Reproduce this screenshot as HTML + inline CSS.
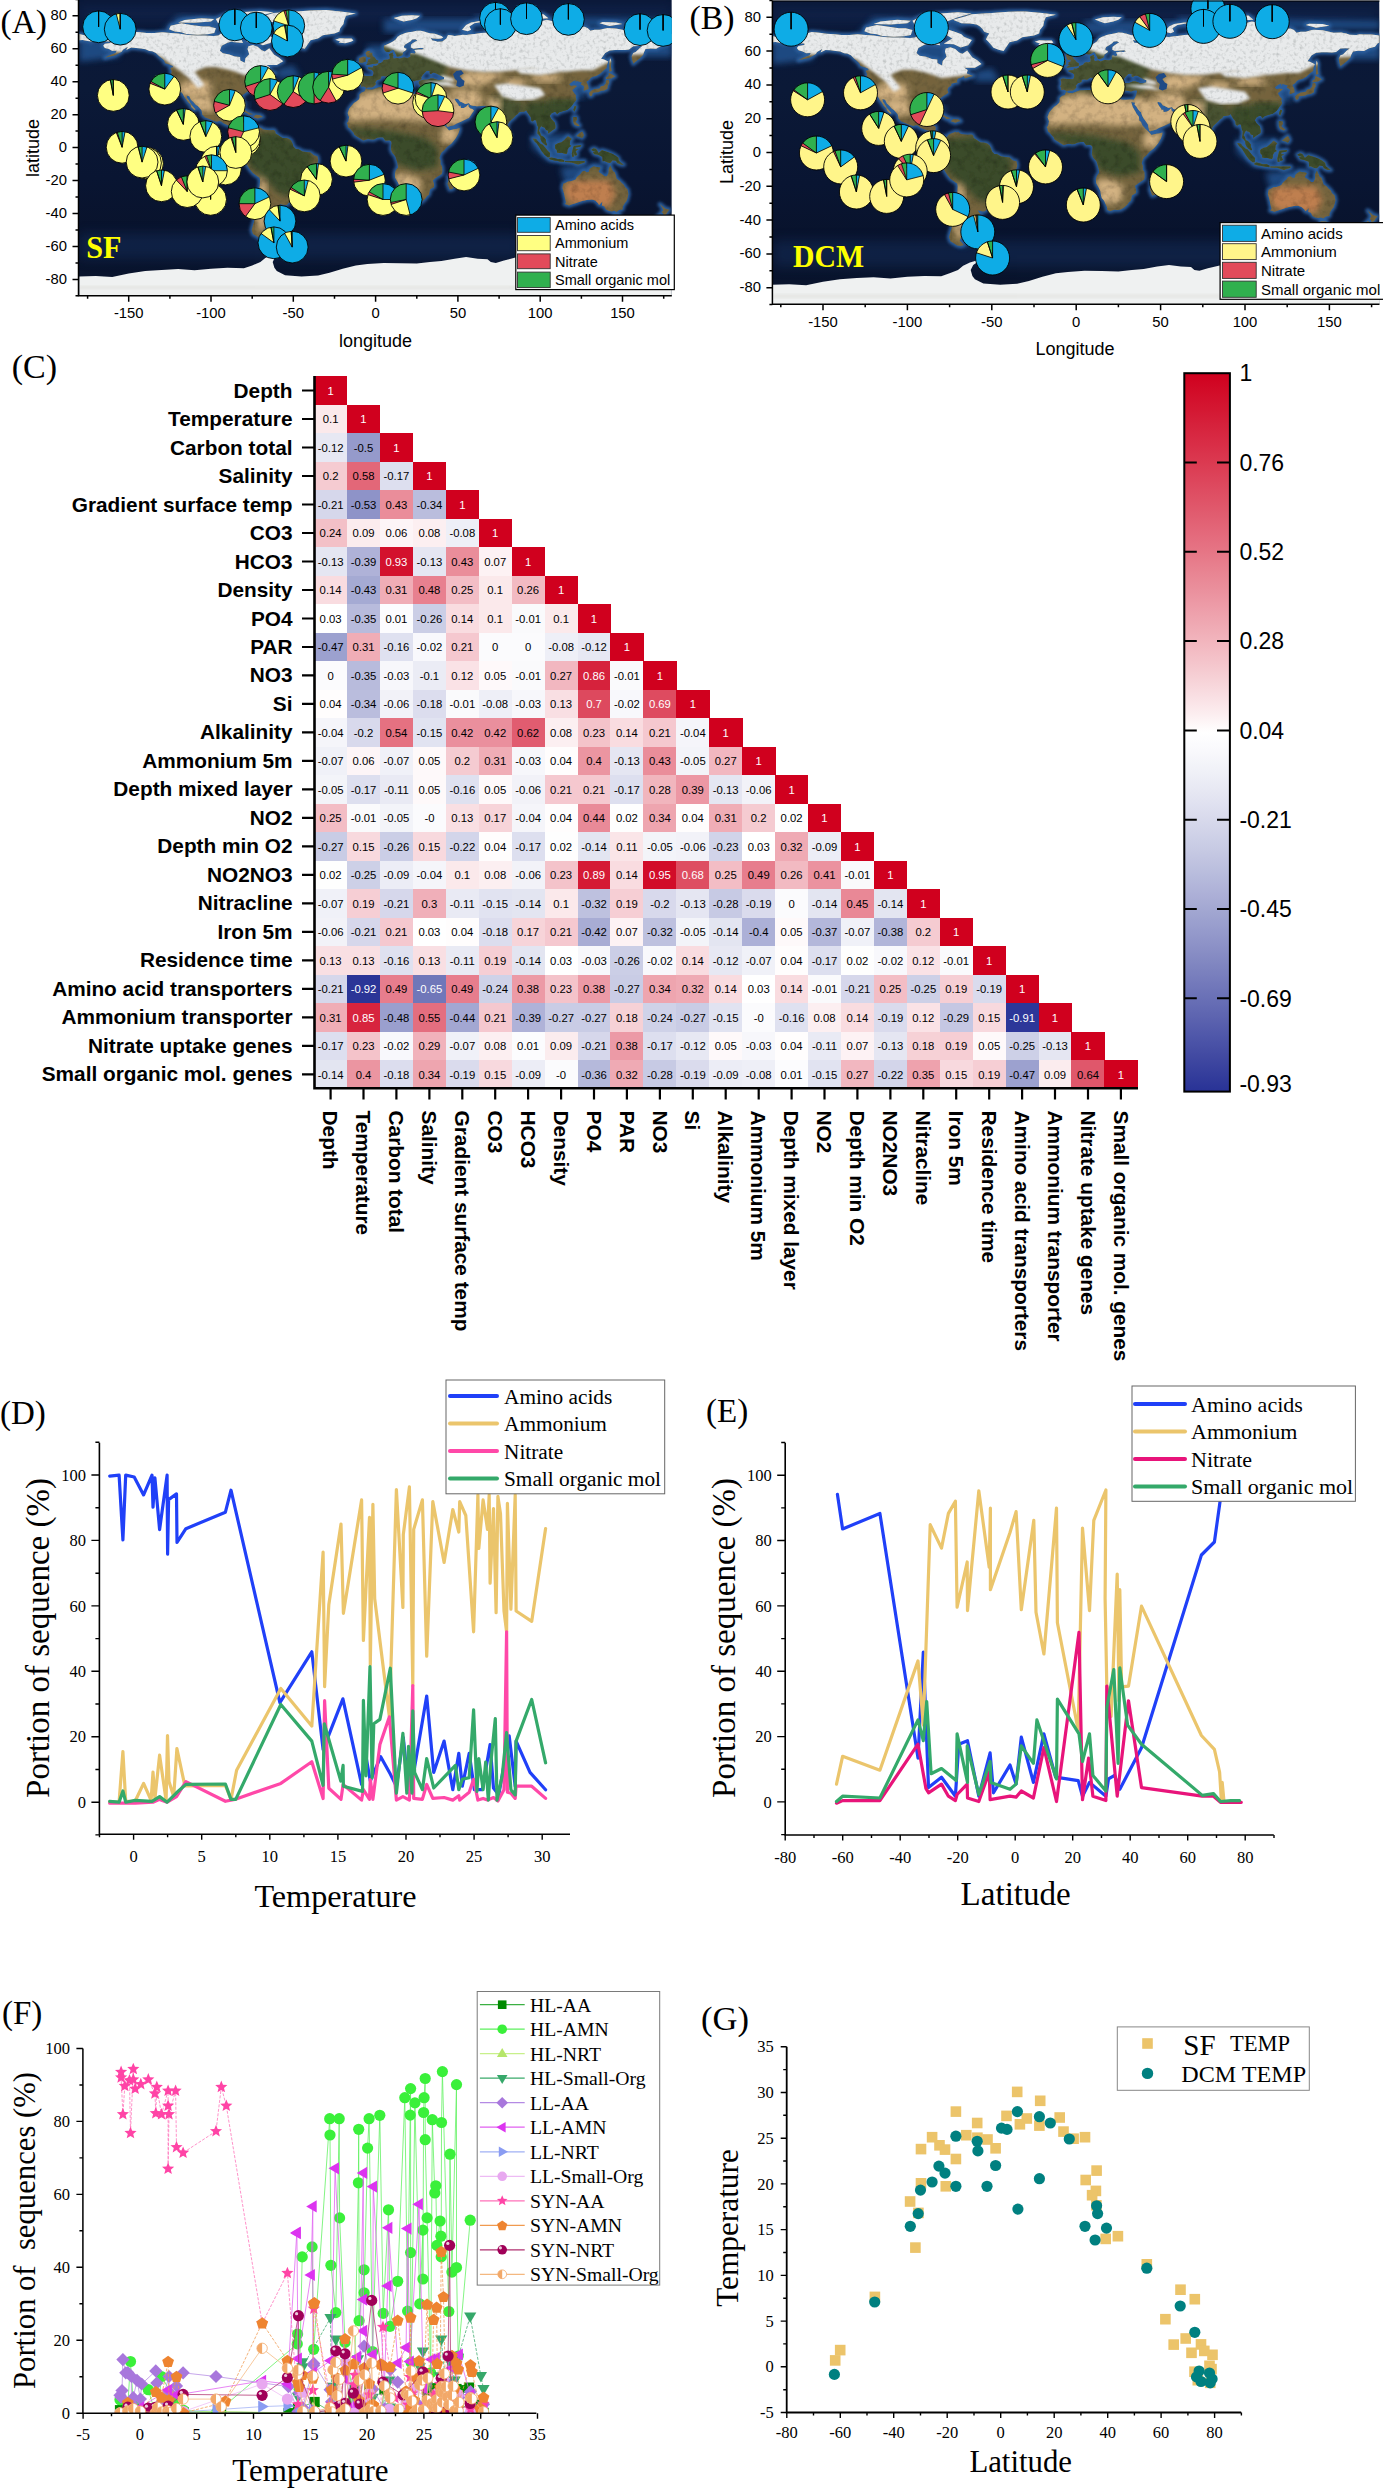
<!DOCTYPE html><html><head><meta charset="utf-8"><style>html,body{margin:0;padding:0;background:#fff;width:1383px;height:2488px;overflow:hidden}svg{display:block}</style></head><body><svg width="1383" height="2488" viewBox="0 0 1383 2488"><defs><filter id="blur2" x="-20%" y="-20%" width="140%" height="140%"><feGaussianBlur stdDeviation="1.5"/></filter><filter id="blur3" x="-20%" y="-20%" width="140%" height="140%"><feGaussianBlur stdDeviation="3"/></filter><filter id="blur6" x="-20%" y="-50%" width="140%" height="200%"><feGaussianBlur stdDeviation="6"/></filter><linearGradient id="oceanA" x1="0" y1="0" x2="0" y2="1"><stop offset="0" stop-color="#0a1838"/><stop offset="0.3" stop-color="#0b1937"/><stop offset="0.6" stop-color="#091532"/><stop offset="0.85" stop-color="#08122a"/><stop offset="1" stop-color="#0a1630"/></linearGradient><linearGradient id="oceanB" x1="0" y1="0" x2="0" y2="1"><stop offset="0" stop-color="#0a1838"/><stop offset="0.3" stop-color="#0b1937"/><stop offset="0.6" stop-color="#091532"/><stop offset="0.85" stop-color="#08122a"/><stop offset="1" stop-color="#0a1630"/></linearGradient><filter id="texA" x="0" y="0" width="100%" height="100%"><feTurbulence type="fractalNoise" baseFrequency="0.14" numOctaves="3" seed="3" result="n"/><feColorMatrix in="n" type="matrix" values="0 0 0 0 0  0 0 0 0 0  0 0 0 0 0  0 0 0 -0.8 0.46" result="na"/><feComposite in="na" in2="SourceGraphic" operator="in" result="nm"/><feBlend in="SourceGraphic" in2="nm" mode="multiply"/></filter><filter id="texB" x="0" y="0" width="100%" height="100%"><feTurbulence type="fractalNoise" baseFrequency="0.14" numOctaves="3" seed="5" result="n"/><feColorMatrix in="n" type="matrix" values="0 0 0 0 0  0 0 0 0 0  0 0 0 0 0  0 0 0 -0.8 0.46" result="na"/><feComposite in="na" in2="SourceGraphic" operator="in" result="nm"/><feBlend in="SourceGraphic" in2="nm" mode="multiply"/></filter><filter id="stexA" x="0" y="0" width="100%" height="100%"><feTurbulence type="fractalNoise" baseFrequency="0.3" numOctaves="2" seed="9" result="n"/><feColorMatrix in="n" type="matrix" values="0 0 0 0 0.25  0 0 0 0 0.28  0 0 0 0 0.28  0 0 0 -1.2 0.62" result="na"/><feComposite in="na" in2="SourceGraphic" operator="in" result="nm"/><feMerge><feMergeNode in="SourceGraphic"/><feMergeNode in="nm"/></feMerge></filter><filter id="stexB" x="0" y="0" width="100%" height="100%"><feTurbulence type="fractalNoise" baseFrequency="0.3" numOctaves="2" seed="9" result="n"/><feColorMatrix in="n" type="matrix" values="0 0 0 0 0.25  0 0 0 0 0.28  0 0 0 0 0.28  0 0 0 -1.2 0.62" result="na"/><feComposite in="na" in2="SourceGraphic" operator="in" result="nm"/><feMerge><feMergeNode in="SourceGraphic"/><feMergeNode in="nm"/></feMerge></filter></defs><clipPath id="mcA"><rect x="78.5" y="0" width="593.3" height="295.8"/></clipPath><clipPath id="lcA"><path d="M98.9,39.6L102.2,38.6L108.9,37.9L106.1,36.3L102.0,35.1L107.0,33.3L112.2,31.5L117.8,30.2L125.4,31.0L132.0,31.8L140.2,32.3L146.8,33.1L154.2,33.0L162.4,32.3L170.7,33.0L178.1,33.5L188.0,34.9L196.2,35.4L204.4,35.6L213.5,35.9L218.4,35.4L221.7,33.1L226.6,34.0L230.8,35.1L234.9,33.1L241.5,33.6L241.5,36.9L236.5,38.1L233.2,40.9L227.5,42.7L221.7,45.8L219.9,50.8L222.9,53.2L229.3,54.4L234.9,56.5L240.1,56.9L240.3,60.5L244.7,62.8L245.4,58.3L249.2,54.2L247.5,49.1L248.4,46.3L253.0,45.0L257.7,46.8L261.4,50.1L264.8,51.4L269.3,48.3L274.2,54.7L279.1,57.7L283.3,61.3L276.8,64.9L266.5,65.1L269.8,67.2L268.9,70.5L275.2,73.0L271.1,74.1L267.0,75.5L266.1,73.2L264.5,74.3L260.1,75.8L259.2,78.4L260.4,79.1L254.5,80.2L253.8,80.9L253.8,82.5L251.3,83.7L250.5,85.2L250.0,86.7L251.0,89.1L249.7,90.3L247.2,91.8L245.1,93.2L242.3,95.2L241.8,98.2L243.1,101.0L243.9,103.6L243.3,106.1L241.9,105.9L241.0,103.8L239.5,101.5L239.5,99.5L237.3,98.2L234.9,98.7L233.1,97.5L229.9,97.5L228.3,97.9L228.8,99.5L225.8,99.3L222.5,98.5L220.1,99.0L216.8,101.2L215.3,102.6L215.6,104.9L214.8,108.1L214.6,110.9L215.6,113.8L217.1,116.0L219.2,117.1L220.9,117.6L224.2,117.0L225.8,116.3L226.6,113.8L227.0,113.0L230.8,112.2L232.4,112.4L231.6,115.0L231.1,117.5L230.3,120.6L234.0,121.4L237.3,121.6L238.7,123.1L238.2,127.5L237.7,129.5L239.3,131.5L241.6,133.1L243.9,132.3L246.4,132.1L248.4,133.6L247.5,135.4L246.6,134.1L243.8,135.4L241.5,134.9L239.1,134.1L236.5,131.8L234.5,131.3L234.2,129.2L231.9,126.4L229.9,125.9L226.6,124.7L223.8,123.6L221.2,121.4L219.2,121.1L216.8,121.7L213.5,120.8L209.4,119.1L205.2,117.5L202.3,114.7L201.9,112.0L201.5,110.2L197.8,106.1L195.7,104.8L193.6,102.3L190.9,99.8L189.3,96.2L186.6,95.4L187.0,97.9L188.8,100.3L190.9,104.0L194.0,107.7L195.5,109.4L194.4,109.9L191.1,106.9L190.6,104.6L187.6,101.8L186.1,99.2L184.2,96.7L182.9,94.1L180.7,91.6L177.1,90.6L175.1,87.5L174.0,85.7L172.0,83.4L171.0,81.1L171.3,78.4L170.7,76.8L171.7,71.3L170.3,67.9L173.1,67.1L172.8,65.9L169.4,64.6L165.2,63.3L164.1,60.6L161.3,58.0L159.2,56.2L155.9,52.9L152.2,51.3L149.3,50.9L145.5,49.3L141.0,48.6L136.1,48.0L131.2,47.6L126.2,50.1L127.9,46.8L122.9,49.8L121.8,51.7L118.0,53.7L114.7,55.4L109.8,56.5L104.8,57.7L108.9,55.5L115.5,52.9L116.7,50.8L112.2,50.9L108.9,49.1L104.8,48.0L103.2,45.8L104.8,43.8L110.6,42.9L110.6,41.4L104.0,41.2L101.0,40.1ZM248.4,133.6L250.0,132.0L251.3,130.1L253.5,129.2L256.3,128.0L258.2,127.3L257.7,129.5L257.3,128.7L260.5,127.5L263.2,129.6L267.0,130.1L269.9,130.3L273.5,130.0L275.2,131.1L275.5,133.6L277.7,134.8L280.1,136.4L282.6,137.9L286.7,138.0L289.2,139.0L291.2,140.7L292.8,144.3L293.3,146.4L295.8,148.9L298.2,148.9L302.4,151.4L306.5,152.0L310.6,152.5L313.9,155.3L317.3,156.2L318.2,160.0L317.5,162.9L314.4,166.5L312.2,169.3L311.4,173.1L310.7,176.9L309.8,180.4L308.1,183.5L306.5,185.3L302.4,185.8L299.1,187.1L296.3,189.6L295.6,194.0L293.5,196.8L291.5,199.5L289.0,202.4L286.7,204.9L284.2,205.1L281.8,204.4L279.5,204.1L281.4,206.6L282.1,208.4L280.5,210.7L277.7,211.5L273.2,211.5L273.1,214.6L268.6,215.1L268.1,218.4L267.8,221.7L264.5,223.9L267.3,226.3L264.0,229.6L262.8,231.6L262.0,233.6L263.0,234.2L266.1,237.7L263.2,238.7L259.6,238.2L256.3,236.0L253.0,234.1L251.7,229.9L253.0,225.0L254.1,221.7L254.6,217.6L254.3,212.7L254.9,208.5L257.1,202.8L257.7,197.8L258.2,192.9L259.7,186.3L260.1,180.5L259.6,177.7L256.3,175.6L253.0,173.1L250.2,169.8L247.5,165.7L244.7,160.3L241.9,157.5L241.9,154.7L243.9,152.0L242.4,149.4L243.9,146.8L245.6,145.1L247.4,143.0L248.2,141.0L248.4,137.7L247.5,135.4ZM365.9,88.6L368.2,89.6L372.0,89.8L375.6,88.5L378.9,87.3L383.8,87.0L389.8,86.8L392.4,86.3L393.9,87.0L392.9,88.3L393.7,89.6L392.4,91.3L394.2,93.1L396.2,93.6L400.6,94.4L402.9,96.2L406.7,97.5L408.5,96.7L408.7,94.6L411.0,93.6L414.3,94.1L417.1,95.6L420.9,96.2L424.5,96.2L428.6,96.0L431.9,96.2L433.0,99.0L429.3,98.4L430.7,103.1L433.2,107.7L434.2,109.6L436.8,113.0L437.0,116.3L438.8,118.0L440.3,121.4L443.4,124.7L445.7,126.8L446.9,128.0L449.0,130.5L453.8,129.3L456.3,129.0L459.7,128.0L459.5,130.3L458.2,133.9L455.6,138.5L453.8,140.7L451.3,143.8L447.2,146.8L443.9,150.6L441.6,152.5L440.1,155.3L439.5,158.3L440.6,160.8L440.5,164.1L442.1,166.5L442.4,171.0L441.8,174.0L437.3,176.8L434.7,178.7L432.9,180.4L434.0,183.8L434.0,187.1L429.9,189.4L429.8,190.8L428.9,194.7L427.1,196.0L425.1,198.8L422.0,201.5L419.1,203.1L416.3,203.6L412.8,203.4L408.5,204.9L405.9,203.8L405.6,200.8L404.1,197.5L402.8,194.7L400.6,192.2L399.8,189.4L399.3,185.3L397.7,182.0L395.0,177.4L394.9,173.6L395.8,170.3L398.0,167.4L397.5,163.2L395.8,157.6L395.2,156.0L392.1,152.4L390.9,149.2L391.2,146.0L391.7,143.0L391.2,141.3L389.6,140.2L387.1,140.4L385.3,140.5L383.0,137.2L380.0,137.2L377.2,137.7L374.0,139.4L371.8,139.5L367.9,139.0L363.3,140.4L360.3,138.5L356.8,136.4L354.4,134.8L353.7,132.8L351.2,130.0L349.9,128.5L348.1,127.2L347.5,123.9L346.8,123.4L348.4,120.9L349.1,117.1L348.4,115.5L347.6,113.0L349.3,108.6L351.2,106.3L353.9,103.1L356.7,101.3L359.1,99.2L359.6,97.4L359.5,94.4L361.6,92.6L364.4,91.4ZM366.4,88.1L365.1,87.0L363.4,86.3L361.0,86.7L361.1,83.9L360.0,83.7L361.0,81.4L361.1,78.6L360.3,76.8L362.4,75.6L366.5,76.0L372.6,76.1L373.6,74.0L373.6,71.7L372.0,70.0L368.2,68.7L368.0,67.6L373.0,67.4L373.3,65.7L375.8,66.1L378.1,64.9L378.4,63.6L380.9,62.9L382.7,61.8L383.5,60.3L385.3,59.7L387.5,59.8L389.8,58.8L389.8,56.4L389.1,54.2L391.7,52.9L393.0,52.6L392.6,54.5L393.5,54.9L392.9,57.0L393.7,58.7L397.0,58.0L399.5,58.8L403.6,57.5L407.7,58.0L410.5,56.7L410.3,54.1L411.2,52.9L414.3,53.7L415.6,52.9L415.3,51.6L414.3,50.1L418.4,49.4L421.7,49.6L424.2,48.9L422.5,48.0L419.2,48.1L413.3,48.8L410.8,47.5L411.0,44.7L412.6,43.3L415.9,41.2L417.4,40.4L415.4,39.2L412.1,39.4L410.7,41.2L407.7,43.0L404.9,44.7L403.9,46.6L404.4,48.0L406.5,48.8L406.1,50.1L403.1,52.2L402.6,54.4L401.8,55.2L399.3,56.2L396.8,56.4L396.3,54.9L395.2,52.7L394.0,50.3L392.7,49.8L391.1,50.6L388.9,51.9L386.5,51.9L384.8,50.6L384.0,48.8L383.8,47.1L384.2,45.5L386.3,44.7L389.6,43.2L392.9,41.4L395.7,39.4L397.8,36.4L400.3,35.1L402.8,34.0L405.2,33.0L408.5,32.3L412.6,31.7L416.8,30.7L420.9,30.8L425.0,31.8L427.0,32.6L429.9,33.3L434.9,33.8L441.4,35.9L443.3,37.6L441.4,38.6L438.1,38.7L433.2,38.6L430.7,37.9L432.4,40.5L435.7,40.9L437.3,41.7L442.3,41.4L446.4,38.4L448.0,34.9L451.3,35.3L454.6,36.1L462.8,34.8L466.1,34.9L471.1,34.3L474.4,34.0L480.9,33.1L485.9,32.8L488.4,35.1L485.9,31.5L488.8,28.0L495.4,27.7L494.8,30.3L494.9,33.1L497.4,35.6L499.1,32.3L497.1,29.8L499.9,28.5L505.6,28.5L508.9,26.5L518.0,24.9L518.8,23.7L527.0,22.8L538.6,22.1L546.8,19.8L551.7,20.9L560.0,22.1L562.4,26.4L568.2,26.4L578.1,27.4L584.6,26.7L587.9,28.2L590.4,30.8L594.5,29.8L599.5,29.8L605.2,28.4L607.7,28.0L615.9,28.5L622.5,29.8L626.6,31.0L634.0,30.7L639.0,31.5L642.3,32.8L648.8,33.0L652.1,32.3L656.2,32.6L663.7,32.5L669.7,33.3L671.9,34.1L671.9,40.2L669.4,41.4L666.9,44.5L661.2,46.0L656.2,48.8L650.5,48.5L645.5,49.1L643.9,52.4L643.1,55.0L639.8,58.3L636.5,61.1L633.4,63.6L632.2,60.3L631.6,56.2L633.2,52.9L635.7,52.1L639.8,48.0L642.3,46.1L638.1,46.0L633.2,46.3L629.1,49.6L625.0,50.1L620.0,49.9L615.1,49.9L609.7,50.4L605.2,52.9L601.1,58.7L603.6,59.2L608.3,61.6L606.9,65.2L606.7,68.0L603.6,70.4L600.3,73.6L596.2,76.0L592.7,76.8L590.7,77.9L589.1,80.1L586.3,81.7L588.3,85.8L588.6,89.1L584.6,90.6L583.7,90.8L583.8,88.5L584.3,86.7L583.0,85.5L580.9,84.5L581.8,82.4L580.2,81.9L576.7,80.9L575.3,82.7L575.8,80.2L573.1,81.2L570.7,83.0L569.2,84.2L571.1,86.0L574.3,85.3L577.2,86.0L574.8,88.0L572.3,90.0L573.9,92.8L576.2,95.4L575.6,97.2L576.4,99.3L575.6,101.0L573.9,102.8L572.3,105.1L570.7,107.1L567.4,109.7L563.2,110.9L559.1,112.2L557.0,114.2L556.3,112.2L554.2,111.9L551.2,113.5L549.7,116.1L551.4,119.1L554.7,122.4L555.5,126.2L555.3,128.5L552.5,130.3L550.9,131.6L548.1,133.4L548.1,130.8L546.0,130.1L544.5,127.5L541.7,126.7L541.7,125.5L540.2,127.5L538.9,130.8L540.0,132.4L541.0,135.6L543.0,136.4L544.3,137.7L545.8,139.7L545.8,141.8L547.1,145.1L546.0,145.5L543.5,143.6L541.8,141.8L540.7,139.4L540.5,136.9L538.6,134.6L537.4,133.6L537.7,130.3L538.1,127.0L537.2,125.4L536.2,120.4L534.4,120.1L532.6,121.6L531.1,120.4L530.8,117.1L529.5,115.5L527.9,113.0L527.0,111.7L526.2,110.2L524.6,111.4L522.1,111.7L518.8,112.2L518.0,113.8L515.5,115.5L513.9,117.5L510.9,120.1L508.9,122.1L507.6,124.9L507.4,127.8L507.0,130.6L504.8,132.9L503.2,134.3L501.7,132.9L500.7,130.3L499.9,128.0L498.4,123.7L496.6,121.2L495.4,116.3L495.1,112.2L491.6,113.3L489.2,110.9L491.1,110.0L488.4,108.9L486.7,108.1L485.4,105.8L481.8,106.1L476.8,106.3L473.5,105.8L470.2,105.1L469.1,103.1L467.0,103.6L465.3,104.0L462.0,102.3L460.0,101.5L458.2,99.0L455.6,98.4L454.6,99.0L455.4,100.7L457.1,103.1L458.2,104.4L459.1,106.4L460.4,105.6L460.9,108.1L463.7,107.9L466.1,106.8L468.3,104.4L468.4,106.6L470.2,108.4L472.4,109.1L474.0,110.5L471.9,113.5L470.7,115.5L468.9,118.0L466.6,119.1L461.5,121.6L456.3,123.7L453.8,125.2L450.5,126.0L448.0,126.8L446.9,126.5L446.0,123.2L445.6,120.4L443.4,117.1L441.1,113.8L439.8,111.4L439.0,108.4L437.3,107.2L435.8,105.1L434.0,102.3L432.6,101.2L433.0,99.0L431.9,96.2L433.0,94.1L434.0,91.8L434.7,89.3L435.0,87.3L432.6,87.0L429.1,88.1L425.8,87.5L422.0,87.2L420.5,85.8L419.1,84.0L418.7,82.5L419.5,81.1L423.5,79.7L427.4,79.7L430.7,78.4L433.5,78.4L438.6,80.2L443.9,79.2L444.1,77.3L441.3,76.1L438.5,74.5L436.0,73.2L433.2,72.5L430.7,74.1L429.3,72.8L430.9,71.8L427.8,70.8L426.3,71.0L424.3,73.0L422.8,74.8L421.0,77.6L421.7,79.1L418.9,80.2L415.9,80.2L414.6,81.2L413.0,81.1L412.8,83.4L414.0,85.0L413.1,86.2L411.2,87.0L410.3,84.7L408.8,82.4L407.5,81.2L407.7,78.9L405.9,77.6L401.9,76.0L400.6,74.6L399.0,73.2L398.0,73.3L395.8,73.0L396.0,74.8L398.0,75.8L399.5,78.1L401.9,79.4L404.4,80.4L406.1,81.4L403.9,82.7L403.7,83.5L402.9,84.4L401.4,85.0L401.8,82.5L400.1,81.4L398.6,80.4L395.7,78.9L394.0,77.8L392.9,76.8L391.6,75.0L389.6,74.6L387.9,75.5L386.3,76.6L383.2,76.1L380.7,76.6L380.9,78.6L379.1,79.6L376.9,80.1L375.1,82.5L375.9,83.9L374.4,85.7L372.1,87.2L368.4,87.2ZM79.3,34.1L84.3,35.3L89.2,37.3L93.3,37.4L96.1,38.7L94.1,39.9L91.7,41.4L87.6,40.9L82.6,40.1L79.3,40.2ZM255.4,18.3L267.0,15.0L273.5,12.9L293.3,11.7L309.8,10.4L326.2,10.1L342.7,11.7L355.8,13.4L346.0,15.8L344.3,20.0L343.5,24.1L340.2,28.2L339.4,31.5L334.5,33.5L322.9,35.3L318.0,38.4L310.6,40.2L308.1,43.8L304.8,48.8L299.9,47.5L294.9,45.5L292.5,42.5L290.0,39.7L287.5,37.3L289.2,34.0L290.8,31.5L285.9,29.8L284.2,27.4L281.8,24.9L278.5,22.8L271.9,21.9L263.7,21.6L259.6,20.0ZM273.9,37.9L270.3,43.0L262.8,45.2L256.3,42.2L246.4,41.7L254.6,36.4L248.0,32.3L235.7,32.3L227.5,29.0L234.9,26.5L243.9,26.2L250.5,27.7L257.1,29.8L263.7,32.3L266.1,34.8ZM243.9,24.9L224.2,24.9L217.6,22.4L215.9,19.1L224.2,15.0L235.7,12.5L260.4,10.9L273.5,12.2L260.4,15.8L253.8,18.3L247.2,20.8L243.9,22.1ZM169.0,29.3L170.7,25.7L181.4,23.3L191.2,24.9L202.8,26.5L209.4,26.5L215.9,28.2L214.3,33.1L207.7,34.3L197.8,34.8L186.3,34.0L181.4,32.3L174.8,31.5ZM178.1,22.4L184.7,20.0L201.1,18.3L214.3,19.1L211.0,21.6L194.5,22.8ZM232.4,41.9L243.1,43.0L241.5,39.7L234.0,38.6ZM335.3,39.7L339.4,38.2L346.0,38.6L351.7,38.4L353.4,40.4L350.9,41.7L345.1,43.2L338.6,42.5L340.2,41.4ZM393.7,18.0L401.9,15.8L411.8,15.3L420.0,15.8L416.8,18.3L411.8,20.0L403.6,21.6L398.6,20.0ZM462.0,29.8L467.8,31.3L471.1,29.8L469.4,26.5L474.4,23.3L487.5,21.1L480.9,20.8L471.1,22.4L466.1,24.9ZM532.0,17.5L540.2,18.8L548.4,18.3L543.5,14.2L533.6,15.0ZM599.5,23.3L609.3,26.1L622.5,24.1L615.9,22.4L602.7,22.1ZM366.2,65.1L370.7,64.3L377.9,63.3L378.4,60.8L376.1,59.7L374.8,57.8L372.6,56.0L372.1,53.4L372.6,52.7L369.0,52.7L370.7,51.1L367.4,51.1L365.4,52.9L366.4,54.9L366.5,56.2L367.7,57.3L370.3,57.2L370.2,58.8L367.9,59.8L368.5,61.1L367.0,62.3L370.2,62.9L367.4,63.6ZM365.7,61.6L365.6,58.8L365.9,57.0L363.3,56.5L359.1,58.3L358.8,62.6L362.4,62.8ZM589.9,96.2L592.0,95.7L592.9,92.8L595.3,92.6L598.3,92.3L600.8,91.1L604.4,90.4L607.4,88.8L607.7,85.8L609.3,82.5L608.5,79.6L606.0,80.4L605.7,83.4L603.6,85.8L600.8,86.2L599.5,88.5L594.5,89.1L591.2,90.8L588.9,92.9ZM606.0,79.2L608.0,78.8L611.5,78.4L615.1,76.3L612.6,74.8L608.8,72.8L608.5,76.0L606.0,77.6ZM609.3,71.8L611.8,71.0L611.0,66.9L611.3,61.1L610.2,58.2L609.3,62.0L609.3,66.9ZM573.3,109.7L574.8,105.9L576.4,106.4L575.6,108.9L574.4,111.5ZM573.1,117.1L576.7,117.1L577.2,119.6L575.6,122.1L579.7,125.4L578.1,126.2L574.8,124.9L573.9,123.7L573.1,121.2ZM576.4,136.1L579.7,133.1L582.2,131.5L584.0,135.2L582.2,138.0L579.7,136.9ZM555.0,145.1L556.2,144.3L558.6,143.0L561.6,142.3L564.4,139.9L565.7,138.5L567.9,136.2L569.3,136.9L571.8,138.9L570.2,140.4L569.7,144.6L571.3,146.1L568.8,147.4L567.4,149.7L567.4,152.0L566.5,153.9L564.1,153.5L561.6,152.7L559.3,152.9L557.0,152.4L556.8,150.1L555.2,148.4ZM532.5,138.4L536.1,139.0L537.7,141.2L541.0,144.3L542.7,144.8L546.3,148.9L547.6,150.7L550.1,152.9L549.7,157.2L547.6,157.2L544.3,154.5L541.8,151.2L540.5,148.9L538.6,146.0L536.9,143.5L534.4,141.3ZM548.8,158.8L550.9,157.5L553.9,158.0L557.5,159.0L561.1,159.0L564.1,160.3L564.1,161.9L560.0,161.4L555.0,160.4L550.9,159.8ZM564.9,161.1L571.5,161.1L578.1,161.1L584.6,161.1L584.6,162.4L578.1,164.6L571.5,162.4L564.9,162.1ZM572.1,156.7L571.8,153.4L573.1,147.6L573.9,146.0L581.4,145.1L580.5,146.8L575.6,147.6L575.6,149.2L578.6,149.2L575.6,150.9L577.2,155.0L574.8,155.8L573.6,152.2L573.9,156.7ZM591.2,149.7L593.7,148.3L596.2,149.1L598.6,153.0L601.9,150.2L607.7,151.9L612.6,154.0L615.6,155.7L618.4,157.8L618.7,160.8L621.7,163.2L623.8,164.7L620.9,164.6L617.6,163.2L615.9,160.8L612.6,160.3L611.5,161.6L610.2,162.9L607.7,162.6L604.4,160.9L602.7,161.3L602.4,156.7L597.8,154.8L594.5,154.2L592.9,152.2L595.7,151.6L593.4,151.2ZM563.2,183.8L562.4,188.0L564.1,193.7L564.9,197.8L566.0,202.4L564.9,204.1L569.0,205.4L572.3,204.3L575.6,203.3L579.7,201.8L583.0,200.8L587.9,199.8L592.0,199.5L595.3,200.6L597.8,202.9L599.1,204.9L601.1,203.1L602.4,201.6L601.9,205.6L604.4,206.4L606.0,209.4L608.5,210.8L611.8,211.5L614.3,210.8L616.4,212.0L619.2,209.9L622.5,209.4L622.8,206.6L624.6,203.4L626.6,201.0L627.6,197.8L628.4,194.2L627.6,189.6L625.0,187.1L623.8,184.7L621.3,182.5L620.0,180.9L616.7,178.7L615.9,175.6L614.8,172.3L613.0,171.2L611.8,168.7L610.3,165.4L608.7,168.7L608.5,173.1L606.9,176.3L604.7,176.3L601.9,174.0L599.1,172.3L598.6,171.2L600.6,167.9L599.1,167.2L595.3,166.7L593.7,166.2L591.2,167.7L589.6,169.0L588.6,172.1L586.6,172.3L584.6,170.7L582.2,171.5L580.5,174.0L578.6,175.6L576.7,177.2L575.6,179.4L573.1,180.5L570.7,181.2L567.9,181.5L565.7,182.7ZM613.8,214.6L619.7,215.0L619.2,218.8L615.9,219.4L614.3,216.8ZM659.9,204.3L662.8,206.6L665.0,208.5L669.4,209.7L667.8,211.8L666.1,214.3L663.7,216.0L663.0,213.2L661.7,212.2L663.3,210.2L662.3,207.7ZM659.9,214.3L662.5,216.1L660.7,218.9L657.6,220.9L656.2,223.2L653.8,224.4L649.7,223.4L650.5,221.7L653.0,220.1L656.2,218.1L658.7,215.6ZM456.7,167.4L458.7,173.1L457.1,176.4L454.6,183.8L453.0,188.8L449.7,189.6L447.5,183.8L448.5,180.5L448.0,176.4L451.3,173.6L454.6,169.8ZM507.0,134.1L507.6,131.5L509.4,133.6L510.2,135.7L508.3,137.9L507.1,136.4ZM235.7,111.5L239.0,109.9L241.5,109.4L245.6,110.5L248.0,112.2L251.3,113.5L253.5,114.3L248.9,114.8L247.7,113.5L244.7,112.0L241.5,111.0L238.2,111.0ZM253.1,117.1L255.8,114.8L260.4,115.2L263.0,117.0L260.4,117.6L257.9,118.6Z"/></clipPath><g clip-path="url(#mcA)"><rect x="78.5" y="0" width="593.3" height="295.8" fill="url(#oceanA)"/><rect x="78.5" y="233.2" width="593.3" height="26.4" fill="#1d3d74" opacity="0.35" filter="url(#blur6)"/><rect x="78.5" y="5.4" width="593.3" height="16.5" fill="#1a3468" opacity="0.3" filter="url(#blur6)"/><path d="M219.2,38.9L252.2,38.9L250.5,62.0L219.2,62.0Z" fill="#24528f" opacity="0.85" filter="url(#blur3)"/><path d="M532.0,134.4L573.1,134.4L569.8,160.8L548.4,160.8L532.0,147.6Z" fill="#24528f" opacity="0.85" filter="url(#blur3)"/><path d="M260.4,208.5L285.1,208.5L280.1,233.2L263.7,239.8L260.4,229.9Z" fill="#24528f" opacity="0.85" filter="url(#blur3)"/><path d="M474.4,27.4L671.9,27.4L671.9,19.1L474.4,15.8Z" fill="#24528f" opacity="0.85" filter="url(#blur3)"/><path d="M367.4,65.2L392.1,65.2L392.1,45.5L367.4,45.5Z" fill="#24528f" opacity="0.85" filter="url(#blur3)"/><path d="M79.3,62.0L120.5,57.0L104.0,38.9L79.3,38.9Z" fill="#24528f" opacity="0.85" filter="url(#blur3)"/><path d="M630.7,57.0L671.9,57.0L671.9,38.9L647.2,38.9Z" fill="#24528f" opacity="0.85" filter="url(#blur3)"/><path d="M560.0,167.4L606.0,162.4L609.3,167.4L581.4,175.6L564.9,183.8Z" fill="#24528f" opacity="0.85" filter="url(#blur3)"/><path d="M569.8,98.2L584.6,98.2L584.6,80.1L569.8,80.1Z" fill="#24528f" opacity="0.85" filter="url(#blur3)"/><path d="M243.9,113.0L250.5,103.1L243.9,103.1Z" fill="#24528f" opacity="0.85" filter="url(#blur3)"/><path d="M276.8,78.4L301.5,78.4L293.3,65.2L276.8,68.5Z" fill="#24528f" opacity="0.85" filter="url(#blur3)"/><path d="M161.6,32.3L252.2,32.3L276.8,19.1L178.1,15.8Z" fill="#24528f" opacity="0.85" filter="url(#blur3)"/><path d="M383.8,32.3L474.4,32.3L474.4,19.1L383.8,19.1Z" fill="#24528f" opacity="0.85" filter="url(#blur3)"/><path d="M98.9,39.6L102.2,38.6L108.9,37.9L106.1,36.3L102.0,35.1L107.0,33.3L112.2,31.5L117.8,30.2L125.4,31.0L132.0,31.8L140.2,32.3L146.8,33.1L154.2,33.0L162.4,32.3L170.7,33.0L178.1,33.5L188.0,34.9L196.2,35.4L204.4,35.6L213.5,35.9L218.4,35.4L221.7,33.1L226.6,34.0L230.8,35.1L234.9,33.1L241.5,33.6L241.5,36.9L236.5,38.1L233.2,40.9L227.5,42.7L221.7,45.8L219.9,50.8L222.9,53.2L229.3,54.4L234.9,56.5L240.1,56.9L240.3,60.5L244.7,62.8L245.4,58.3L249.2,54.2L247.5,49.1L248.4,46.3L253.0,45.0L257.7,46.8L261.4,50.1L264.8,51.4L269.3,48.3L274.2,54.7L279.1,57.7L283.3,61.3L276.8,64.9L266.5,65.1L269.8,67.2L268.9,70.5L275.2,73.0L271.1,74.1L267.0,75.5L266.1,73.2L264.5,74.3L260.1,75.8L259.2,78.4L260.4,79.1L254.5,80.2L253.8,80.9L253.8,82.5L251.3,83.7L250.5,85.2L250.0,86.7L251.0,89.1L249.7,90.3L247.2,91.8L245.1,93.2L242.3,95.2L241.8,98.2L243.1,101.0L243.9,103.6L243.3,106.1L241.9,105.9L241.0,103.8L239.5,101.5L239.5,99.5L237.3,98.2L234.9,98.7L233.1,97.5L229.9,97.5L228.3,97.9L228.8,99.5L225.8,99.3L222.5,98.5L220.1,99.0L216.8,101.2L215.3,102.6L215.6,104.9L214.8,108.1L214.6,110.9L215.6,113.8L217.1,116.0L219.2,117.1L220.9,117.6L224.2,117.0L225.8,116.3L226.6,113.8L227.0,113.0L230.8,112.2L232.4,112.4L231.6,115.0L231.1,117.5L230.3,120.6L234.0,121.4L237.3,121.6L238.7,123.1L238.2,127.5L237.7,129.5L239.3,131.5L241.6,133.1L243.9,132.3L246.4,132.1L248.4,133.6L247.5,135.4L246.6,134.1L243.8,135.4L241.5,134.9L239.1,134.1L236.5,131.8L234.5,131.3L234.2,129.2L231.9,126.4L229.9,125.9L226.6,124.7L223.8,123.6L221.2,121.4L219.2,121.1L216.8,121.7L213.5,120.8L209.4,119.1L205.2,117.5L202.3,114.7L201.9,112.0L201.5,110.2L197.8,106.1L195.7,104.8L193.6,102.3L190.9,99.8L189.3,96.2L186.6,95.4L187.0,97.9L188.8,100.3L190.9,104.0L194.0,107.7L195.5,109.4L194.4,109.9L191.1,106.9L190.6,104.6L187.6,101.8L186.1,99.2L184.2,96.7L182.9,94.1L180.7,91.6L177.1,90.6L175.1,87.5L174.0,85.7L172.0,83.4L171.0,81.1L171.3,78.4L170.7,76.8L171.7,71.3L170.3,67.9L173.1,67.1L172.8,65.9L169.4,64.6L165.2,63.3L164.1,60.6L161.3,58.0L159.2,56.2L155.9,52.9L152.2,51.3L149.3,50.9L145.5,49.3L141.0,48.6L136.1,48.0L131.2,47.6L126.2,50.1L127.9,46.8L122.9,49.8L121.8,51.7L118.0,53.7L114.7,55.4L109.8,56.5L104.8,57.7L108.9,55.5L115.5,52.9L116.7,50.8L112.2,50.9L108.9,49.1L104.8,48.0L103.2,45.8L104.8,43.8L110.6,42.9L110.6,41.4L104.0,41.2L101.0,40.1ZM248.4,133.6L250.0,132.0L251.3,130.1L253.5,129.2L256.3,128.0L258.2,127.3L257.7,129.5L257.3,128.7L260.5,127.5L263.2,129.6L267.0,130.1L269.9,130.3L273.5,130.0L275.2,131.1L275.5,133.6L277.7,134.8L280.1,136.4L282.6,137.9L286.7,138.0L289.2,139.0L291.2,140.7L292.8,144.3L293.3,146.4L295.8,148.9L298.2,148.9L302.4,151.4L306.5,152.0L310.6,152.5L313.9,155.3L317.3,156.2L318.2,160.0L317.5,162.9L314.4,166.5L312.2,169.3L311.4,173.1L310.7,176.9L309.8,180.4L308.1,183.5L306.5,185.3L302.4,185.8L299.1,187.1L296.3,189.6L295.6,194.0L293.5,196.8L291.5,199.5L289.0,202.4L286.7,204.9L284.2,205.1L281.8,204.4L279.5,204.1L281.4,206.6L282.1,208.4L280.5,210.7L277.7,211.5L273.2,211.5L273.1,214.6L268.6,215.1L268.1,218.4L267.8,221.7L264.5,223.9L267.3,226.3L264.0,229.6L262.8,231.6L262.0,233.6L263.0,234.2L266.1,237.7L263.2,238.7L259.6,238.2L256.3,236.0L253.0,234.1L251.7,229.9L253.0,225.0L254.1,221.7L254.6,217.6L254.3,212.7L254.9,208.5L257.1,202.8L257.7,197.8L258.2,192.9L259.7,186.3L260.1,180.5L259.6,177.7L256.3,175.6L253.0,173.1L250.2,169.8L247.5,165.7L244.7,160.3L241.9,157.5L241.9,154.7L243.9,152.0L242.4,149.4L243.9,146.8L245.6,145.1L247.4,143.0L248.2,141.0L248.4,137.7L247.5,135.4ZM365.9,88.6L368.2,89.6L372.0,89.8L375.6,88.5L378.9,87.3L383.8,87.0L389.8,86.8L392.4,86.3L393.9,87.0L392.9,88.3L393.7,89.6L392.4,91.3L394.2,93.1L396.2,93.6L400.6,94.4L402.9,96.2L406.7,97.5L408.5,96.7L408.7,94.6L411.0,93.6L414.3,94.1L417.1,95.6L420.9,96.2L424.5,96.2L428.6,96.0L431.9,96.2L433.0,99.0L429.3,98.4L430.7,103.1L433.2,107.7L434.2,109.6L436.8,113.0L437.0,116.3L438.8,118.0L440.3,121.4L443.4,124.7L445.7,126.8L446.9,128.0L449.0,130.5L453.8,129.3L456.3,129.0L459.7,128.0L459.5,130.3L458.2,133.9L455.6,138.5L453.8,140.7L451.3,143.8L447.2,146.8L443.9,150.6L441.6,152.5L440.1,155.3L439.5,158.3L440.6,160.8L440.5,164.1L442.1,166.5L442.4,171.0L441.8,174.0L437.3,176.8L434.7,178.7L432.9,180.4L434.0,183.8L434.0,187.1L429.9,189.4L429.8,190.8L428.9,194.7L427.1,196.0L425.1,198.8L422.0,201.5L419.1,203.1L416.3,203.6L412.8,203.4L408.5,204.9L405.9,203.8L405.6,200.8L404.1,197.5L402.8,194.7L400.6,192.2L399.8,189.4L399.3,185.3L397.7,182.0L395.0,177.4L394.9,173.6L395.8,170.3L398.0,167.4L397.5,163.2L395.8,157.6L395.2,156.0L392.1,152.4L390.9,149.2L391.2,146.0L391.7,143.0L391.2,141.3L389.6,140.2L387.1,140.4L385.3,140.5L383.0,137.2L380.0,137.2L377.2,137.7L374.0,139.4L371.8,139.5L367.9,139.0L363.3,140.4L360.3,138.5L356.8,136.4L354.4,134.8L353.7,132.8L351.2,130.0L349.9,128.5L348.1,127.2L347.5,123.9L346.8,123.4L348.4,120.9L349.1,117.1L348.4,115.5L347.6,113.0L349.3,108.6L351.2,106.3L353.9,103.1L356.7,101.3L359.1,99.2L359.6,97.4L359.5,94.4L361.6,92.6L364.4,91.4ZM366.4,88.1L365.1,87.0L363.4,86.3L361.0,86.7L361.1,83.9L360.0,83.7L361.0,81.4L361.1,78.6L360.3,76.8L362.4,75.6L366.5,76.0L372.6,76.1L373.6,74.0L373.6,71.7L372.0,70.0L368.2,68.7L368.0,67.6L373.0,67.4L373.3,65.7L375.8,66.1L378.1,64.9L378.4,63.6L380.9,62.9L382.7,61.8L383.5,60.3L385.3,59.7L387.5,59.8L389.8,58.8L389.8,56.4L389.1,54.2L391.7,52.9L393.0,52.6L392.6,54.5L393.5,54.9L392.9,57.0L393.7,58.7L397.0,58.0L399.5,58.8L403.6,57.5L407.7,58.0L410.5,56.7L410.3,54.1L411.2,52.9L414.3,53.7L415.6,52.9L415.3,51.6L414.3,50.1L418.4,49.4L421.7,49.6L424.2,48.9L422.5,48.0L419.2,48.1L413.3,48.8L410.8,47.5L411.0,44.7L412.6,43.3L415.9,41.2L417.4,40.4L415.4,39.2L412.1,39.4L410.7,41.2L407.7,43.0L404.9,44.7L403.9,46.6L404.4,48.0L406.5,48.8L406.1,50.1L403.1,52.2L402.6,54.4L401.8,55.2L399.3,56.2L396.8,56.4L396.3,54.9L395.2,52.7L394.0,50.3L392.7,49.8L391.1,50.6L388.9,51.9L386.5,51.9L384.8,50.6L384.0,48.8L383.8,47.1L384.2,45.5L386.3,44.7L389.6,43.2L392.9,41.4L395.7,39.4L397.8,36.4L400.3,35.1L402.8,34.0L405.2,33.0L408.5,32.3L412.6,31.7L416.8,30.7L420.9,30.8L425.0,31.8L427.0,32.6L429.9,33.3L434.9,33.8L441.4,35.9L443.3,37.6L441.4,38.6L438.1,38.7L433.2,38.6L430.7,37.9L432.4,40.5L435.7,40.9L437.3,41.7L442.3,41.4L446.4,38.4L448.0,34.9L451.3,35.3L454.6,36.1L462.8,34.8L466.1,34.9L471.1,34.3L474.4,34.0L480.9,33.1L485.9,32.8L488.4,35.1L485.9,31.5L488.8,28.0L495.4,27.7L494.8,30.3L494.9,33.1L497.4,35.6L499.1,32.3L497.1,29.8L499.9,28.5L505.6,28.5L508.9,26.5L518.0,24.9L518.8,23.7L527.0,22.8L538.6,22.1L546.8,19.8L551.7,20.9L560.0,22.1L562.4,26.4L568.2,26.4L578.1,27.4L584.6,26.7L587.9,28.2L590.4,30.8L594.5,29.8L599.5,29.8L605.2,28.4L607.7,28.0L615.9,28.5L622.5,29.8L626.6,31.0L634.0,30.7L639.0,31.5L642.3,32.8L648.8,33.0L652.1,32.3L656.2,32.6L663.7,32.5L669.7,33.3L671.9,34.1L671.9,40.2L669.4,41.4L666.9,44.5L661.2,46.0L656.2,48.8L650.5,48.5L645.5,49.1L643.9,52.4L643.1,55.0L639.8,58.3L636.5,61.1L633.4,63.6L632.2,60.3L631.6,56.2L633.2,52.9L635.7,52.1L639.8,48.0L642.3,46.1L638.1,46.0L633.2,46.3L629.1,49.6L625.0,50.1L620.0,49.9L615.1,49.9L609.7,50.4L605.2,52.9L601.1,58.7L603.6,59.2L608.3,61.6L606.9,65.2L606.7,68.0L603.6,70.4L600.3,73.6L596.2,76.0L592.7,76.8L590.7,77.9L589.1,80.1L586.3,81.7L588.3,85.8L588.6,89.1L584.6,90.6L583.7,90.8L583.8,88.5L584.3,86.7L583.0,85.5L580.9,84.5L581.8,82.4L580.2,81.9L576.7,80.9L575.3,82.7L575.8,80.2L573.1,81.2L570.7,83.0L569.2,84.2L571.1,86.0L574.3,85.3L577.2,86.0L574.8,88.0L572.3,90.0L573.9,92.8L576.2,95.4L575.6,97.2L576.4,99.3L575.6,101.0L573.9,102.8L572.3,105.1L570.7,107.1L567.4,109.7L563.2,110.9L559.1,112.2L557.0,114.2L556.3,112.2L554.2,111.9L551.2,113.5L549.7,116.1L551.4,119.1L554.7,122.4L555.5,126.2L555.3,128.5L552.5,130.3L550.9,131.6L548.1,133.4L548.1,130.8L546.0,130.1L544.5,127.5L541.7,126.7L541.7,125.5L540.2,127.5L538.9,130.8L540.0,132.4L541.0,135.6L543.0,136.4L544.3,137.7L545.8,139.7L545.8,141.8L547.1,145.1L546.0,145.5L543.5,143.6L541.8,141.8L540.7,139.4L540.5,136.9L538.6,134.6L537.4,133.6L537.7,130.3L538.1,127.0L537.2,125.4L536.2,120.4L534.4,120.1L532.6,121.6L531.1,120.4L530.8,117.1L529.5,115.5L527.9,113.0L527.0,111.7L526.2,110.2L524.6,111.4L522.1,111.7L518.8,112.2L518.0,113.8L515.5,115.5L513.9,117.5L510.9,120.1L508.9,122.1L507.6,124.9L507.4,127.8L507.0,130.6L504.8,132.9L503.2,134.3L501.7,132.9L500.7,130.3L499.9,128.0L498.4,123.7L496.6,121.2L495.4,116.3L495.1,112.2L491.6,113.3L489.2,110.9L491.1,110.0L488.4,108.9L486.7,108.1L485.4,105.8L481.8,106.1L476.8,106.3L473.5,105.8L470.2,105.1L469.1,103.1L467.0,103.6L465.3,104.0L462.0,102.3L460.0,101.5L458.2,99.0L455.6,98.4L454.6,99.0L455.4,100.7L457.1,103.1L458.2,104.4L459.1,106.4L460.4,105.6L460.9,108.1L463.7,107.9L466.1,106.8L468.3,104.4L468.4,106.6L470.2,108.4L472.4,109.1L474.0,110.5L471.9,113.5L470.7,115.5L468.9,118.0L466.6,119.1L461.5,121.6L456.3,123.7L453.8,125.2L450.5,126.0L448.0,126.8L446.9,126.5L446.0,123.2L445.6,120.4L443.4,117.1L441.1,113.8L439.8,111.4L439.0,108.4L437.3,107.2L435.8,105.1L434.0,102.3L432.6,101.2L433.0,99.0L431.9,96.2L433.0,94.1L434.0,91.8L434.7,89.3L435.0,87.3L432.6,87.0L429.1,88.1L425.8,87.5L422.0,87.2L420.5,85.8L419.1,84.0L418.7,82.5L419.5,81.1L423.5,79.7L427.4,79.7L430.7,78.4L433.5,78.4L438.6,80.2L443.9,79.2L444.1,77.3L441.3,76.1L438.5,74.5L436.0,73.2L433.2,72.5L430.7,74.1L429.3,72.8L430.9,71.8L427.8,70.8L426.3,71.0L424.3,73.0L422.8,74.8L421.0,77.6L421.7,79.1L418.9,80.2L415.9,80.2L414.6,81.2L413.0,81.1L412.8,83.4L414.0,85.0L413.1,86.2L411.2,87.0L410.3,84.7L408.8,82.4L407.5,81.2L407.7,78.9L405.9,77.6L401.9,76.0L400.6,74.6L399.0,73.2L398.0,73.3L395.8,73.0L396.0,74.8L398.0,75.8L399.5,78.1L401.9,79.4L404.4,80.4L406.1,81.4L403.9,82.7L403.7,83.5L402.9,84.4L401.4,85.0L401.8,82.5L400.1,81.4L398.6,80.4L395.7,78.9L394.0,77.8L392.9,76.8L391.6,75.0L389.6,74.6L387.9,75.5L386.3,76.6L383.2,76.1L380.7,76.6L380.9,78.6L379.1,79.6L376.9,80.1L375.1,82.5L375.9,83.9L374.4,85.7L372.1,87.2L368.4,87.2ZM79.3,34.1L84.3,35.3L89.2,37.3L93.3,37.4L96.1,38.7L94.1,39.9L91.7,41.4L87.6,40.9L82.6,40.1L79.3,40.2ZM255.4,18.3L267.0,15.0L273.5,12.9L293.3,11.7L309.8,10.4L326.2,10.1L342.7,11.7L355.8,13.4L346.0,15.8L344.3,20.0L343.5,24.1L340.2,28.2L339.4,31.5L334.5,33.5L322.9,35.3L318.0,38.4L310.6,40.2L308.1,43.8L304.8,48.8L299.9,47.5L294.9,45.5L292.5,42.5L290.0,39.7L287.5,37.3L289.2,34.0L290.8,31.5L285.9,29.8L284.2,27.4L281.8,24.9L278.5,22.8L271.9,21.9L263.7,21.6L259.6,20.0ZM273.9,37.9L270.3,43.0L262.8,45.2L256.3,42.2L246.4,41.7L254.6,36.4L248.0,32.3L235.7,32.3L227.5,29.0L234.9,26.5L243.9,26.2L250.5,27.7L257.1,29.8L263.7,32.3L266.1,34.8ZM243.9,24.9L224.2,24.9L217.6,22.4L215.9,19.1L224.2,15.0L235.7,12.5L260.4,10.9L273.5,12.2L260.4,15.8L253.8,18.3L247.2,20.8L243.9,22.1ZM169.0,29.3L170.7,25.7L181.4,23.3L191.2,24.9L202.8,26.5L209.4,26.5L215.9,28.2L214.3,33.1L207.7,34.3L197.8,34.8L186.3,34.0L181.4,32.3L174.8,31.5ZM178.1,22.4L184.7,20.0L201.1,18.3L214.3,19.1L211.0,21.6L194.5,22.8ZM232.4,41.9L243.1,43.0L241.5,39.7L234.0,38.6ZM335.3,39.7L339.4,38.2L346.0,38.6L351.7,38.4L353.4,40.4L350.9,41.7L345.1,43.2L338.6,42.5L340.2,41.4ZM393.7,18.0L401.9,15.8L411.8,15.3L420.0,15.8L416.8,18.3L411.8,20.0L403.6,21.6L398.6,20.0ZM462.0,29.8L467.8,31.3L471.1,29.8L469.4,26.5L474.4,23.3L487.5,21.1L480.9,20.8L471.1,22.4L466.1,24.9ZM532.0,17.5L540.2,18.8L548.4,18.3L543.5,14.2L533.6,15.0ZM599.5,23.3L609.3,26.1L622.5,24.1L615.9,22.4L602.7,22.1ZM366.2,65.1L370.7,64.3L377.9,63.3L378.4,60.8L376.1,59.7L374.8,57.8L372.6,56.0L372.1,53.4L372.6,52.7L369.0,52.7L370.7,51.1L367.4,51.1L365.4,52.9L366.4,54.9L366.5,56.2L367.7,57.3L370.3,57.2L370.2,58.8L367.9,59.8L368.5,61.1L367.0,62.3L370.2,62.9L367.4,63.6ZM365.7,61.6L365.6,58.8L365.9,57.0L363.3,56.5L359.1,58.3L358.8,62.6L362.4,62.8ZM589.9,96.2L592.0,95.7L592.9,92.8L595.3,92.6L598.3,92.3L600.8,91.1L604.4,90.4L607.4,88.8L607.7,85.8L609.3,82.5L608.5,79.6L606.0,80.4L605.7,83.4L603.6,85.8L600.8,86.2L599.5,88.5L594.5,89.1L591.2,90.8L588.9,92.9ZM606.0,79.2L608.0,78.8L611.5,78.4L615.1,76.3L612.6,74.8L608.8,72.8L608.5,76.0L606.0,77.6ZM609.3,71.8L611.8,71.0L611.0,66.9L611.3,61.1L610.2,58.2L609.3,62.0L609.3,66.9ZM573.3,109.7L574.8,105.9L576.4,106.4L575.6,108.9L574.4,111.5ZM573.1,117.1L576.7,117.1L577.2,119.6L575.6,122.1L579.7,125.4L578.1,126.2L574.8,124.9L573.9,123.7L573.1,121.2ZM576.4,136.1L579.7,133.1L582.2,131.5L584.0,135.2L582.2,138.0L579.7,136.9ZM555.0,145.1L556.2,144.3L558.6,143.0L561.6,142.3L564.4,139.9L565.7,138.5L567.9,136.2L569.3,136.9L571.8,138.9L570.2,140.4L569.7,144.6L571.3,146.1L568.8,147.4L567.4,149.7L567.4,152.0L566.5,153.9L564.1,153.5L561.6,152.7L559.3,152.9L557.0,152.4L556.8,150.1L555.2,148.4ZM532.5,138.4L536.1,139.0L537.7,141.2L541.0,144.3L542.7,144.8L546.3,148.9L547.6,150.7L550.1,152.9L549.7,157.2L547.6,157.2L544.3,154.5L541.8,151.2L540.5,148.9L538.6,146.0L536.9,143.5L534.4,141.3ZM548.8,158.8L550.9,157.5L553.9,158.0L557.5,159.0L561.1,159.0L564.1,160.3L564.1,161.9L560.0,161.4L555.0,160.4L550.9,159.8ZM564.9,161.1L571.5,161.1L578.1,161.1L584.6,161.1L584.6,162.4L578.1,164.6L571.5,162.4L564.9,162.1ZM572.1,156.7L571.8,153.4L573.1,147.6L573.9,146.0L581.4,145.1L580.5,146.8L575.6,147.6L575.6,149.2L578.6,149.2L575.6,150.9L577.2,155.0L574.8,155.8L573.6,152.2L573.9,156.7ZM591.2,149.7L593.7,148.3L596.2,149.1L598.6,153.0L601.9,150.2L607.7,151.9L612.6,154.0L615.6,155.7L618.4,157.8L618.7,160.8L621.7,163.2L623.8,164.7L620.9,164.6L617.6,163.2L615.9,160.8L612.6,160.3L611.5,161.6L610.2,162.9L607.7,162.6L604.4,160.9L602.7,161.3L602.4,156.7L597.8,154.8L594.5,154.2L592.9,152.2L595.7,151.6L593.4,151.2ZM563.2,183.8L562.4,188.0L564.1,193.7L564.9,197.8L566.0,202.4L564.9,204.1L569.0,205.4L572.3,204.3L575.6,203.3L579.7,201.8L583.0,200.8L587.9,199.8L592.0,199.5L595.3,200.6L597.8,202.9L599.1,204.9L601.1,203.1L602.4,201.6L601.9,205.6L604.4,206.4L606.0,209.4L608.5,210.8L611.8,211.5L614.3,210.8L616.4,212.0L619.2,209.9L622.5,209.4L622.8,206.6L624.6,203.4L626.6,201.0L627.6,197.8L628.4,194.2L627.6,189.6L625.0,187.1L623.8,184.7L621.3,182.5L620.0,180.9L616.7,178.7L615.9,175.6L614.8,172.3L613.0,171.2L611.8,168.7L610.3,165.4L608.7,168.7L608.5,173.1L606.9,176.3L604.7,176.3L601.9,174.0L599.1,172.3L598.6,171.2L600.6,167.9L599.1,167.2L595.3,166.7L593.7,166.2L591.2,167.7L589.6,169.0L588.6,172.1L586.6,172.3L584.6,170.7L582.2,171.5L580.5,174.0L578.6,175.6L576.7,177.2L575.6,179.4L573.1,180.5L570.7,181.2L567.9,181.5L565.7,182.7ZM613.8,214.6L619.7,215.0L619.2,218.8L615.9,219.4L614.3,216.8ZM659.9,204.3L662.8,206.6L665.0,208.5L669.4,209.7L667.8,211.8L666.1,214.3L663.7,216.0L663.0,213.2L661.7,212.2L663.3,210.2L662.3,207.7ZM659.9,214.3L662.5,216.1L660.7,218.9L657.6,220.9L656.2,223.2L653.8,224.4L649.7,223.4L650.5,221.7L653.0,220.1L656.2,218.1L658.7,215.6ZM456.7,167.4L458.7,173.1L457.1,176.4L454.6,183.8L453.0,188.8L449.7,189.6L447.5,183.8L448.5,180.5L448.0,176.4L451.3,173.6L454.6,169.8ZM507.0,134.1L507.6,131.5L509.4,133.6L510.2,135.7L508.3,137.9L507.1,136.4ZM235.7,111.5L239.0,109.9L241.5,109.4L245.6,110.5L248.0,112.2L251.3,113.5L253.5,114.3L248.9,114.8L247.7,113.5L244.7,112.0L241.5,111.0L238.2,111.0ZM253.1,117.1L255.8,114.8L260.4,115.2L263.0,117.0L260.4,117.6L257.9,118.6Z" fill="#2a5a9c" stroke="#2c5e9e" stroke-width="4.5" stroke-linejoin="round" filter="url(#blur2)"/><g filter="url(#texA)"><path d="M98.9,39.6L102.2,38.6L108.9,37.9L106.1,36.3L102.0,35.1L107.0,33.3L112.2,31.5L117.8,30.2L125.4,31.0L132.0,31.8L140.2,32.3L146.8,33.1L154.2,33.0L162.4,32.3L170.7,33.0L178.1,33.5L188.0,34.9L196.2,35.4L204.4,35.6L213.5,35.9L218.4,35.4L221.7,33.1L226.6,34.0L230.8,35.1L234.9,33.1L241.5,33.6L241.5,36.9L236.5,38.1L233.2,40.9L227.5,42.7L221.7,45.8L219.9,50.8L222.9,53.2L229.3,54.4L234.9,56.5L240.1,56.9L240.3,60.5L244.7,62.8L245.4,58.3L249.2,54.2L247.5,49.1L248.4,46.3L253.0,45.0L257.7,46.8L261.4,50.1L264.8,51.4L269.3,48.3L274.2,54.7L279.1,57.7L283.3,61.3L276.8,64.9L266.5,65.1L269.8,67.2L268.9,70.5L275.2,73.0L271.1,74.1L267.0,75.5L266.1,73.2L264.5,74.3L260.1,75.8L259.2,78.4L260.4,79.1L254.5,80.2L253.8,80.9L253.8,82.5L251.3,83.7L250.5,85.2L250.0,86.7L251.0,89.1L249.7,90.3L247.2,91.8L245.1,93.2L242.3,95.2L241.8,98.2L243.1,101.0L243.9,103.6L243.3,106.1L241.9,105.9L241.0,103.8L239.5,101.5L239.5,99.5L237.3,98.2L234.9,98.7L233.1,97.5L229.9,97.5L228.3,97.9L228.8,99.5L225.8,99.3L222.5,98.5L220.1,99.0L216.8,101.2L215.3,102.6L215.6,104.9L214.8,108.1L214.6,110.9L215.6,113.8L217.1,116.0L219.2,117.1L220.9,117.6L224.2,117.0L225.8,116.3L226.6,113.8L227.0,113.0L230.8,112.2L232.4,112.4L231.6,115.0L231.1,117.5L230.3,120.6L234.0,121.4L237.3,121.6L238.7,123.1L238.2,127.5L237.7,129.5L239.3,131.5L241.6,133.1L243.9,132.3L246.4,132.1L248.4,133.6L247.5,135.4L246.6,134.1L243.8,135.4L241.5,134.9L239.1,134.1L236.5,131.8L234.5,131.3L234.2,129.2L231.9,126.4L229.9,125.9L226.6,124.7L223.8,123.6L221.2,121.4L219.2,121.1L216.8,121.7L213.5,120.8L209.4,119.1L205.2,117.5L202.3,114.7L201.9,112.0L201.5,110.2L197.8,106.1L195.7,104.8L193.6,102.3L190.9,99.8L189.3,96.2L186.6,95.4L187.0,97.9L188.8,100.3L190.9,104.0L194.0,107.7L195.5,109.4L194.4,109.9L191.1,106.9L190.6,104.6L187.6,101.8L186.1,99.2L184.2,96.7L182.9,94.1L180.7,91.6L177.1,90.6L175.1,87.5L174.0,85.7L172.0,83.4L171.0,81.1L171.3,78.4L170.7,76.8L171.7,71.3L170.3,67.9L173.1,67.1L172.8,65.9L169.4,64.6L165.2,63.3L164.1,60.6L161.3,58.0L159.2,56.2L155.9,52.9L152.2,51.3L149.3,50.9L145.5,49.3L141.0,48.6L136.1,48.0L131.2,47.6L126.2,50.1L127.9,46.8L122.9,49.8L121.8,51.7L118.0,53.7L114.7,55.4L109.8,56.5L104.8,57.7L108.9,55.5L115.5,52.9L116.7,50.8L112.2,50.9L108.9,49.1L104.8,48.0L103.2,45.8L104.8,43.8L110.6,42.9L110.6,41.4L104.0,41.2L101.0,40.1ZM248.4,133.6L250.0,132.0L251.3,130.1L253.5,129.2L256.3,128.0L258.2,127.3L257.7,129.5L257.3,128.7L260.5,127.5L263.2,129.6L267.0,130.1L269.9,130.3L273.5,130.0L275.2,131.1L275.5,133.6L277.7,134.8L280.1,136.4L282.6,137.9L286.7,138.0L289.2,139.0L291.2,140.7L292.8,144.3L293.3,146.4L295.8,148.9L298.2,148.9L302.4,151.4L306.5,152.0L310.6,152.5L313.9,155.3L317.3,156.2L318.2,160.0L317.5,162.9L314.4,166.5L312.2,169.3L311.4,173.1L310.7,176.9L309.8,180.4L308.1,183.5L306.5,185.3L302.4,185.8L299.1,187.1L296.3,189.6L295.6,194.0L293.5,196.8L291.5,199.5L289.0,202.4L286.7,204.9L284.2,205.1L281.8,204.4L279.5,204.1L281.4,206.6L282.1,208.4L280.5,210.7L277.7,211.5L273.2,211.5L273.1,214.6L268.6,215.1L268.1,218.4L267.8,221.7L264.5,223.9L267.3,226.3L264.0,229.6L262.8,231.6L262.0,233.6L263.0,234.2L266.1,237.7L263.2,238.7L259.6,238.2L256.3,236.0L253.0,234.1L251.7,229.9L253.0,225.0L254.1,221.7L254.6,217.6L254.3,212.7L254.9,208.5L257.1,202.8L257.7,197.8L258.2,192.9L259.7,186.3L260.1,180.5L259.6,177.7L256.3,175.6L253.0,173.1L250.2,169.8L247.5,165.7L244.7,160.3L241.9,157.5L241.9,154.7L243.9,152.0L242.4,149.4L243.9,146.8L245.6,145.1L247.4,143.0L248.2,141.0L248.4,137.7L247.5,135.4ZM365.9,88.6L368.2,89.6L372.0,89.8L375.6,88.5L378.9,87.3L383.8,87.0L389.8,86.8L392.4,86.3L393.9,87.0L392.9,88.3L393.7,89.6L392.4,91.3L394.2,93.1L396.2,93.6L400.6,94.4L402.9,96.2L406.7,97.5L408.5,96.7L408.7,94.6L411.0,93.6L414.3,94.1L417.1,95.6L420.9,96.2L424.5,96.2L428.6,96.0L431.9,96.2L433.0,99.0L429.3,98.4L430.7,103.1L433.2,107.7L434.2,109.6L436.8,113.0L437.0,116.3L438.8,118.0L440.3,121.4L443.4,124.7L445.7,126.8L446.9,128.0L449.0,130.5L453.8,129.3L456.3,129.0L459.7,128.0L459.5,130.3L458.2,133.9L455.6,138.5L453.8,140.7L451.3,143.8L447.2,146.8L443.9,150.6L441.6,152.5L440.1,155.3L439.5,158.3L440.6,160.8L440.5,164.1L442.1,166.5L442.4,171.0L441.8,174.0L437.3,176.8L434.7,178.7L432.9,180.4L434.0,183.8L434.0,187.1L429.9,189.4L429.8,190.8L428.9,194.7L427.1,196.0L425.1,198.8L422.0,201.5L419.1,203.1L416.3,203.6L412.8,203.4L408.5,204.9L405.9,203.8L405.6,200.8L404.1,197.5L402.8,194.7L400.6,192.2L399.8,189.4L399.3,185.3L397.7,182.0L395.0,177.4L394.9,173.6L395.8,170.3L398.0,167.4L397.5,163.2L395.8,157.6L395.2,156.0L392.1,152.4L390.9,149.2L391.2,146.0L391.7,143.0L391.2,141.3L389.6,140.2L387.1,140.4L385.3,140.5L383.0,137.2L380.0,137.2L377.2,137.7L374.0,139.4L371.8,139.5L367.9,139.0L363.3,140.4L360.3,138.5L356.8,136.4L354.4,134.8L353.7,132.8L351.2,130.0L349.9,128.5L348.1,127.2L347.5,123.9L346.8,123.4L348.4,120.9L349.1,117.1L348.4,115.5L347.6,113.0L349.3,108.6L351.2,106.3L353.9,103.1L356.7,101.3L359.1,99.2L359.6,97.4L359.5,94.4L361.6,92.6L364.4,91.4ZM366.4,88.1L365.1,87.0L363.4,86.3L361.0,86.7L361.1,83.9L360.0,83.7L361.0,81.4L361.1,78.6L360.3,76.8L362.4,75.6L366.5,76.0L372.6,76.1L373.6,74.0L373.6,71.7L372.0,70.0L368.2,68.7L368.0,67.6L373.0,67.4L373.3,65.7L375.8,66.1L378.1,64.9L378.4,63.6L380.9,62.9L382.7,61.8L383.5,60.3L385.3,59.7L387.5,59.8L389.8,58.8L389.8,56.4L389.1,54.2L391.7,52.9L393.0,52.6L392.6,54.5L393.5,54.9L392.9,57.0L393.7,58.7L397.0,58.0L399.5,58.8L403.6,57.5L407.7,58.0L410.5,56.7L410.3,54.1L411.2,52.9L414.3,53.7L415.6,52.9L415.3,51.6L414.3,50.1L418.4,49.4L421.7,49.6L424.2,48.9L422.5,48.0L419.2,48.1L413.3,48.8L410.8,47.5L411.0,44.7L412.6,43.3L415.9,41.2L417.4,40.4L415.4,39.2L412.1,39.4L410.7,41.2L407.7,43.0L404.9,44.7L403.9,46.6L404.4,48.0L406.5,48.8L406.1,50.1L403.1,52.2L402.6,54.4L401.8,55.2L399.3,56.2L396.8,56.4L396.3,54.9L395.2,52.7L394.0,50.3L392.7,49.8L391.1,50.6L388.9,51.9L386.5,51.9L384.8,50.6L384.0,48.8L383.8,47.1L384.2,45.5L386.3,44.7L389.6,43.2L392.9,41.4L395.7,39.4L397.8,36.4L400.3,35.1L402.8,34.0L405.2,33.0L408.5,32.3L412.6,31.7L416.8,30.7L420.9,30.8L425.0,31.8L427.0,32.6L429.9,33.3L434.9,33.8L441.4,35.9L443.3,37.6L441.4,38.6L438.1,38.7L433.2,38.6L430.7,37.9L432.4,40.5L435.7,40.9L437.3,41.7L442.3,41.4L446.4,38.4L448.0,34.9L451.3,35.3L454.6,36.1L462.8,34.8L466.1,34.9L471.1,34.3L474.4,34.0L480.9,33.1L485.9,32.8L488.4,35.1L485.9,31.5L488.8,28.0L495.4,27.7L494.8,30.3L494.9,33.1L497.4,35.6L499.1,32.3L497.1,29.8L499.9,28.5L505.6,28.5L508.9,26.5L518.0,24.9L518.8,23.7L527.0,22.8L538.6,22.1L546.8,19.8L551.7,20.9L560.0,22.1L562.4,26.4L568.2,26.4L578.1,27.4L584.6,26.7L587.9,28.2L590.4,30.8L594.5,29.8L599.5,29.8L605.2,28.4L607.7,28.0L615.9,28.5L622.5,29.8L626.6,31.0L634.0,30.7L639.0,31.5L642.3,32.8L648.8,33.0L652.1,32.3L656.2,32.6L663.7,32.5L669.7,33.3L671.9,34.1L671.9,40.2L669.4,41.4L666.9,44.5L661.2,46.0L656.2,48.8L650.5,48.5L645.5,49.1L643.9,52.4L643.1,55.0L639.8,58.3L636.5,61.1L633.4,63.6L632.2,60.3L631.6,56.2L633.2,52.9L635.7,52.1L639.8,48.0L642.3,46.1L638.1,46.0L633.2,46.3L629.1,49.6L625.0,50.1L620.0,49.9L615.1,49.9L609.7,50.4L605.2,52.9L601.1,58.7L603.6,59.2L608.3,61.6L606.9,65.2L606.7,68.0L603.6,70.4L600.3,73.6L596.2,76.0L592.7,76.8L590.7,77.9L589.1,80.1L586.3,81.7L588.3,85.8L588.6,89.1L584.6,90.6L583.7,90.8L583.8,88.5L584.3,86.7L583.0,85.5L580.9,84.5L581.8,82.4L580.2,81.9L576.7,80.9L575.3,82.7L575.8,80.2L573.1,81.2L570.7,83.0L569.2,84.2L571.1,86.0L574.3,85.3L577.2,86.0L574.8,88.0L572.3,90.0L573.9,92.8L576.2,95.4L575.6,97.2L576.4,99.3L575.6,101.0L573.9,102.8L572.3,105.1L570.7,107.1L567.4,109.7L563.2,110.9L559.1,112.2L557.0,114.2L556.3,112.2L554.2,111.9L551.2,113.5L549.7,116.1L551.4,119.1L554.7,122.4L555.5,126.2L555.3,128.5L552.5,130.3L550.9,131.6L548.1,133.4L548.1,130.8L546.0,130.1L544.5,127.5L541.7,126.7L541.7,125.5L540.2,127.5L538.9,130.8L540.0,132.4L541.0,135.6L543.0,136.4L544.3,137.7L545.8,139.7L545.8,141.8L547.1,145.1L546.0,145.5L543.5,143.6L541.8,141.8L540.7,139.4L540.5,136.9L538.6,134.6L537.4,133.6L537.7,130.3L538.1,127.0L537.2,125.4L536.2,120.4L534.4,120.1L532.6,121.6L531.1,120.4L530.8,117.1L529.5,115.5L527.9,113.0L527.0,111.7L526.2,110.2L524.6,111.4L522.1,111.7L518.8,112.2L518.0,113.8L515.5,115.5L513.9,117.5L510.9,120.1L508.9,122.1L507.6,124.9L507.4,127.8L507.0,130.6L504.8,132.9L503.2,134.3L501.7,132.9L500.7,130.3L499.9,128.0L498.4,123.7L496.6,121.2L495.4,116.3L495.1,112.2L491.6,113.3L489.2,110.9L491.1,110.0L488.4,108.9L486.7,108.1L485.4,105.8L481.8,106.1L476.8,106.3L473.5,105.8L470.2,105.1L469.1,103.1L467.0,103.6L465.3,104.0L462.0,102.3L460.0,101.5L458.2,99.0L455.6,98.4L454.6,99.0L455.4,100.7L457.1,103.1L458.2,104.4L459.1,106.4L460.4,105.6L460.9,108.1L463.7,107.9L466.1,106.8L468.3,104.4L468.4,106.6L470.2,108.4L472.4,109.1L474.0,110.5L471.9,113.5L470.7,115.5L468.9,118.0L466.6,119.1L461.5,121.6L456.3,123.7L453.8,125.2L450.5,126.0L448.0,126.8L446.9,126.5L446.0,123.2L445.6,120.4L443.4,117.1L441.1,113.8L439.8,111.4L439.0,108.4L437.3,107.2L435.8,105.1L434.0,102.3L432.6,101.2L433.0,99.0L431.9,96.2L433.0,94.1L434.0,91.8L434.7,89.3L435.0,87.3L432.6,87.0L429.1,88.1L425.8,87.5L422.0,87.2L420.5,85.8L419.1,84.0L418.7,82.5L419.5,81.1L423.5,79.7L427.4,79.7L430.7,78.4L433.5,78.4L438.6,80.2L443.9,79.2L444.1,77.3L441.3,76.1L438.5,74.5L436.0,73.2L433.2,72.5L430.7,74.1L429.3,72.8L430.9,71.8L427.8,70.8L426.3,71.0L424.3,73.0L422.8,74.8L421.0,77.6L421.7,79.1L418.9,80.2L415.9,80.2L414.6,81.2L413.0,81.1L412.8,83.4L414.0,85.0L413.1,86.2L411.2,87.0L410.3,84.7L408.8,82.4L407.5,81.2L407.7,78.9L405.9,77.6L401.9,76.0L400.6,74.6L399.0,73.2L398.0,73.3L395.8,73.0L396.0,74.8L398.0,75.8L399.5,78.1L401.9,79.4L404.4,80.4L406.1,81.4L403.9,82.7L403.7,83.5L402.9,84.4L401.4,85.0L401.8,82.5L400.1,81.4L398.6,80.4L395.7,78.9L394.0,77.8L392.9,76.8L391.6,75.0L389.6,74.6L387.9,75.5L386.3,76.6L383.2,76.1L380.7,76.6L380.9,78.6L379.1,79.6L376.9,80.1L375.1,82.5L375.9,83.9L374.4,85.7L372.1,87.2L368.4,87.2ZM79.3,34.1L84.3,35.3L89.2,37.3L93.3,37.4L96.1,38.7L94.1,39.9L91.7,41.4L87.6,40.9L82.6,40.1L79.3,40.2ZM255.4,18.3L267.0,15.0L273.5,12.9L293.3,11.7L309.8,10.4L326.2,10.1L342.7,11.7L355.8,13.4L346.0,15.8L344.3,20.0L343.5,24.1L340.2,28.2L339.4,31.5L334.5,33.5L322.9,35.3L318.0,38.4L310.6,40.2L308.1,43.8L304.8,48.8L299.9,47.5L294.9,45.5L292.5,42.5L290.0,39.7L287.5,37.3L289.2,34.0L290.8,31.5L285.9,29.8L284.2,27.4L281.8,24.9L278.5,22.8L271.9,21.9L263.7,21.6L259.6,20.0ZM273.9,37.9L270.3,43.0L262.8,45.2L256.3,42.2L246.4,41.7L254.6,36.4L248.0,32.3L235.7,32.3L227.5,29.0L234.9,26.5L243.9,26.2L250.5,27.7L257.1,29.8L263.7,32.3L266.1,34.8ZM243.9,24.9L224.2,24.9L217.6,22.4L215.9,19.1L224.2,15.0L235.7,12.5L260.4,10.9L273.5,12.2L260.4,15.8L253.8,18.3L247.2,20.8L243.9,22.1ZM169.0,29.3L170.7,25.7L181.4,23.3L191.2,24.9L202.8,26.5L209.4,26.5L215.9,28.2L214.3,33.1L207.7,34.3L197.8,34.8L186.3,34.0L181.4,32.3L174.8,31.5ZM178.1,22.4L184.7,20.0L201.1,18.3L214.3,19.1L211.0,21.6L194.5,22.8ZM232.4,41.9L243.1,43.0L241.5,39.7L234.0,38.6ZM335.3,39.7L339.4,38.2L346.0,38.6L351.7,38.4L353.4,40.4L350.9,41.7L345.1,43.2L338.6,42.5L340.2,41.4ZM393.7,18.0L401.9,15.8L411.8,15.3L420.0,15.8L416.8,18.3L411.8,20.0L403.6,21.6L398.6,20.0ZM462.0,29.8L467.8,31.3L471.1,29.8L469.4,26.5L474.4,23.3L487.5,21.1L480.9,20.8L471.1,22.4L466.1,24.9ZM532.0,17.5L540.2,18.8L548.4,18.3L543.5,14.2L533.6,15.0ZM599.5,23.3L609.3,26.1L622.5,24.1L615.9,22.4L602.7,22.1ZM366.2,65.1L370.7,64.3L377.9,63.3L378.4,60.8L376.1,59.7L374.8,57.8L372.6,56.0L372.1,53.4L372.6,52.7L369.0,52.7L370.7,51.1L367.4,51.1L365.4,52.9L366.4,54.9L366.5,56.2L367.7,57.3L370.3,57.2L370.2,58.8L367.9,59.8L368.5,61.1L367.0,62.3L370.2,62.9L367.4,63.6ZM365.7,61.6L365.6,58.8L365.9,57.0L363.3,56.5L359.1,58.3L358.8,62.6L362.4,62.8ZM589.9,96.2L592.0,95.7L592.9,92.8L595.3,92.6L598.3,92.3L600.8,91.1L604.4,90.4L607.4,88.8L607.7,85.8L609.3,82.5L608.5,79.6L606.0,80.4L605.7,83.4L603.6,85.8L600.8,86.2L599.5,88.5L594.5,89.1L591.2,90.8L588.9,92.9ZM606.0,79.2L608.0,78.8L611.5,78.4L615.1,76.3L612.6,74.8L608.8,72.8L608.5,76.0L606.0,77.6ZM609.3,71.8L611.8,71.0L611.0,66.9L611.3,61.1L610.2,58.2L609.3,62.0L609.3,66.9ZM573.3,109.7L574.8,105.9L576.4,106.4L575.6,108.9L574.4,111.5ZM573.1,117.1L576.7,117.1L577.2,119.6L575.6,122.1L579.7,125.4L578.1,126.2L574.8,124.9L573.9,123.7L573.1,121.2ZM576.4,136.1L579.7,133.1L582.2,131.5L584.0,135.2L582.2,138.0L579.7,136.9ZM555.0,145.1L556.2,144.3L558.6,143.0L561.6,142.3L564.4,139.9L565.7,138.5L567.9,136.2L569.3,136.9L571.8,138.9L570.2,140.4L569.7,144.6L571.3,146.1L568.8,147.4L567.4,149.7L567.4,152.0L566.5,153.9L564.1,153.5L561.6,152.7L559.3,152.9L557.0,152.4L556.8,150.1L555.2,148.4ZM532.5,138.4L536.1,139.0L537.7,141.2L541.0,144.3L542.7,144.8L546.3,148.9L547.6,150.7L550.1,152.9L549.7,157.2L547.6,157.2L544.3,154.5L541.8,151.2L540.5,148.9L538.6,146.0L536.9,143.5L534.4,141.3ZM548.8,158.8L550.9,157.5L553.9,158.0L557.5,159.0L561.1,159.0L564.1,160.3L564.1,161.9L560.0,161.4L555.0,160.4L550.9,159.8ZM564.9,161.1L571.5,161.1L578.1,161.1L584.6,161.1L584.6,162.4L578.1,164.6L571.5,162.4L564.9,162.1ZM572.1,156.7L571.8,153.4L573.1,147.6L573.9,146.0L581.4,145.1L580.5,146.8L575.6,147.6L575.6,149.2L578.6,149.2L575.6,150.9L577.2,155.0L574.8,155.8L573.6,152.2L573.9,156.7ZM591.2,149.7L593.7,148.3L596.2,149.1L598.6,153.0L601.9,150.2L607.7,151.9L612.6,154.0L615.6,155.7L618.4,157.8L618.7,160.8L621.7,163.2L623.8,164.7L620.9,164.6L617.6,163.2L615.9,160.8L612.6,160.3L611.5,161.6L610.2,162.9L607.7,162.6L604.4,160.9L602.7,161.3L602.4,156.7L597.8,154.8L594.5,154.2L592.9,152.2L595.7,151.6L593.4,151.2ZM563.2,183.8L562.4,188.0L564.1,193.7L564.9,197.8L566.0,202.4L564.9,204.1L569.0,205.4L572.3,204.3L575.6,203.3L579.7,201.8L583.0,200.8L587.9,199.8L592.0,199.5L595.3,200.6L597.8,202.9L599.1,204.9L601.1,203.1L602.4,201.6L601.9,205.6L604.4,206.4L606.0,209.4L608.5,210.8L611.8,211.5L614.3,210.8L616.4,212.0L619.2,209.9L622.5,209.4L622.8,206.6L624.6,203.4L626.6,201.0L627.6,197.8L628.4,194.2L627.6,189.6L625.0,187.1L623.8,184.7L621.3,182.5L620.0,180.9L616.7,178.7L615.9,175.6L614.8,172.3L613.0,171.2L611.8,168.7L610.3,165.4L608.7,168.7L608.5,173.1L606.9,176.3L604.7,176.3L601.9,174.0L599.1,172.3L598.6,171.2L600.6,167.9L599.1,167.2L595.3,166.7L593.7,166.2L591.2,167.7L589.6,169.0L588.6,172.1L586.6,172.3L584.6,170.7L582.2,171.5L580.5,174.0L578.6,175.6L576.7,177.2L575.6,179.4L573.1,180.5L570.7,181.2L567.9,181.5L565.7,182.7ZM613.8,214.6L619.7,215.0L619.2,218.8L615.9,219.4L614.3,216.8ZM659.9,204.3L662.8,206.6L665.0,208.5L669.4,209.7L667.8,211.8L666.1,214.3L663.7,216.0L663.0,213.2L661.7,212.2L663.3,210.2L662.3,207.7ZM659.9,214.3L662.5,216.1L660.7,218.9L657.6,220.9L656.2,223.2L653.8,224.4L649.7,223.4L650.5,221.7L653.0,220.1L656.2,218.1L658.7,215.6ZM456.7,167.4L458.7,173.1L457.1,176.4L454.6,183.8L453.0,188.8L449.7,189.6L447.5,183.8L448.5,180.5L448.0,176.4L451.3,173.6L454.6,169.8ZM507.0,134.1L507.6,131.5L509.4,133.6L510.2,135.7L508.3,137.9L507.1,136.4ZM235.7,111.5L239.0,109.9L241.5,109.4L245.6,110.5L248.0,112.2L251.3,113.5L253.5,114.3L248.9,114.8L247.7,113.5L244.7,112.0L241.5,111.0L238.2,111.0ZM253.1,117.1L255.8,114.8L260.4,115.2L263.0,117.0L260.4,117.6L257.9,118.6Z" fill="#74643e"/><g clip-path="url(#lcA)"><path d="M359.1,88.3L441.4,88.3L449.7,57.0L416.8,48.8L383.8,45.5L359.1,65.2Z" fill="#4a5232" filter="url(#blur3)"/><path d="M490.8,134.4L523.7,134.4L523.7,101.5L494.1,94.9L487.5,108.1Z" fill="#4a5232" filter="url(#blur3)"/><path d="M243.9,134.4L276.8,131.1L293.3,141.0L313.1,154.2L311.4,172.3L301.5,187.1L286.7,197.0L276.8,192.1L267.0,180.5L250.5,167.4L243.9,150.9Z" fill="#3a4c2c" filter="url(#blur3)"/><path d="M350.9,127.8L392.1,131.1L425.0,137.7L438.1,147.6L438.1,167.4L416.8,170.7L397.0,164.1L390.4,147.6L367.4,139.4L350.9,134.4Z" fill="#3a4c2c" filter="url(#blur3)"/><path d="M527.0,101.5L576.4,101.5L576.4,114.7L556.7,134.4L540.2,147.6L532.0,131.1L523.7,111.4Z" fill="#3a4c2c" filter="url(#blur3)"/><path d="M532.0,137.7L630.7,137.7L630.7,165.7L532.0,165.7Z" fill="#3a4c2c" filter="url(#blur3)"/><path d="M548.4,114.7L576.4,114.7L576.4,99.8L548.4,99.8Z" fill="#3a4c2c" filter="url(#blur3)"/><path d="M347.6,121.2L367.4,119.6L392.1,119.6L416.8,121.2L433.2,121.2L441.4,118.0L441.4,96.5L425.0,95.7L392.1,91.6L375.6,90.0L359.1,94.9L347.6,111.4Z" fill="#d3b282" filter="url(#blur3)"/><path d="M431.6,96.5L474.4,96.5L477.7,108.1L472.7,118.0L457.9,124.5L444.7,124.5L434.9,108.1Z" fill="#d3b282" filter="url(#blur3)"/><path d="M457.9,85.0L477.7,86.7L490.8,81.7L499.1,78.4L504.0,73.5L482.6,71.8L466.1,71.8L457.9,78.4Z" fill="#d3b282" filter="url(#blur3)"/><path d="M448.0,90.0L477.7,90.0L484.2,104.8L467.8,106.4L457.9,98.2Z" fill="#d3b282" filter="url(#blur3)"/><path d="M504.0,86.7L523.7,86.7L527.0,80.1L507.3,78.4Z" fill="#d3b282" filter="url(#blur3)"/><path d="M532.0,81.7L556.7,81.7L563.2,76.8L546.8,73.5L532.0,75.1Z" fill="#d3b282" filter="url(#blur3)"/><path d="M181.4,96.5L211.0,96.5L211.0,81.7L191.2,78.4L178.1,86.7Z" fill="#d3b282" filter="url(#blur3)"/><path d="M194.5,111.4L214.3,111.4L211.0,96.5L188.0,94.9Z" fill="#d3b282" filter="url(#blur3)"/><path d="M569.8,180.5L609.3,180.5L615.9,193.7L609.3,206.9L569.8,203.6L563.2,190.4Z" fill="#bf7f50" filter="url(#blur3)"/><path d="M395.4,197.0L418.4,197.0L421.7,180.5L408.5,174.0L395.4,174.0Z" fill="#d3b282" filter="url(#blur3)"/><path d="M441.4,127.8L459.5,127.8L454.6,142.7L441.4,142.7Z" fill="#d3b282" filter="url(#blur3)"/><path d="M258.7,177.2L265.3,180.5L267.0,197.0L265.3,226.7L260.4,233.2L257.1,221.7L258.7,197.0Z" fill="#d3b282" filter="url(#blur3)"/><path d="M487.5,111.4L500.7,111.4L500.7,98.2L487.5,98.2Z" fill="#d3b282" filter="url(#blur3)"/></g></g><g clip-path="url(#lcA)"><g filter="url(#stexA)"><path d="M79.3,-0.6L293.3,-0.6L285.1,62.0L276.8,70.2L263.7,72.7L252.2,74.3L243.9,75.1L235.7,71.8L227.5,69.4L215.9,66.9L206.1,66.9L197.8,70.2L191.2,75.1L181.4,71.8L174.8,66.9L161.6,57.0L145.2,52.1L79.3,52.1Z" fill="#e8eaeb" filter="url(#blur2)"/><path d="M252.2,24.1L359.1,24.1L359.1,-0.6L252.2,-0.6Z" fill="#e8eaeb" filter="url(#blur2)"/><path d="M276.8,52.1L359.1,52.1L359.1,9.3L276.8,9.3Z" fill="#e8eaeb" filter="url(#blur2)"/><path d="M332.8,45.5L355.8,45.5L355.8,35.6L332.8,35.6Z" fill="#e8eaeb" filter="url(#blur2)"/><path d="M181.4,71.8L194.5,71.8L204.4,85.0L197.8,88.3L189.6,78.4Z" fill="#e8eaeb" filter="url(#blur2)"/><path d="M383.8,45.5L400.3,52.1L416.8,53.7L433.2,60.3L449.7,66.9L466.1,70.2L482.6,71.8L499.1,71.8L515.5,70.2L532.0,68.5L548.4,71.8L564.9,71.8L581.4,70.2L592.9,70.2L606.0,63.6L622.5,55.4L671.9,52.1L671.9,-0.6L383.8,-0.6Z" fill="#e8eaeb" filter="url(#blur2)"/><path d="M494.1,85.0L507.3,83.4L523.7,85.8L540.2,88.3L545.1,94.9L533.6,99.8L517.2,100.7L502.3,96.5Z" fill="#e8eaeb" filter="url(#blur2)"/><path d="M515.5,68.5L540.2,66.9L560.0,71.8L540.2,75.1L520.4,73.5Z" fill="#e8eaeb" filter="url(#blur2)"/><path d="M441.4,75.1L453.0,78.4L454.6,81.7L441.4,80.1Z" fill="#e8eaeb" filter="url(#blur2)"/><path d="M421.7,81.7L448.0,81.7L457.9,86.7L438.1,85.0Z" fill="#e8eaeb" filter="url(#blur2)"/></g></g><path d="M453.0,74.3L456.3,71.0L461.2,70.2L463.7,73.5L459.5,76.0L462.0,79.2L464.5,80.9L463.7,85.8L459.5,87.2L456.3,85.8L457.1,80.9L454.6,78.4L453.8,76.0Z" fill="#1e4a86"/><path d="M79.3,295.8L79.3,276.6L95.8,276.1L112.2,276.9L128.7,273.6L145.2,271.1L161.6,270.0L178.1,269.1L194.5,270.3L211.0,268.7L227.5,267.8L243.9,268.2L252.2,265.4L260.4,262.1L265.3,257.9L271.9,254.7L281.8,251.9L280.1,253.8L275.2,257.1L272.7,262.1L274.4,267.8L276.8,271.1L285.1,275.2L301.5,276.6L318.0,275.6L329.5,272.8L342.7,268.7L355.8,265.4L367.4,264.0L383.8,262.9L400.3,263.2L416.8,263.5L429.9,262.1L441.4,261.1L454.6,258.8L466.1,257.1L477.7,258.8L487.5,259.3L490.8,262.1L495.8,262.9L504.0,260.4L515.5,257.6L532.0,256.8L548.4,256.3L556.7,257.1L568.2,257.9L581.4,256.8L597.8,256.6L609.3,257.9L622.5,260.4L635.7,262.1L643.9,264.0L650.5,265.9L655.4,268.7L648.8,274.4L655.4,276.4L671.9,276.6L671.9,295.8Z" fill="#eff1f1"/><rect x="78.5" y="285.9" width="593.3" height="3.3" fill="#b8b2a4" opacity="0.18" filter="url(#blur2)"/></g><g clip-path="url(#mcA)"><circle cx="98.6" cy="26.8" r="15.9" fill="#0eace6"/><path d="M98.6,26.8L98.60,10.90M98.6,26.8L98.60,10.90M98.6,26.8L98.60,10.90M98.6,26.8L98.60,10.90" stroke="#000" stroke-width="0.8" fill="none"/><circle cx="98.6" cy="26.8" r="15.9" fill="none" stroke="#000" stroke-width="0.9"/><path d="M120.2,29.2L120.20,13.30A15.9,15.9 0 1 1 116.25,13.80Z" fill="#0eace6"/><path d="M120.2,29.2L116.25,13.80A15.9,15.9 0 0 1 120.20,13.30Z" fill="#ffff82"/><path d="M120.2,29.2L120.20,13.30M120.2,29.2L116.25,13.80M120.2,29.2L120.20,13.30M120.2,29.2L120.20,13.30" stroke="#000" stroke-width="0.8" fill="none"/><circle cx="120.2" cy="29.2" r="15.9" fill="none" stroke="#000" stroke-width="0.9"/><circle cx="234.8" cy="24.9" r="15.9" fill="#0eace6"/><path d="M234.8,24.9L234.80,9.00M234.8,24.9L234.80,9.00M234.8,24.9L234.80,9.00M234.8,24.9L234.80,9.00" stroke="#000" stroke-width="0.8" fill="none"/><circle cx="234.8" cy="24.9" r="15.9" fill="none" stroke="#000" stroke-width="0.9"/><circle cx="256.3" cy="28.0" r="15.9" fill="#0eace6"/><path d="M256.3,28.0L256.30,12.10M256.3,28.0L256.30,12.10M256.3,28.0L256.30,12.10M256.3,28.0L256.30,12.10" stroke="#000" stroke-width="0.8" fill="none"/><circle cx="256.3" cy="28.0" r="15.9" fill="none" stroke="#000" stroke-width="0.9"/><path d="M288.8,25.8L288.80,9.90A15.9,15.9 0 1 1 273.68,20.89Z" fill="#0eace6"/><path d="M288.8,25.8L273.68,20.89A15.9,15.9 0 0 1 283.89,10.68Z" fill="#ffff82"/><path d="M288.8,25.8L283.89,10.68A15.9,15.9 0 0 1 285.82,10.18Z" fill="#e24a5a"/><path d="M288.8,25.8L285.82,10.18A15.9,15.9 0 0 1 288.80,9.90Z" fill="#30b04e"/><path d="M288.8,25.8L288.80,9.90M288.8,25.8L273.68,20.89M288.8,25.8L283.89,10.68M288.8,25.8L285.82,10.18" stroke="#000" stroke-width="0.8" fill="none"/><circle cx="288.8" cy="25.8" r="15.9" fill="none" stroke="#000" stroke-width="0.9"/><path d="M287.4,41.0L287.40,25.10A15.9,15.9 0 1 1 273.47,33.34Z" fill="#0eace6"/><path d="M287.4,41.0L273.47,33.34A15.9,15.9 0 0 1 284.42,25.38Z" fill="#ffff82"/><path d="M287.4,41.0L284.42,25.38A15.9,15.9 0 0 1 285.41,25.23Z" fill="#e24a5a"/><path d="M287.4,41.0L285.41,25.23A15.9,15.9 0 0 1 287.40,25.10Z" fill="#30b04e"/><path d="M287.4,41.0L287.40,25.10M287.4,41.0L273.47,33.34M287.4,41.0L284.42,25.38M287.4,41.0L285.41,25.23" stroke="#000" stroke-width="0.8" fill="none"/><circle cx="287.4" cy="41.0" r="15.9" fill="none" stroke="#000" stroke-width="0.9"/><path d="M113.3,95.4L113.30,79.50A15.9,15.9 0 1 1 110.32,79.78Z" fill="#ffff82"/><path d="M113.3,95.4L110.32,79.78A15.9,15.9 0 0 1 113.30,79.50Z" fill="#30b04e"/><path d="M113.3,95.4L113.30,79.50M113.3,95.4L113.30,79.50M113.3,95.4L110.32,79.78M113.3,95.4L110.32,79.78" stroke="#000" stroke-width="0.8" fill="none"/><circle cx="113.3" cy="95.4" r="15.9" fill="none" stroke="#000" stroke-width="0.9"/><path d="M164.8,89.1L164.80,73.20A15.9,15.9 0 0 1 174.15,76.24Z" fill="#0eace6"/><path d="M164.8,89.1L174.15,76.24A15.9,15.9 0 1 1 150.02,83.25Z" fill="#ffff82"/><path d="M164.8,89.1L150.02,83.25A15.9,15.9 0 0 1 150.87,81.44Z" fill="#e24a5a"/><path d="M164.8,89.1L150.87,81.44A15.9,15.9 0 0 1 164.80,73.20Z" fill="#30b04e"/><path d="M164.8,89.1L164.80,73.20M164.8,89.1L174.15,76.24M164.8,89.1L150.02,83.25M164.8,89.1L150.87,81.44" stroke="#000" stroke-width="0.8" fill="none"/><circle cx="164.8" cy="89.1" r="15.9" fill="none" stroke="#000" stroke-width="0.9"/><path d="M183.3,124.4L183.30,108.50A15.9,15.9 0 0 1 185.29,108.63Z" fill="#0eace6"/><path d="M183.3,124.4L185.29,108.63A15.9,15.9 0 1 1 176.53,110.01Z" fill="#ffff82"/><path d="M183.3,124.4L176.53,110.01A15.9,15.9 0 0 1 183.30,108.50Z" fill="#30b04e"/><path d="M183.3,124.4L183.30,108.50M183.3,124.4L185.29,108.63M183.3,124.4L176.53,110.01M183.3,124.4L176.53,110.01" stroke="#000" stroke-width="0.8" fill="none"/><circle cx="183.3" cy="124.4" r="15.9" fill="none" stroke="#000" stroke-width="0.9"/><path d="M205.8,136.5L205.80,120.60A15.9,15.9 0 0 1 212.57,122.11Z" fill="#0eace6"/><path d="M205.8,136.5L212.57,122.11A15.9,15.9 0 1 1 199.95,121.72Z" fill="#ffff82"/><path d="M205.8,136.5L199.95,121.72A15.9,15.9 0 0 1 205.80,120.60Z" fill="#30b04e"/><path d="M205.8,136.5L205.80,120.60M205.8,136.5L212.57,122.11M205.8,136.5L199.95,121.72M205.8,136.5L199.95,121.72" stroke="#000" stroke-width="0.8" fill="none"/><circle cx="205.8" cy="136.5" r="15.9" fill="none" stroke="#000" stroke-width="0.9"/><path d="M122.1,147.3L122.10,131.40A15.9,15.9 0 0 1 125.08,131.68Z" fill="#0eace6"/><path d="M122.1,147.3L125.08,131.68A15.9,15.9 0 1 1 116.25,132.52Z" fill="#ffff82"/><path d="M122.1,147.3L116.25,132.52A15.9,15.9 0 0 1 117.19,132.18Z" fill="#e24a5a"/><path d="M122.1,147.3L117.19,132.18A15.9,15.9 0 0 1 122.10,131.40Z" fill="#30b04e"/><path d="M122.1,147.3L122.10,131.40M122.1,147.3L125.08,131.68M122.1,147.3L116.25,132.52M122.1,147.3L117.19,132.18" stroke="#000" stroke-width="0.8" fill="none"/><circle cx="122.1" cy="147.3" r="15.9" fill="none" stroke="#000" stroke-width="0.9"/><circle cx="147.5" cy="163.5" r="15.9" fill="#ffff82"/><path d="M147.5,163.5L147.50,147.60M147.5,163.5L147.50,147.60M147.5,163.5L147.50,147.60M147.5,163.5L147.50,147.60" stroke="#000" stroke-width="0.8" fill="none"/><circle cx="147.5" cy="163.5" r="15.9" fill="none" stroke="#000" stroke-width="0.9"/><circle cx="145.5" cy="162.9" r="15.9" fill="#ffff82"/><path d="M145.5,162.9L145.50,147.00M145.5,162.9L145.50,147.00M145.5,162.9L145.50,147.00M145.5,162.9L145.50,147.00" stroke="#000" stroke-width="0.8" fill="none"/><circle cx="145.5" cy="162.9" r="15.9" fill="none" stroke="#000" stroke-width="0.9"/><path d="M142.1,162.1L142.10,146.20A15.9,15.9 0 0 1 147.01,146.98Z" fill="#0eace6"/><path d="M142.1,162.1L147.01,146.98A15.9,15.9 0 1 1 138.15,146.70Z" fill="#ffff82"/><path d="M142.1,162.1L138.15,146.70A15.9,15.9 0 0 1 142.10,146.20Z" fill="#30b04e"/><path d="M142.1,162.1L142.10,146.20M142.1,162.1L147.01,146.98M142.1,162.1L138.15,146.70M142.1,162.1L138.15,146.70" stroke="#000" stroke-width="0.8" fill="none"/><circle cx="142.1" cy="162.1" r="15.9" fill="none" stroke="#000" stroke-width="0.9"/><path d="M161.5,185.8L161.50,169.90A15.9,15.9 0 0 1 164.48,170.18Z" fill="#0eace6"/><path d="M161.5,185.8L164.48,170.18A15.9,15.9 0 1 1 156.59,170.68Z" fill="#ffff82"/><path d="M161.5,185.8L156.59,170.68A15.9,15.9 0 0 1 161.50,169.90Z" fill="#30b04e"/><path d="M161.5,185.8L161.50,169.90M161.5,185.8L164.48,170.18M161.5,185.8L156.59,170.68M161.5,185.8L156.59,170.68" stroke="#000" stroke-width="0.8" fill="none"/><circle cx="161.5" cy="185.8" r="15.9" fill="none" stroke="#000" stroke-width="0.9"/><path d="M229.5,105.3L229.50,89.40A15.9,15.9 0 0 1 235.35,90.52Z" fill="#0eace6"/><path d="M229.5,105.3L235.35,90.52A15.9,15.9 0 1 1 215.57,112.96Z" fill="#ffff82"/><path d="M229.5,105.3L215.57,112.96A15.9,15.9 0 0 1 214.10,101.35Z" fill="#e24a5a"/><path d="M229.5,105.3L214.10,101.35A15.9,15.9 0 0 1 229.50,89.40Z" fill="#30b04e"/><path d="M229.5,105.3L229.50,89.40M229.5,105.3L235.35,90.52M229.5,105.3L215.57,112.96M229.5,105.3L214.10,101.35" stroke="#000" stroke-width="0.8" fill="none"/><circle cx="229.5" cy="105.3" r="15.9" fill="none" stroke="#000" stroke-width="0.9"/><circle cx="244.5" cy="140.5" r="15.9" fill="#ffff82"/><path d="M244.5,140.5L244.50,124.60M244.5,140.5L244.50,124.60M244.5,140.5L244.50,124.60M244.5,140.5L244.50,124.60" stroke="#000" stroke-width="0.8" fill="none"/><circle cx="244.5" cy="140.5" r="15.9" fill="none" stroke="#000" stroke-width="0.9"/><circle cx="244.4" cy="137.8" r="15.9" fill="#ffff82"/><path d="M244.4,137.8L244.40,121.90M244.4,137.8L244.40,121.90M244.4,137.8L244.40,121.90M244.4,137.8L244.40,121.90" stroke="#000" stroke-width="0.8" fill="none"/><circle cx="244.4" cy="137.8" r="15.9" fill="none" stroke="#000" stroke-width="0.9"/><path d="M243.6,131.7L243.60,115.80A15.9,15.9 0 0 1 259.00,127.75Z" fill="#0eace6"/><path d="M243.6,131.7L259.00,127.75A15.9,15.9 0 0 1 236.83,146.09Z" fill="#ffff82"/><path d="M243.6,131.7L236.83,146.09A15.9,15.9 0 0 1 228.20,127.75Z" fill="#e24a5a"/><path d="M243.6,131.7L228.20,127.75A15.9,15.9 0 0 1 243.60,115.80Z" fill="#30b04e"/><path d="M243.6,131.7L243.60,115.80M243.6,131.7L259.00,127.75M243.6,131.7L236.83,146.09M243.6,131.7L228.20,127.75" stroke="#000" stroke-width="0.8" fill="none"/><circle cx="243.6" cy="131.7" r="15.9" fill="none" stroke="#000" stroke-width="0.9"/><path d="M216.7,162.1L216.70,146.20A15.9,15.9 0 0 1 219.68,146.48Z" fill="#0eace6"/><path d="M216.7,162.1L219.68,146.48A15.9,15.9 0 1 1 216.70,146.20Z" fill="#ffff82"/><path d="M216.7,162.1L216.70,146.20M216.7,162.1L219.68,146.48M216.7,162.1L216.70,146.20M216.7,162.1L216.70,146.20" stroke="#000" stroke-width="0.8" fill="none"/><circle cx="216.7" cy="162.1" r="15.9" fill="none" stroke="#000" stroke-width="0.9"/><path d="M225.4,169.0L225.40,153.10A15.9,15.9 0 1 1 220.49,153.88Z" fill="#ffff82"/><path d="M225.4,169.0L220.49,153.88A15.9,15.9 0 0 1 221.45,153.60Z" fill="#e24a5a"/><path d="M225.4,169.0L221.45,153.60A15.9,15.9 0 0 1 225.40,153.10Z" fill="#30b04e"/><path d="M225.4,169.0L225.40,153.10M225.4,169.0L225.40,153.10M225.4,169.0L220.49,153.88M225.4,169.0L221.45,153.60" stroke="#000" stroke-width="0.8" fill="none"/><circle cx="225.4" cy="169.0" r="15.9" fill="none" stroke="#000" stroke-width="0.9"/><path d="M235.8,152.5L235.80,136.60A15.9,15.9 0 1 1 230.89,137.38Z" fill="#ffff82"/><path d="M235.8,152.5L230.89,137.38A15.9,15.9 0 0 1 231.85,137.10Z" fill="#e24a5a"/><path d="M235.8,152.5L231.85,137.10A15.9,15.9 0 0 1 235.80,136.60Z" fill="#30b04e"/><path d="M235.8,152.5L235.80,136.60M235.8,152.5L235.80,136.60M235.8,152.5L230.89,137.38M235.8,152.5L231.85,137.10" stroke="#000" stroke-width="0.8" fill="none"/><circle cx="235.8" cy="152.5" r="15.9" fill="none" stroke="#000" stroke-width="0.9"/><path d="M211.5,170.7L211.50,154.80A15.9,15.9 0 0 1 227.40,170.70Z" fill="#0eace6"/><path d="M211.5,170.7L227.40,170.70A15.9,15.9 0 1 1 204.73,156.31Z" fill="#ffff82"/><path d="M211.5,170.7L204.73,156.31A15.9,15.9 0 0 1 206.59,155.58Z" fill="#e24a5a"/><path d="M211.5,170.7L206.59,155.58A15.9,15.9 0 0 1 211.50,154.80Z" fill="#30b04e"/><path d="M211.5,170.7L211.50,154.80M211.5,170.7L227.40,170.70M211.5,170.7L204.73,156.31M211.5,170.7L206.59,155.58" stroke="#000" stroke-width="0.8" fill="none"/><circle cx="211.5" cy="170.7" r="15.9" fill="none" stroke="#000" stroke-width="0.9"/><circle cx="210.6" cy="199.4" r="15.9" fill="#ffff82"/><path d="M210.6,199.4L210.60,183.50M210.6,199.4L210.60,183.50M210.6,199.4L210.60,183.50M210.6,199.4L210.60,183.50" stroke="#000" stroke-width="0.8" fill="none"/><circle cx="210.6" cy="199.4" r="15.9" fill="none" stroke="#000" stroke-width="0.9"/><path d="M187.2,191.6L187.20,175.70A15.9,15.9 0 1 1 176.32,180.01Z" fill="#ffff82"/><path d="M187.2,191.6L176.32,180.01A15.9,15.9 0 0 1 181.35,176.82Z" fill="#e24a5a"/><path d="M187.2,191.6L181.35,176.82A15.9,15.9 0 0 1 187.20,175.70Z" fill="#30b04e"/><path d="M187.2,191.6L187.20,175.70M187.2,191.6L187.20,175.70M187.2,191.6L176.32,180.01M187.2,191.6L181.35,176.82" stroke="#000" stroke-width="0.8" fill="none"/><circle cx="187.2" cy="191.6" r="15.9" fill="none" stroke="#000" stroke-width="0.9"/><path d="M202.8,182.0L202.80,166.10A15.9,15.9 0 0 1 205.78,166.38Z" fill="#0eace6"/><path d="M202.8,182.0L205.78,166.38A15.9,15.9 0 1 1 197.89,166.88Z" fill="#ffff82"/><path d="M202.8,182.0L197.89,166.88A15.9,15.9 0 0 1 202.80,166.10Z" fill="#30b04e"/><path d="M202.8,182.0L202.80,166.10M202.8,182.0L205.78,166.38M202.8,182.0L197.89,166.88M202.8,182.0L197.89,166.88" stroke="#000" stroke-width="0.8" fill="none"/><circle cx="202.8" cy="182.0" r="15.9" fill="none" stroke="#000" stroke-width="0.9"/><path d="M254.9,203.7L254.90,187.80A15.9,15.9 0 0 1 269.29,196.93Z" fill="#0eace6"/><path d="M254.9,203.7L269.29,196.93A15.9,15.9 0 0 1 245.55,216.56Z" fill="#ffff82"/><path d="M254.9,203.7L245.55,216.56A15.9,15.9 0 0 1 239.00,203.70Z" fill="#e24a5a"/><path d="M254.9,203.7L239.00,203.70A15.9,15.9 0 0 1 254.90,187.80Z" fill="#30b04e"/><path d="M254.9,203.7L254.90,187.80M254.9,203.7L269.29,196.93M254.9,203.7L245.55,216.56M254.9,203.7L239.00,203.70" stroke="#000" stroke-width="0.8" fill="none"/><circle cx="254.9" cy="203.7" r="15.9" fill="none" stroke="#000" stroke-width="0.9"/><path d="M280.0,221.1L280.00,205.20A15.9,15.9 0 1 1 269.12,209.51Z" fill="#0eace6"/><path d="M280.0,221.1L269.12,209.51A15.9,15.9 0 0 1 278.01,205.33Z" fill="#ffff82"/><path d="M280.0,221.1L278.01,205.33A15.9,15.9 0 0 1 280.00,205.20Z" fill="#30b04e"/><path d="M280.0,221.1L280.00,205.20M280.0,221.1L269.12,209.51M280.0,221.1L278.01,205.33M280.0,221.1L278.01,205.33" stroke="#000" stroke-width="0.8" fill="none"/><circle cx="280.0" cy="221.1" r="15.9" fill="none" stroke="#000" stroke-width="0.9"/><path d="M273.9,242.8L273.90,226.90A15.9,15.9 0 1 1 261.04,233.45Z" fill="#0eace6"/><path d="M273.9,242.8L261.04,233.45A15.9,15.9 0 0 1 270.92,227.18Z" fill="#ffff82"/><path d="M273.9,242.8L270.92,227.18A15.9,15.9 0 0 1 273.90,226.90Z" fill="#30b04e"/><path d="M273.9,242.8L273.90,226.90M273.9,242.8L261.04,233.45M273.9,242.8L270.92,227.18M273.9,242.8L270.92,227.18" stroke="#000" stroke-width="0.8" fill="none"/><circle cx="273.9" cy="242.8" r="15.9" fill="none" stroke="#000" stroke-width="0.9"/><path d="M292.2,247.1L292.20,231.20A15.9,15.9 0 1 1 284.54,233.17Z" fill="#0eace6"/><path d="M292.2,247.1L284.54,233.17A15.9,15.9 0 0 1 291.20,231.23Z" fill="#ffff82"/><path d="M292.2,247.1L291.20,231.23A15.9,15.9 0 0 1 292.20,231.20Z" fill="#30b04e"/><path d="M292.2,247.1L292.20,231.20M292.2,247.1L284.54,233.17M292.2,247.1L291.20,231.23M292.2,247.1L291.20,231.23" stroke="#000" stroke-width="0.8" fill="none"/><circle cx="292.2" cy="247.1" r="15.9" fill="none" stroke="#000" stroke-width="0.9"/><path d="M316.5,179.4L316.50,163.50A15.9,15.9 0 0 1 318.49,163.63Z" fill="#0eace6"/><path d="M316.5,179.4L318.49,163.63A15.9,15.9 0 1 1 307.15,166.54Z" fill="#ffff82"/><path d="M316.5,179.4L307.15,166.54A15.9,15.9 0 0 1 316.50,163.50Z" fill="#30b04e"/><path d="M316.5,179.4L316.50,163.50M316.5,179.4L318.49,163.63M316.5,179.4L307.15,166.54M316.5,179.4L307.15,166.54" stroke="#000" stroke-width="0.8" fill="none"/><circle cx="316.5" cy="179.4" r="15.9" fill="none" stroke="#000" stroke-width="0.9"/><path d="M304.3,195.9L304.30,180.00A15.9,15.9 0 0 1 308.25,180.50Z" fill="#0eace6"/><path d="M304.3,195.9L308.25,180.50A15.9,15.9 0 1 1 289.91,189.13Z" fill="#ffff82"/><path d="M304.3,195.9L289.91,189.13A15.9,15.9 0 0 1 290.88,187.38Z" fill="#e24a5a"/><path d="M304.3,195.9L290.88,187.38A15.9,15.9 0 0 1 304.30,180.00Z" fill="#30b04e"/><path d="M304.3,195.9L304.30,180.00M304.3,195.9L308.25,180.50M304.3,195.9L289.91,189.13M304.3,195.9L290.88,187.38" stroke="#000" stroke-width="0.8" fill="none"/><circle cx="304.3" cy="195.9" r="15.9" fill="none" stroke="#000" stroke-width="0.9"/><path d="M260.6,81.5L260.60,65.60A15.9,15.9 0 0 1 268.26,67.57Z" fill="#0eace6"/><path d="M260.6,81.5L268.26,67.57A15.9,15.9 0 0 1 273.46,90.85Z" fill="#ffff82"/><path d="M260.6,81.5L273.46,90.85A15.9,15.9 0 0 1 245.48,86.41Z" fill="#e24a5a"/><path d="M260.6,81.5L245.48,86.41A15.9,15.9 0 0 1 260.60,65.60Z" fill="#30b04e"/><path d="M260.6,81.5L260.60,65.60M260.6,81.5L268.26,67.57M260.6,81.5L273.46,90.85M260.6,81.5L245.48,86.41" stroke="#000" stroke-width="0.8" fill="none"/><circle cx="260.6" cy="81.5" r="15.9" fill="none" stroke="#000" stroke-width="0.9"/><path d="M270.0,94.5L270.00,78.60A15.9,15.9 0 0 1 277.66,80.57Z" fill="#0eace6"/><path d="M270.0,94.5L277.66,80.57A15.9,15.9 0 0 1 282.86,103.85Z" fill="#ffff82"/><path d="M270.0,94.5L282.86,103.85A15.9,15.9 0 0 1 254.88,99.41Z" fill="#e24a5a"/><path d="M270.0,94.5L254.88,99.41A15.9,15.9 0 0 1 270.00,78.60Z" fill="#30b04e"/><path d="M270.0,94.5L270.00,78.60M270.0,94.5L277.66,80.57M270.0,94.5L282.86,103.85M270.0,94.5L254.88,99.41" stroke="#000" stroke-width="0.8" fill="none"/><circle cx="270.0" cy="94.5" r="15.9" fill="none" stroke="#000" stroke-width="0.9"/><path d="M293.2,91.6L293.20,75.70A15.9,15.9 0 0 1 299.05,76.82Z" fill="#0eace6"/><path d="M293.2,91.6L299.05,76.82A15.9,15.9 0 0 1 306.62,100.12Z" fill="#ffff82"/><path d="M293.2,91.6L306.62,100.12A15.9,15.9 0 0 1 283.85,104.46Z" fill="#e24a5a"/><path d="M293.2,91.6L283.85,104.46A15.9,15.9 0 0 1 293.20,75.70Z" fill="#30b04e"/><path d="M293.2,91.6L293.20,75.70M293.2,91.6L299.05,76.82M293.2,91.6L306.62,100.12M293.2,91.6L283.85,104.46" stroke="#000" stroke-width="0.8" fill="none"/><circle cx="293.2" cy="91.6" r="15.9" fill="none" stroke="#000" stroke-width="0.9"/><path d="M314.1,88.0L314.10,72.10A15.9,15.9 0 0 1 319.01,72.88Z" fill="#0eace6"/><path d="M314.1,88.0L319.01,72.88A15.9,15.9 0 0 1 329.22,92.91Z" fill="#ffff82"/><path d="M314.1,88.0L329.22,92.91A15.9,15.9 0 0 1 314.10,103.90Z" fill="#e24a5a"/><path d="M314.1,88.0L314.10,103.90A15.9,15.9 0 0 1 314.10,72.10Z" fill="#30b04e"/><path d="M314.1,88.0L314.10,72.10M314.1,88.0L319.01,72.88M314.1,88.0L329.22,92.91M314.1,88.0L314.10,103.90" stroke="#000" stroke-width="0.8" fill="none"/><circle cx="314.1" cy="88.0" r="15.9" fill="none" stroke="#000" stroke-width="0.9"/><path d="M328.6,87.2L328.60,71.30A15.9,15.9 0 0 1 332.55,71.80Z" fill="#0eace6"/><path d="M328.6,87.2L332.55,71.80A15.9,15.9 0 0 1 336.26,101.13Z" fill="#ffff82"/><path d="M328.6,87.2L336.26,101.13A15.9,15.9 0 0 1 320.08,100.62Z" fill="#e24a5a"/><path d="M328.6,87.2L320.08,100.62A15.9,15.9 0 0 1 328.60,71.30Z" fill="#30b04e"/><path d="M328.6,87.2L328.60,71.30M328.6,87.2L332.55,71.80M328.6,87.2L336.26,101.13M328.6,87.2L320.08,100.62" stroke="#000" stroke-width="0.8" fill="none"/><circle cx="328.6" cy="87.2" r="15.9" fill="none" stroke="#000" stroke-width="0.9"/><path d="M347.7,75.2L347.70,59.30A15.9,15.9 0 0 1 361.63,67.54Z" fill="#0eace6"/><path d="M347.7,75.2L361.63,67.54A15.9,15.9 0 1 1 332.30,79.15Z" fill="#ffff82"/><path d="M347.7,75.2L332.30,79.15A15.9,15.9 0 0 1 331.83,74.20Z" fill="#e24a5a"/><path d="M347.7,75.2L331.83,74.20A15.9,15.9 0 0 1 347.70,59.30Z" fill="#30b04e"/><path d="M347.7,75.2L347.70,59.30M347.7,75.2L361.63,67.54M347.7,75.2L332.30,79.15M347.7,75.2L331.83,74.20" stroke="#000" stroke-width="0.8" fill="none"/><circle cx="347.7" cy="75.2" r="15.9" fill="none" stroke="#000" stroke-width="0.9"/><path d="M398.0,88.2L398.00,72.30A15.9,15.9 0 0 1 413.12,93.11Z" fill="#0eace6"/><path d="M398.0,88.2L413.12,93.11A15.9,15.9 0 0 1 382.88,93.11Z" fill="#ffff82"/><path d="M398.0,88.2L382.88,93.11A15.9,15.9 0 0 1 382.88,83.29Z" fill="#e24a5a"/><path d="M398.0,88.2L382.88,83.29A15.9,15.9 0 0 1 398.00,72.30Z" fill="#30b04e"/><path d="M398.0,88.2L398.00,72.30M398.0,88.2L413.12,93.11M398.0,88.2L382.88,93.11M398.0,88.2L382.88,83.29" stroke="#000" stroke-width="0.8" fill="none"/><circle cx="398.0" cy="88.2" r="15.9" fill="none" stroke="#000" stroke-width="0.9"/><path d="M428.5,102.5L428.50,86.60A15.9,15.9 0 0 1 431.48,86.88Z" fill="#0eace6"/><path d="M428.5,102.5L431.48,86.88A15.9,15.9 0 1 1 417.62,90.91Z" fill="#ffff82"/><path d="M428.5,102.5L417.62,90.91A15.9,15.9 0 0 1 419.15,89.64Z" fill="#e24a5a"/><path d="M428.5,102.5L419.15,89.64A15.9,15.9 0 0 1 428.50,86.60Z" fill="#30b04e"/><path d="M428.5,102.5L428.50,86.60M428.5,102.5L431.48,86.88M428.5,102.5L417.62,90.91M428.5,102.5L419.15,89.64" stroke="#000" stroke-width="0.8" fill="none"/><circle cx="428.5" cy="102.5" r="15.9" fill="none" stroke="#000" stroke-width="0.9"/><path d="M431.0,98.5L431.00,82.60A15.9,15.9 0 0 1 435.91,83.38Z" fill="#0eace6"/><path d="M431.0,98.5L435.91,83.38A15.9,15.9 0 1 1 415.88,93.59Z" fill="#ffff82"/><path d="M431.0,98.5L415.88,93.59A15.9,15.9 0 0 1 416.61,91.73Z" fill="#e24a5a"/><path d="M431.0,98.5L416.61,91.73A15.9,15.9 0 0 1 431.00,82.60Z" fill="#30b04e"/><path d="M431.0,98.5L431.00,82.60M431.0,98.5L435.91,83.38M431.0,98.5L415.88,93.59M431.0,98.5L416.61,91.73" stroke="#000" stroke-width="0.8" fill="none"/><circle cx="431.0" cy="98.5" r="15.9" fill="none" stroke="#000" stroke-width="0.9"/><path d="M438.0,110.7L438.00,94.80A15.9,15.9 0 0 1 444.77,96.31Z" fill="#0eace6"/><path d="M438.0,110.7L444.77,96.31A15.9,15.9 0 0 1 453.77,112.69Z" fill="#ffff82"/><path d="M438.0,110.7L453.77,112.69A15.9,15.9 0 0 1 422.13,111.70Z" fill="#e24a5a"/><path d="M438.0,110.7L422.13,111.70A15.9,15.9 0 0 1 438.00,94.80Z" fill="#30b04e"/><path d="M438.0,110.7L438.00,94.80M438.0,110.7L444.77,96.31M438.0,110.7L453.77,112.69M438.0,110.7L422.13,111.70" stroke="#000" stroke-width="0.8" fill="none"/><circle cx="438.0" cy="110.7" r="15.9" fill="none" stroke="#000" stroke-width="0.9"/><path d="M490.9,122.0L490.90,106.10A15.9,15.9 0 0 1 498.56,108.07Z" fill="#0eace6"/><path d="M490.9,122.0L498.56,108.07A15.9,15.9 0 0 1 506.02,126.91Z" fill="#ffff82"/><path d="M490.9,122.0L506.02,126.91A15.9,15.9 0 0 1 503.76,131.35Z" fill="#e24a5a"/><path d="M490.9,122.0L503.76,131.35A15.9,15.9 0 1 1 490.90,106.10Z" fill="#30b04e"/><path d="M490.9,122.0L490.90,106.10M490.9,122.0L498.56,108.07M490.9,122.0L506.02,126.91M490.9,122.0L503.76,131.35" stroke="#000" stroke-width="0.8" fill="none"/><circle cx="490.9" cy="122.0" r="15.9" fill="none" stroke="#000" stroke-width="0.9"/><path d="M497.0,137.6L497.00,121.70A15.9,15.9 0 0 1 498.99,121.83Z" fill="#0eace6"/><path d="M497.0,137.6L498.99,121.83A15.9,15.9 0 1 1 489.34,123.67Z" fill="#ffff82"/><path d="M497.0,137.6L489.34,123.67A15.9,15.9 0 0 1 497.00,121.70Z" fill="#30b04e"/><path d="M497.0,137.6L497.00,121.70M497.0,137.6L498.99,121.83M497.0,137.6L489.34,123.67M497.0,137.6L489.34,123.67" stroke="#000" stroke-width="0.8" fill="none"/><circle cx="497.0" cy="137.6" r="15.9" fill="none" stroke="#000" stroke-width="0.9"/><path d="M464.0,175.0L464.00,159.10A15.9,15.9 0 0 1 478.39,168.23Z" fill="#0eace6"/><path d="M464.0,175.0L478.39,168.23A15.9,15.9 0 1 1 448.60,178.95Z" fill="#ffff82"/><path d="M464.0,175.0L448.60,178.95A15.9,15.9 0 0 1 448.38,172.02Z" fill="#e24a5a"/><path d="M464.0,175.0L448.38,172.02A15.9,15.9 0 0 1 464.00,159.10Z" fill="#30b04e"/><path d="M464.0,175.0L464.00,159.10M464.0,175.0L478.39,168.23M464.0,175.0L448.60,178.95M464.0,175.0L448.38,172.02" stroke="#000" stroke-width="0.8" fill="none"/><circle cx="464.0" cy="175.0" r="15.9" fill="none" stroke="#000" stroke-width="0.9"/><path d="M346.0,161.1L346.00,145.20A15.9,15.9 0 0 1 347.99,145.33Z" fill="#0eace6"/><path d="M346.0,161.1L347.99,145.33A15.9,15.9 0 1 1 339.23,146.71Z" fill="#ffff82"/><path d="M346.0,161.1L339.23,146.71A15.9,15.9 0 0 1 346.00,145.20Z" fill="#30b04e"/><path d="M346.0,161.1L346.00,145.20M346.0,161.1L347.99,145.33M346.0,161.1L339.23,146.71M346.0,161.1L339.23,146.71" stroke="#000" stroke-width="0.8" fill="none"/><circle cx="346.0" cy="161.1" r="15.9" fill="none" stroke="#000" stroke-width="0.9"/><path d="M369.4,180.2L369.40,164.30A15.9,15.9 0 0 1 384.18,174.35Z" fill="#0eace6"/><path d="M369.4,180.2L384.18,174.35A15.9,15.9 0 1 1 353.63,182.19Z" fill="#ffff82"/><path d="M369.4,180.2L353.63,182.19A15.9,15.9 0 0 1 353.53,179.20Z" fill="#e24a5a"/><path d="M369.4,180.2L353.53,179.20A15.9,15.9 0 0 1 369.40,164.30Z" fill="#30b04e"/><path d="M369.4,180.2L369.40,164.30M369.4,180.2L384.18,174.35M369.4,180.2L353.63,182.19M369.4,180.2L353.53,179.20" stroke="#000" stroke-width="0.8" fill="none"/><circle cx="369.4" cy="180.2" r="15.9" fill="none" stroke="#000" stroke-width="0.9"/><path d="M383.0,199.5L383.00,183.60A15.9,15.9 0 0 1 398.90,199.50Z" fill="#0eace6"/><path d="M383.0,199.5L398.90,199.50A15.9,15.9 0 1 1 367.88,194.59Z" fill="#ffff82"/><path d="M383.0,199.5L367.88,194.59A15.9,15.9 0 0 1 369.07,191.84Z" fill="#e24a5a"/><path d="M383.0,199.5L369.07,191.84A15.9,15.9 0 0 1 383.00,183.60Z" fill="#30b04e"/><path d="M383.0,199.5L383.00,183.60M383.0,199.5L398.90,199.50M383.0,199.5L367.88,194.59M383.0,199.5L369.07,191.84" stroke="#000" stroke-width="0.8" fill="none"/><circle cx="383.0" cy="199.5" r="15.9" fill="none" stroke="#000" stroke-width="0.9"/><path d="M406.2,199.5L406.20,183.60A15.9,15.9 0 0 1 410.15,214.90Z" fill="#0eace6"/><path d="M406.2,199.5L410.15,214.90A15.9,15.9 0 0 1 391.08,204.41Z" fill="#ffff82"/><path d="M406.2,199.5L391.08,204.41A15.9,15.9 0 0 1 390.58,202.48Z" fill="#e24a5a"/><path d="M406.2,199.5L390.58,202.48A15.9,15.9 0 0 1 406.20,183.60Z" fill="#30b04e"/><path d="M406.2,199.5L406.20,183.60M406.2,199.5L410.15,214.90M406.2,199.5L391.08,204.41M406.2,199.5L390.58,202.48" stroke="#000" stroke-width="0.8" fill="none"/><circle cx="406.2" cy="199.5" r="15.9" fill="none" stroke="#000" stroke-width="0.9"/><circle cx="495.5" cy="18.2" r="15.9" fill="#0eace6"/><path d="M495.5,18.2L495.50,2.30M495.5,18.2L495.50,2.30M495.5,18.2L495.50,2.30M495.5,18.2L495.50,2.30" stroke="#000" stroke-width="0.8" fill="none"/><circle cx="495.5" cy="18.2" r="15.9" fill="none" stroke="#000" stroke-width="0.9"/><circle cx="500.4" cy="24.6" r="15.9" fill="#0eace6"/><path d="M500.4,24.6L500.40,8.70M500.4,24.6L500.40,8.70M500.4,24.6L500.40,8.70M500.4,24.6L500.40,8.70" stroke="#000" stroke-width="0.8" fill="none"/><circle cx="500.4" cy="24.6" r="15.9" fill="none" stroke="#000" stroke-width="0.9"/><circle cx="526.5" cy="18.7" r="15.9" fill="#0eace6"/><path d="M526.5,18.7L526.50,2.80M526.5,18.7L526.50,2.80M526.5,18.7L526.50,2.80M526.5,18.7L526.50,2.80" stroke="#000" stroke-width="0.8" fill="none"/><circle cx="526.5" cy="18.7" r="15.9" fill="none" stroke="#000" stroke-width="0.9"/><circle cx="568.4" cy="19.4" r="15.9" fill="#0eace6"/><path d="M568.4,19.4L568.40,3.50M568.4,19.4L568.40,3.50M568.4,19.4L568.40,3.50M568.4,19.4L568.40,3.50" stroke="#000" stroke-width="0.8" fill="none"/><circle cx="568.4" cy="19.4" r="15.9" fill="none" stroke="#000" stroke-width="0.9"/><circle cx="640.0" cy="29.6" r="15.9" fill="#0eace6"/><path d="M640.0,29.6L640.00,13.70M640.0,29.6L640.00,13.70M640.0,29.6L640.00,13.70M640.0,29.6L640.00,13.70" stroke="#000" stroke-width="0.8" fill="none"/><circle cx="640.0" cy="29.6" r="15.9" fill="none" stroke="#000" stroke-width="0.9"/><circle cx="663.1" cy="30.4" r="15.9" fill="#0eace6"/><path d="M663.1,30.4L663.10,14.50M663.1,30.4L663.10,14.50M663.1,30.4L663.10,14.50M663.1,30.4L663.10,14.50" stroke="#000" stroke-width="0.8" fill="none"/><circle cx="663.1" cy="30.4" r="15.9" fill="none" stroke="#000" stroke-width="0.9"/></g><text transform="translate(86.3,257.7) scale(0.93,1)" font-family="Liberation Serif" font-weight="bold" font-size="32.5" fill="#ffff00">SF</text><rect x="515.8" y="215.1" width="158.5" height="74.5" fill="#fff" stroke="#000" stroke-width="1.2"/><rect x="517.5" y="217.6" width="32.7" height="14.700000000000017" fill="#0eace6" stroke="#333" stroke-width="0.9"/><text x="555" y="230.2" font-family="Liberation Sans" font-size="14.5">Amino acids</text><rect x="517.5" y="235.5" width="32.7" height="15.199999999999989" fill="#ffff82" stroke="#333" stroke-width="0.9"/><text x="555" y="248.3" font-family="Liberation Sans" font-size="14.5">Ammonium</text><rect x="517.5" y="253.9" width="32.7" height="14.799999999999983" fill="#e24a5a" stroke="#333" stroke-width="0.9"/><text x="555" y="266.5" font-family="Liberation Sans" font-size="14.5">Nitrate</text><rect x="517.5" y="272.1" width="32.7" height="15.5" fill="#30b04e" stroke="#333" stroke-width="0.9"/><text x="555" y="285.1" font-family="Liberation Sans" font-size="14.5">Small organic mol</text><g stroke="#000" stroke-width="1.5" fill="none"><path d="M78.5,0V295.8H671.8"/><path d="M78.5,295.8h-3M78.5,279.4h-6M78.5,262.9h-3M78.5,246.4h-6M78.5,229.9h-3M78.5,213.5h-6M78.5,197.0h-3M78.5,180.5h-6M78.5,164.1h-3M78.5,147.6h-6M78.5,131.1h-3M78.5,114.7h-6M78.5,98.2h-3M78.5,81.7h-6M78.5,65.2h-3M78.5,48.8h-6M78.5,32.3h-3M78.5,15.8h-6M78.5,-0.6h-3M87.6,295.8v3M128.7,295.8v6M169.9,295.8v3M211.0,295.8v6M252.2,295.8v3M293.3,295.8v6M334.5,295.8v3M375.6,295.8v6M416.8,295.8v3M457.9,295.8v6M499.1,295.8v3M540.2,295.8v6M581.4,295.8v3M622.5,295.8v6M663.7,295.8v3"/></g><g font-family="Liberation Sans" font-size="14.8" fill="#000"><text x="67.0" y="283.8" text-anchor="end">-80</text><text x="67.0" y="250.9" text-anchor="end">-60</text><text x="67.0" y="217.9" text-anchor="end">-40</text><text x="67.0" y="185.0" text-anchor="end">-20</text><text x="67.0" y="152.0" text-anchor="end">0</text><text x="67.0" y="119.1" text-anchor="end">20</text><text x="67.0" y="86.2" text-anchor="end">40</text><text x="67.0" y="53.2" text-anchor="end">60</text><text x="67.0" y="20.3" text-anchor="end">80</text><text x="128.7" y="318.4" text-anchor="middle">-150</text><text x="211.0" y="318.4" text-anchor="middle">-100</text><text x="293.3" y="318.4" text-anchor="middle">-50</text><text x="375.6" y="318.4" text-anchor="middle">0</text><text x="457.9" y="318.4" text-anchor="middle">50</text><text x="540.2" y="318.4" text-anchor="middle">100</text><text x="622.5" y="318.4" text-anchor="middle">150</text><text x="375.5" y="347" text-anchor="middle" font-size="18">longitude</text><text transform="translate(39,148) rotate(-90)" text-anchor="middle" font-size="18">latitude</text></g><clipPath id="mcB"><rect x="772.4" y="0.5" width="607.1" height="303.8"/></clipPath><clipPath id="lcB"><path d="M792.4,41.6L795.8,40.6L802.7,39.9L799.9,38.3L795.7,37.1L800.7,35.2L806.1,33.4L811.9,32.0L819.6,32.8L826.4,33.7L834.8,34.2L841.6,35.0L849.2,34.9L857.6,34.2L866.0,34.9L873.6,35.4L883.8,36.9L892.2,37.4L900.6,37.6L909.9,37.9L915.0,37.4L918.4,35.0L923.4,35.9L927.7,37.1L931.9,35.0L938.6,35.6L938.6,38.9L933.6,40.1L930.2,43.0L924.3,44.8L918.4,48.1L916.5,53.1L919.6,55.7L926.1,56.8L931.9,59.0L937.3,59.4L937.4,63.1L942.0,65.5L942.7,60.9L946.6,56.7L944.9,51.4L945.7,48.6L950.4,47.2L955.3,49.1L959.1,52.5L962.6,53.8L967.2,50.6L972.2,57.2L977.3,60.2L981.5,63.9L974.9,67.7L964.3,67.8L967.7,70.0L966.8,73.4L973.2,75.9L969.0,77.1L964.8,78.5L963.9,76.1L962.3,77.3L957.7,78.8L956.9,81.5L958.0,82.2L952.0,83.4L951.3,84.1L951.3,85.7L948.8,86.9L947.9,88.4L947.4,90.0L948.4,92.5L947.1,93.7L944.5,95.2L942.3,96.7L939.5,98.8L939.0,101.8L940.3,104.7L941.2,107.4L940.5,109.9L939.1,109.7L938.1,107.5L936.6,105.2L936.6,103.2L934.4,101.8L931.9,102.3L930.0,101.1L926.8,101.1L925.1,101.5L925.6,103.2L922.6,103.0L919.2,102.1L916.7,102.6L913.3,104.8L911.8,106.4L912.1,108.7L911.3,111.9L911.1,114.8L912.1,117.9L913.6,120.1L915.8,121.2L917.5,121.7L920.9,121.1L922.6,120.4L923.4,117.9L923.8,117.0L927.7,116.2L929.3,116.3L928.5,119.0L928.0,121.6L927.1,124.8L931.0,125.6L934.4,125.8L935.8,127.3L935.3,131.9L934.7,133.9L936.4,135.9L938.8,137.6L941.2,136.8L943.7,136.6L945.7,138.1L944.9,140.0L943.9,138.6L941.0,140.0L938.6,139.5L936.3,138.6L933.6,136.3L931.5,135.8L931.2,133.6L928.8,130.7L926.8,130.2L923.4,129.0L920.6,127.8L917.9,125.6L915.8,125.3L913.3,126.0L909.9,125.0L905.7,123.3L901.5,121.6L898.5,118.7L898.1,116.0L897.6,114.1L893.9,109.9L891.7,108.6L889.5,106.0L886.8,103.5L885.1,99.8L882.4,98.9L882.8,101.5L884.6,104.0L886.8,107.7L890.0,111.6L891.5,113.3L890.4,113.8L887.0,110.8L886.5,108.4L883.4,105.5L881.9,102.8L879.9,100.3L878.5,97.6L876.3,95.0L872.6,94.0L870.6,90.8L869.4,89.0L867.4,86.6L866.4,84.2L866.7,81.5L866.0,79.8L867.1,74.3L865.7,70.7L868.6,69.9L868.2,68.7L864.7,67.3L860.5,66.0L859.3,63.3L856.4,60.6L854.2,58.7L850.9,55.3L847.1,53.6L844.1,53.3L840.2,51.6L835.7,50.9L830.6,50.3L825.5,49.9L820.5,52.5L822.2,49.1L817.1,52.1L815.9,54.1L812.0,56.2L808.7,57.9L803.6,59.0L798.5,60.2L802.7,58.0L809.5,55.3L810.7,53.1L806.1,53.3L802.7,51.4L798.5,50.3L796.8,48.1L798.5,46.0L804.4,45.0L804.4,43.5L797.7,43.3L794.6,42.1ZM945.7,138.1L947.4,136.4L948.8,134.6L951.0,133.6L953.8,132.4L955.8,131.7L955.3,133.9L954.8,133.1L958.2,131.9L960.9,134.1L964.8,134.6L967.8,134.8L971.5,134.4L973.2,135.6L973.6,138.1L975.8,139.3L978.3,141.0L980.8,142.5L985.0,142.7L987.6,143.7L989.6,145.4L991.3,149.1L991.8,151.3L994.3,153.9L996.9,153.9L1001.1,156.4L1005.3,157.1L1009.5,157.6L1012.9,160.4L1016.4,161.3L1017.3,165.2L1016.6,168.2L1013.4,171.9L1011.2,174.8L1010.4,178.7L1009.7,182.6L1008.7,186.1L1007.0,189.3L1005.3,191.2L1001.1,191.7L997.7,193.1L994.8,195.6L994.2,200.2L992.0,203.0L989.9,205.7L987.4,208.8L985.0,211.3L982.5,211.5L980.0,210.8L977.6,210.5L979.6,213.0L980.3,214.9L978.6,217.2L975.8,218.1L971.2,218.1L971.0,221.3L966.5,221.8L966.0,225.2L965.6,228.6L962.3,230.7L965.1,233.3L961.8,236.7L960.6,238.7L959.7,240.7L960.7,241.4L963.9,244.9L960.9,246.0L957.2,245.4L953.8,243.3L950.4,241.2L949.1,237.0L950.4,231.9L951.6,228.6L952.1,224.3L951.8,219.3L952.5,215.0L954.7,209.1L955.3,204.0L955.8,199.0L957.4,192.2L957.7,186.3L957.2,183.4L953.8,181.2L950.4,178.7L947.6,175.3L944.9,171.1L942.0,165.5L939.1,162.6L939.1,159.8L941.2,157.1L939.6,154.4L941.2,151.7L942.8,150.0L944.7,147.8L945.5,145.7L945.7,142.4L944.9,140.0ZM1066.2,92.0L1068.6,93.0L1072.5,93.2L1076.2,91.8L1079.6,90.6L1084.6,90.3L1090.7,90.1L1093.4,89.6L1094.9,90.3L1093.9,91.7L1094.8,93.0L1093.4,94.7L1095.3,96.6L1097.3,97.1L1101.9,97.9L1104.2,99.8L1108.1,101.1L1110.0,100.3L1110.1,98.1L1112.5,97.1L1115.9,97.6L1118.7,99.1L1122.6,99.8L1126.3,99.8L1130.6,99.6L1133.9,99.8L1135.1,102.6L1131.2,102.0L1132.7,106.9L1135.3,111.6L1136.3,113.5L1139.0,117.0L1139.2,120.4L1141.0,122.1L1142.5,125.6L1145.7,129.0L1148.1,131.2L1149.3,132.4L1151.5,134.9L1156.4,133.7L1158.9,133.4L1162.5,132.4L1162.3,134.8L1160.9,138.5L1158.2,143.2L1156.4,145.4L1153.8,148.6L1149.6,151.7L1146.3,155.5L1143.9,157.6L1142.4,160.4L1141.7,163.5L1142.9,166.0L1142.7,169.4L1144.4,171.9L1144.7,176.5L1144.1,179.5L1139.5,182.4L1136.8,184.4L1134.9,186.1L1136.1,189.7L1136.1,193.1L1131.9,195.4L1131.7,196.8L1130.9,200.8L1129.0,202.2L1127.0,205.1L1123.8,207.8L1120.8,209.5L1117.9,210.0L1114.3,209.8L1110.0,211.3L1107.3,210.1L1106.9,207.1L1105.4,203.7L1104.1,200.8L1101.9,198.3L1101.0,195.4L1100.5,191.2L1098.8,187.8L1096.1,183.1L1095.9,179.2L1097.0,175.8L1099.2,172.8L1098.7,168.6L1097.0,162.8L1096.3,161.1L1093.1,157.4L1091.9,154.2L1092.2,150.8L1092.7,147.8L1092.2,146.1L1090.5,144.9L1088.0,145.1L1086.2,145.2L1083.8,141.9L1080.8,141.9L1077.9,142.4L1074.5,144.1L1072.3,144.2L1068.3,143.7L1063.5,145.1L1060.5,143.2L1057.0,141.0L1054.4,139.3L1053.7,137.3L1051.2,134.4L1049.9,132.9L1048.0,131.5L1047.3,128.2L1046.7,127.7L1048.3,125.1L1049.0,121.2L1048.3,119.5L1047.5,117.0L1049.2,112.4L1051.2,110.1L1053.9,106.9L1056.8,105.0L1059.3,102.8L1059.8,101.0L1059.7,97.9L1061.9,96.1L1064.7,94.9ZM1066.7,91.5L1065.4,90.3L1063.7,89.6L1061.2,90.0L1061.3,87.1L1060.2,86.9L1061.2,84.6L1061.3,81.7L1060.5,79.8L1062.7,78.6L1066.9,79.0L1073.2,79.2L1074.2,77.0L1074.2,74.6L1072.5,72.9L1068.6,71.5L1068.4,70.4L1073.5,70.2L1073.8,68.5L1076.4,68.8L1078.7,67.7L1079.1,66.3L1081.6,65.6L1083.5,64.5L1084.3,62.9L1086.2,62.3L1088.4,62.4L1090.7,61.4L1090.7,58.9L1090.0,56.7L1092.7,55.3L1094.1,55.0L1093.6,57.0L1094.6,57.4L1093.9,59.5L1094.8,61.2L1098.1,60.6L1100.7,61.4L1104.9,60.1L1109.1,60.6L1112.0,59.2L1111.8,56.5L1112.7,55.3L1115.9,56.2L1117.2,55.3L1116.9,54.0L1115.9,52.5L1120.1,51.8L1123.5,51.9L1126.0,51.3L1124.3,50.3L1120.9,50.4L1114.9,51.1L1112.3,49.7L1112.5,46.9L1114.2,45.5L1117.6,43.3L1119.1,42.5L1117.0,41.3L1113.7,41.5L1112.2,43.3L1109.1,45.2L1106.2,46.9L1105.2,48.9L1105.7,50.3L1107.9,51.1L1107.4,52.5L1104.4,54.6L1103.9,56.8L1103.0,57.7L1100.5,58.7L1098.0,58.9L1097.5,57.4L1096.3,55.2L1095.1,52.6L1093.8,52.1L1092.1,53.0L1089.9,54.3L1087.3,54.3L1085.7,53.0L1084.8,51.1L1084.6,49.4L1085.0,47.7L1087.2,46.9L1090.5,45.4L1093.9,43.5L1096.8,41.5L1099.0,38.4L1101.5,37.1L1104.1,35.9L1106.6,34.9L1110.0,34.2L1114.2,33.5L1118.4,32.5L1122.6,32.7L1126.8,33.7L1128.9,34.5L1131.9,35.2L1137.0,35.7L1143.7,37.9L1145.6,39.6L1143.7,40.6L1140.3,40.8L1135.3,40.6L1132.7,39.9L1134.4,42.7L1137.8,43.0L1139.5,43.8L1144.6,43.5L1148.8,40.5L1150.5,36.9L1153.8,37.2L1157.2,38.1L1165.7,36.7L1169.0,36.9L1174.1,36.2L1177.5,35.9L1184.2,35.0L1189.3,34.7L1191.8,37.1L1189.3,33.4L1192.3,29.8L1199.1,29.5L1198.4,32.2L1198.6,35.0L1201.1,37.6L1202.8,34.2L1200.8,31.7L1203.6,30.3L1209.6,30.3L1212.9,28.3L1222.2,26.6L1223.1,25.4L1231.5,24.4L1243.3,23.7L1251.8,21.4L1256.8,22.5L1265.3,23.7L1267.8,28.1L1273.7,28.1L1283.8,29.1L1290.6,28.5L1294.0,30.0L1296.5,32.7L1300.7,31.7L1305.8,31.7L1311.7,30.1L1314.2,29.8L1322.6,30.3L1329.4,31.7L1333.6,32.8L1341.2,32.5L1346.3,33.4L1349.7,34.7L1356.4,34.9L1359.8,34.2L1364.0,34.5L1371.6,34.4L1377.8,35.2L1380.0,36.1L1380.0,42.3L1377.5,43.5L1375.0,46.7L1369.1,48.2L1364.0,51.1L1358.1,50.8L1353.0,51.4L1351.3,54.8L1350.5,57.5L1347.1,60.9L1343.7,63.8L1340.5,66.3L1339.4,62.9L1338.7,58.7L1340.4,55.3L1342.9,54.5L1347.1,50.3L1349.7,48.4L1345.4,48.2L1340.4,48.6L1336.2,51.9L1331.9,52.5L1326.9,52.3L1321.8,52.3L1316.2,52.8L1311.7,55.3L1307.5,61.2L1310.0,61.7L1314.9,64.3L1313.4,68.0L1313.2,70.9L1310.0,73.2L1306.6,76.6L1302.4,79.0L1298.8,79.8L1296.8,81.0L1295.1,83.2L1292.3,84.9L1294.3,89.1L1294.6,92.5L1290.6,94.0L1289.6,94.2L1289.7,91.8L1290.2,90.0L1288.9,88.8L1286.7,87.8L1287.7,85.6L1286.0,85.1L1282.5,84.1L1281.0,85.9L1281.5,83.4L1278.8,84.4L1276.2,86.3L1274.7,87.4L1276.7,89.3L1279.9,88.6L1283.0,89.3L1280.4,91.3L1277.9,93.3L1279.6,96.2L1282.0,98.9L1281.3,100.8L1282.1,103.0L1281.3,104.7L1279.6,106.5L1277.9,108.9L1276.2,110.9L1272.9,113.6L1268.6,114.8L1264.4,116.2L1262.2,118.2L1261.5,116.2L1259.3,115.8L1256.3,117.5L1254.8,120.2L1256.5,123.3L1259.9,126.6L1260.7,130.5L1260.5,132.9L1257.7,134.8L1256.0,136.1L1253.1,138.0L1253.1,135.3L1250.9,134.6L1249.4,131.9L1246.5,131.0L1246.5,129.9L1245.0,131.9L1243.6,135.3L1244.8,137.0L1245.8,140.2L1247.9,141.0L1249.2,142.4L1250.7,144.4L1250.7,146.6L1252.1,150.0L1250.9,150.3L1248.4,148.4L1246.7,146.6L1245.5,144.1L1245.3,141.5L1243.3,139.1L1242.1,138.1L1242.5,134.8L1242.8,131.4L1242.0,129.7L1240.9,124.6L1239.1,124.3L1237.2,125.8L1235.7,124.6L1235.4,121.2L1234.0,119.5L1232.3,117.0L1231.5,115.7L1230.7,114.1L1229.0,115.3L1226.4,115.7L1223.1,116.2L1222.2,117.9L1219.7,119.5L1218.0,121.6L1215.0,124.3L1212.9,126.3L1211.6,129.2L1211.4,132.2L1210.9,135.1L1208.7,137.5L1207.0,138.8L1205.5,137.5L1204.5,134.8L1203.6,132.4L1202.1,128.0L1200.3,125.5L1199.1,120.4L1198.7,116.2L1195.2,117.3L1192.7,114.8L1194.7,114.0L1191.8,112.8L1190.1,111.9L1188.8,109.6L1185.1,109.9L1180.0,110.1L1176.6,109.6L1173.3,108.9L1172.1,106.9L1169.9,107.4L1168.2,107.7L1164.8,106.0L1162.8,105.2L1160.9,102.6L1158.2,102.0L1157.2,102.6L1158.1,104.3L1159.8,106.9L1160.9,108.2L1161.8,110.2L1163.1,109.4L1163.6,111.9L1166.5,111.8L1169.0,110.6L1171.2,108.2L1171.4,110.4L1173.3,112.3L1175.5,113.0L1177.1,114.5L1174.9,117.5L1173.8,119.5L1171.9,122.1L1169.5,123.3L1164.3,125.8L1158.9,128.0L1156.4,129.5L1153.0,130.4L1150.5,131.2L1149.3,130.9L1148.4,127.5L1147.9,124.6L1145.7,121.2L1143.4,117.9L1142.0,115.3L1141.2,112.3L1139.5,111.1L1138.0,108.9L1136.1,106.0L1134.6,104.8L1135.1,102.6L1133.9,99.8L1135.1,97.6L1136.1,95.2L1136.8,92.7L1137.1,90.6L1134.6,90.3L1131.1,91.5L1127.7,90.8L1123.8,90.5L1122.3,89.1L1120.8,87.3L1120.4,85.7L1121.3,84.2L1125.3,82.9L1129.4,82.9L1132.7,81.5L1135.6,81.5L1140.9,83.4L1146.3,82.4L1146.4,80.3L1143.6,79.2L1140.7,77.5L1138.1,76.1L1135.3,75.4L1132.7,77.1L1131.2,75.8L1132.9,74.8L1129.7,73.7L1128.2,73.9L1126.2,75.9L1124.6,77.8L1122.8,80.7L1123.5,82.2L1120.6,83.4L1117.6,83.4L1116.2,84.4L1114.5,84.2L1114.3,86.6L1115.5,88.3L1114.7,89.5L1112.7,90.3L1111.8,87.9L1110.3,85.6L1108.9,84.4L1109.1,82.0L1107.3,80.7L1103.2,79.0L1101.9,77.6L1100.2,76.1L1099.2,76.3L1097.0,75.9L1097.1,77.8L1099.2,78.8L1100.7,81.2L1103.2,82.5L1105.7,83.5L1107.4,84.6L1105.2,85.9L1105.1,86.8L1104.2,87.6L1102.7,88.3L1103.0,85.7L1101.4,84.6L1099.8,83.5L1096.8,82.0L1095.1,80.8L1093.9,79.8L1092.6,78.0L1090.5,77.6L1088.9,78.5L1087.2,79.7L1084.0,79.2L1081.4,79.7L1081.6,81.7L1079.7,82.7L1077.6,83.2L1075.7,85.7L1076.5,87.1L1075.0,89.0L1072.7,90.5L1068.8,90.5ZM772.4,36.1L777.4,37.2L782.5,39.3L786.7,39.4L789.6,40.8L787.6,42.0L785.0,43.5L780.8,43.0L775.7,42.1L772.4,42.3ZM953.0,19.8L964.8,16.5L971.5,14.3L991.8,13.1L1008.7,11.7L1025.6,11.4L1042.4,13.1L1055.9,14.8L1045.8,17.3L1044.1,21.5L1043.3,25.8L1039.9,30.0L1039.1,33.4L1034.0,35.4L1022.2,37.2L1017.1,40.5L1009.5,42.3L1007.0,46.0L1003.6,51.1L998.6,49.7L993.5,47.7L991.0,44.7L988.4,41.8L985.9,39.3L987.6,35.9L989.3,33.4L984.2,31.7L982.5,29.1L980.0,26.6L976.6,24.4L969.9,23.6L961.4,23.2L957.2,21.5ZM971.9,39.9L968.2,45.2L960.6,47.4L953.8,44.3L943.7,43.8L952.1,38.4L945.4,34.2L932.7,34.2L924.3,30.8L931.9,28.3L941.2,27.9L947.9,29.5L954.7,31.7L961.4,34.2L963.9,36.7ZM941.2,26.6L920.9,26.6L914.2,24.1L912.5,20.7L920.9,16.5L932.7,13.9L958.0,12.2L971.5,13.6L958.0,17.3L951.3,19.8L944.5,22.4L941.2,23.7ZM864.4,31.2L866.0,27.4L877.0,24.9L887.1,26.6L899.0,28.3L905.7,28.3L912.5,30.0L910.8,35.0L904.0,36.2L893.9,36.7L882.1,35.9L877.0,34.2L870.3,33.4ZM873.6,24.1L880.4,21.5L897.3,19.8L910.8,20.7L907.4,23.2L890.5,24.4ZM929.3,44.0L940.3,45.2L938.6,41.8L931.0,40.6ZM1034.8,41.8L1039.1,40.3L1045.8,40.6L1051.7,40.5L1053.4,42.5L1050.9,43.8L1045.0,45.4L1038.2,44.7L1039.9,43.5ZM1094.8,19.5L1103.2,17.3L1113.3,16.8L1121.8,17.3L1118.4,19.8L1113.3,21.5L1104.9,23.2L1099.8,21.5ZM1164.8,31.7L1170.7,33.2L1174.1,31.7L1172.4,28.3L1177.5,24.9L1191.0,22.7L1184.2,22.4L1174.1,24.1L1169.0,26.6ZM1236.6,19.0L1245.0,20.3L1253.4,19.8L1248.4,15.6L1238.2,16.5ZM1305.8,24.9L1315.9,27.8L1329.4,25.8L1322.6,24.1L1309.1,23.7ZM1066.6,67.8L1071.1,67.0L1078.6,66.0L1079.1,63.4L1076.7,62.3L1075.4,60.4L1073.2,58.5L1072.7,55.8L1073.2,55.2L1069.4,55.2L1071.1,53.5L1067.8,53.5L1065.7,55.3L1066.7,57.4L1066.9,58.7L1068.1,59.9L1070.8,59.7L1070.6,61.4L1068.3,62.4L1068.9,63.8L1067.4,65.0L1070.6,65.6L1067.8,66.3ZM1066.1,64.3L1065.9,61.4L1066.2,59.5L1063.5,59.0L1059.3,60.9L1059.0,65.3L1062.7,65.5ZM1296.0,99.8L1298.2,99.3L1299.0,96.2L1301.5,96.1L1304.6,95.7L1307.1,94.5L1310.8,93.9L1313.9,92.2L1314.2,89.1L1315.9,85.7L1315.1,82.7L1312.5,83.5L1312.2,86.6L1310.0,89.1L1307.1,89.5L1305.8,91.8L1300.7,92.5L1297.3,94.2L1295.0,96.4ZM1312.5,82.4L1314.5,81.9L1318.1,81.5L1321.8,79.3L1319.3,77.8L1315.4,75.8L1315.1,79.0L1312.5,80.7ZM1315.9,74.8L1318.4,73.9L1317.6,69.7L1317.9,63.8L1316.7,60.7L1315.9,64.6L1315.9,69.7ZM1278.9,113.6L1280.4,109.7L1282.1,110.2L1281.3,112.8L1280.1,115.5ZM1278.8,121.2L1282.5,121.2L1283.0,123.8L1281.3,126.3L1285.5,129.7L1283.8,130.5L1280.4,129.2L1279.6,128.0L1278.8,125.5ZM1282.1,140.7L1285.5,137.6L1288.0,135.9L1289.9,139.8L1288.0,142.7L1285.5,141.5ZM1260.2,150.0L1261.4,149.1L1263.9,147.8L1266.9,147.1L1269.8,144.6L1271.2,143.2L1273.4,140.8L1274.9,141.5L1277.4,143.5L1275.7,145.1L1275.2,149.5L1276.9,151.0L1274.4,152.3L1272.9,154.7L1272.9,157.1L1272.0,158.9L1269.5,158.6L1266.9,157.7L1264.6,157.9L1262.2,157.4L1262.0,155.0L1260.4,153.3ZM1237.1,143.0L1240.8,143.7L1242.5,145.9L1245.8,149.1L1247.5,149.6L1251.2,153.9L1252.6,155.7L1255.1,157.9L1254.8,162.3L1252.6,162.3L1249.2,159.6L1246.7,156.2L1245.3,153.9L1243.3,150.8L1241.6,148.3L1239.1,146.1ZM1253.8,164.0L1256.0,162.6L1259.0,163.1L1262.7,164.2L1266.4,164.2L1269.5,165.5L1269.5,167.2L1265.3,166.7L1260.2,165.7L1256.0,165.0ZM1270.3,166.4L1277.1,166.4L1283.8,166.4L1290.6,166.4L1290.6,167.7L1283.8,169.9L1277.1,167.7L1270.3,167.4ZM1277.7,161.8L1277.4,158.4L1278.8,152.5L1279.6,150.8L1287.2,150.0L1286.4,151.7L1281.3,152.5L1281.3,154.2L1284.3,154.2L1281.3,155.9L1283.0,160.1L1280.4,160.9L1279.3,157.2L1279.6,161.8ZM1297.3,154.7L1299.9,153.2L1302.4,154.0L1304.9,158.1L1308.3,155.2L1314.2,156.9L1319.3,159.1L1322.3,160.8L1325.2,163.0L1325.5,166.0L1328.6,168.6L1330.8,170.1L1327.7,169.9L1324.3,168.6L1322.6,166.0L1319.3,165.5L1318.1,166.9L1316.7,168.2L1314.2,167.9L1310.8,166.2L1309.1,166.5L1308.8,161.8L1304.1,159.9L1300.7,159.3L1299.0,157.2L1301.9,156.6L1299.5,156.2ZM1268.6,189.7L1267.8,193.9L1269.5,199.8L1270.3,204.0L1271.5,208.8L1270.3,210.5L1274.5,211.8L1277.9,210.6L1281.3,209.6L1285.5,208.1L1288.9,207.1L1294.0,206.1L1298.2,205.7L1301.5,206.9L1304.1,209.3L1305.4,211.3L1307.5,209.5L1308.8,207.9L1308.3,212.0L1310.8,212.8L1312.5,215.9L1315.1,217.4L1318.4,218.1L1321.0,217.4L1323.2,218.6L1326.0,216.4L1329.4,215.9L1329.7,213.0L1331.6,209.8L1333.6,207.3L1334.6,204.0L1335.5,200.3L1334.6,195.6L1331.9,193.1L1330.8,190.5L1328.2,188.3L1326.9,186.6L1323.5,184.4L1322.6,181.2L1321.5,177.8L1319.6,176.7L1318.4,174.1L1316.9,170.8L1315.2,174.1L1315.1,178.7L1313.4,181.9L1311.2,181.9L1308.3,179.5L1305.4,177.8L1304.9,176.7L1306.9,173.3L1305.4,172.6L1301.5,172.1L1299.9,171.6L1297.3,173.1L1295.6,174.5L1294.6,177.7L1292.6,177.8L1290.6,176.2L1288.0,177.0L1286.4,179.5L1284.3,181.2L1282.5,182.9L1281.3,185.1L1278.8,186.3L1276.2,187.0L1273.4,187.3L1271.2,188.5ZM1320.5,221.3L1326.5,221.6L1326.0,225.5L1322.6,226.2L1321.0,223.5ZM1367.7,210.6L1370.8,213.0L1373.0,215.0L1377.5,216.2L1375.8,218.4L1374.1,220.9L1371.6,222.6L1370.9,219.8L1369.6,218.7L1371.3,216.7L1370.2,214.2ZM1367.7,220.9L1370.4,222.8L1368.6,225.7L1365.4,227.7L1364.0,230.1L1361.5,231.3L1357.3,230.2L1358.1,228.6L1360.6,226.9L1364.0,224.8L1366.5,222.3ZM1159.4,172.8L1161.4,178.7L1159.8,182.1L1157.2,189.7L1155.5,194.8L1152.2,195.6L1150.0,189.7L1151.0,186.3L1150.5,182.1L1153.8,179.2L1157.2,175.3ZM1210.9,138.6L1211.6,135.9L1213.4,138.1L1214.3,140.3L1212.3,142.5L1211.1,141.0ZM932.7,115.5L936.1,113.8L938.6,113.3L942.8,114.5L945.4,116.2L948.8,117.5L951.0,118.4L946.2,118.9L945.0,117.5L942.0,116.0L938.6,115.0L935.3,115.0ZM950.6,121.2L953.3,118.9L958.0,119.2L960.7,121.1L958.0,121.7L955.5,122.8Z"/></clipPath><g clip-path="url(#mcB)"><rect x="772.4" y="0.5" width="607.1" height="303.8" fill="url(#oceanB)"/><rect x="772.4" y="240.4" width="607.1" height="27.0" fill="#1d3d74" opacity="0.35" filter="url(#blur6)"/><rect x="772.4" y="6.4" width="607.1" height="16.9" fill="#1a3468" opacity="0.3" filter="url(#blur6)"/><path d="M915.8,41.0L949.6,41.0L947.9,64.6L915.8,64.6Z" fill="#24528f" opacity="0.85" filter="url(#blur3)"/><path d="M1236.6,139.0L1278.8,139.0L1275.4,166.0L1253.4,166.0L1236.6,152.5Z" fill="#24528f" opacity="0.85" filter="url(#blur3)"/><path d="M958.0,215.0L983.4,215.0L978.3,240.4L961.4,247.1L958.0,237.0Z" fill="#24528f" opacity="0.85" filter="url(#blur3)"/><path d="M1177.5,29.1L1380.0,29.1L1380.0,20.7L1177.5,17.3Z" fill="#24528f" opacity="0.85" filter="url(#blur3)"/><path d="M1067.8,68.0L1093.1,68.0L1093.1,47.7L1067.8,47.7Z" fill="#24528f" opacity="0.85" filter="url(#blur3)"/><path d="M772.4,64.6L814.6,59.5L797.7,41.0L772.4,41.0Z" fill="#24528f" opacity="0.85" filter="url(#blur3)"/><path d="M1337.8,59.5L1380.0,59.5L1380.0,41.0L1354.7,41.0Z" fill="#24528f" opacity="0.85" filter="url(#blur3)"/><path d="M1265.3,172.8L1312.5,167.7L1315.9,172.8L1287.2,181.2L1270.3,189.7Z" fill="#24528f" opacity="0.85" filter="url(#blur3)"/><path d="M1275.4,101.8L1290.6,101.8L1290.6,83.2L1275.4,83.2Z" fill="#24528f" opacity="0.85" filter="url(#blur3)"/><path d="M941.2,117.0L947.9,106.9L941.2,106.9Z" fill="#24528f" opacity="0.85" filter="url(#blur3)"/><path d="M974.9,81.5L1000.2,81.5L991.8,68.0L974.9,71.4Z" fill="#24528f" opacity="0.85" filter="url(#blur3)"/><path d="M856.8,34.2L949.6,34.2L974.9,20.7L873.6,17.3Z" fill="#24528f" opacity="0.85" filter="url(#blur3)"/><path d="M1084.6,34.2L1177.5,34.2L1177.5,20.7L1084.6,20.7Z" fill="#24528f" opacity="0.85" filter="url(#blur3)"/><path d="M792.4,41.6L795.8,40.6L802.7,39.9L799.9,38.3L795.7,37.1L800.7,35.2L806.1,33.4L811.9,32.0L819.6,32.8L826.4,33.7L834.8,34.2L841.6,35.0L849.2,34.9L857.6,34.2L866.0,34.9L873.6,35.4L883.8,36.9L892.2,37.4L900.6,37.6L909.9,37.9L915.0,37.4L918.4,35.0L923.4,35.9L927.7,37.1L931.9,35.0L938.6,35.6L938.6,38.9L933.6,40.1L930.2,43.0L924.3,44.8L918.4,48.1L916.5,53.1L919.6,55.7L926.1,56.8L931.9,59.0L937.3,59.4L937.4,63.1L942.0,65.5L942.7,60.9L946.6,56.7L944.9,51.4L945.7,48.6L950.4,47.2L955.3,49.1L959.1,52.5L962.6,53.8L967.2,50.6L972.2,57.2L977.3,60.2L981.5,63.9L974.9,67.7L964.3,67.8L967.7,70.0L966.8,73.4L973.2,75.9L969.0,77.1L964.8,78.5L963.9,76.1L962.3,77.3L957.7,78.8L956.9,81.5L958.0,82.2L952.0,83.4L951.3,84.1L951.3,85.7L948.8,86.9L947.9,88.4L947.4,90.0L948.4,92.5L947.1,93.7L944.5,95.2L942.3,96.7L939.5,98.8L939.0,101.8L940.3,104.7L941.2,107.4L940.5,109.9L939.1,109.7L938.1,107.5L936.6,105.2L936.6,103.2L934.4,101.8L931.9,102.3L930.0,101.1L926.8,101.1L925.1,101.5L925.6,103.2L922.6,103.0L919.2,102.1L916.7,102.6L913.3,104.8L911.8,106.4L912.1,108.7L911.3,111.9L911.1,114.8L912.1,117.9L913.6,120.1L915.8,121.2L917.5,121.7L920.9,121.1L922.6,120.4L923.4,117.9L923.8,117.0L927.7,116.2L929.3,116.3L928.5,119.0L928.0,121.6L927.1,124.8L931.0,125.6L934.4,125.8L935.8,127.3L935.3,131.9L934.7,133.9L936.4,135.9L938.8,137.6L941.2,136.8L943.7,136.6L945.7,138.1L944.9,140.0L943.9,138.6L941.0,140.0L938.6,139.5L936.3,138.6L933.6,136.3L931.5,135.8L931.2,133.6L928.8,130.7L926.8,130.2L923.4,129.0L920.6,127.8L917.9,125.6L915.8,125.3L913.3,126.0L909.9,125.0L905.7,123.3L901.5,121.6L898.5,118.7L898.1,116.0L897.6,114.1L893.9,109.9L891.7,108.6L889.5,106.0L886.8,103.5L885.1,99.8L882.4,98.9L882.8,101.5L884.6,104.0L886.8,107.7L890.0,111.6L891.5,113.3L890.4,113.8L887.0,110.8L886.5,108.4L883.4,105.5L881.9,102.8L879.9,100.3L878.5,97.6L876.3,95.0L872.6,94.0L870.6,90.8L869.4,89.0L867.4,86.6L866.4,84.2L866.7,81.5L866.0,79.8L867.1,74.3L865.7,70.7L868.6,69.9L868.2,68.7L864.7,67.3L860.5,66.0L859.3,63.3L856.4,60.6L854.2,58.7L850.9,55.3L847.1,53.6L844.1,53.3L840.2,51.6L835.7,50.9L830.6,50.3L825.5,49.9L820.5,52.5L822.2,49.1L817.1,52.1L815.9,54.1L812.0,56.2L808.7,57.9L803.6,59.0L798.5,60.2L802.7,58.0L809.5,55.3L810.7,53.1L806.1,53.3L802.7,51.4L798.5,50.3L796.8,48.1L798.5,46.0L804.4,45.0L804.4,43.5L797.7,43.3L794.6,42.1ZM945.7,138.1L947.4,136.4L948.8,134.6L951.0,133.6L953.8,132.4L955.8,131.7L955.3,133.9L954.8,133.1L958.2,131.9L960.9,134.1L964.8,134.6L967.8,134.8L971.5,134.4L973.2,135.6L973.6,138.1L975.8,139.3L978.3,141.0L980.8,142.5L985.0,142.7L987.6,143.7L989.6,145.4L991.3,149.1L991.8,151.3L994.3,153.9L996.9,153.9L1001.1,156.4L1005.3,157.1L1009.5,157.6L1012.9,160.4L1016.4,161.3L1017.3,165.2L1016.6,168.2L1013.4,171.9L1011.2,174.8L1010.4,178.7L1009.7,182.6L1008.7,186.1L1007.0,189.3L1005.3,191.2L1001.1,191.7L997.7,193.1L994.8,195.6L994.2,200.2L992.0,203.0L989.9,205.7L987.4,208.8L985.0,211.3L982.5,211.5L980.0,210.8L977.6,210.5L979.6,213.0L980.3,214.9L978.6,217.2L975.8,218.1L971.2,218.1L971.0,221.3L966.5,221.8L966.0,225.2L965.6,228.6L962.3,230.7L965.1,233.3L961.8,236.7L960.6,238.7L959.7,240.7L960.7,241.4L963.9,244.9L960.9,246.0L957.2,245.4L953.8,243.3L950.4,241.2L949.1,237.0L950.4,231.9L951.6,228.6L952.1,224.3L951.8,219.3L952.5,215.0L954.7,209.1L955.3,204.0L955.8,199.0L957.4,192.2L957.7,186.3L957.2,183.4L953.8,181.2L950.4,178.7L947.6,175.3L944.9,171.1L942.0,165.5L939.1,162.6L939.1,159.8L941.2,157.1L939.6,154.4L941.2,151.7L942.8,150.0L944.7,147.8L945.5,145.7L945.7,142.4L944.9,140.0ZM1066.2,92.0L1068.6,93.0L1072.5,93.2L1076.2,91.8L1079.6,90.6L1084.6,90.3L1090.7,90.1L1093.4,89.6L1094.9,90.3L1093.9,91.7L1094.8,93.0L1093.4,94.7L1095.3,96.6L1097.3,97.1L1101.9,97.9L1104.2,99.8L1108.1,101.1L1110.0,100.3L1110.1,98.1L1112.5,97.1L1115.9,97.6L1118.7,99.1L1122.6,99.8L1126.3,99.8L1130.6,99.6L1133.9,99.8L1135.1,102.6L1131.2,102.0L1132.7,106.9L1135.3,111.6L1136.3,113.5L1139.0,117.0L1139.2,120.4L1141.0,122.1L1142.5,125.6L1145.7,129.0L1148.1,131.2L1149.3,132.4L1151.5,134.9L1156.4,133.7L1158.9,133.4L1162.5,132.4L1162.3,134.8L1160.9,138.5L1158.2,143.2L1156.4,145.4L1153.8,148.6L1149.6,151.7L1146.3,155.5L1143.9,157.6L1142.4,160.4L1141.7,163.5L1142.9,166.0L1142.7,169.4L1144.4,171.9L1144.7,176.5L1144.1,179.5L1139.5,182.4L1136.8,184.4L1134.9,186.1L1136.1,189.7L1136.1,193.1L1131.9,195.4L1131.7,196.8L1130.9,200.8L1129.0,202.2L1127.0,205.1L1123.8,207.8L1120.8,209.5L1117.9,210.0L1114.3,209.8L1110.0,211.3L1107.3,210.1L1106.9,207.1L1105.4,203.7L1104.1,200.8L1101.9,198.3L1101.0,195.4L1100.5,191.2L1098.8,187.8L1096.1,183.1L1095.9,179.2L1097.0,175.8L1099.2,172.8L1098.7,168.6L1097.0,162.8L1096.3,161.1L1093.1,157.4L1091.9,154.2L1092.2,150.8L1092.7,147.8L1092.2,146.1L1090.5,144.9L1088.0,145.1L1086.2,145.2L1083.8,141.9L1080.8,141.9L1077.9,142.4L1074.5,144.1L1072.3,144.2L1068.3,143.7L1063.5,145.1L1060.5,143.2L1057.0,141.0L1054.4,139.3L1053.7,137.3L1051.2,134.4L1049.9,132.9L1048.0,131.5L1047.3,128.2L1046.7,127.7L1048.3,125.1L1049.0,121.2L1048.3,119.5L1047.5,117.0L1049.2,112.4L1051.2,110.1L1053.9,106.9L1056.8,105.0L1059.3,102.8L1059.8,101.0L1059.7,97.9L1061.9,96.1L1064.7,94.9ZM1066.7,91.5L1065.4,90.3L1063.7,89.6L1061.2,90.0L1061.3,87.1L1060.2,86.9L1061.2,84.6L1061.3,81.7L1060.5,79.8L1062.7,78.6L1066.9,79.0L1073.2,79.2L1074.2,77.0L1074.2,74.6L1072.5,72.9L1068.6,71.5L1068.4,70.4L1073.5,70.2L1073.8,68.5L1076.4,68.8L1078.7,67.7L1079.1,66.3L1081.6,65.6L1083.5,64.5L1084.3,62.9L1086.2,62.3L1088.4,62.4L1090.7,61.4L1090.7,58.9L1090.0,56.7L1092.7,55.3L1094.1,55.0L1093.6,57.0L1094.6,57.4L1093.9,59.5L1094.8,61.2L1098.1,60.6L1100.7,61.4L1104.9,60.1L1109.1,60.6L1112.0,59.2L1111.8,56.5L1112.7,55.3L1115.9,56.2L1117.2,55.3L1116.9,54.0L1115.9,52.5L1120.1,51.8L1123.5,51.9L1126.0,51.3L1124.3,50.3L1120.9,50.4L1114.9,51.1L1112.3,49.7L1112.5,46.9L1114.2,45.5L1117.6,43.3L1119.1,42.5L1117.0,41.3L1113.7,41.5L1112.2,43.3L1109.1,45.2L1106.2,46.9L1105.2,48.9L1105.7,50.3L1107.9,51.1L1107.4,52.5L1104.4,54.6L1103.9,56.8L1103.0,57.7L1100.5,58.7L1098.0,58.9L1097.5,57.4L1096.3,55.2L1095.1,52.6L1093.8,52.1L1092.1,53.0L1089.9,54.3L1087.3,54.3L1085.7,53.0L1084.8,51.1L1084.6,49.4L1085.0,47.7L1087.2,46.9L1090.5,45.4L1093.9,43.5L1096.8,41.5L1099.0,38.4L1101.5,37.1L1104.1,35.9L1106.6,34.9L1110.0,34.2L1114.2,33.5L1118.4,32.5L1122.6,32.7L1126.8,33.7L1128.9,34.5L1131.9,35.2L1137.0,35.7L1143.7,37.9L1145.6,39.6L1143.7,40.6L1140.3,40.8L1135.3,40.6L1132.7,39.9L1134.4,42.7L1137.8,43.0L1139.5,43.8L1144.6,43.5L1148.8,40.5L1150.5,36.9L1153.8,37.2L1157.2,38.1L1165.7,36.7L1169.0,36.9L1174.1,36.2L1177.5,35.9L1184.2,35.0L1189.3,34.7L1191.8,37.1L1189.3,33.4L1192.3,29.8L1199.1,29.5L1198.4,32.2L1198.6,35.0L1201.1,37.6L1202.8,34.2L1200.8,31.7L1203.6,30.3L1209.6,30.3L1212.9,28.3L1222.2,26.6L1223.1,25.4L1231.5,24.4L1243.3,23.7L1251.8,21.4L1256.8,22.5L1265.3,23.7L1267.8,28.1L1273.7,28.1L1283.8,29.1L1290.6,28.5L1294.0,30.0L1296.5,32.7L1300.7,31.7L1305.8,31.7L1311.7,30.1L1314.2,29.8L1322.6,30.3L1329.4,31.7L1333.6,32.8L1341.2,32.5L1346.3,33.4L1349.7,34.7L1356.4,34.9L1359.8,34.2L1364.0,34.5L1371.6,34.4L1377.8,35.2L1380.0,36.1L1380.0,42.3L1377.5,43.5L1375.0,46.7L1369.1,48.2L1364.0,51.1L1358.1,50.8L1353.0,51.4L1351.3,54.8L1350.5,57.5L1347.1,60.9L1343.7,63.8L1340.5,66.3L1339.4,62.9L1338.7,58.7L1340.4,55.3L1342.9,54.5L1347.1,50.3L1349.7,48.4L1345.4,48.2L1340.4,48.6L1336.2,51.9L1331.9,52.5L1326.9,52.3L1321.8,52.3L1316.2,52.8L1311.7,55.3L1307.5,61.2L1310.0,61.7L1314.9,64.3L1313.4,68.0L1313.2,70.9L1310.0,73.2L1306.6,76.6L1302.4,79.0L1298.8,79.8L1296.8,81.0L1295.1,83.2L1292.3,84.9L1294.3,89.1L1294.6,92.5L1290.6,94.0L1289.6,94.2L1289.7,91.8L1290.2,90.0L1288.9,88.8L1286.7,87.8L1287.7,85.6L1286.0,85.1L1282.5,84.1L1281.0,85.9L1281.5,83.4L1278.8,84.4L1276.2,86.3L1274.7,87.4L1276.7,89.3L1279.9,88.6L1283.0,89.3L1280.4,91.3L1277.9,93.3L1279.6,96.2L1282.0,98.9L1281.3,100.8L1282.1,103.0L1281.3,104.7L1279.6,106.5L1277.9,108.9L1276.2,110.9L1272.9,113.6L1268.6,114.8L1264.4,116.2L1262.2,118.2L1261.5,116.2L1259.3,115.8L1256.3,117.5L1254.8,120.2L1256.5,123.3L1259.9,126.6L1260.7,130.5L1260.5,132.9L1257.7,134.8L1256.0,136.1L1253.1,138.0L1253.1,135.3L1250.9,134.6L1249.4,131.9L1246.5,131.0L1246.5,129.9L1245.0,131.9L1243.6,135.3L1244.8,137.0L1245.8,140.2L1247.9,141.0L1249.2,142.4L1250.7,144.4L1250.7,146.6L1252.1,150.0L1250.9,150.3L1248.4,148.4L1246.7,146.6L1245.5,144.1L1245.3,141.5L1243.3,139.1L1242.1,138.1L1242.5,134.8L1242.8,131.4L1242.0,129.7L1240.9,124.6L1239.1,124.3L1237.2,125.8L1235.7,124.6L1235.4,121.2L1234.0,119.5L1232.3,117.0L1231.5,115.7L1230.7,114.1L1229.0,115.3L1226.4,115.7L1223.1,116.2L1222.2,117.9L1219.7,119.5L1218.0,121.6L1215.0,124.3L1212.9,126.3L1211.6,129.2L1211.4,132.2L1210.9,135.1L1208.7,137.5L1207.0,138.8L1205.5,137.5L1204.5,134.8L1203.6,132.4L1202.1,128.0L1200.3,125.5L1199.1,120.4L1198.7,116.2L1195.2,117.3L1192.7,114.8L1194.7,114.0L1191.8,112.8L1190.1,111.9L1188.8,109.6L1185.1,109.9L1180.0,110.1L1176.6,109.6L1173.3,108.9L1172.1,106.9L1169.9,107.4L1168.2,107.7L1164.8,106.0L1162.8,105.2L1160.9,102.6L1158.2,102.0L1157.2,102.6L1158.1,104.3L1159.8,106.9L1160.9,108.2L1161.8,110.2L1163.1,109.4L1163.6,111.9L1166.5,111.8L1169.0,110.6L1171.2,108.2L1171.4,110.4L1173.3,112.3L1175.5,113.0L1177.1,114.5L1174.9,117.5L1173.8,119.5L1171.9,122.1L1169.5,123.3L1164.3,125.8L1158.9,128.0L1156.4,129.5L1153.0,130.4L1150.5,131.2L1149.3,130.9L1148.4,127.5L1147.9,124.6L1145.7,121.2L1143.4,117.9L1142.0,115.3L1141.2,112.3L1139.5,111.1L1138.0,108.9L1136.1,106.0L1134.6,104.8L1135.1,102.6L1133.9,99.8L1135.1,97.6L1136.1,95.2L1136.8,92.7L1137.1,90.6L1134.6,90.3L1131.1,91.5L1127.7,90.8L1123.8,90.5L1122.3,89.1L1120.8,87.3L1120.4,85.7L1121.3,84.2L1125.3,82.9L1129.4,82.9L1132.7,81.5L1135.6,81.5L1140.9,83.4L1146.3,82.4L1146.4,80.3L1143.6,79.2L1140.7,77.5L1138.1,76.1L1135.3,75.4L1132.7,77.1L1131.2,75.8L1132.9,74.8L1129.7,73.7L1128.2,73.9L1126.2,75.9L1124.6,77.8L1122.8,80.7L1123.5,82.2L1120.6,83.4L1117.6,83.4L1116.2,84.4L1114.5,84.2L1114.3,86.6L1115.5,88.3L1114.7,89.5L1112.7,90.3L1111.8,87.9L1110.3,85.6L1108.9,84.4L1109.1,82.0L1107.3,80.7L1103.2,79.0L1101.9,77.6L1100.2,76.1L1099.2,76.3L1097.0,75.9L1097.1,77.8L1099.2,78.8L1100.7,81.2L1103.2,82.5L1105.7,83.5L1107.4,84.6L1105.2,85.9L1105.1,86.8L1104.2,87.6L1102.7,88.3L1103.0,85.7L1101.4,84.6L1099.8,83.5L1096.8,82.0L1095.1,80.8L1093.9,79.8L1092.6,78.0L1090.5,77.6L1088.9,78.5L1087.2,79.7L1084.0,79.2L1081.4,79.7L1081.6,81.7L1079.7,82.7L1077.6,83.2L1075.7,85.7L1076.5,87.1L1075.0,89.0L1072.7,90.5L1068.8,90.5ZM772.4,36.1L777.4,37.2L782.5,39.3L786.7,39.4L789.6,40.8L787.6,42.0L785.0,43.5L780.8,43.0L775.7,42.1L772.4,42.3ZM953.0,19.8L964.8,16.5L971.5,14.3L991.8,13.1L1008.7,11.7L1025.6,11.4L1042.4,13.1L1055.9,14.8L1045.8,17.3L1044.1,21.5L1043.3,25.8L1039.9,30.0L1039.1,33.4L1034.0,35.4L1022.2,37.2L1017.1,40.5L1009.5,42.3L1007.0,46.0L1003.6,51.1L998.6,49.7L993.5,47.7L991.0,44.7L988.4,41.8L985.9,39.3L987.6,35.9L989.3,33.4L984.2,31.7L982.5,29.1L980.0,26.6L976.6,24.4L969.9,23.6L961.4,23.2L957.2,21.5ZM971.9,39.9L968.2,45.2L960.6,47.4L953.8,44.3L943.7,43.8L952.1,38.4L945.4,34.2L932.7,34.2L924.3,30.8L931.9,28.3L941.2,27.9L947.9,29.5L954.7,31.7L961.4,34.2L963.9,36.7ZM941.2,26.6L920.9,26.6L914.2,24.1L912.5,20.7L920.9,16.5L932.7,13.9L958.0,12.2L971.5,13.6L958.0,17.3L951.3,19.8L944.5,22.4L941.2,23.7ZM864.4,31.2L866.0,27.4L877.0,24.9L887.1,26.6L899.0,28.3L905.7,28.3L912.5,30.0L910.8,35.0L904.0,36.2L893.9,36.7L882.1,35.9L877.0,34.2L870.3,33.4ZM873.6,24.1L880.4,21.5L897.3,19.8L910.8,20.7L907.4,23.2L890.5,24.4ZM929.3,44.0L940.3,45.2L938.6,41.8L931.0,40.6ZM1034.8,41.8L1039.1,40.3L1045.8,40.6L1051.7,40.5L1053.4,42.5L1050.9,43.8L1045.0,45.4L1038.2,44.7L1039.9,43.5ZM1094.8,19.5L1103.2,17.3L1113.3,16.8L1121.8,17.3L1118.4,19.8L1113.3,21.5L1104.9,23.2L1099.8,21.5ZM1164.8,31.7L1170.7,33.2L1174.1,31.7L1172.4,28.3L1177.5,24.9L1191.0,22.7L1184.2,22.4L1174.1,24.1L1169.0,26.6ZM1236.6,19.0L1245.0,20.3L1253.4,19.8L1248.4,15.6L1238.2,16.5ZM1305.8,24.9L1315.9,27.8L1329.4,25.8L1322.6,24.1L1309.1,23.7ZM1066.6,67.8L1071.1,67.0L1078.6,66.0L1079.1,63.4L1076.7,62.3L1075.4,60.4L1073.2,58.5L1072.7,55.8L1073.2,55.2L1069.4,55.2L1071.1,53.5L1067.8,53.5L1065.7,55.3L1066.7,57.4L1066.9,58.7L1068.1,59.9L1070.8,59.7L1070.6,61.4L1068.3,62.4L1068.9,63.8L1067.4,65.0L1070.6,65.6L1067.8,66.3ZM1066.1,64.3L1065.9,61.4L1066.2,59.5L1063.5,59.0L1059.3,60.9L1059.0,65.3L1062.7,65.5ZM1296.0,99.8L1298.2,99.3L1299.0,96.2L1301.5,96.1L1304.6,95.7L1307.1,94.5L1310.8,93.9L1313.9,92.2L1314.2,89.1L1315.9,85.7L1315.1,82.7L1312.5,83.5L1312.2,86.6L1310.0,89.1L1307.1,89.5L1305.8,91.8L1300.7,92.5L1297.3,94.2L1295.0,96.4ZM1312.5,82.4L1314.5,81.9L1318.1,81.5L1321.8,79.3L1319.3,77.8L1315.4,75.8L1315.1,79.0L1312.5,80.7ZM1315.9,74.8L1318.4,73.9L1317.6,69.7L1317.9,63.8L1316.7,60.7L1315.9,64.6L1315.9,69.7ZM1278.9,113.6L1280.4,109.7L1282.1,110.2L1281.3,112.8L1280.1,115.5ZM1278.8,121.2L1282.5,121.2L1283.0,123.8L1281.3,126.3L1285.5,129.7L1283.8,130.5L1280.4,129.2L1279.6,128.0L1278.8,125.5ZM1282.1,140.7L1285.5,137.6L1288.0,135.9L1289.9,139.8L1288.0,142.7L1285.5,141.5ZM1260.2,150.0L1261.4,149.1L1263.9,147.8L1266.9,147.1L1269.8,144.6L1271.2,143.2L1273.4,140.8L1274.9,141.5L1277.4,143.5L1275.7,145.1L1275.2,149.5L1276.9,151.0L1274.4,152.3L1272.9,154.7L1272.9,157.1L1272.0,158.9L1269.5,158.6L1266.9,157.7L1264.6,157.9L1262.2,157.4L1262.0,155.0L1260.4,153.3ZM1237.1,143.0L1240.8,143.7L1242.5,145.9L1245.8,149.1L1247.5,149.6L1251.2,153.9L1252.6,155.7L1255.1,157.9L1254.8,162.3L1252.6,162.3L1249.2,159.6L1246.7,156.2L1245.3,153.9L1243.3,150.8L1241.6,148.3L1239.1,146.1ZM1253.8,164.0L1256.0,162.6L1259.0,163.1L1262.7,164.2L1266.4,164.2L1269.5,165.5L1269.5,167.2L1265.3,166.7L1260.2,165.7L1256.0,165.0ZM1270.3,166.4L1277.1,166.4L1283.8,166.4L1290.6,166.4L1290.6,167.7L1283.8,169.9L1277.1,167.7L1270.3,167.4ZM1277.7,161.8L1277.4,158.4L1278.8,152.5L1279.6,150.8L1287.2,150.0L1286.4,151.7L1281.3,152.5L1281.3,154.2L1284.3,154.2L1281.3,155.9L1283.0,160.1L1280.4,160.9L1279.3,157.2L1279.6,161.8ZM1297.3,154.7L1299.9,153.2L1302.4,154.0L1304.9,158.1L1308.3,155.2L1314.2,156.9L1319.3,159.1L1322.3,160.8L1325.2,163.0L1325.5,166.0L1328.6,168.6L1330.8,170.1L1327.7,169.9L1324.3,168.6L1322.6,166.0L1319.3,165.5L1318.1,166.9L1316.7,168.2L1314.2,167.9L1310.8,166.2L1309.1,166.5L1308.8,161.8L1304.1,159.9L1300.7,159.3L1299.0,157.2L1301.9,156.6L1299.5,156.2ZM1268.6,189.7L1267.8,193.9L1269.5,199.8L1270.3,204.0L1271.5,208.8L1270.3,210.5L1274.5,211.8L1277.9,210.6L1281.3,209.6L1285.5,208.1L1288.9,207.1L1294.0,206.1L1298.2,205.7L1301.5,206.9L1304.1,209.3L1305.4,211.3L1307.5,209.5L1308.8,207.9L1308.3,212.0L1310.8,212.8L1312.5,215.9L1315.1,217.4L1318.4,218.1L1321.0,217.4L1323.2,218.6L1326.0,216.4L1329.4,215.9L1329.7,213.0L1331.6,209.8L1333.6,207.3L1334.6,204.0L1335.5,200.3L1334.6,195.6L1331.9,193.1L1330.8,190.5L1328.2,188.3L1326.9,186.6L1323.5,184.4L1322.6,181.2L1321.5,177.8L1319.6,176.7L1318.4,174.1L1316.9,170.8L1315.2,174.1L1315.1,178.7L1313.4,181.9L1311.2,181.9L1308.3,179.5L1305.4,177.8L1304.9,176.7L1306.9,173.3L1305.4,172.6L1301.5,172.1L1299.9,171.6L1297.3,173.1L1295.6,174.5L1294.6,177.7L1292.6,177.8L1290.6,176.2L1288.0,177.0L1286.4,179.5L1284.3,181.2L1282.5,182.9L1281.3,185.1L1278.8,186.3L1276.2,187.0L1273.4,187.3L1271.2,188.5ZM1320.5,221.3L1326.5,221.6L1326.0,225.5L1322.6,226.2L1321.0,223.5ZM1367.7,210.6L1370.8,213.0L1373.0,215.0L1377.5,216.2L1375.8,218.4L1374.1,220.9L1371.6,222.6L1370.9,219.8L1369.6,218.7L1371.3,216.7L1370.2,214.2ZM1367.7,220.9L1370.4,222.8L1368.6,225.7L1365.4,227.7L1364.0,230.1L1361.5,231.3L1357.3,230.2L1358.1,228.6L1360.6,226.9L1364.0,224.8L1366.5,222.3ZM1159.4,172.8L1161.4,178.7L1159.8,182.1L1157.2,189.7L1155.5,194.8L1152.2,195.6L1150.0,189.7L1151.0,186.3L1150.5,182.1L1153.8,179.2L1157.2,175.3ZM1210.9,138.6L1211.6,135.9L1213.4,138.1L1214.3,140.3L1212.3,142.5L1211.1,141.0ZM932.7,115.5L936.1,113.8L938.6,113.3L942.8,114.5L945.4,116.2L948.8,117.5L951.0,118.4L946.2,118.9L945.0,117.5L942.0,116.0L938.6,115.0L935.3,115.0ZM950.6,121.2L953.3,118.9L958.0,119.2L960.7,121.1L958.0,121.7L955.5,122.8Z" fill="#2a5a9c" stroke="#2c5e9e" stroke-width="4.5" stroke-linejoin="round" filter="url(#blur2)"/><g filter="url(#texB)"><path d="M792.4,41.6L795.8,40.6L802.7,39.9L799.9,38.3L795.7,37.1L800.7,35.2L806.1,33.4L811.9,32.0L819.6,32.8L826.4,33.7L834.8,34.2L841.6,35.0L849.2,34.9L857.6,34.2L866.0,34.9L873.6,35.4L883.8,36.9L892.2,37.4L900.6,37.6L909.9,37.9L915.0,37.4L918.4,35.0L923.4,35.9L927.7,37.1L931.9,35.0L938.6,35.6L938.6,38.9L933.6,40.1L930.2,43.0L924.3,44.8L918.4,48.1L916.5,53.1L919.6,55.7L926.1,56.8L931.9,59.0L937.3,59.4L937.4,63.1L942.0,65.5L942.7,60.9L946.6,56.7L944.9,51.4L945.7,48.6L950.4,47.2L955.3,49.1L959.1,52.5L962.6,53.8L967.2,50.6L972.2,57.2L977.3,60.2L981.5,63.9L974.9,67.7L964.3,67.8L967.7,70.0L966.8,73.4L973.2,75.9L969.0,77.1L964.8,78.5L963.9,76.1L962.3,77.3L957.7,78.8L956.9,81.5L958.0,82.2L952.0,83.4L951.3,84.1L951.3,85.7L948.8,86.9L947.9,88.4L947.4,90.0L948.4,92.5L947.1,93.7L944.5,95.2L942.3,96.7L939.5,98.8L939.0,101.8L940.3,104.7L941.2,107.4L940.5,109.9L939.1,109.7L938.1,107.5L936.6,105.2L936.6,103.2L934.4,101.8L931.9,102.3L930.0,101.1L926.8,101.1L925.1,101.5L925.6,103.2L922.6,103.0L919.2,102.1L916.7,102.6L913.3,104.8L911.8,106.4L912.1,108.7L911.3,111.9L911.1,114.8L912.1,117.9L913.6,120.1L915.8,121.2L917.5,121.7L920.9,121.1L922.6,120.4L923.4,117.9L923.8,117.0L927.7,116.2L929.3,116.3L928.5,119.0L928.0,121.6L927.1,124.8L931.0,125.6L934.4,125.8L935.8,127.3L935.3,131.9L934.7,133.9L936.4,135.9L938.8,137.6L941.2,136.8L943.7,136.6L945.7,138.1L944.9,140.0L943.9,138.6L941.0,140.0L938.6,139.5L936.3,138.6L933.6,136.3L931.5,135.8L931.2,133.6L928.8,130.7L926.8,130.2L923.4,129.0L920.6,127.8L917.9,125.6L915.8,125.3L913.3,126.0L909.9,125.0L905.7,123.3L901.5,121.6L898.5,118.7L898.1,116.0L897.6,114.1L893.9,109.9L891.7,108.6L889.5,106.0L886.8,103.5L885.1,99.8L882.4,98.9L882.8,101.5L884.6,104.0L886.8,107.7L890.0,111.6L891.5,113.3L890.4,113.8L887.0,110.8L886.5,108.4L883.4,105.5L881.9,102.8L879.9,100.3L878.5,97.6L876.3,95.0L872.6,94.0L870.6,90.8L869.4,89.0L867.4,86.6L866.4,84.2L866.7,81.5L866.0,79.8L867.1,74.3L865.7,70.7L868.6,69.9L868.2,68.7L864.7,67.3L860.5,66.0L859.3,63.3L856.4,60.6L854.2,58.7L850.9,55.3L847.1,53.6L844.1,53.3L840.2,51.6L835.7,50.9L830.6,50.3L825.5,49.9L820.5,52.5L822.2,49.1L817.1,52.1L815.9,54.1L812.0,56.2L808.7,57.9L803.6,59.0L798.5,60.2L802.7,58.0L809.5,55.3L810.7,53.1L806.1,53.3L802.7,51.4L798.5,50.3L796.8,48.1L798.5,46.0L804.4,45.0L804.4,43.5L797.7,43.3L794.6,42.1ZM945.7,138.1L947.4,136.4L948.8,134.6L951.0,133.6L953.8,132.4L955.8,131.7L955.3,133.9L954.8,133.1L958.2,131.9L960.9,134.1L964.8,134.6L967.8,134.8L971.5,134.4L973.2,135.6L973.6,138.1L975.8,139.3L978.3,141.0L980.8,142.5L985.0,142.7L987.6,143.7L989.6,145.4L991.3,149.1L991.8,151.3L994.3,153.9L996.9,153.9L1001.1,156.4L1005.3,157.1L1009.5,157.6L1012.9,160.4L1016.4,161.3L1017.3,165.2L1016.6,168.2L1013.4,171.9L1011.2,174.8L1010.4,178.7L1009.7,182.6L1008.7,186.1L1007.0,189.3L1005.3,191.2L1001.1,191.7L997.7,193.1L994.8,195.6L994.2,200.2L992.0,203.0L989.9,205.7L987.4,208.8L985.0,211.3L982.5,211.5L980.0,210.8L977.6,210.5L979.6,213.0L980.3,214.9L978.6,217.2L975.8,218.1L971.2,218.1L971.0,221.3L966.5,221.8L966.0,225.2L965.6,228.6L962.3,230.7L965.1,233.3L961.8,236.7L960.6,238.7L959.7,240.7L960.7,241.4L963.9,244.9L960.9,246.0L957.2,245.4L953.8,243.3L950.4,241.2L949.1,237.0L950.4,231.9L951.6,228.6L952.1,224.3L951.8,219.3L952.5,215.0L954.7,209.1L955.3,204.0L955.8,199.0L957.4,192.2L957.7,186.3L957.2,183.4L953.8,181.2L950.4,178.7L947.6,175.3L944.9,171.1L942.0,165.5L939.1,162.6L939.1,159.8L941.2,157.1L939.6,154.4L941.2,151.7L942.8,150.0L944.7,147.8L945.5,145.7L945.7,142.4L944.9,140.0ZM1066.2,92.0L1068.6,93.0L1072.5,93.2L1076.2,91.8L1079.6,90.6L1084.6,90.3L1090.7,90.1L1093.4,89.6L1094.9,90.3L1093.9,91.7L1094.8,93.0L1093.4,94.7L1095.3,96.6L1097.3,97.1L1101.9,97.9L1104.2,99.8L1108.1,101.1L1110.0,100.3L1110.1,98.1L1112.5,97.1L1115.9,97.6L1118.7,99.1L1122.6,99.8L1126.3,99.8L1130.6,99.6L1133.9,99.8L1135.1,102.6L1131.2,102.0L1132.7,106.9L1135.3,111.6L1136.3,113.5L1139.0,117.0L1139.2,120.4L1141.0,122.1L1142.5,125.6L1145.7,129.0L1148.1,131.2L1149.3,132.4L1151.5,134.9L1156.4,133.7L1158.9,133.4L1162.5,132.4L1162.3,134.8L1160.9,138.5L1158.2,143.2L1156.4,145.4L1153.8,148.6L1149.6,151.7L1146.3,155.5L1143.9,157.6L1142.4,160.4L1141.7,163.5L1142.9,166.0L1142.7,169.4L1144.4,171.9L1144.7,176.5L1144.1,179.5L1139.5,182.4L1136.8,184.4L1134.9,186.1L1136.1,189.7L1136.1,193.1L1131.9,195.4L1131.7,196.8L1130.9,200.8L1129.0,202.2L1127.0,205.1L1123.8,207.8L1120.8,209.5L1117.9,210.0L1114.3,209.8L1110.0,211.3L1107.3,210.1L1106.9,207.1L1105.4,203.7L1104.1,200.8L1101.9,198.3L1101.0,195.4L1100.5,191.2L1098.8,187.8L1096.1,183.1L1095.9,179.2L1097.0,175.8L1099.2,172.8L1098.7,168.6L1097.0,162.8L1096.3,161.1L1093.1,157.4L1091.9,154.2L1092.2,150.8L1092.7,147.8L1092.2,146.1L1090.5,144.9L1088.0,145.1L1086.2,145.2L1083.8,141.9L1080.8,141.9L1077.9,142.4L1074.5,144.1L1072.3,144.2L1068.3,143.7L1063.5,145.1L1060.5,143.2L1057.0,141.0L1054.4,139.3L1053.7,137.3L1051.2,134.4L1049.9,132.9L1048.0,131.5L1047.3,128.2L1046.7,127.7L1048.3,125.1L1049.0,121.2L1048.3,119.5L1047.5,117.0L1049.2,112.4L1051.2,110.1L1053.9,106.9L1056.8,105.0L1059.3,102.8L1059.8,101.0L1059.7,97.9L1061.9,96.1L1064.7,94.9ZM1066.7,91.5L1065.4,90.3L1063.7,89.6L1061.2,90.0L1061.3,87.1L1060.2,86.9L1061.2,84.6L1061.3,81.7L1060.5,79.8L1062.7,78.6L1066.9,79.0L1073.2,79.2L1074.2,77.0L1074.2,74.6L1072.5,72.9L1068.6,71.5L1068.4,70.4L1073.5,70.2L1073.8,68.5L1076.4,68.8L1078.7,67.7L1079.1,66.3L1081.6,65.6L1083.5,64.5L1084.3,62.9L1086.2,62.3L1088.4,62.4L1090.7,61.4L1090.7,58.9L1090.0,56.7L1092.7,55.3L1094.1,55.0L1093.6,57.0L1094.6,57.4L1093.9,59.5L1094.8,61.2L1098.1,60.6L1100.7,61.4L1104.9,60.1L1109.1,60.6L1112.0,59.2L1111.8,56.5L1112.7,55.3L1115.9,56.2L1117.2,55.3L1116.9,54.0L1115.9,52.5L1120.1,51.8L1123.5,51.9L1126.0,51.3L1124.3,50.3L1120.9,50.4L1114.9,51.1L1112.3,49.7L1112.5,46.9L1114.2,45.5L1117.6,43.3L1119.1,42.5L1117.0,41.3L1113.7,41.5L1112.2,43.3L1109.1,45.2L1106.2,46.9L1105.2,48.9L1105.7,50.3L1107.9,51.1L1107.4,52.5L1104.4,54.6L1103.9,56.8L1103.0,57.7L1100.5,58.7L1098.0,58.9L1097.5,57.4L1096.3,55.2L1095.1,52.6L1093.8,52.1L1092.1,53.0L1089.9,54.3L1087.3,54.3L1085.7,53.0L1084.8,51.1L1084.6,49.4L1085.0,47.7L1087.2,46.9L1090.5,45.4L1093.9,43.5L1096.8,41.5L1099.0,38.4L1101.5,37.1L1104.1,35.9L1106.6,34.9L1110.0,34.2L1114.2,33.5L1118.4,32.5L1122.6,32.7L1126.8,33.7L1128.9,34.5L1131.9,35.2L1137.0,35.7L1143.7,37.9L1145.6,39.6L1143.7,40.6L1140.3,40.8L1135.3,40.6L1132.7,39.9L1134.4,42.7L1137.8,43.0L1139.5,43.8L1144.6,43.5L1148.8,40.5L1150.5,36.9L1153.8,37.2L1157.2,38.1L1165.7,36.7L1169.0,36.9L1174.1,36.2L1177.5,35.9L1184.2,35.0L1189.3,34.7L1191.8,37.1L1189.3,33.4L1192.3,29.8L1199.1,29.5L1198.4,32.2L1198.6,35.0L1201.1,37.6L1202.8,34.2L1200.8,31.7L1203.6,30.3L1209.6,30.3L1212.9,28.3L1222.2,26.6L1223.1,25.4L1231.5,24.4L1243.3,23.7L1251.8,21.4L1256.8,22.5L1265.3,23.7L1267.8,28.1L1273.7,28.1L1283.8,29.1L1290.6,28.5L1294.0,30.0L1296.5,32.7L1300.7,31.7L1305.8,31.7L1311.7,30.1L1314.2,29.8L1322.6,30.3L1329.4,31.7L1333.6,32.8L1341.2,32.5L1346.3,33.4L1349.7,34.7L1356.4,34.9L1359.8,34.2L1364.0,34.5L1371.6,34.4L1377.8,35.2L1380.0,36.1L1380.0,42.3L1377.5,43.5L1375.0,46.7L1369.1,48.2L1364.0,51.1L1358.1,50.8L1353.0,51.4L1351.3,54.8L1350.5,57.5L1347.1,60.9L1343.7,63.8L1340.5,66.3L1339.4,62.9L1338.7,58.7L1340.4,55.3L1342.9,54.5L1347.1,50.3L1349.7,48.4L1345.4,48.2L1340.4,48.6L1336.2,51.9L1331.9,52.5L1326.9,52.3L1321.8,52.3L1316.2,52.8L1311.7,55.3L1307.5,61.2L1310.0,61.7L1314.9,64.3L1313.4,68.0L1313.2,70.9L1310.0,73.2L1306.6,76.6L1302.4,79.0L1298.8,79.8L1296.8,81.0L1295.1,83.2L1292.3,84.9L1294.3,89.1L1294.6,92.5L1290.6,94.0L1289.6,94.2L1289.7,91.8L1290.2,90.0L1288.9,88.8L1286.7,87.8L1287.7,85.6L1286.0,85.1L1282.5,84.1L1281.0,85.9L1281.5,83.4L1278.8,84.4L1276.2,86.3L1274.7,87.4L1276.7,89.3L1279.9,88.6L1283.0,89.3L1280.4,91.3L1277.9,93.3L1279.6,96.2L1282.0,98.9L1281.3,100.8L1282.1,103.0L1281.3,104.7L1279.6,106.5L1277.9,108.9L1276.2,110.9L1272.9,113.6L1268.6,114.8L1264.4,116.2L1262.2,118.2L1261.5,116.2L1259.3,115.8L1256.3,117.5L1254.8,120.2L1256.5,123.3L1259.9,126.6L1260.7,130.5L1260.5,132.9L1257.7,134.8L1256.0,136.1L1253.1,138.0L1253.1,135.3L1250.9,134.6L1249.4,131.9L1246.5,131.0L1246.5,129.9L1245.0,131.9L1243.6,135.3L1244.8,137.0L1245.8,140.2L1247.9,141.0L1249.2,142.4L1250.7,144.4L1250.7,146.6L1252.1,150.0L1250.9,150.3L1248.4,148.4L1246.7,146.6L1245.5,144.1L1245.3,141.5L1243.3,139.1L1242.1,138.1L1242.5,134.8L1242.8,131.4L1242.0,129.7L1240.9,124.6L1239.1,124.3L1237.2,125.8L1235.7,124.6L1235.4,121.2L1234.0,119.5L1232.3,117.0L1231.5,115.7L1230.7,114.1L1229.0,115.3L1226.4,115.7L1223.1,116.2L1222.2,117.9L1219.7,119.5L1218.0,121.6L1215.0,124.3L1212.9,126.3L1211.6,129.2L1211.4,132.2L1210.9,135.1L1208.7,137.5L1207.0,138.8L1205.5,137.5L1204.5,134.8L1203.6,132.4L1202.1,128.0L1200.3,125.5L1199.1,120.4L1198.7,116.2L1195.2,117.3L1192.7,114.8L1194.7,114.0L1191.8,112.8L1190.1,111.9L1188.8,109.6L1185.1,109.9L1180.0,110.1L1176.6,109.6L1173.3,108.9L1172.1,106.9L1169.9,107.4L1168.2,107.7L1164.8,106.0L1162.8,105.2L1160.9,102.6L1158.2,102.0L1157.2,102.6L1158.1,104.3L1159.8,106.9L1160.9,108.2L1161.8,110.2L1163.1,109.4L1163.6,111.9L1166.5,111.8L1169.0,110.6L1171.2,108.2L1171.4,110.4L1173.3,112.3L1175.5,113.0L1177.1,114.5L1174.9,117.5L1173.8,119.5L1171.9,122.1L1169.5,123.3L1164.3,125.8L1158.9,128.0L1156.4,129.5L1153.0,130.4L1150.5,131.2L1149.3,130.9L1148.4,127.5L1147.9,124.6L1145.7,121.2L1143.4,117.9L1142.0,115.3L1141.2,112.3L1139.5,111.1L1138.0,108.9L1136.1,106.0L1134.6,104.8L1135.1,102.6L1133.9,99.8L1135.1,97.6L1136.1,95.2L1136.8,92.7L1137.1,90.6L1134.6,90.3L1131.1,91.5L1127.7,90.8L1123.8,90.5L1122.3,89.1L1120.8,87.3L1120.4,85.7L1121.3,84.2L1125.3,82.9L1129.4,82.9L1132.7,81.5L1135.6,81.5L1140.9,83.4L1146.3,82.4L1146.4,80.3L1143.6,79.2L1140.7,77.5L1138.1,76.1L1135.3,75.4L1132.7,77.1L1131.2,75.8L1132.9,74.8L1129.7,73.7L1128.2,73.9L1126.2,75.9L1124.6,77.8L1122.8,80.7L1123.5,82.2L1120.6,83.4L1117.6,83.4L1116.2,84.4L1114.5,84.2L1114.3,86.6L1115.5,88.3L1114.7,89.5L1112.7,90.3L1111.8,87.9L1110.3,85.6L1108.9,84.4L1109.1,82.0L1107.3,80.7L1103.2,79.0L1101.9,77.6L1100.2,76.1L1099.2,76.3L1097.0,75.9L1097.1,77.8L1099.2,78.8L1100.7,81.2L1103.2,82.5L1105.7,83.5L1107.4,84.6L1105.2,85.9L1105.1,86.8L1104.2,87.6L1102.7,88.3L1103.0,85.7L1101.4,84.6L1099.8,83.5L1096.8,82.0L1095.1,80.8L1093.9,79.8L1092.6,78.0L1090.5,77.6L1088.9,78.5L1087.2,79.7L1084.0,79.2L1081.4,79.7L1081.6,81.7L1079.7,82.7L1077.6,83.2L1075.7,85.7L1076.5,87.1L1075.0,89.0L1072.7,90.5L1068.8,90.5ZM772.4,36.1L777.4,37.2L782.5,39.3L786.7,39.4L789.6,40.8L787.6,42.0L785.0,43.5L780.8,43.0L775.7,42.1L772.4,42.3ZM953.0,19.8L964.8,16.5L971.5,14.3L991.8,13.1L1008.7,11.7L1025.6,11.4L1042.4,13.1L1055.9,14.8L1045.8,17.3L1044.1,21.5L1043.3,25.8L1039.9,30.0L1039.1,33.4L1034.0,35.4L1022.2,37.2L1017.1,40.5L1009.5,42.3L1007.0,46.0L1003.6,51.1L998.6,49.7L993.5,47.7L991.0,44.7L988.4,41.8L985.9,39.3L987.6,35.9L989.3,33.4L984.2,31.7L982.5,29.1L980.0,26.6L976.6,24.4L969.9,23.6L961.4,23.2L957.2,21.5ZM971.9,39.9L968.2,45.2L960.6,47.4L953.8,44.3L943.7,43.8L952.1,38.4L945.4,34.2L932.7,34.2L924.3,30.8L931.9,28.3L941.2,27.9L947.9,29.5L954.7,31.7L961.4,34.2L963.9,36.7ZM941.2,26.6L920.9,26.6L914.2,24.1L912.5,20.7L920.9,16.5L932.7,13.9L958.0,12.2L971.5,13.6L958.0,17.3L951.3,19.8L944.5,22.4L941.2,23.7ZM864.4,31.2L866.0,27.4L877.0,24.9L887.1,26.6L899.0,28.3L905.7,28.3L912.5,30.0L910.8,35.0L904.0,36.2L893.9,36.7L882.1,35.9L877.0,34.2L870.3,33.4ZM873.6,24.1L880.4,21.5L897.3,19.8L910.8,20.7L907.4,23.2L890.5,24.4ZM929.3,44.0L940.3,45.2L938.6,41.8L931.0,40.6ZM1034.8,41.8L1039.1,40.3L1045.8,40.6L1051.7,40.5L1053.4,42.5L1050.9,43.8L1045.0,45.4L1038.2,44.7L1039.9,43.5ZM1094.8,19.5L1103.2,17.3L1113.3,16.8L1121.8,17.3L1118.4,19.8L1113.3,21.5L1104.9,23.2L1099.8,21.5ZM1164.8,31.7L1170.7,33.2L1174.1,31.7L1172.4,28.3L1177.5,24.9L1191.0,22.7L1184.2,22.4L1174.1,24.1L1169.0,26.6ZM1236.6,19.0L1245.0,20.3L1253.4,19.8L1248.4,15.6L1238.2,16.5ZM1305.8,24.9L1315.9,27.8L1329.4,25.8L1322.6,24.1L1309.1,23.7ZM1066.6,67.8L1071.1,67.0L1078.6,66.0L1079.1,63.4L1076.7,62.3L1075.4,60.4L1073.2,58.5L1072.7,55.8L1073.2,55.2L1069.4,55.2L1071.1,53.5L1067.8,53.5L1065.7,55.3L1066.7,57.4L1066.9,58.7L1068.1,59.9L1070.8,59.7L1070.6,61.4L1068.3,62.4L1068.9,63.8L1067.4,65.0L1070.6,65.6L1067.8,66.3ZM1066.1,64.3L1065.9,61.4L1066.2,59.5L1063.5,59.0L1059.3,60.9L1059.0,65.3L1062.7,65.5ZM1296.0,99.8L1298.2,99.3L1299.0,96.2L1301.5,96.1L1304.6,95.7L1307.1,94.5L1310.8,93.9L1313.9,92.2L1314.2,89.1L1315.9,85.7L1315.1,82.7L1312.5,83.5L1312.2,86.6L1310.0,89.1L1307.1,89.5L1305.8,91.8L1300.7,92.5L1297.3,94.2L1295.0,96.4ZM1312.5,82.4L1314.5,81.9L1318.1,81.5L1321.8,79.3L1319.3,77.8L1315.4,75.8L1315.1,79.0L1312.5,80.7ZM1315.9,74.8L1318.4,73.9L1317.6,69.7L1317.9,63.8L1316.7,60.7L1315.9,64.6L1315.9,69.7ZM1278.9,113.6L1280.4,109.7L1282.1,110.2L1281.3,112.8L1280.1,115.5ZM1278.8,121.2L1282.5,121.2L1283.0,123.8L1281.3,126.3L1285.5,129.7L1283.8,130.5L1280.4,129.2L1279.6,128.0L1278.8,125.5ZM1282.1,140.7L1285.5,137.6L1288.0,135.9L1289.9,139.8L1288.0,142.7L1285.5,141.5ZM1260.2,150.0L1261.4,149.1L1263.9,147.8L1266.9,147.1L1269.8,144.6L1271.2,143.2L1273.4,140.8L1274.9,141.5L1277.4,143.5L1275.7,145.1L1275.2,149.5L1276.9,151.0L1274.4,152.3L1272.9,154.7L1272.9,157.1L1272.0,158.9L1269.5,158.6L1266.9,157.7L1264.6,157.9L1262.2,157.4L1262.0,155.0L1260.4,153.3ZM1237.1,143.0L1240.8,143.7L1242.5,145.9L1245.8,149.1L1247.5,149.6L1251.2,153.9L1252.6,155.7L1255.1,157.9L1254.8,162.3L1252.6,162.3L1249.2,159.6L1246.7,156.2L1245.3,153.9L1243.3,150.8L1241.6,148.3L1239.1,146.1ZM1253.8,164.0L1256.0,162.6L1259.0,163.1L1262.7,164.2L1266.4,164.2L1269.5,165.5L1269.5,167.2L1265.3,166.7L1260.2,165.7L1256.0,165.0ZM1270.3,166.4L1277.1,166.4L1283.8,166.4L1290.6,166.4L1290.6,167.7L1283.8,169.9L1277.1,167.7L1270.3,167.4ZM1277.7,161.8L1277.4,158.4L1278.8,152.5L1279.6,150.8L1287.2,150.0L1286.4,151.7L1281.3,152.5L1281.3,154.2L1284.3,154.2L1281.3,155.9L1283.0,160.1L1280.4,160.9L1279.3,157.2L1279.6,161.8ZM1297.3,154.7L1299.9,153.2L1302.4,154.0L1304.9,158.1L1308.3,155.2L1314.2,156.9L1319.3,159.1L1322.3,160.8L1325.2,163.0L1325.5,166.0L1328.6,168.6L1330.8,170.1L1327.7,169.9L1324.3,168.6L1322.6,166.0L1319.3,165.5L1318.1,166.9L1316.7,168.2L1314.2,167.9L1310.8,166.2L1309.1,166.5L1308.8,161.8L1304.1,159.9L1300.7,159.3L1299.0,157.2L1301.9,156.6L1299.5,156.2ZM1268.6,189.7L1267.8,193.9L1269.5,199.8L1270.3,204.0L1271.5,208.8L1270.3,210.5L1274.5,211.8L1277.9,210.6L1281.3,209.6L1285.5,208.1L1288.9,207.1L1294.0,206.1L1298.2,205.7L1301.5,206.9L1304.1,209.3L1305.4,211.3L1307.5,209.5L1308.8,207.9L1308.3,212.0L1310.8,212.8L1312.5,215.9L1315.1,217.4L1318.4,218.1L1321.0,217.4L1323.2,218.6L1326.0,216.4L1329.4,215.9L1329.7,213.0L1331.6,209.8L1333.6,207.3L1334.6,204.0L1335.5,200.3L1334.6,195.6L1331.9,193.1L1330.8,190.5L1328.2,188.3L1326.9,186.6L1323.5,184.4L1322.6,181.2L1321.5,177.8L1319.6,176.7L1318.4,174.1L1316.9,170.8L1315.2,174.1L1315.1,178.7L1313.4,181.9L1311.2,181.9L1308.3,179.5L1305.4,177.8L1304.9,176.7L1306.9,173.3L1305.4,172.6L1301.5,172.1L1299.9,171.6L1297.3,173.1L1295.6,174.5L1294.6,177.7L1292.6,177.8L1290.6,176.2L1288.0,177.0L1286.4,179.5L1284.3,181.2L1282.5,182.9L1281.3,185.1L1278.8,186.3L1276.2,187.0L1273.4,187.3L1271.2,188.5ZM1320.5,221.3L1326.5,221.6L1326.0,225.5L1322.6,226.2L1321.0,223.5ZM1367.7,210.6L1370.8,213.0L1373.0,215.0L1377.5,216.2L1375.8,218.4L1374.1,220.9L1371.6,222.6L1370.9,219.8L1369.6,218.7L1371.3,216.7L1370.2,214.2ZM1367.7,220.9L1370.4,222.8L1368.6,225.7L1365.4,227.7L1364.0,230.1L1361.5,231.3L1357.3,230.2L1358.1,228.6L1360.6,226.9L1364.0,224.8L1366.5,222.3ZM1159.4,172.8L1161.4,178.7L1159.8,182.1L1157.2,189.7L1155.5,194.8L1152.2,195.6L1150.0,189.7L1151.0,186.3L1150.5,182.1L1153.8,179.2L1157.2,175.3ZM1210.9,138.6L1211.6,135.9L1213.4,138.1L1214.3,140.3L1212.3,142.5L1211.1,141.0ZM932.7,115.5L936.1,113.8L938.6,113.3L942.8,114.5L945.4,116.2L948.8,117.5L951.0,118.4L946.2,118.9L945.0,117.5L942.0,116.0L938.6,115.0L935.3,115.0ZM950.6,121.2L953.3,118.9L958.0,119.2L960.7,121.1L958.0,121.7L955.5,122.8Z" fill="#74643e"/><g clip-path="url(#lcB)"><path d="M1059.3,91.7L1143.7,91.7L1152.2,59.5L1118.4,51.1L1084.6,47.7L1059.3,68.0Z" fill="#4a5232" filter="url(#blur3)"/><path d="M1194.4,139.0L1228.1,139.0L1228.1,105.2L1197.7,98.4L1191.0,111.9Z" fill="#4a5232" filter="url(#blur3)"/><path d="M941.2,139.0L974.9,135.6L991.8,145.7L1012.1,159.3L1010.4,177.8L1000.2,193.1L985.0,203.2L974.9,198.1L964.8,186.3L947.9,172.8L941.2,155.9Z" fill="#3a4c2c" filter="url(#blur3)"/><path d="M1050.9,132.2L1093.1,135.6L1126.8,142.4L1140.3,152.5L1140.3,172.8L1118.4,176.2L1098.1,169.4L1091.4,152.5L1067.8,144.1L1050.9,139.0Z" fill="#3a4c2c" filter="url(#blur3)"/><path d="M1231.5,105.2L1282.1,105.2L1282.1,118.7L1261.9,139.0L1245.0,152.5L1236.6,135.6L1228.1,115.3Z" fill="#3a4c2c" filter="url(#blur3)"/><path d="M1236.6,142.4L1337.8,142.4L1337.8,171.1L1236.6,171.1Z" fill="#3a4c2c" filter="url(#blur3)"/><path d="M1253.4,118.7L1282.1,118.7L1282.1,103.5L1253.4,103.5Z" fill="#3a4c2c" filter="url(#blur3)"/><path d="M1047.5,125.5L1067.8,123.8L1093.1,123.8L1118.4,125.5L1135.3,125.5L1143.7,122.1L1143.7,100.1L1126.8,99.3L1093.1,95.0L1076.2,93.3L1059.3,98.4L1047.5,115.3Z" fill="#d3b282" filter="url(#blur3)"/><path d="M1133.6,100.1L1177.5,100.1L1180.9,111.9L1175.8,122.1L1160.6,128.8L1147.1,128.8L1137.0,111.9Z" fill="#d3b282" filter="url(#blur3)"/><path d="M1160.6,88.3L1180.9,90.0L1194.4,84.9L1202.8,81.5L1207.9,76.5L1185.9,74.8L1169.0,74.8L1160.6,81.5Z" fill="#d3b282" filter="url(#blur3)"/><path d="M1150.5,93.3L1180.9,93.3L1187.6,108.6L1170.7,110.2L1160.6,101.8Z" fill="#d3b282" filter="url(#blur3)"/><path d="M1207.9,90.0L1228.1,90.0L1231.5,83.2L1211.2,81.5Z" fill="#d3b282" filter="url(#blur3)"/><path d="M1236.6,84.9L1261.9,84.9L1268.6,79.8L1251.8,76.5L1236.6,78.1Z" fill="#d3b282" filter="url(#blur3)"/><path d="M877.0,100.1L907.4,100.1L907.4,84.9L887.1,81.5L873.6,90.0Z" fill="#d3b282" filter="url(#blur3)"/><path d="M890.5,115.3L910.8,115.3L907.4,100.1L883.8,98.4Z" fill="#d3b282" filter="url(#blur3)"/><path d="M1275.4,186.3L1315.9,186.3L1322.6,199.8L1315.9,213.3L1275.4,210.0L1268.6,196.4Z" fill="#bf7f50" filter="url(#blur3)"/><path d="M1096.5,203.2L1120.1,203.2L1123.5,186.3L1110.0,179.5L1096.5,179.5Z" fill="#d3b282" filter="url(#blur3)"/><path d="M1143.7,132.2L1162.3,132.2L1157.2,147.4L1143.7,147.4Z" fill="#d3b282" filter="url(#blur3)"/><path d="M956.4,182.9L963.1,186.3L964.8,203.2L963.1,233.6L958.0,240.4L954.7,228.6L956.4,203.2Z" fill="#d3b282" filter="url(#blur3)"/><path d="M1191.0,115.3L1204.5,115.3L1204.5,101.8L1191.0,101.8Z" fill="#d3b282" filter="url(#blur3)"/></g></g><g clip-path="url(#lcB)"><g filter="url(#stexB)"><path d="M772.4,0.4L991.8,0.4L983.4,64.6L974.9,73.1L961.4,75.6L949.6,77.3L941.2,78.1L932.7,74.8L924.3,72.2L912.5,69.7L902.3,69.7L893.9,73.1L887.1,78.1L877.0,74.8L870.3,69.7L856.8,59.5L839.9,54.5L772.4,54.5Z" fill="#e8eaeb" filter="url(#blur2)"/><path d="M949.6,25.8L1059.3,25.8L1059.3,0.4L949.6,0.4Z" fill="#e8eaeb" filter="url(#blur2)"/><path d="M974.9,54.5L1059.3,54.5L1059.3,10.5L974.9,10.5Z" fill="#e8eaeb" filter="url(#blur2)"/><path d="M1032.3,47.7L1055.9,47.7L1055.9,37.6L1032.3,37.6Z" fill="#e8eaeb" filter="url(#blur2)"/><path d="M877.0,74.8L890.5,74.8L900.6,88.3L893.9,91.7L885.5,81.5Z" fill="#e8eaeb" filter="url(#blur2)"/><path d="M1084.6,47.7L1101.5,54.5L1118.4,56.2L1135.3,62.9L1152.2,69.7L1169.0,73.1L1185.9,74.8L1202.8,74.8L1219.7,73.1L1236.6,71.4L1253.4,74.8L1270.3,74.8L1287.2,73.1L1299.0,73.1L1312.5,66.3L1329.4,57.9L1380.0,54.5L1380.0,0.4L1084.6,0.4Z" fill="#e8eaeb" filter="url(#blur2)"/><path d="M1197.7,88.3L1211.2,86.6L1228.1,89.1L1245.0,91.7L1250.1,98.4L1238.2,103.5L1221.4,104.3L1206.2,100.1Z" fill="#e8eaeb" filter="url(#blur2)"/><path d="M1219.7,71.4L1245.0,69.7L1265.3,74.8L1245.0,78.1L1224.7,76.5Z" fill="#e8eaeb" filter="url(#blur2)"/><path d="M1143.7,78.1L1155.5,81.5L1157.2,84.9L1143.7,83.2Z" fill="#e8eaeb" filter="url(#blur2)"/><path d="M1123.5,84.9L1150.5,84.9L1160.6,90.0L1140.3,88.3Z" fill="#e8eaeb" filter="url(#blur2)"/></g></g><path d="M1155.5,77.3L1158.9,73.9L1164.0,73.1L1166.5,76.5L1162.3,79.0L1164.8,82.4L1167.4,84.1L1166.5,89.1L1162.3,90.5L1158.9,89.1L1159.8,84.1L1157.2,81.5L1156.4,79.0Z" fill="#1e4a86"/><path d="M772.4,304.6L772.4,284.8L789.2,284.3L806.1,285.2L823.0,281.8L839.9,279.2L856.8,278.1L873.6,277.2L890.5,278.4L907.4,276.7L924.3,275.9L941.2,276.2L949.6,273.3L958.0,270.0L963.1,265.7L969.9,262.4L980.0,259.5L978.3,261.5L973.2,264.9L970.7,270.0L972.4,275.9L974.9,279.2L983.4,283.5L1000.2,284.8L1017.1,283.8L1028.9,280.9L1042.4,276.7L1055.9,273.3L1067.8,272.0L1084.6,270.8L1101.5,271.1L1118.4,271.5L1131.9,270.0L1143.7,268.9L1157.2,266.6L1169.0,264.9L1180.9,266.6L1191.0,267.1L1194.4,270.0L1199.4,270.8L1207.9,268.3L1219.7,265.4L1236.6,264.5L1253.4,264.0L1261.9,264.9L1273.7,265.7L1287.2,264.5L1304.1,264.4L1315.9,265.7L1329.4,268.3L1342.9,270.0L1351.3,272.0L1358.1,273.8L1363.2,276.7L1356.4,282.6L1363.2,284.7L1380.0,284.8L1380.0,304.6Z" fill="#eff1f1"/><rect x="772.4" y="294.5" width="607.1" height="3.4" fill="#b8b2a4" opacity="0.18" filter="url(#blur2)"/></g><g clip-path="url(#mcB)"><circle cx="791.1" cy="29.2" r="17" fill="#0eace6"/><path d="M791.1,29.2L791.10,12.20M791.1,29.2L791.10,12.20M791.1,29.2L791.10,12.20M791.1,29.2L791.10,12.20" stroke="#000" stroke-width="0.8" fill="none"/><circle cx="791.1" cy="29.2" r="17" fill="none" stroke="#000" stroke-width="0.9"/><circle cx="931.3" cy="27.8" r="17" fill="#0eace6"/><path d="M931.3,27.8L931.30,10.80M931.3,27.8L931.30,10.80M931.3,27.8L931.30,10.80M931.3,27.8L931.30,10.80" stroke="#000" stroke-width="0.8" fill="none"/><circle cx="931.3" cy="27.8" r="17" fill="none" stroke="#000" stroke-width="0.9"/><path d="M807.6,99.8L807.60,82.80A17,17 0 0 1 822.50,91.61Z" fill="#0eace6"/><path d="M807.6,99.8L822.50,91.61A17,17 0 1 1 793.25,90.69Z" fill="#fff58a"/><path d="M807.6,99.8L793.25,90.69A17,17 0 0 1 793.85,89.81Z" fill="#e24a5a"/><path d="M807.6,99.8L793.85,89.81A17,17 0 0 1 807.60,82.80Z" fill="#30b04e"/><path d="M807.6,99.8L807.60,82.80M807.6,99.8L822.50,91.61M807.6,99.8L793.25,90.69M807.6,99.8L793.85,89.81" stroke="#000" stroke-width="0.8" fill="none"/><circle cx="807.6" cy="99.8" r="17" fill="none" stroke="#000" stroke-width="0.9"/><path d="M860.5,92.8L860.50,75.80A17,17 0 0 1 875.40,84.61Z" fill="#0eace6"/><path d="M860.5,92.8L875.40,84.61A17,17 0 1 1 853.26,77.42Z" fill="#fff58a"/><path d="M860.5,92.8L853.26,77.42A17,17 0 0 1 855.25,76.63Z" fill="#e24a5a"/><path d="M860.5,92.8L855.25,76.63A17,17 0 0 1 860.50,75.80Z" fill="#30b04e"/><path d="M860.5,92.8L860.50,75.80M860.5,92.8L875.40,84.61M860.5,92.8L853.26,77.42M860.5,92.8L855.25,76.63" stroke="#000" stroke-width="0.8" fill="none"/><circle cx="860.5" cy="92.8" r="17" fill="none" stroke="#000" stroke-width="0.9"/><path d="M926.9,109.5L926.90,92.50A17,17 0 0 1 934.14,94.12Z" fill="#0eace6"/><path d="M926.9,109.5L934.14,94.12A17,17 0 0 1 919.66,124.88Z" fill="#fff58a"/><path d="M926.9,109.5L919.66,124.88A17,17 0 0 1 910.73,114.75Z" fill="#e24a5a"/><path d="M926.9,109.5L910.73,114.75A17,17 0 0 1 926.90,92.50Z" fill="#30b04e"/><path d="M926.9,109.5L926.90,92.50M926.9,109.5L934.14,94.12M926.9,109.5L919.66,124.88M926.9,109.5L910.73,114.75" stroke="#000" stroke-width="0.8" fill="none"/><circle cx="926.9" cy="109.5" r="17" fill="none" stroke="#000" stroke-width="0.9"/><path d="M878.7,128.4L878.70,111.40A17,17 0 0 1 883.95,112.23Z" fill="#0eace6"/><path d="M878.7,128.4L883.95,112.23A17,17 0 1 1 869.59,114.05Z" fill="#fff58a"/><path d="M878.7,128.4L869.59,114.05A17,17 0 0 1 878.70,111.40Z" fill="#30b04e"/><path d="M878.7,128.4L878.70,111.40M878.7,128.4L883.95,112.23M878.7,128.4L869.59,114.05M878.7,128.4L869.59,114.05" stroke="#000" stroke-width="0.8" fill="none"/><circle cx="878.7" cy="128.4" r="17" fill="none" stroke="#000" stroke-width="0.9"/><path d="M901.3,141.4L901.30,124.40A17,17 0 0 1 908.54,126.02Z" fill="#0eace6"/><path d="M901.3,141.4L908.54,126.02A17,17 0 1 1 894.06,126.02Z" fill="#fff58a"/><path d="M901.3,141.4L894.06,126.02A17,17 0 0 1 901.30,124.40Z" fill="#30b04e"/><path d="M901.3,141.4L901.30,124.40M901.3,141.4L908.54,126.02M901.3,141.4L894.06,126.02M901.3,141.4L894.06,126.02" stroke="#000" stroke-width="0.8" fill="none"/><circle cx="901.3" cy="141.4" r="17" fill="none" stroke="#000" stroke-width="0.9"/><path d="M932.7,147.8L932.70,130.80A17,17 0 0 1 935.89,131.10Z" fill="#0eace6"/><path d="M932.7,147.8L935.89,131.10A17,17 0 1 1 930.57,130.93Z" fill="#fff58a"/><path d="M932.7,147.8L930.57,130.93A17,17 0 0 1 932.70,130.80Z" fill="#30b04e"/><path d="M932.7,147.8L932.70,130.80M932.7,147.8L935.89,131.10M932.7,147.8L930.57,130.93M932.7,147.8L930.57,130.93" stroke="#000" stroke-width="0.8" fill="none"/><circle cx="932.7" cy="147.8" r="17" fill="none" stroke="#000" stroke-width="0.9"/><path d="M933.6,155.6L933.60,138.60A17,17 0 0 1 940.84,140.22Z" fill="#0eace6"/><path d="M933.6,155.6L940.84,140.22A17,17 0 1 1 927.34,139.79Z" fill="#fff58a"/><path d="M933.6,155.6L927.34,139.79A17,17 0 0 1 933.60,138.60Z" fill="#30b04e"/><path d="M933.6,155.6L933.60,138.60M933.6,155.6L940.84,140.22M933.6,155.6L927.34,139.79M933.6,155.6L927.34,139.79" stroke="#000" stroke-width="0.8" fill="none"/><circle cx="933.6" cy="155.6" r="17" fill="none" stroke="#000" stroke-width="0.9"/><path d="M816.4,153.0L816.40,136.00A17,17 0 0 1 831.78,145.76Z" fill="#0eace6"/><path d="M816.4,153.0L831.78,145.76A17,17 0 1 1 801.02,145.76Z" fill="#fff58a"/><path d="M816.4,153.0L801.02,145.76A17,17 0 0 1 802.65,143.01Z" fill="#e24a5a"/><path d="M816.4,153.0L802.65,143.01A17,17 0 0 1 816.40,136.00Z" fill="#30b04e"/><path d="M816.4,153.0L816.40,136.00M816.4,153.0L831.78,145.76M816.4,153.0L801.02,145.76M816.4,153.0L802.65,143.01" stroke="#000" stroke-width="0.8" fill="none"/><circle cx="816.4" cy="153.0" r="17" fill="none" stroke="#000" stroke-width="0.9"/><path d="M840.7,166.9L840.70,149.90A17,17 0 0 1 854.45,156.91Z" fill="#0eace6"/><path d="M840.7,166.9L854.45,156.91A17,17 0 1 1 833.46,151.52Z" fill="#fff58a"/><path d="M840.7,166.9L833.46,151.52A17,17 0 0 1 834.94,150.91Z" fill="#e24a5a"/><path d="M840.7,166.9L834.94,150.91A17,17 0 0 1 840.70,149.90Z" fill="#30b04e"/><path d="M840.7,166.9L840.70,149.90M840.7,166.9L854.45,156.91M840.7,166.9L833.46,151.52M840.7,166.9L834.94,150.91" stroke="#000" stroke-width="0.8" fill="none"/><circle cx="840.7" cy="166.9" r="17" fill="none" stroke="#000" stroke-width="0.9"/><path d="M856.4,192.0L856.40,175.00A17,17 0 0 1 859.59,175.30Z" fill="#0eace6"/><path d="M856.4,192.0L859.59,175.30A17,17 0 1 1 851.15,175.83Z" fill="#fff58a"/><path d="M856.4,192.0L851.15,175.83A17,17 0 0 1 856.40,175.00Z" fill="#30b04e"/><path d="M856.4,192.0L856.40,175.00M856.4,192.0L859.59,175.30M856.4,192.0L851.15,175.83M856.4,192.0L851.15,175.83" stroke="#000" stroke-width="0.8" fill="none"/><circle cx="856.4" cy="192.0" r="17" fill="none" stroke="#000" stroke-width="0.9"/><path d="M886.7,196.4L886.70,179.40A17,17 0 1 1 883.51,179.70Z" fill="#fff58a"/><path d="M886.7,196.4L883.51,179.70A17,17 0 0 1 886.70,179.40Z" fill="#30b04e"/><path d="M886.7,196.4L886.70,179.40M886.7,196.4L886.70,179.40M886.7,196.4L883.51,179.70M886.7,196.4L883.51,179.70" stroke="#000" stroke-width="0.8" fill="none"/><circle cx="886.7" cy="196.4" r="17" fill="none" stroke="#000" stroke-width="0.9"/><path d="M910.2,171.2L910.20,154.20A17,17 0 0 1 913.39,154.50Z" fill="#0eace6"/><path d="M910.2,171.2L913.39,154.50A17,17 0 1 1 898.56,158.81Z" fill="#fff58a"/><path d="M910.2,171.2L898.56,158.81A17,17 0 0 1 902.96,155.82Z" fill="#e24a5a"/><path d="M910.2,171.2L902.96,155.82A17,17 0 0 1 910.20,154.20Z" fill="#30b04e"/><path d="M910.2,171.2L910.20,154.20M910.2,171.2L913.39,154.50M910.2,171.2L898.56,158.81M910.2,171.2L902.96,155.82" stroke="#000" stroke-width="0.8" fill="none"/><circle cx="910.2" cy="171.2" r="17" fill="none" stroke="#000" stroke-width="0.9"/><path d="M906.7,179.9L906.70,162.90A17,17 0 0 1 923.17,175.67Z" fill="#0eace6"/><path d="M906.7,179.9L923.17,175.67A17,17 0 1 1 897.59,165.55Z" fill="#fff58a"/><path d="M906.7,179.9L897.59,165.55A17,17 0 0 1 901.45,163.73Z" fill="#e24a5a"/><path d="M906.7,179.9L901.45,163.73A17,17 0 0 1 906.70,162.90Z" fill="#30b04e"/><path d="M906.7,179.9L906.70,162.90M906.7,179.9L923.17,175.67M906.7,179.9L897.59,165.55M906.7,179.9L901.45,163.73" stroke="#000" stroke-width="0.8" fill="none"/><circle cx="906.7" cy="179.9" r="17" fill="none" stroke="#000" stroke-width="0.9"/><path d="M952.7,209.4L952.70,192.40A17,17 0 0 1 968.08,216.64Z" fill="#0eace6"/><path d="M952.7,209.4L968.08,216.64A17,17 0 1 1 944.51,194.50Z" fill="#fff58a"/><path d="M952.7,209.4L944.51,194.50A17,17 0 0 1 948.47,192.93Z" fill="#e24a5a"/><path d="M952.7,209.4L948.47,192.93A17,17 0 0 1 952.70,192.40Z" fill="#30b04e"/><path d="M952.7,209.4L952.70,192.40M952.7,209.4L968.08,216.64M952.7,209.4L944.51,194.50M952.7,209.4L948.47,192.93" stroke="#000" stroke-width="0.8" fill="none"/><circle cx="952.7" cy="209.4" r="17" fill="none" stroke="#000" stroke-width="0.9"/><path d="M977.8,231.9L977.80,214.90A17,17 0 1 1 973.57,215.43Z" fill="#0eace6"/><path d="M977.8,231.9L973.57,215.43A17,17 0 0 1 975.67,215.03Z" fill="#fff58a"/><path d="M977.8,231.9L975.67,215.03A17,17 0 0 1 976.73,214.93Z" fill="#e24a5a"/><path d="M977.8,231.9L976.73,214.93A17,17 0 0 1 977.80,214.90Z" fill="#30b04e"/><path d="M977.8,231.9L977.80,214.90M977.8,231.9L973.57,215.43M977.8,231.9L975.67,215.03M977.8,231.9L976.73,214.93" stroke="#000" stroke-width="0.8" fill="none"/><circle cx="977.8" cy="231.9" r="17" fill="none" stroke="#000" stroke-width="0.9"/><path d="M992.6,258.0L992.60,241.00A17,17 0 1 1 976.43,252.75Z" fill="#0eace6"/><path d="M992.6,258.0L976.43,252.75A17,17 0 0 1 987.35,241.83Z" fill="#fff58a"/><path d="M992.6,258.0L987.35,241.83A17,17 0 0 1 992.60,241.00Z" fill="#30b04e"/><path d="M992.6,258.0L992.60,241.00M992.6,258.0L976.43,252.75M992.6,258.0L987.35,241.83M992.6,258.0L987.35,241.83" stroke="#000" stroke-width="0.8" fill="none"/><circle cx="992.6" cy="258.0" r="17" fill="none" stroke="#000" stroke-width="0.9"/><path d="M1016.5,186.8L1016.50,169.80A17,17 0 0 1 1019.69,170.10Z" fill="#0eace6"/><path d="M1016.5,186.8L1019.69,170.10A17,17 0 1 1 1011.25,170.63Z" fill="#fff58a"/><path d="M1016.5,186.8L1011.25,170.63A17,17 0 0 1 1016.50,169.80Z" fill="#30b04e"/><path d="M1016.5,186.8L1016.50,169.80M1016.5,186.8L1019.69,170.10M1016.5,186.8L1011.25,170.63M1016.5,186.8L1011.25,170.63" stroke="#000" stroke-width="0.8" fill="none"/><circle cx="1016.5" cy="186.8" r="17" fill="none" stroke="#000" stroke-width="0.9"/><path d="M1002.6,202.4L1002.60,185.40A17,17 0 0 1 1003.67,185.43Z" fill="#0eace6"/><path d="M1002.6,202.4L1003.67,185.43A17,17 0 1 1 999.41,185.70Z" fill="#fff58a"/><path d="M1002.6,202.4L999.41,185.70A17,17 0 0 1 1002.60,185.40Z" fill="#30b04e"/><path d="M1002.6,202.4L1002.60,185.40M1002.6,202.4L1003.67,185.43M1002.6,202.4L999.41,185.70M1002.6,202.4L999.41,185.70" stroke="#000" stroke-width="0.8" fill="none"/><circle cx="1002.6" cy="202.4" r="17" fill="none" stroke="#000" stroke-width="0.9"/><path d="M1045.5,166.9L1045.50,149.90A17,17 0 0 1 1049.73,150.43Z" fill="#0eace6"/><path d="M1045.5,166.9L1049.73,150.43A17,17 0 1 1 1034.66,153.80Z" fill="#fff58a"/><path d="M1045.5,166.9L1034.66,153.80A17,17 0 0 1 1035.51,153.15Z" fill="#e24a5a"/><path d="M1045.5,166.9L1035.51,153.15A17,17 0 0 1 1045.50,149.90Z" fill="#30b04e"/><path d="M1045.5,166.9L1045.50,149.90M1045.5,166.9L1049.73,150.43M1045.5,166.9L1034.66,153.80M1045.5,166.9L1035.51,153.15" stroke="#000" stroke-width="0.8" fill="none"/><circle cx="1045.5" cy="166.9" r="17" fill="none" stroke="#000" stroke-width="0.9"/><path d="M1083.3,205.0L1083.30,188.00A17,17 0 0 1 1086.49,188.30Z" fill="#0eace6"/><path d="M1083.3,205.0L1086.49,188.30A17,17 0 1 1 1077.04,189.19Z" fill="#fff58a"/><path d="M1083.3,205.0L1077.04,189.19A17,17 0 0 1 1083.30,188.00Z" fill="#30b04e"/><path d="M1083.3,205.0L1083.30,188.00M1083.3,205.0L1086.49,188.30M1083.3,205.0L1077.04,189.19M1083.3,205.0L1077.04,189.19" stroke="#000" stroke-width="0.8" fill="none"/><circle cx="1083.3" cy="205.0" r="17" fill="none" stroke="#000" stroke-width="0.9"/><path d="M1166.6,181.6L1166.60,164.60A17,17 0 1 1 1152.85,171.61Z" fill="#fff58a"/><path d="M1166.6,181.6L1152.85,171.61A17,17 0 0 1 1166.60,164.60Z" fill="#30b04e"/><path d="M1166.6,181.6L1166.60,164.60M1166.6,181.6L1166.60,164.60M1166.6,181.6L1152.85,171.61M1166.6,181.6L1152.85,171.61" stroke="#000" stroke-width="0.8" fill="none"/><circle cx="1166.6" cy="181.6" r="17" fill="none" stroke="#000" stroke-width="0.9"/><path d="M1047.6,60.4L1047.60,43.40A17,17 0 0 1 1063.41,66.66Z" fill="#0eace6"/><path d="M1047.6,60.4L1063.41,66.66A17,17 0 0 1 1032.70,68.59Z" fill="#fff58a"/><path d="M1047.6,60.4L1032.70,68.59A17,17 0 0 1 1031.13,64.63Z" fill="#e24a5a"/><path d="M1047.6,60.4L1031.13,64.63A17,17 0 0 1 1047.60,43.40Z" fill="#30b04e"/><path d="M1047.6,60.4L1047.60,43.40M1047.6,60.4L1063.41,66.66M1047.6,60.4L1032.70,68.59M1047.6,60.4L1031.13,64.63" stroke="#000" stroke-width="0.8" fill="none"/><circle cx="1047.6" cy="60.4" r="17" fill="none" stroke="#000" stroke-width="0.9"/><path d="M1075.9,39.6L1075.90,22.60A17,17 0 1 1 1066.79,25.25Z" fill="#0eace6"/><path d="M1075.9,39.6L1066.79,25.25A17,17 0 0 1 1071.67,23.13Z" fill="#fff58a"/><path d="M1075.9,39.6L1071.67,23.13A17,17 0 0 1 1075.90,22.60Z" fill="#30b04e"/><path d="M1075.9,39.6L1075.90,22.60M1075.9,39.6L1066.79,25.25M1075.9,39.6L1071.67,23.13M1075.9,39.6L1071.67,23.13" stroke="#000" stroke-width="0.8" fill="none"/><circle cx="1075.9" cy="39.6" r="17" fill="none" stroke="#000" stroke-width="0.9"/><path d="M1149.7,30.4L1149.70,13.40A17,17 0 1 1 1134.80,22.21Z" fill="#0eace6"/><path d="M1149.7,30.4L1134.80,22.21A17,17 0 0 1 1139.71,16.65Z" fill="#fff58a"/><path d="M1149.7,30.4L1139.71,16.65A17,17 0 0 1 1145.47,13.93Z" fill="#e24a5a"/><path d="M1149.7,30.4L1145.47,13.93A17,17 0 0 1 1149.70,13.40Z" fill="#30b04e"/><path d="M1149.7,30.4L1149.70,13.40M1149.7,30.4L1134.80,22.21M1149.7,30.4L1139.71,16.65M1149.7,30.4L1145.47,13.93" stroke="#000" stroke-width="0.8" fill="none"/><circle cx="1149.7" cy="30.4" r="17" fill="none" stroke="#000" stroke-width="0.9"/><circle cx="1207.9" cy="8.8" r="17" fill="#0eace6"/><path d="M1207.9,8.8L1207.90,-8.20M1207.9,8.8L1207.90,-8.20M1207.9,8.8L1207.90,-8.20M1207.9,8.8L1207.90,-8.20" stroke="#000" stroke-width="0.8" fill="none"/><circle cx="1207.9" cy="8.8" r="17" fill="none" stroke="#000" stroke-width="0.9"/><circle cx="1203.5" cy="26.4" r="17" fill="#0eace6"/><path d="M1203.5,26.4L1203.50,9.40M1203.5,26.4L1203.50,9.40M1203.5,26.4L1203.50,9.40M1203.5,26.4L1203.50,9.40" stroke="#000" stroke-width="0.8" fill="none"/><circle cx="1203.5" cy="26.4" r="17" fill="none" stroke="#000" stroke-width="0.9"/><circle cx="1229.9" cy="21.3" r="17" fill="#0eace6"/><path d="M1229.9,21.3L1229.90,4.30M1229.9,21.3L1229.90,4.30M1229.9,21.3L1229.90,4.30M1229.9,21.3L1229.90,4.30" stroke="#000" stroke-width="0.8" fill="none"/><circle cx="1229.9" cy="21.3" r="17" fill="none" stroke="#000" stroke-width="0.9"/><circle cx="1272.2" cy="21.7" r="17" fill="#0eace6"/><path d="M1272.2,21.7L1272.20,4.70M1272.2,21.7L1272.20,4.70M1272.2,21.7L1272.20,4.70M1272.2,21.7L1272.20,4.70" stroke="#000" stroke-width="0.8" fill="none"/><circle cx="1272.2" cy="21.7" r="17" fill="none" stroke="#000" stroke-width="0.9"/><path d="M1008.0,92.0L1008.00,75.00A17,17 0 1 1 1002.75,75.83Z" fill="#fff58a"/><path d="M1008.0,92.0L1002.75,75.83A17,17 0 0 1 1008.00,75.00Z" fill="#30b04e"/><path d="M1008.0,92.0L1008.00,75.00M1008.0,92.0L1008.00,75.00M1008.0,92.0L1002.75,75.83M1008.0,92.0L1002.75,75.83" stroke="#000" stroke-width="0.8" fill="none"/><circle cx="1008.0" cy="92.0" r="17" fill="none" stroke="#000" stroke-width="0.9"/><path d="M1027.3,92.0L1027.30,75.00A17,17 0 0 1 1030.49,75.30Z" fill="#0eace6"/><path d="M1027.3,92.0L1030.49,75.30A17,17 0 1 1 1022.05,75.83Z" fill="#fff58a"/><path d="M1027.3,92.0L1022.05,75.83A17,17 0 0 1 1027.30,75.00Z" fill="#30b04e"/><path d="M1027.3,92.0L1027.30,75.00M1027.3,92.0L1030.49,75.30M1027.3,92.0L1022.05,75.83M1027.3,92.0L1022.05,75.83" stroke="#000" stroke-width="0.8" fill="none"/><circle cx="1027.3" cy="92.0" r="17" fill="none" stroke="#000" stroke-width="0.9"/><path d="M1108.0,86.8L1108.00,69.80A17,17 0 0 1 1116.19,71.90Z" fill="#0eace6"/><path d="M1108.0,86.8L1116.19,71.90A17,17 0 1 1 1098.01,73.05Z" fill="#fff58a"/><path d="M1108.0,86.8L1098.01,73.05A17,17 0 0 1 1108.00,69.80Z" fill="#30b04e"/><path d="M1108.0,86.8L1108.00,69.80M1108.0,86.8L1116.19,71.90M1108.0,86.8L1098.01,73.05M1108.0,86.8L1098.01,73.05" stroke="#000" stroke-width="0.8" fill="none"/><circle cx="1108.0" cy="86.8" r="17" fill="none" stroke="#000" stroke-width="0.9"/><path d="M1187.8,121.5L1187.80,104.50A17,17 0 1 1 1184.61,104.80Z" fill="#fff58a"/><path d="M1187.8,121.5L1184.61,104.80A17,17 0 0 1 1187.80,104.50Z" fill="#30b04e"/><path d="M1187.8,121.5L1187.80,104.50M1187.8,121.5L1187.80,104.50M1187.8,121.5L1184.61,104.80M1187.8,121.5L1184.61,104.80" stroke="#000" stroke-width="0.8" fill="none"/><circle cx="1187.8" cy="121.5" r="17" fill="none" stroke="#000" stroke-width="0.9"/><path d="M1193.0,127.5L1193.00,110.50A17,17 0 0 1 1198.25,111.33Z" fill="#0eace6"/><path d="M1193.0,127.5L1198.25,111.33A17,17 0 1 1 1183.01,113.75Z" fill="#fff58a"/><path d="M1193.0,127.5L1183.01,113.75A17,17 0 0 1 1184.81,112.60Z" fill="#e24a5a"/><path d="M1193.0,127.5L1184.81,112.60A17,17 0 0 1 1193.00,110.50Z" fill="#30b04e"/><path d="M1193.0,127.5L1193.00,110.50M1193.0,127.5L1198.25,111.33M1193.0,127.5L1183.01,113.75M1193.0,127.5L1184.81,112.60" stroke="#000" stroke-width="0.8" fill="none"/><circle cx="1193.0" cy="127.5" r="17" fill="none" stroke="#000" stroke-width="0.9"/><path d="M1200.0,141.4L1200.00,124.40A17,17 0 1 1 1196.81,124.70Z" fill="#fff58a"/><path d="M1200.0,141.4L1196.81,124.70A17,17 0 0 1 1200.00,124.40Z" fill="#30b04e"/><path d="M1200.0,141.4L1200.00,124.40M1200.0,141.4L1200.00,124.40M1200.0,141.4L1196.81,124.70M1200.0,141.4L1196.81,124.70" stroke="#000" stroke-width="0.8" fill="none"/><circle cx="1200.0" cy="141.4" r="17" fill="none" stroke="#000" stroke-width="0.9"/></g><text transform="translate(793,266.8) scale(0.93,1)" font-family="Liberation Serif" font-weight="bold" font-size="32" fill="#ffff00">DCM</text><rect x="1220.1" y="222.6" width="170" height="76.7" fill="#fff" stroke="#000" stroke-width="1.2"/><rect x="1222.5" y="225.2" width="33.7" height="16.200000000000017" fill="#0eace6" stroke="#333" stroke-width="0.9"/><text x="1261" y="238.7" font-family="Liberation Sans" font-size="15">Amino acids</text><rect x="1222.5" y="243.7" width="33.7" height="15.900000000000034" fill="#fff58a" stroke="#333" stroke-width="0.9"/><text x="1261" y="257.1" font-family="Liberation Sans" font-size="15">Ammonium</text><rect x="1222.5" y="262.3" width="33.7" height="16.099999999999966" fill="#e24a5a" stroke="#333" stroke-width="0.9"/><text x="1261" y="275.8" font-family="Liberation Sans" font-size="15">Nitrate</text><rect x="1222.5" y="281.1" width="33.7" height="16.19999999999999" fill="#30b04e" stroke="#333" stroke-width="0.9"/><text x="1261" y="294.6" font-family="Liberation Sans" font-size="15">Small organic mol</text><g stroke="#000" stroke-width="1.5" fill="none"><path d="M772.4,0.5V304.3H1379.5"/><path d="M772.4,1.0H1379.5" stroke-width="1"/><path d="M772.4,304.6h-3M772.4,287.7h-6M772.4,270.8h-3M772.4,253.9h-6M772.4,237.0h-3M772.4,220.1h-6M772.4,203.2h-3M772.4,186.3h-6M772.4,169.4h-3M772.4,152.5h-6M772.4,135.6h-3M772.4,118.7h-6M772.4,101.8h-3M772.4,84.9h-6M772.4,68.0h-3M772.4,51.1h-6M772.4,34.2h-3M772.4,17.3h-6M772.4,0.4h-3M780.8,304.3v3M823.0,304.3v6M865.2,304.3v3M907.4,304.3v6M949.6,304.3v3M991.8,304.3v6M1034.0,304.3v3M1076.2,304.3v6M1118.4,304.3v3M1160.6,304.3v6M1202.8,304.3v3M1245.0,304.3v6M1287.2,304.3v3M1329.4,304.3v6M1371.6,304.3v3"/></g><g font-family="Liberation Sans" font-size="14.8" fill="#000"><text x="760.9" y="292.1" text-anchor="end">-80</text><text x="760.9" y="258.3" text-anchor="end">-60</text><text x="760.9" y="224.5" text-anchor="end">-40</text><text x="760.9" y="190.7" text-anchor="end">-20</text><text x="760.9" y="156.9" text-anchor="end">0</text><text x="760.9" y="123.1" text-anchor="end">20</text><text x="760.9" y="89.3" text-anchor="end">40</text><text x="760.9" y="55.5" text-anchor="end">60</text><text x="760.9" y="21.7" text-anchor="end">80</text><text x="823.0" y="326.9" text-anchor="middle">-150</text><text x="907.4" y="326.9" text-anchor="middle">-100</text><text x="991.8" y="326.9" text-anchor="middle">-50</text><text x="1076.2" y="326.9" text-anchor="middle">0</text><text x="1160.6" y="326.9" text-anchor="middle">50</text><text x="1245.0" y="326.9" text-anchor="middle">100</text><text x="1329.4" y="326.9" text-anchor="middle">150</text><text x="1075" y="355" text-anchor="middle" font-size="18">Longitude</text><text transform="translate(732.5,152) rotate(-90)" text-anchor="middle" font-size="18">Latitude</text></g><g shape-rendering="crispEdges"><rect x="314.10" y="376.30" width="33.33" height="28.89" fill="#d0001e"/><rect x="314.10" y="404.79" width="33.33" height="28.89" fill="#fbe9eb"/><rect x="347.03" y="404.79" width="33.33" height="28.89" fill="#d0001e"/><rect x="314.10" y="433.28" width="33.33" height="28.89" fill="#e7e8f3"/><rect x="347.03" y="433.28" width="33.33" height="28.89" fill="#959acb"/><rect x="379.96" y="433.28" width="33.33" height="28.89" fill="#d0001e"/><rect x="314.10" y="461.77" width="33.33" height="28.89" fill="#f5cbd1"/><rect x="347.03" y="461.77" width="33.33" height="28.89" fill="#e36778"/><rect x="379.96" y="461.77" width="33.33" height="28.89" fill="#dddfef"/><rect x="412.89" y="461.77" width="33.33" height="28.89" fill="#d0001e"/><rect x="314.10" y="490.26" width="33.33" height="28.89" fill="#d6d7eb"/><rect x="347.03" y="490.26" width="33.33" height="28.89" fill="#8e93c8"/><rect x="379.96" y="490.26" width="33.33" height="28.89" fill="#ea8d9a"/><rect x="412.89" y="490.26" width="33.33" height="28.89" fill="#babddd"/><rect x="445.82" y="490.26" width="33.33" height="28.89" fill="#d0001e"/><rect x="314.10" y="518.75" width="33.33" height="28.89" fill="#f3c0c7"/><rect x="347.03" y="518.75" width="33.33" height="28.89" fill="#fbecee"/><rect x="379.96" y="518.75" width="33.33" height="28.89" fill="#fdf5f7"/><rect x="412.89" y="518.75" width="33.33" height="28.89" fill="#fceff1"/><rect x="445.82" y="518.75" width="33.33" height="28.89" fill="#eeeff7"/><rect x="478.75" y="518.75" width="33.33" height="28.89" fill="#d0001e"/><rect x="314.10" y="547.24" width="33.33" height="28.89" fill="#e5e6f2"/><rect x="347.03" y="547.24" width="33.33" height="28.89" fill="#afb2d8"/><rect x="379.96" y="547.24" width="33.33" height="28.89" fill="#d3112d"/><rect x="412.89" y="547.24" width="33.33" height="28.89" fill="#e5e6f2"/><rect x="445.82" y="547.24" width="33.33" height="28.89" fill="#ea8d9a"/><rect x="478.75" y="547.24" width="33.33" height="28.89" fill="#fdf2f4"/><rect x="511.68" y="547.24" width="33.33" height="28.89" fill="#d0001e"/><rect x="314.10" y="575.73" width="33.33" height="28.89" fill="#f9dce0"/><rect x="347.03" y="575.73" width="33.33" height="28.89" fill="#a5aad3"/><rect x="379.96" y="575.73" width="33.33" height="28.89" fill="#f0adb6"/><rect x="412.89" y="575.73" width="33.33" height="28.89" fill="#e8808f"/><rect x="445.82" y="575.73" width="33.33" height="28.89" fill="#f3bdc5"/><rect x="478.75" y="575.73" width="33.33" height="28.89" fill="#fbe9eb"/><rect x="511.68" y="575.73" width="33.33" height="28.89" fill="#f2bac2"/><rect x="544.61" y="575.73" width="33.33" height="28.89" fill="#d0001e"/><rect x="314.10" y="604.22" width="33.33" height="28.89" fill="#ffffff"/><rect x="347.03" y="604.22" width="33.33" height="28.89" fill="#b8bbdc"/><rect x="379.96" y="604.22" width="33.33" height="28.89" fill="#fcfcfe"/><rect x="412.89" y="604.22" width="33.33" height="28.89" fill="#cbcee6"/><rect x="445.82" y="604.22" width="33.33" height="28.89" fill="#f9dce0"/><rect x="478.75" y="604.22" width="33.33" height="28.89" fill="#fbe9eb"/><rect x="511.68" y="604.22" width="33.33" height="28.89" fill="#fafafc"/><rect x="544.61" y="604.22" width="33.33" height="28.89" fill="#fbe9eb"/><rect x="577.54" y="604.22" width="33.33" height="28.89" fill="#d0001e"/><rect x="314.10" y="632.71" width="33.33" height="28.89" fill="#9ca1cf"/><rect x="347.03" y="632.71" width="33.33" height="28.89" fill="#f0adb6"/><rect x="379.96" y="632.71" width="33.33" height="28.89" fill="#dfe1f0"/><rect x="412.89" y="632.71" width="33.33" height="28.89" fill="#f8f8fc"/><rect x="445.82" y="632.71" width="33.33" height="28.89" fill="#f5c8cf"/><rect x="478.75" y="632.71" width="33.33" height="28.89" fill="#fbfbfd"/><rect x="511.68" y="632.71" width="33.33" height="28.89" fill="#fbfbfd"/><rect x="544.61" y="632.71" width="33.33" height="28.89" fill="#eeeff7"/><rect x="577.54" y="632.71" width="33.33" height="28.89" fill="#e7e8f3"/><rect x="610.47" y="632.71" width="33.33" height="28.89" fill="#d0001e"/><rect x="314.10" y="661.20" width="33.33" height="28.89" fill="#fbfbfd"/><rect x="347.03" y="661.20" width="33.33" height="28.89" fill="#b8bbdc"/><rect x="379.96" y="661.20" width="33.33" height="28.89" fill="#f7f7fb"/><rect x="412.89" y="661.20" width="33.33" height="28.89" fill="#ebecf5"/><rect x="445.82" y="661.20" width="33.33" height="28.89" fill="#fae2e6"/><rect x="478.75" y="661.20" width="33.33" height="28.89" fill="#fef9fa"/><rect x="511.68" y="661.20" width="33.33" height="28.89" fill="#fafafc"/><rect x="544.61" y="661.20" width="33.33" height="28.89" fill="#f2b7c0"/><rect x="577.54" y="661.20" width="33.33" height="28.89" fill="#d6223c"/><rect x="610.47" y="661.20" width="33.33" height="28.89" fill="#fafafc"/><rect x="643.40" y="661.20" width="33.33" height="28.89" fill="#d0001e"/><rect x="314.10" y="689.69" width="33.33" height="28.89" fill="#fffdfd"/><rect x="347.03" y="689.69" width="33.33" height="28.89" fill="#babddd"/><rect x="379.96" y="689.69" width="33.33" height="28.89" fill="#f2f2f8"/><rect x="412.89" y="689.69" width="33.33" height="28.89" fill="#dcddee"/><rect x="445.82" y="689.69" width="33.33" height="28.89" fill="#fafafc"/><rect x="478.75" y="689.69" width="33.33" height="28.89" fill="#eeeff7"/><rect x="511.68" y="689.69" width="33.33" height="28.89" fill="#f7f7fb"/><rect x="544.61" y="689.69" width="33.33" height="28.89" fill="#f9dfe3"/><rect x="577.54" y="689.69" width="33.33" height="28.89" fill="#dd495e"/><rect x="610.47" y="689.69" width="33.33" height="28.89" fill="#f8f8fc"/><rect x="643.40" y="689.69" width="33.33" height="28.89" fill="#de4b60"/><rect x="676.33" y="689.69" width="33.33" height="28.89" fill="#d0001e"/><rect x="314.10" y="718.18" width="33.33" height="28.89" fill="#f5f5fa"/><rect x="347.03" y="718.18" width="33.33" height="28.89" fill="#d8d9ec"/><rect x="379.96" y="718.18" width="33.33" height="28.89" fill="#e57181"/><rect x="412.89" y="718.18" width="33.33" height="28.89" fill="#e1e3f1"/><rect x="445.82" y="718.18" width="33.33" height="28.89" fill="#ea8f9d"/><rect x="478.75" y="718.18" width="33.33" height="28.89" fill="#ea8f9d"/><rect x="511.68" y="718.18" width="33.33" height="28.89" fill="#e15c70"/><rect x="544.61" y="718.18" width="33.33" height="28.89" fill="#fceff1"/><rect x="577.54" y="718.18" width="33.33" height="28.89" fill="#f4c3ca"/><rect x="610.47" y="718.18" width="33.33" height="28.89" fill="#f9dce0"/><rect x="643.40" y="718.18" width="33.33" height="28.89" fill="#f5c8cf"/><rect x="676.33" y="718.18" width="33.33" height="28.89" fill="#f5f5fa"/><rect x="709.26" y="718.18" width="33.33" height="28.89" fill="#d0001e"/><rect x="314.10" y="746.67" width="33.33" height="28.89" fill="#f0f1f8"/><rect x="347.03" y="746.67" width="33.33" height="28.89" fill="#fdf5f7"/><rect x="379.96" y="746.67" width="33.33" height="28.89" fill="#f0f1f8"/><rect x="412.89" y="746.67" width="33.33" height="28.89" fill="#fef9fa"/><rect x="445.82" y="746.67" width="33.33" height="28.89" fill="#f5cbd1"/><rect x="478.75" y="746.67" width="33.33" height="28.89" fill="#f0adb6"/><rect x="511.68" y="746.67" width="33.33" height="28.89" fill="#f7f7fb"/><rect x="544.61" y="746.67" width="33.33" height="28.89" fill="#fffdfd"/><rect x="577.54" y="746.67" width="33.33" height="28.89" fill="#eb95a1"/><rect x="610.47" y="746.67" width="33.33" height="28.89" fill="#e5e6f2"/><rect x="643.40" y="746.67" width="33.33" height="28.89" fill="#ea8d9a"/><rect x="676.33" y="746.67" width="33.33" height="28.89" fill="#f3f4f9"/><rect x="709.26" y="746.67" width="33.33" height="28.89" fill="#f2b7c0"/><rect x="742.19" y="746.67" width="33.33" height="28.89" fill="#d0001e"/><rect x="314.10" y="775.16" width="33.33" height="28.89" fill="#f3f4f9"/><rect x="347.03" y="775.16" width="33.33" height="28.89" fill="#dddfef"/><rect x="379.96" y="775.16" width="33.33" height="28.89" fill="#e9eaf4"/><rect x="412.89" y="775.16" width="33.33" height="28.89" fill="#fef9fa"/><rect x="445.82" y="775.16" width="33.33" height="28.89" fill="#dfe1f0"/><rect x="478.75" y="775.16" width="33.33" height="28.89" fill="#fef9fa"/><rect x="511.68" y="775.16" width="33.33" height="28.89" fill="#f2f2f8"/><rect x="544.61" y="775.16" width="33.33" height="28.89" fill="#f5c8cf"/><rect x="577.54" y="775.16" width="33.33" height="28.89" fill="#f5c8cf"/><rect x="610.47" y="775.16" width="33.33" height="28.89" fill="#dddfef"/><rect x="643.40" y="775.16" width="33.33" height="28.89" fill="#f1b5bd"/><rect x="676.33" y="775.16" width="33.33" height="28.89" fill="#ec97a4"/><rect x="709.26" y="775.16" width="33.33" height="28.89" fill="#e5e6f2"/><rect x="742.19" y="775.16" width="33.33" height="28.89" fill="#f2f2f8"/><rect x="775.12" y="775.16" width="33.33" height="28.89" fill="#d0001e"/><rect x="314.10" y="803.65" width="33.33" height="28.89" fill="#f3bdc5"/><rect x="347.03" y="803.65" width="33.33" height="28.89" fill="#fafafc"/><rect x="379.96" y="803.65" width="33.33" height="28.89" fill="#f3f4f9"/><rect x="412.89" y="803.65" width="33.33" height="28.89" fill="#fbfbfd"/><rect x="445.82" y="803.65" width="33.33" height="28.89" fill="#f9dfe3"/><rect x="478.75" y="803.65" width="33.33" height="28.89" fill="#f7d4d9"/><rect x="511.68" y="803.65" width="33.33" height="28.89" fill="#f5f5fa"/><rect x="544.61" y="803.65" width="33.33" height="28.89" fill="#fffdfd"/><rect x="577.54" y="803.65" width="33.33" height="28.89" fill="#e98a98"/><rect x="610.47" y="803.65" width="33.33" height="28.89" fill="#fefefe"/><rect x="643.40" y="803.65" width="33.33" height="28.89" fill="#eea5af"/><rect x="676.33" y="803.65" width="33.33" height="28.89" fill="#fffdfd"/><rect x="709.26" y="803.65" width="33.33" height="28.89" fill="#f0adb6"/><rect x="742.19" y="803.65" width="33.33" height="28.89" fill="#f5cbd1"/><rect x="775.12" y="803.65" width="33.33" height="28.89" fill="#fefefe"/><rect x="808.05" y="803.65" width="33.33" height="28.89" fill="#d0001e"/><rect x="314.10" y="832.14" width="33.33" height="28.89" fill="#c9cce5"/><rect x="347.03" y="832.14" width="33.33" height="28.89" fill="#f8d9de"/><rect x="379.96" y="832.14" width="33.33" height="28.89" fill="#cbcee6"/><rect x="412.89" y="832.14" width="33.33" height="28.89" fill="#f8d9de"/><rect x="445.82" y="832.14" width="33.33" height="28.89" fill="#d3d5ea"/><rect x="478.75" y="832.14" width="33.33" height="28.89" fill="#fffdfd"/><rect x="511.68" y="832.14" width="33.33" height="28.89" fill="#dddfef"/><rect x="544.61" y="832.14" width="33.33" height="28.89" fill="#fefefe"/><rect x="577.54" y="832.14" width="33.33" height="28.89" fill="#e3e5f1"/><rect x="610.47" y="832.14" width="33.33" height="28.89" fill="#fae5e8"/><rect x="643.40" y="832.14" width="33.33" height="28.89" fill="#f3f4f9"/><rect x="676.33" y="832.14" width="33.33" height="28.89" fill="#f2f2f8"/><rect x="709.26" y="832.14" width="33.33" height="28.89" fill="#d1d4e9"/><rect x="742.19" y="832.14" width="33.33" height="28.89" fill="#ffffff"/><rect x="775.12" y="832.14" width="33.33" height="28.89" fill="#efaab4"/><rect x="808.05" y="832.14" width="33.33" height="28.89" fill="#ecedf6"/><rect x="840.98" y="832.14" width="33.33" height="28.89" fill="#d0001e"/><rect x="314.10" y="860.63" width="33.33" height="28.89" fill="#fefefe"/><rect x="347.03" y="860.63" width="33.33" height="28.89" fill="#cdd0e7"/><rect x="379.96" y="860.63" width="33.33" height="28.89" fill="#ecedf6"/><rect x="412.89" y="860.63" width="33.33" height="28.89" fill="#f5f5fa"/><rect x="445.82" y="860.63" width="33.33" height="28.89" fill="#fbe9eb"/><rect x="478.75" y="860.63" width="33.33" height="28.89" fill="#fceff1"/><rect x="511.68" y="860.63" width="33.33" height="28.89" fill="#f2f2f8"/><rect x="544.61" y="860.63" width="33.33" height="28.89" fill="#f4c3ca"/><rect x="577.54" y="860.63" width="33.33" height="28.89" fill="#d51a35"/><rect x="610.47" y="860.63" width="33.33" height="28.89" fill="#f9dce0"/><rect x="643.40" y="860.63" width="33.33" height="28.89" fill="#d20c29"/><rect x="676.33" y="860.63" width="33.33" height="28.89" fill="#de4e62"/><rect x="709.26" y="860.63" width="33.33" height="28.89" fill="#f3bdc5"/><rect x="742.19" y="860.63" width="33.33" height="28.89" fill="#e77d8d"/><rect x="775.12" y="860.63" width="33.33" height="28.89" fill="#f2bac2"/><rect x="808.05" y="860.63" width="33.33" height="28.89" fill="#eb929f"/><rect x="840.98" y="860.63" width="33.33" height="28.89" fill="#fafafc"/><rect x="873.91" y="860.63" width="33.33" height="28.89" fill="#d0001e"/><rect x="314.10" y="889.12" width="33.33" height="28.89" fill="#f0f1f8"/><rect x="347.03" y="889.12" width="33.33" height="28.89" fill="#f6ced4"/><rect x="379.96" y="889.12" width="33.33" height="28.89" fill="#d6d7eb"/><rect x="412.89" y="889.12" width="33.33" height="28.89" fill="#f0afb9"/><rect x="445.82" y="889.12" width="33.33" height="28.89" fill="#e9eaf4"/><rect x="478.75" y="889.12" width="33.33" height="28.89" fill="#e1e3f1"/><rect x="511.68" y="889.12" width="33.33" height="28.89" fill="#e3e5f1"/><rect x="544.61" y="889.12" width="33.33" height="28.89" fill="#fbe9eb"/><rect x="577.54" y="889.12" width="33.33" height="28.89" fill="#bec1df"/><rect x="610.47" y="889.12" width="33.33" height="28.89" fill="#f6ced4"/><rect x="643.40" y="889.12" width="33.33" height="28.89" fill="#d8d9ec"/><rect x="676.33" y="889.12" width="33.33" height="28.89" fill="#e5e6f2"/><rect x="709.26" y="889.12" width="33.33" height="28.89" fill="#c7cae4"/><rect x="742.19" y="889.12" width="33.33" height="28.89" fill="#dadbed"/><rect x="775.12" y="889.12" width="33.33" height="28.89" fill="#fbfbfd"/><rect x="808.05" y="889.12" width="33.33" height="28.89" fill="#e3e5f1"/><rect x="840.98" y="889.12" width="33.33" height="28.89" fill="#e98896"/><rect x="873.91" y="889.12" width="33.33" height="28.89" fill="#e3e5f1"/><rect x="906.84" y="889.12" width="33.33" height="28.89" fill="#d0001e"/><rect x="314.10" y="917.61" width="33.33" height="28.89" fill="#f2f2f8"/><rect x="347.03" y="917.61" width="33.33" height="28.89" fill="#d6d7eb"/><rect x="379.96" y="917.61" width="33.33" height="28.89" fill="#f5c8cf"/><rect x="412.89" y="917.61" width="33.33" height="28.89" fill="#ffffff"/><rect x="445.82" y="917.61" width="33.33" height="28.89" fill="#fffdfd"/><rect x="478.75" y="917.61" width="33.33" height="28.89" fill="#dcddee"/><rect x="511.68" y="917.61" width="33.33" height="28.89" fill="#f7d4d9"/><rect x="544.61" y="917.61" width="33.33" height="28.89" fill="#f5c8cf"/><rect x="577.54" y="917.61" width="33.33" height="28.89" fill="#a8acd4"/><rect x="610.47" y="917.61" width="33.33" height="28.89" fill="#fdf2f4"/><rect x="643.40" y="917.61" width="33.33" height="28.89" fill="#bec1df"/><rect x="676.33" y="917.61" width="33.33" height="28.89" fill="#f3f4f9"/><rect x="709.26" y="917.61" width="33.33" height="28.89" fill="#e3e5f1"/><rect x="742.19" y="917.61" width="33.33" height="28.89" fill="#acb0d7"/><rect x="775.12" y="917.61" width="33.33" height="28.89" fill="#fef9fa"/><rect x="808.05" y="917.61" width="33.33" height="28.89" fill="#b3b7da"/><rect x="840.98" y="917.61" width="33.33" height="28.89" fill="#f0f1f8"/><rect x="873.91" y="917.61" width="33.33" height="28.89" fill="#b1b5d9"/><rect x="906.84" y="917.61" width="33.33" height="28.89" fill="#f5cbd1"/><rect x="939.77" y="917.61" width="33.33" height="28.89" fill="#d0001e"/><rect x="314.10" y="946.10" width="33.33" height="28.89" fill="#f9dfe3"/><rect x="347.03" y="946.10" width="33.33" height="28.89" fill="#f9dfe3"/><rect x="379.96" y="946.10" width="33.33" height="28.89" fill="#dfe1f0"/><rect x="412.89" y="946.10" width="33.33" height="28.89" fill="#f9dfe3"/><rect x="445.82" y="946.10" width="33.33" height="28.89" fill="#e9eaf4"/><rect x="478.75" y="946.10" width="33.33" height="28.89" fill="#f6ced4"/><rect x="511.68" y="946.10" width="33.33" height="28.89" fill="#e3e5f1"/><rect x="544.61" y="946.10" width="33.33" height="28.89" fill="#ffffff"/><rect x="577.54" y="946.10" width="33.33" height="28.89" fill="#f7f7fb"/><rect x="610.47" y="946.10" width="33.33" height="28.89" fill="#cbcee6"/><rect x="643.40" y="946.10" width="33.33" height="28.89" fill="#f8f8fc"/><rect x="676.33" y="946.10" width="33.33" height="28.89" fill="#f9dce0"/><rect x="709.26" y="946.10" width="33.33" height="28.89" fill="#e7e8f3"/><rect x="742.19" y="946.10" width="33.33" height="28.89" fill="#f0f1f8"/><rect x="775.12" y="946.10" width="33.33" height="28.89" fill="#fffdfd"/><rect x="808.05" y="946.10" width="33.33" height="28.89" fill="#dddfef"/><rect x="840.98" y="946.10" width="33.33" height="28.89" fill="#fefefe"/><rect x="873.91" y="946.10" width="33.33" height="28.89" fill="#f8f8fc"/><rect x="906.84" y="946.10" width="33.33" height="28.89" fill="#fae2e6"/><rect x="939.77" y="946.10" width="33.33" height="28.89" fill="#fafafc"/><rect x="972.70" y="946.10" width="33.33" height="28.89" fill="#d0001e"/><rect x="314.10" y="974.59" width="33.33" height="28.89" fill="#d6d7eb"/><rect x="347.03" y="974.59" width="33.33" height="28.89" fill="#2b3597"/><rect x="379.96" y="974.59" width="33.33" height="28.89" fill="#e77d8d"/><rect x="412.89" y="974.59" width="33.33" height="28.89" fill="#7077b9"/><rect x="445.82" y="974.59" width="33.33" height="28.89" fill="#e77d8d"/><rect x="478.75" y="974.59" width="33.33" height="28.89" fill="#cfd2e8"/><rect x="511.68" y="974.59" width="33.33" height="28.89" fill="#ec9aa6"/><rect x="544.61" y="974.59" width="33.33" height="28.89" fill="#f4c3ca"/><rect x="577.54" y="974.59" width="33.33" height="28.89" fill="#ec9aa6"/><rect x="610.47" y="974.59" width="33.33" height="28.89" fill="#c9cce5"/><rect x="643.40" y="974.59" width="33.33" height="28.89" fill="#eea5af"/><rect x="676.33" y="974.59" width="33.33" height="28.89" fill="#efaab4"/><rect x="709.26" y="974.59" width="33.33" height="28.89" fill="#f9dce0"/><rect x="742.19" y="974.59" width="33.33" height="28.89" fill="#ffffff"/><rect x="775.12" y="974.59" width="33.33" height="28.89" fill="#f9dce0"/><rect x="808.05" y="974.59" width="33.33" height="28.89" fill="#fafafc"/><rect x="840.98" y="974.59" width="33.33" height="28.89" fill="#d6d7eb"/><rect x="873.91" y="974.59" width="33.33" height="28.89" fill="#f3bdc5"/><rect x="906.84" y="974.59" width="33.33" height="28.89" fill="#cdd0e7"/><rect x="939.77" y="974.59" width="33.33" height="28.89" fill="#f6ced4"/><rect x="972.70" y="974.59" width="33.33" height="28.89" fill="#dadbed"/><rect x="1005.63" y="974.59" width="33.33" height="28.89" fill="#d0001e"/><rect x="314.10" y="1003.08" width="33.33" height="28.89" fill="#f0adb6"/><rect x="347.03" y="1003.08" width="33.33" height="28.89" fill="#d7243e"/><rect x="379.96" y="1003.08" width="33.33" height="28.89" fill="#9a9fce"/><rect x="412.89" y="1003.08" width="33.33" height="28.89" fill="#e46e7f"/><rect x="445.82" y="1003.08" width="33.33" height="28.89" fill="#a3a7d2"/><rect x="478.75" y="1003.08" width="33.33" height="28.89" fill="#f5c8cf"/><rect x="511.68" y="1003.08" width="33.33" height="28.89" fill="#afb2d8"/><rect x="544.61" y="1003.08" width="33.33" height="28.89" fill="#c9cce5"/><rect x="577.54" y="1003.08" width="33.33" height="28.89" fill="#c9cce5"/><rect x="610.47" y="1003.08" width="33.33" height="28.89" fill="#f6d1d6"/><rect x="643.40" y="1003.08" width="33.33" height="28.89" fill="#cfd2e8"/><rect x="676.33" y="1003.08" width="33.33" height="28.89" fill="#c9cce5"/><rect x="709.26" y="1003.08" width="33.33" height="28.89" fill="#e1e3f1"/><rect x="742.19" y="1003.08" width="33.33" height="28.89" fill="#fbfbfd"/><rect x="775.12" y="1003.08" width="33.33" height="28.89" fill="#dfe1f0"/><rect x="808.05" y="1003.08" width="33.33" height="28.89" fill="#fceff1"/><rect x="840.98" y="1003.08" width="33.33" height="28.89" fill="#f9dce0"/><rect x="873.91" y="1003.08" width="33.33" height="28.89" fill="#dadbed"/><rect x="906.84" y="1003.08" width="33.33" height="28.89" fill="#fae2e6"/><rect x="939.77" y="1003.08" width="33.33" height="28.89" fill="#c5c7e3"/><rect x="972.70" y="1003.08" width="33.33" height="28.89" fill="#f8d9de"/><rect x="1005.63" y="1003.08" width="33.33" height="28.89" fill="#2d3799"/><rect x="1038.56" y="1003.08" width="33.33" height="28.89" fill="#d0001e"/><rect x="314.10" y="1031.57" width="33.33" height="28.89" fill="#dddfef"/><rect x="347.03" y="1031.57" width="33.33" height="28.89" fill="#f4c3ca"/><rect x="379.96" y="1031.57" width="33.33" height="28.89" fill="#f8f8fc"/><rect x="412.89" y="1031.57" width="33.33" height="28.89" fill="#f1b2bb"/><rect x="445.82" y="1031.57" width="33.33" height="28.89" fill="#f0f1f8"/><rect x="478.75" y="1031.57" width="33.33" height="28.89" fill="#fceff1"/><rect x="511.68" y="1031.57" width="33.33" height="28.89" fill="#fcfcfe"/><rect x="544.61" y="1031.57" width="33.33" height="28.89" fill="#fbecee"/><rect x="577.54" y="1031.57" width="33.33" height="28.89" fill="#d6d7eb"/><rect x="610.47" y="1031.57" width="33.33" height="28.89" fill="#ec9aa6"/><rect x="643.40" y="1031.57" width="33.33" height="28.89" fill="#dddfef"/><rect x="676.33" y="1031.57" width="33.33" height="28.89" fill="#e7e8f3"/><rect x="709.26" y="1031.57" width="33.33" height="28.89" fill="#fef9fa"/><rect x="742.19" y="1031.57" width="33.33" height="28.89" fill="#f7f7fb"/><rect x="775.12" y="1031.57" width="33.33" height="28.89" fill="#fffdfd"/><rect x="808.05" y="1031.57" width="33.33" height="28.89" fill="#e9eaf4"/><rect x="840.98" y="1031.57" width="33.33" height="28.89" fill="#fdf2f4"/><rect x="873.91" y="1031.57" width="33.33" height="28.89" fill="#e5e6f2"/><rect x="906.84" y="1031.57" width="33.33" height="28.89" fill="#f6d1d6"/><rect x="939.77" y="1031.57" width="33.33" height="28.89" fill="#f6ced4"/><rect x="972.70" y="1031.57" width="33.33" height="28.89" fill="#fef9fa"/><rect x="1005.63" y="1031.57" width="33.33" height="28.89" fill="#cdd0e7"/><rect x="1038.56" y="1031.57" width="33.33" height="28.89" fill="#e5e6f2"/><rect x="1071.49" y="1031.57" width="33.33" height="28.89" fill="#d0001e"/><rect x="314.10" y="1060.06" width="33.33" height="28.89" fill="#e3e5f1"/><rect x="347.03" y="1060.06" width="33.33" height="28.89" fill="#eb95a1"/><rect x="379.96" y="1060.06" width="33.33" height="28.89" fill="#dcddee"/><rect x="412.89" y="1060.06" width="33.33" height="28.89" fill="#eea5af"/><rect x="445.82" y="1060.06" width="33.33" height="28.89" fill="#dadbed"/><rect x="478.75" y="1060.06" width="33.33" height="28.89" fill="#f8d9de"/><rect x="511.68" y="1060.06" width="33.33" height="28.89" fill="#ecedf6"/><rect x="544.61" y="1060.06" width="33.33" height="28.89" fill="#fbfbfd"/><rect x="577.54" y="1060.06" width="33.33" height="28.89" fill="#b5b9db"/><rect x="610.47" y="1060.06" width="33.33" height="28.89" fill="#efaab4"/><rect x="643.40" y="1060.06" width="33.33" height="28.89" fill="#c7cae4"/><rect x="676.33" y="1060.06" width="33.33" height="28.89" fill="#dadbed"/><rect x="709.26" y="1060.06" width="33.33" height="28.89" fill="#ecedf6"/><rect x="742.19" y="1060.06" width="33.33" height="28.89" fill="#eeeff7"/><rect x="775.12" y="1060.06" width="33.33" height="28.89" fill="#fcfcfe"/><rect x="808.05" y="1060.06" width="33.33" height="28.89" fill="#e1e3f1"/><rect x="840.98" y="1060.06" width="33.33" height="28.89" fill="#f2b7c0"/><rect x="873.91" y="1060.06" width="33.33" height="28.89" fill="#d3d5ea"/><rect x="906.84" y="1060.06" width="33.33" height="28.89" fill="#eea2ad"/><rect x="939.77" y="1060.06" width="33.33" height="28.89" fill="#f8d9de"/><rect x="972.70" y="1060.06" width="33.33" height="28.89" fill="#f6ced4"/><rect x="1005.63" y="1060.06" width="33.33" height="28.89" fill="#9ca1cf"/><rect x="1038.56" y="1060.06" width="33.33" height="28.89" fill="#fbecee"/><rect x="1071.49" y="1060.06" width="33.33" height="28.89" fill="#e0576b"/><rect x="1104.42" y="1060.06" width="33.33" height="28.89" fill="#d0001e"/></g><g font-family="Liberation Sans" font-size="11.3" text-anchor="middle"><text x="330.6" y="394.8" fill="#fff">1</text><text x="330.6" y="423.3" fill="#000">0.1</text><text x="363.5" y="423.3" fill="#fff">1</text><text x="330.6" y="451.8" fill="#000">-0.12</text><text x="363.5" y="451.8" fill="#000">-0.5</text><text x="396.4" y="451.8" fill="#fff">1</text><text x="330.6" y="480.3" fill="#000">0.2</text><text x="363.5" y="480.3" fill="#000">0.58</text><text x="396.4" y="480.3" fill="#000">-0.17</text><text x="429.4" y="480.3" fill="#fff">1</text><text x="330.6" y="508.8" fill="#000">-0.21</text><text x="363.5" y="508.8" fill="#000">-0.53</text><text x="396.4" y="508.8" fill="#000">0.43</text><text x="429.4" y="508.8" fill="#000">-0.34</text><text x="462.3" y="508.8" fill="#fff">1</text><text x="330.6" y="537.3" fill="#000">0.24</text><text x="363.5" y="537.3" fill="#000">0.09</text><text x="396.4" y="537.3" fill="#000">0.06</text><text x="429.4" y="537.3" fill="#000">0.08</text><text x="462.3" y="537.3" fill="#000">-0.08</text><text x="495.2" y="537.3" fill="#fff">1</text><text x="330.6" y="565.8" fill="#000">-0.13</text><text x="363.5" y="565.8" fill="#000">-0.39</text><text x="396.4" y="565.8" fill="#fff">0.93</text><text x="429.4" y="565.8" fill="#000">-0.13</text><text x="462.3" y="565.8" fill="#000">0.43</text><text x="495.2" y="565.8" fill="#000">0.07</text><text x="528.1" y="565.8" fill="#fff">1</text><text x="330.6" y="594.3" fill="#000">0.14</text><text x="363.5" y="594.3" fill="#000">-0.43</text><text x="396.4" y="594.3" fill="#000">0.31</text><text x="429.4" y="594.3" fill="#000">0.48</text><text x="462.3" y="594.3" fill="#000">0.25</text><text x="495.2" y="594.3" fill="#000">0.1</text><text x="528.1" y="594.3" fill="#000">0.26</text><text x="561.1" y="594.3" fill="#fff">1</text><text x="330.6" y="622.8" fill="#000">0.03</text><text x="363.5" y="622.8" fill="#000">-0.35</text><text x="396.4" y="622.8" fill="#000">0.01</text><text x="429.4" y="622.8" fill="#000">-0.26</text><text x="462.3" y="622.8" fill="#000">0.14</text><text x="495.2" y="622.8" fill="#000">0.1</text><text x="528.1" y="622.8" fill="#000">-0.01</text><text x="561.1" y="622.8" fill="#000">0.1</text><text x="594.0" y="622.8" fill="#fff">1</text><text x="330.6" y="651.3" fill="#000">-0.47</text><text x="363.5" y="651.3" fill="#000">0.31</text><text x="396.4" y="651.3" fill="#000">-0.16</text><text x="429.4" y="651.3" fill="#000">-0.02</text><text x="462.3" y="651.3" fill="#000">0.21</text><text x="495.2" y="651.3" fill="#000">0</text><text x="528.1" y="651.3" fill="#000">0</text><text x="561.1" y="651.3" fill="#000">-0.08</text><text x="594.0" y="651.3" fill="#000">-0.12</text><text x="626.9" y="651.3" fill="#fff">1</text><text x="330.6" y="679.7" fill="#000">0</text><text x="363.5" y="679.7" fill="#000">-0.35</text><text x="396.4" y="679.7" fill="#000">-0.03</text><text x="429.4" y="679.7" fill="#000">-0.1</text><text x="462.3" y="679.7" fill="#000">0.12</text><text x="495.2" y="679.7" fill="#000">0.05</text><text x="528.1" y="679.7" fill="#000">-0.01</text><text x="561.1" y="679.7" fill="#000">0.27</text><text x="594.0" y="679.7" fill="#fff">0.86</text><text x="626.9" y="679.7" fill="#000">-0.01</text><text x="659.9" y="679.7" fill="#fff">1</text><text x="330.6" y="708.2" fill="#000">0.04</text><text x="363.5" y="708.2" fill="#000">-0.34</text><text x="396.4" y="708.2" fill="#000">-0.06</text><text x="429.4" y="708.2" fill="#000">-0.18</text><text x="462.3" y="708.2" fill="#000">-0.01</text><text x="495.2" y="708.2" fill="#000">-0.08</text><text x="528.1" y="708.2" fill="#000">-0.03</text><text x="561.1" y="708.2" fill="#000">0.13</text><text x="594.0" y="708.2" fill="#fff">0.7</text><text x="626.9" y="708.2" fill="#000">-0.02</text><text x="659.9" y="708.2" fill="#fff">0.69</text><text x="692.8" y="708.2" fill="#fff">1</text><text x="330.6" y="736.7" fill="#000">-0.04</text><text x="363.5" y="736.7" fill="#000">-0.2</text><text x="396.4" y="736.7" fill="#000">0.54</text><text x="429.4" y="736.7" fill="#000">-0.15</text><text x="462.3" y="736.7" fill="#000">0.42</text><text x="495.2" y="736.7" fill="#000">0.42</text><text x="528.1" y="736.7" fill="#000">0.62</text><text x="561.1" y="736.7" fill="#000">0.08</text><text x="594.0" y="736.7" fill="#000">0.23</text><text x="626.9" y="736.7" fill="#000">0.14</text><text x="659.9" y="736.7" fill="#000">0.21</text><text x="692.8" y="736.7" fill="#000">-0.04</text><text x="725.7" y="736.7" fill="#fff">1</text><text x="330.6" y="765.2" fill="#000">-0.07</text><text x="363.5" y="765.2" fill="#000">0.06</text><text x="396.4" y="765.2" fill="#000">-0.07</text><text x="429.4" y="765.2" fill="#000">0.05</text><text x="462.3" y="765.2" fill="#000">0.2</text><text x="495.2" y="765.2" fill="#000">0.31</text><text x="528.1" y="765.2" fill="#000">-0.03</text><text x="561.1" y="765.2" fill="#000">0.04</text><text x="594.0" y="765.2" fill="#000">0.4</text><text x="626.9" y="765.2" fill="#000">-0.13</text><text x="659.9" y="765.2" fill="#000">0.43</text><text x="692.8" y="765.2" fill="#000">-0.05</text><text x="725.7" y="765.2" fill="#000">0.27</text><text x="758.7" y="765.2" fill="#fff">1</text><text x="330.6" y="793.7" fill="#000">-0.05</text><text x="363.5" y="793.7" fill="#000">-0.17</text><text x="396.4" y="793.7" fill="#000">-0.11</text><text x="429.4" y="793.7" fill="#000">0.05</text><text x="462.3" y="793.7" fill="#000">-0.16</text><text x="495.2" y="793.7" fill="#000">0.05</text><text x="528.1" y="793.7" fill="#000">-0.06</text><text x="561.1" y="793.7" fill="#000">0.21</text><text x="594.0" y="793.7" fill="#000">0.21</text><text x="626.9" y="793.7" fill="#000">-0.17</text><text x="659.9" y="793.7" fill="#000">0.28</text><text x="692.8" y="793.7" fill="#000">0.39</text><text x="725.7" y="793.7" fill="#000">-0.13</text><text x="758.7" y="793.7" fill="#000">-0.06</text><text x="791.6" y="793.7" fill="#fff">1</text><text x="330.6" y="822.2" fill="#000">0.25</text><text x="363.5" y="822.2" fill="#000">-0.01</text><text x="396.4" y="822.2" fill="#000">-0.05</text><text x="429.4" y="822.2" fill="#000">-0</text><text x="462.3" y="822.2" fill="#000">0.13</text><text x="495.2" y="822.2" fill="#000">0.17</text><text x="528.1" y="822.2" fill="#000">-0.04</text><text x="561.1" y="822.2" fill="#000">0.04</text><text x="594.0" y="822.2" fill="#000">0.44</text><text x="626.9" y="822.2" fill="#000">0.02</text><text x="659.9" y="822.2" fill="#000">0.34</text><text x="692.8" y="822.2" fill="#000">0.04</text><text x="725.7" y="822.2" fill="#000">0.31</text><text x="758.7" y="822.2" fill="#000">0.2</text><text x="791.6" y="822.2" fill="#000">0.02</text><text x="824.5" y="822.2" fill="#fff">1</text><text x="330.6" y="850.7" fill="#000">-0.27</text><text x="363.5" y="850.7" fill="#000">0.15</text><text x="396.4" y="850.7" fill="#000">-0.26</text><text x="429.4" y="850.7" fill="#000">0.15</text><text x="462.3" y="850.7" fill="#000">-0.22</text><text x="495.2" y="850.7" fill="#000">0.04</text><text x="528.1" y="850.7" fill="#000">-0.17</text><text x="561.1" y="850.7" fill="#000">0.02</text><text x="594.0" y="850.7" fill="#000">-0.14</text><text x="626.9" y="850.7" fill="#000">0.11</text><text x="659.9" y="850.7" fill="#000">-0.05</text><text x="692.8" y="850.7" fill="#000">-0.06</text><text x="725.7" y="850.7" fill="#000">-0.23</text><text x="758.7" y="850.7" fill="#000">0.03</text><text x="791.6" y="850.7" fill="#000">0.32</text><text x="824.5" y="850.7" fill="#000">-0.09</text><text x="857.4" y="850.7" fill="#fff">1</text><text x="330.6" y="879.2" fill="#000">0.02</text><text x="363.5" y="879.2" fill="#000">-0.25</text><text x="396.4" y="879.2" fill="#000">-0.09</text><text x="429.4" y="879.2" fill="#000">-0.04</text><text x="462.3" y="879.2" fill="#000">0.1</text><text x="495.2" y="879.2" fill="#000">0.08</text><text x="528.1" y="879.2" fill="#000">-0.06</text><text x="561.1" y="879.2" fill="#000">0.23</text><text x="594.0" y="879.2" fill="#fff">0.89</text><text x="626.9" y="879.2" fill="#000">0.14</text><text x="659.9" y="879.2" fill="#fff">0.95</text><text x="692.8" y="879.2" fill="#fff">0.68</text><text x="725.7" y="879.2" fill="#000">0.25</text><text x="758.7" y="879.2" fill="#000">0.49</text><text x="791.6" y="879.2" fill="#000">0.26</text><text x="824.5" y="879.2" fill="#000">0.41</text><text x="857.4" y="879.2" fill="#000">-0.01</text><text x="890.4" y="879.2" fill="#fff">1</text><text x="330.6" y="907.7" fill="#000">-0.07</text><text x="363.5" y="907.7" fill="#000">0.19</text><text x="396.4" y="907.7" fill="#000">-0.21</text><text x="429.4" y="907.7" fill="#000">0.3</text><text x="462.3" y="907.7" fill="#000">-0.11</text><text x="495.2" y="907.7" fill="#000">-0.15</text><text x="528.1" y="907.7" fill="#000">-0.14</text><text x="561.1" y="907.7" fill="#000">0.1</text><text x="594.0" y="907.7" fill="#000">-0.32</text><text x="626.9" y="907.7" fill="#000">0.19</text><text x="659.9" y="907.7" fill="#000">-0.2</text><text x="692.8" y="907.7" fill="#000">-0.13</text><text x="725.7" y="907.7" fill="#000">-0.28</text><text x="758.7" y="907.7" fill="#000">-0.19</text><text x="791.6" y="907.7" fill="#000">0</text><text x="824.5" y="907.7" fill="#000">-0.14</text><text x="857.4" y="907.7" fill="#000">0.45</text><text x="890.4" y="907.7" fill="#000">-0.14</text><text x="923.3" y="907.7" fill="#fff">1</text><text x="330.6" y="936.2" fill="#000">-0.06</text><text x="363.5" y="936.2" fill="#000">-0.21</text><text x="396.4" y="936.2" fill="#000">0.21</text><text x="429.4" y="936.2" fill="#000">0.03</text><text x="462.3" y="936.2" fill="#000">0.04</text><text x="495.2" y="936.2" fill="#000">-0.18</text><text x="528.1" y="936.2" fill="#000">0.17</text><text x="561.1" y="936.2" fill="#000">0.21</text><text x="594.0" y="936.2" fill="#000">-0.42</text><text x="626.9" y="936.2" fill="#000">0.07</text><text x="659.9" y="936.2" fill="#000">-0.32</text><text x="692.8" y="936.2" fill="#000">-0.05</text><text x="725.7" y="936.2" fill="#000">-0.14</text><text x="758.7" y="936.2" fill="#000">-0.4</text><text x="791.6" y="936.2" fill="#000">0.05</text><text x="824.5" y="936.2" fill="#000">-0.37</text><text x="857.4" y="936.2" fill="#000">-0.07</text><text x="890.4" y="936.2" fill="#000">-0.38</text><text x="923.3" y="936.2" fill="#000">0.2</text><text x="956.2" y="936.2" fill="#fff">1</text><text x="330.6" y="964.6" fill="#000">0.13</text><text x="363.5" y="964.6" fill="#000">0.13</text><text x="396.4" y="964.6" fill="#000">-0.16</text><text x="429.4" y="964.6" fill="#000">0.13</text><text x="462.3" y="964.6" fill="#000">-0.11</text><text x="495.2" y="964.6" fill="#000">0.19</text><text x="528.1" y="964.6" fill="#000">-0.14</text><text x="561.1" y="964.6" fill="#000">0.03</text><text x="594.0" y="964.6" fill="#000">-0.03</text><text x="626.9" y="964.6" fill="#000">-0.26</text><text x="659.9" y="964.6" fill="#000">-0.02</text><text x="692.8" y="964.6" fill="#000">0.14</text><text x="725.7" y="964.6" fill="#000">-0.12</text><text x="758.7" y="964.6" fill="#000">-0.07</text><text x="791.6" y="964.6" fill="#000">0.04</text><text x="824.5" y="964.6" fill="#000">-0.17</text><text x="857.4" y="964.6" fill="#000">0.02</text><text x="890.4" y="964.6" fill="#000">-0.02</text><text x="923.3" y="964.6" fill="#000">0.12</text><text x="956.2" y="964.6" fill="#000">-0.01</text><text x="989.2" y="964.6" fill="#fff">1</text><text x="330.6" y="993.1" fill="#000">-0.21</text><text x="363.5" y="993.1" fill="#fff">-0.92</text><text x="396.4" y="993.1" fill="#000">0.49</text><text x="429.4" y="993.1" fill="#fff">-0.65</text><text x="462.3" y="993.1" fill="#000">0.49</text><text x="495.2" y="993.1" fill="#000">-0.24</text><text x="528.1" y="993.1" fill="#000">0.38</text><text x="561.1" y="993.1" fill="#000">0.23</text><text x="594.0" y="993.1" fill="#000">0.38</text><text x="626.9" y="993.1" fill="#000">-0.27</text><text x="659.9" y="993.1" fill="#000">0.34</text><text x="692.8" y="993.1" fill="#000">0.32</text><text x="725.7" y="993.1" fill="#000">0.14</text><text x="758.7" y="993.1" fill="#000">0.03</text><text x="791.6" y="993.1" fill="#000">0.14</text><text x="824.5" y="993.1" fill="#000">-0.01</text><text x="857.4" y="993.1" fill="#000">-0.21</text><text x="890.4" y="993.1" fill="#000">0.25</text><text x="923.3" y="993.1" fill="#000">-0.25</text><text x="956.2" y="993.1" fill="#000">0.19</text><text x="989.2" y="993.1" fill="#000">-0.19</text><text x="1022.1" y="993.1" fill="#fff">1</text><text x="330.6" y="1021.6" fill="#000">0.31</text><text x="363.5" y="1021.6" fill="#fff">0.85</text><text x="396.4" y="1021.6" fill="#000">-0.48</text><text x="429.4" y="1021.6" fill="#000">0.55</text><text x="462.3" y="1021.6" fill="#000">-0.44</text><text x="495.2" y="1021.6" fill="#000">0.21</text><text x="528.1" y="1021.6" fill="#000">-0.39</text><text x="561.1" y="1021.6" fill="#000">-0.27</text><text x="594.0" y="1021.6" fill="#000">-0.27</text><text x="626.9" y="1021.6" fill="#000">0.18</text><text x="659.9" y="1021.6" fill="#000">-0.24</text><text x="692.8" y="1021.6" fill="#000">-0.27</text><text x="725.7" y="1021.6" fill="#000">-0.15</text><text x="758.7" y="1021.6" fill="#000">-0</text><text x="791.6" y="1021.6" fill="#000">-0.16</text><text x="824.5" y="1021.6" fill="#000">0.08</text><text x="857.4" y="1021.6" fill="#000">0.14</text><text x="890.4" y="1021.6" fill="#000">-0.19</text><text x="923.3" y="1021.6" fill="#000">0.12</text><text x="956.2" y="1021.6" fill="#000">-0.29</text><text x="989.2" y="1021.6" fill="#000">0.15</text><text x="1022.1" y="1021.6" fill="#fff">-0.91</text><text x="1055.0" y="1021.6" fill="#fff">1</text><text x="330.6" y="1050.1" fill="#000">-0.17</text><text x="363.5" y="1050.1" fill="#000">0.23</text><text x="396.4" y="1050.1" fill="#000">-0.02</text><text x="429.4" y="1050.1" fill="#000">0.29</text><text x="462.3" y="1050.1" fill="#000">-0.07</text><text x="495.2" y="1050.1" fill="#000">0.08</text><text x="528.1" y="1050.1" fill="#000">0.01</text><text x="561.1" y="1050.1" fill="#000">0.09</text><text x="594.0" y="1050.1" fill="#000">-0.21</text><text x="626.9" y="1050.1" fill="#000">0.38</text><text x="659.9" y="1050.1" fill="#000">-0.17</text><text x="692.8" y="1050.1" fill="#000">-0.12</text><text x="725.7" y="1050.1" fill="#000">0.05</text><text x="758.7" y="1050.1" fill="#000">-0.03</text><text x="791.6" y="1050.1" fill="#000">0.04</text><text x="824.5" y="1050.1" fill="#000">-0.11</text><text x="857.4" y="1050.1" fill="#000">0.07</text><text x="890.4" y="1050.1" fill="#000">-0.13</text><text x="923.3" y="1050.1" fill="#000">0.18</text><text x="956.2" y="1050.1" fill="#000">0.19</text><text x="989.2" y="1050.1" fill="#000">0.05</text><text x="1022.1" y="1050.1" fill="#000">-0.25</text><text x="1055.0" y="1050.1" fill="#000">-0.13</text><text x="1088.0" y="1050.1" fill="#fff">1</text><text x="330.6" y="1078.6" fill="#000">-0.14</text><text x="363.5" y="1078.6" fill="#000">0.4</text><text x="396.4" y="1078.6" fill="#000">-0.18</text><text x="429.4" y="1078.6" fill="#000">0.34</text><text x="462.3" y="1078.6" fill="#000">-0.19</text><text x="495.2" y="1078.6" fill="#000">0.15</text><text x="528.1" y="1078.6" fill="#000">-0.09</text><text x="561.1" y="1078.6" fill="#000">-0</text><text x="594.0" y="1078.6" fill="#000">-0.36</text><text x="626.9" y="1078.6" fill="#000">0.32</text><text x="659.9" y="1078.6" fill="#000">-0.28</text><text x="692.8" y="1078.6" fill="#000">-0.19</text><text x="725.7" y="1078.6" fill="#000">-0.09</text><text x="758.7" y="1078.6" fill="#000">-0.08</text><text x="791.6" y="1078.6" fill="#000">0.01</text><text x="824.5" y="1078.6" fill="#000">-0.15</text><text x="857.4" y="1078.6" fill="#000">0.27</text><text x="890.4" y="1078.6" fill="#000">-0.22</text><text x="923.3" y="1078.6" fill="#000">0.35</text><text x="956.2" y="1078.6" fill="#000">0.15</text><text x="989.2" y="1078.6" fill="#000">0.19</text><text x="1022.1" y="1078.6" fill="#000">-0.47</text><text x="1055.0" y="1078.6" fill="#000">0.09</text><text x="1088.0" y="1078.6" fill="#000">0.64</text><text x="1120.9" y="1078.6" fill="#fff">1</text></g><path d="M314.5,375.9V1088.3H1138" stroke="#000" stroke-width="2.6" fill="none"/><path d="M302,390.5H314M302,419.0H314M302,447.5H314M302,476.0H314M302,504.5H314M302,533.0H314M302,561.5H314M302,590.0H314M302,618.5H314M302,647.0H314M302,675.4H314M302,703.9H314M302,732.4H314M302,760.9H314M302,789.4H314M302,817.9H314M302,846.4H314M302,874.9H314M302,903.4H314M302,931.9H314M302,960.3H314M302,988.8H314M302,1017.3H314M302,1045.8H314M302,1074.3H314M330.6,1088V1099.5M363.5,1088V1099.5M396.4,1088V1099.5M429.4,1088V1099.5M462.3,1088V1099.5M495.2,1088V1099.5M528.1,1088V1099.5M561.1,1088V1099.5M594.0,1088V1099.5M626.9,1088V1099.5M659.9,1088V1099.5M692.8,1088V1099.5M725.7,1088V1099.5M758.7,1088V1099.5M791.6,1088V1099.5M824.5,1088V1099.5M857.4,1088V1099.5M890.4,1088V1099.5M923.3,1088V1099.5M956.2,1088V1099.5M989.2,1088V1099.5M1022.1,1088V1099.5M1055.0,1088V1099.5M1088.0,1088V1099.5M1120.9,1088V1099.5" stroke="#000" stroke-width="2.2" fill="none"/><g font-family="Liberation Sans" font-weight="bold" font-size="20.8" fill="#000"><text x="292.5" y="397.5" text-anchor="end">Depth</text><text x="292.5" y="426.0" text-anchor="end">Temperature</text><text x="292.5" y="454.5" text-anchor="end">Carbon total</text><text x="292.5" y="483.0" text-anchor="end">Salinity</text><text x="292.5" y="511.5" text-anchor="end">Gradient surface temp</text><text x="292.5" y="540.0" text-anchor="end">CO3</text><text x="292.5" y="568.5" text-anchor="end">HCO3</text><text x="292.5" y="597.0" text-anchor="end">Density</text><text x="292.5" y="625.5" text-anchor="end">PO4</text><text x="292.5" y="654.0" text-anchor="end">PAR</text><text x="292.5" y="682.4" text-anchor="end">NO3</text><text x="292.5" y="710.9" text-anchor="end">Si</text><text x="292.5" y="739.4" text-anchor="end">Alkalinity</text><text x="292.5" y="767.9" text-anchor="end">Ammonium 5m</text><text x="292.5" y="796.4" text-anchor="end">Depth mixed layer</text><text x="292.5" y="824.9" text-anchor="end">NO2</text><text x="292.5" y="853.4" text-anchor="end">Depth min O2</text><text x="292.5" y="881.9" text-anchor="end">NO2NO3</text><text x="292.5" y="910.4" text-anchor="end">Nitracline</text><text x="292.5" y="938.9" text-anchor="end">Iron 5m</text><text x="292.5" y="967.3" text-anchor="end">Residence time</text><text x="292.5" y="995.8" text-anchor="end">Amino acid transporters</text><text x="292.5" y="1024.3" text-anchor="end">Ammonium transporter</text><text x="292.5" y="1052.8" text-anchor="end">Nitrate uptake genes</text><text x="292.5" y="1081.3" text-anchor="end">Small organic mol. genes</text><text transform="translate(323.2,1110.6) rotate(90)">Depth</text><text transform="translate(356.1,1110.6) rotate(90)">Temperature</text><text transform="translate(389.0,1110.6) rotate(90)">Carbon total</text><text transform="translate(422.0,1110.6) rotate(90)">Salinity</text><text transform="translate(454.9,1110.6) rotate(90)">Gradient surface temp</text><text transform="translate(487.8,1110.6) rotate(90)">CO3</text><text transform="translate(520.7,1110.6) rotate(90)">HCO3</text><text transform="translate(553.7,1110.6) rotate(90)">Density</text><text transform="translate(586.6,1110.6) rotate(90)">PO4</text><text transform="translate(619.5,1110.6) rotate(90)">PAR</text><text transform="translate(652.5,1110.6) rotate(90)">NO3</text><text transform="translate(685.4,1110.6) rotate(90)">Si</text><text transform="translate(718.3,1110.6) rotate(90)">Alkalinity</text><text transform="translate(751.3,1110.6) rotate(90)">Ammonium 5m</text><text transform="translate(784.2,1110.6) rotate(90)">Depth mixed layer</text><text transform="translate(817.1,1110.6) rotate(90)">NO2</text><text transform="translate(850.0,1110.6) rotate(90)">Depth min O2</text><text transform="translate(883.0,1110.6) rotate(90)">NO2NO3</text><text transform="translate(915.9,1110.6) rotate(90)">Nitracline</text><text transform="translate(948.8,1110.6) rotate(90)">Iron 5m</text><text transform="translate(981.8,1110.6) rotate(90)">Residence time</text><text transform="translate(1014.7,1110.6) rotate(90)">Amino acid transporters</text><text transform="translate(1047.6,1110.6) rotate(90)">Ammonium transporter</text><text transform="translate(1080.6,1110.6) rotate(90)">Nitrate uptake genes</text><text transform="translate(1113.5,1110.6) rotate(90)">Small organic mol. genes</text></g><defs><linearGradient id="cbg" x1="0" y1="0" x2="0" y2="1"><stop offset="0.000" stop-color="#d0001e"/><stop offset="0.025" stop-color="#d20c28"/><stop offset="0.050" stop-color="#d41732"/><stop offset="0.075" stop-color="#d6233d"/><stop offset="0.100" stop-color="#d92e47"/><stop offset="0.125" stop-color="#db3a51"/><stop offset="0.150" stop-color="#dd465c"/><stop offset="0.175" stop-color="#df5266"/><stop offset="0.200" stop-color="#e15e71"/><stop offset="0.225" stop-color="#e46a7c"/><stop offset="0.250" stop-color="#e67686"/><stop offset="0.275" stop-color="#e88391"/><stop offset="0.300" stop-color="#ea8f9c"/><stop offset="0.325" stop-color="#ed9ca8"/><stop offset="0.350" stop-color="#efa9b3"/><stop offset="0.375" stop-color="#f2b6be"/><stop offset="0.400" stop-color="#f4c3ca"/><stop offset="0.425" stop-color="#f6d1d6"/><stop offset="0.450" stop-color="#f9dfe3"/><stop offset="0.475" stop-color="#fceef0"/><stop offset="0.500" stop-color="#ffffff"/><stop offset="0.525" stop-color="#f9f9fc"/><stop offset="0.550" stop-color="#f1f2f8"/><stop offset="0.575" stop-color="#e9eaf4"/><stop offset="0.600" stop-color="#e0e1f0"/><stop offset="0.625" stop-color="#d6d8eb"/><stop offset="0.650" stop-color="#cccfe6"/><stop offset="0.675" stop-color="#c2c5e1"/><stop offset="0.700" stop-color="#b7bbdc"/><stop offset="0.725" stop-color="#adb0d7"/><stop offset="0.750" stop-color="#a1a6d1"/><stop offset="0.775" stop-color="#969bcc"/><stop offset="0.800" stop-color="#8b90c6"/><stop offset="0.825" stop-color="#7f85c0"/><stop offset="0.850" stop-color="#7379bb"/><stop offset="0.875" stop-color="#676eb5"/><stop offset="0.900" stop-color="#5b62af"/><stop offset="0.925" stop-color="#4e56a9"/><stop offset="0.950" stop-color="#424aa2"/><stop offset="0.975" stop-color="#353e9c"/><stop offset="1.000" stop-color="#283296"/></linearGradient></defs><rect x="1184.3" y="373.2" width="45.600000000000136" height="718.3999999999999" fill="url(#cbg)" stroke="#000" stroke-width="2"/><g font-family="Liberation Sans" font-size="23" fill="#000"><text x="1239.4" y="381.4">1</text><text x="1239.4" y="470.7">0.76</text><text x="1239.4" y="560.0">0.52</text><text x="1239.4" y="649.3">0.28</text><text x="1239.4" y="738.6">0.04</text><text x="1239.4" y="827.9">-0.21</text><text x="1239.4" y="917.2">-0.45</text><text x="1239.4" y="1006.5">-0.69</text><text x="1239.4" y="1091.8">-0.93</text></g><path d="M1184.3,462.5h12.5M1229.9,462.5h-12.9M1184.3,551.8h12.5M1229.9,551.8h-12.9M1184.3,641.1h12.5M1229.9,641.1h-12.9M1184.3,730.4h12.5M1229.9,730.4h-12.9M1184.3,819.7h12.5M1229.9,819.7h-12.9M1184.3,909.0h12.5M1229.9,909.0h-12.9M1184.3,998.3h12.5M1229.9,998.3h-12.9" stroke="#000" stroke-width="2" fill="none"/><clipPath id="cl99"><rect x="99.4" y="1437.8" width="470.6" height="396.4000000000001"/></clipPath><g clip-path="url(#cl99)"><path d="M109.7,1476.1L119.1,1475.1L122.9,1540.0L125.7,1475.1L134.2,1477.0L143.6,1494.9L152.0,1475.1L153.0,1507.1L154.9,1477.9L159.6,1529.6L167.1,1475.1L167.6,1554.1L168.6,1499.6L176.5,1493.9L177.0,1542.4L185.9,1528.7L225.4,1512.2L231.0,1490.2L279.9,1702.6L311.8,1651.8L323.1,1749.6L342.9,1698.8L361.6,1784.5L365.1,1751.5L370.3,1781.0L380.7,1756.7L390.3,1774.1L396.4,1786.2L403.3,1737.7L408.5,1789.7L413.7,1772.4L426.7,1696.0L433.7,1772.4L444.1,1741.1L452.8,1789.7L458.8,1753.3L462.3,1786.2L469.2,1753.3L474.4,1789.7L482.3,1789.7L490.1,1744.6L493.5,1788.0L498.7,1794.9L509.2,1735.9L515.2,1786.2L516.1,1741.1L530.0,1772.4L545.6,1789.7" fill="none" stroke="#2040f8" stroke-width="3.2" stroke-linejoin="round" stroke-linecap="round" /><path d="M109.7,1802.2L119.1,1801.9L122.9,1751.5L125.7,1801.3L135.1,1801.3L143.6,1783.4L151.1,1800.4L153.0,1772.2L154.9,1798.5L159.6,1755.2L166.1,1800.4L167.5,1735.5L169.0,1781.6L173.7,1796.6L176.9,1748.7L184.9,1786.0L225.4,1785.5L231.0,1799.4L236.6,1770.3L280.8,1688.5L311.8,1726.1L323.1,1552.2L324.6,1686.6L328.8,1604.8L341.0,1524.0L343.4,1613.3L361.6,1499.9L363.4,1640.5L369.5,1517.3L370.3,1664.8L372.9,1504.3L374.7,1598.8L389.4,1716.8L396.4,1489.5L402.9,1607.5L403.3,1534.6L409.4,1486.9L412.8,1685.6L413.7,1529.4L422.4,1499.9L426.7,1656.1L432.8,1501.6L444.1,1562.4L452.8,1509.5L458.8,1532.0L459.7,1501.6L465.8,1515.5L473.6,1631.8L477.9,1494.7L478.8,1548.5L483.1,1499.9L487.5,1529.4L489.2,1494.7L490.1,1583.2L493.5,1508.6L496.1,1612.7L497.9,1496.4L500.5,1513.8L504.0,1611.0L506.6,1631.8L507.4,1503.4L510.9,1609.2L515.2,1494.7L516.1,1611.0L531.7,1621.4L545.6,1528.5" fill="none" stroke="#ebc56c" stroke-width="3.2" stroke-linejoin="round" stroke-linecap="round" /><path d="M109.7,1803.2L135.1,1803.2L153.0,1802.2L159.6,1799.4L167.1,1802.2L176.5,1796.6L185.9,1781.6L225.4,1801.3L234.8,1799.4L280.8,1783.4L311.8,1761.8L323.1,1798.5L324.6,1700.7L328.8,1788.2L341.0,1799.4L343.1,1784.5L361.6,1800.1L363.4,1789.7L369.5,1799.3L370.3,1779.3L372.9,1799.3L379.9,1744.6L389.4,1716.8L396.4,1800.1L402.9,1796.7L409.4,1800.1L412.8,1685.6L413.7,1798.4L422.4,1799.3L426.7,1784.5L432.8,1798.4L444.1,1797.5L452.8,1800.1L458.8,1795.8L459.7,1800.1L469.2,1792.3L473.6,1779.3L477.9,1800.1L483.1,1798.4L487.5,1800.1L493.5,1797.5L497.9,1801.0L504.0,1789.7L506.6,1631.8L507.4,1792.3L510.9,1793.2L515.2,1798.4L516.1,1786.2L531.7,1786.2L545.6,1798.4" fill="none" stroke="#ff48a8" stroke-width="3.2" stroke-linejoin="round" stroke-linecap="round" /><path d="M109.7,1801.3L119.1,1802.2L122.9,1791.0L125.7,1802.2L135.1,1800.4L152.0,1801.3L159.6,1796.6L167.1,1802.2L176.5,1792.8L185.9,1784.4L225.4,1784.0L231.0,1799.4L235.7,1799.4L280.8,1704.5L311.8,1741.1L323.1,1785.3L324.3,1723.8L340.8,1781.0L343.1,1765.4L343.4,1786.2L362.5,1791.4L363.4,1700.3L366.0,1775.8L370.0,1666.5L372.1,1777.6L373.8,1723.8L379.9,1719.4L390.3,1668.2L396.4,1793.2L402.9,1733.3L406.8,1793.2L408.5,1746.3L412.0,1793.2L412.8,1710.8L414.6,1772.4L422.4,1789.7L426.7,1758.5L433.7,1788.0L455.4,1765.4L458.8,1789.7L462.3,1779.3L469.2,1777.6L473.6,1709.9L477.0,1791.4L478.8,1758.5L483.1,1789.7L485.7,1762.0L488.3,1800.1L490.9,1762.0L495.3,1718.6L497.0,1800.1L502.2,1775.8L506.6,1732.5L510.9,1789.7L515.2,1794.9L516.1,1741.1L531.7,1699.5L545.6,1762.8" fill="none" stroke="#34a96a" stroke-width="3.2" stroke-linejoin="round" stroke-linecap="round" /></g><path d="M99.4,1442.8V1834.2H570" stroke="#000" stroke-width="1.6" fill="none"/><path d="M133.6,1834.2v5.5M201.7,1834.2v5.5M269.8,1834.2v5.5M337.9,1834.2v5.5M406.0,1834.2v5.5M474.1,1834.2v5.5M542.2,1834.2v5.5M99.5,1834.2v3M167.6,1834.2v3M235.8,1834.2v3M303.9,1834.2v3M371.9,1834.2v3M440.0,1834.2v3M508.1,1834.2v3M99.4,1802.2h-8M99.4,1736.8h-8M99.4,1671.3h-8M99.4,1605.9h-8M99.4,1540.4h-8M99.4,1475.0h-8M99.4,1834.9h-4M99.4,1769.5h-4M99.4,1704.0h-4M99.4,1638.6h-4M99.4,1573.2h-4M99.4,1507.7h-4M99.4,1442.3h-4" stroke="#000" stroke-width="1.4" fill="none"/><g font-family="Liberation Serif" font-size="16.5" fill="#000"><text x="133.6" y="1862.2" text-anchor="middle">0</text><text x="201.7" y="1862.2" text-anchor="middle">5</text><text x="269.8" y="1862.2" text-anchor="middle">10</text><text x="337.9" y="1862.2" text-anchor="middle">15</text><text x="406.0" y="1862.2" text-anchor="middle">20</text><text x="474.1" y="1862.2" text-anchor="middle">25</text><text x="542.2" y="1862.2" text-anchor="middle">30</text><text x="85.9" y="1807.8" text-anchor="end">0</text><text x="85.9" y="1742.4" text-anchor="end">20</text><text x="85.9" y="1676.9" text-anchor="end">40</text><text x="85.9" y="1611.5" text-anchor="end">60</text><text x="85.9" y="1546.0" text-anchor="end">80</text><text x="85.9" y="1480.6" text-anchor="end">100</text></g><text x="335.5" y="1906.5" font-family="Liberation Serif" font-size="32.2" text-anchor="middle">Temperature</text><text transform="translate(48.5,1638) rotate(-90)" font-family="Liberation Serif" font-size="33" text-anchor="middle">Portion of sequence (%)</text><rect x="446" y="1380" width="218.70000000000005" height="113.79999999999995" fill="#fff" stroke="#666" stroke-width="1"/><path d="M450,1396H497" stroke="#2040f8" stroke-width="4" stroke-linecap="round"/><text x="504" y="1403.8" font-family="Liberation Serif" font-size="21.3">Amino acids</text><path d="M450,1423.5H497" stroke="#ebc56c" stroke-width="4" stroke-linecap="round"/><text x="504" y="1431.3" font-family="Liberation Serif" font-size="21.3">Ammonium</text><path d="M450,1451H497" stroke="#ff48a8" stroke-width="4" stroke-linecap="round"/><text x="504" y="1458.8" font-family="Liberation Serif" font-size="21.3">Nitrate</text><path d="M450,1478.4H497" stroke="#34a96a" stroke-width="4" stroke-linecap="round"/><text x="504" y="1486.2" font-family="Liberation Serif" font-size="21.3">Small organic mol</text><clipPath id="cl785"><rect x="785.2" y="1437.7" width="488.5999999999999" height="397.29999999999995"/></clipPath><g clip-path="url(#cl785)"><path d="M837.4,1494.3L842.6,1529.0L879.9,1513.4L918.0,1758.1L923.3,1652.2L928.5,1787.6L941.5,1777.2L955.4,1796.2L958.8,1744.2L967.5,1740.7L978.8,1796.2L990.1,1752.9L993.5,1792.8L1010.0,1765.0L1016.1,1784.1L1021.3,1737.2L1033.4,1782.4L1043.9,1733.8L1055.6,1777.2L1078.2,1780.6L1082.5,1796.2L1089.5,1782.4L1105.9,1796.2L1108.5,1778.9L1114.6,1775.4L1119.8,1789.3L1141.5,1747.7L1201.4,1555.0L1214.4,1542.0L1219.6,1504.7L1223.0,1480.0" fill="none" stroke="#2040f8" stroke-width="3.2" stroke-linejoin="round" stroke-linecap="round" /><path d="M836.5,1784.1L842.6,1756.3L879.9,1770.2L918.0,1660.9L923.3,1725.1L930.2,1524.7L941.5,1548.1L948.4,1513.4L955.4,1501.2L957.1,1607.1L967.2,1562.0L967.5,1610.6L978.8,1490.8L989.2,1567.2L990.4,1508.2L990.4,1589.7L1010.0,1532.5L1016.1,1511.6L1021.3,1609.7L1033.8,1520.3L1036.0,1612.3L1043.9,1654.0L1056.5,1508.2L1057.4,1622.7L1078.2,1730.3L1082.5,1528.1L1089.5,1610.6L1093.8,1520.3L1105.9,1490.0L1105.1,1598.4L1106.8,1685.2L1111.1,1716.4L1117.2,1574.1L1119.0,1700.8L1119.8,1589.7L1121.6,1686.9L1128.5,1686.1L1141.5,1606.2L1201.4,1735.5L1214.4,1749.4L1219.6,1772.0L1221.3,1799.7L1222.2,1782.4L1224.0,1801.5" fill="none" stroke="#ebc56c" stroke-width="3.2" stroke-linejoin="round" stroke-linecap="round" /><path d="M836.5,1803.2L842.6,1800.6L879.9,1800.6L918.0,1744.2L925.9,1788.4L928.5,1792.8L941.5,1784.1L948.4,1796.2L955.4,1800.6L957.1,1794.5L967.2,1784.1L967.5,1798.0L978.8,1801.5L989.2,1772.0L990.1,1799.7L1010.0,1796.2L1016.1,1797.1L1021.3,1791.0L1033.4,1798.0L1043.9,1747.7L1056.5,1801.5L1079.0,1632.3L1082.5,1799.7L1088.6,1758.1L1092.9,1796.2L1105.9,1800.6L1106.8,1686.1L1117.2,1796.2L1128.5,1700.8L1141.5,1787.6L1202.3,1796.2L1213.5,1796.2L1220.5,1802.3L1241.3,1802.3" fill="none" stroke="#e8147a" stroke-width="3.2" stroke-linejoin="round" stroke-linecap="round" /><path d="M836.5,1801.5L842.6,1796.2L879.9,1798.0L918.0,1719.9L923.3,1740.7L926.7,1701.7L931.1,1773.7L941.5,1768.5L956.2,1780.6L957.1,1733.8L967.5,1782.4L967.2,1745.9L978.8,1794.5L990.1,1761.5L990.9,1782.4L1010.0,1789.3L1016.1,1784.1L1021.3,1745.9L1033.4,1763.3L1036.9,1719.9L1056.5,1778.9L1057.4,1699.1L1079.0,1733.8L1082.5,1761.5L1089.5,1733.8L1092.9,1775.4L1105.9,1791.0L1106.8,1707.7L1113.8,1669.6L1118.1,1763.3L1119.8,1667.8L1127.6,1725.1L1141.5,1744.2L1202.3,1795.4L1213.5,1793.6L1220.5,1801.5L1230.9,1800.6L1239.6,1800.6" fill="none" stroke="#34a96a" stroke-width="3.2" stroke-linejoin="round" stroke-linecap="round" /></g><path d="M785.2,1442.7V1835H1273.8" stroke="#000" stroke-width="1.6" fill="none"/><path d="M785.2,1835v5.5M842.7,1835v5.5M900.2,1835v5.5M957.7,1835v5.5M1015.2,1835v5.5M1072.7,1835v5.5M1130.2,1835v5.5M1187.7,1835v5.5M1245.2,1835v5.5M814.0,1835v3M871.5,1835v3M929.0,1835v3M986.5,1835v3M1044.0,1835v3M1101.5,1835v3M1159.0,1835v3M1216.5,1835v3M1274.0,1835v3M785.2,1801.9h-8M785.2,1736.6h-8M785.2,1671.2h-8M785.2,1605.9h-8M785.2,1540.5h-8M785.2,1475.2h-8M785.2,1834.6h-4M785.2,1769.2h-4M785.2,1703.9h-4M785.2,1638.6h-4M785.2,1573.2h-4M785.2,1507.9h-4M785.2,1442.5h-4" stroke="#000" stroke-width="1.4" fill="none"/><g font-family="Liberation Serif" font-size="16.5" fill="#000"><text x="785.2" y="1863.0" text-anchor="middle">-80</text><text x="842.7" y="1863.0" text-anchor="middle">-60</text><text x="900.2" y="1863.0" text-anchor="middle">-40</text><text x="957.7" y="1863.0" text-anchor="middle">-20</text><text x="1015.2" y="1863.0" text-anchor="middle">0</text><text x="1072.7" y="1863.0" text-anchor="middle">20</text><text x="1130.2" y="1863.0" text-anchor="middle">40</text><text x="1187.7" y="1863.0" text-anchor="middle">60</text><text x="1245.2" y="1863.0" text-anchor="middle">80</text><text x="771.7" y="1807.5" text-anchor="end">0</text><text x="771.7" y="1742.2" text-anchor="end">20</text><text x="771.7" y="1676.8" text-anchor="end">40</text><text x="771.7" y="1611.5" text-anchor="end">60</text><text x="771.7" y="1546.1" text-anchor="end">80</text><text x="771.7" y="1480.8" text-anchor="end">100</text></g><text x="1015.7" y="1905" font-family="Liberation Serif" font-size="33.1" text-anchor="middle">Latitude</text><text transform="translate(734.5,1638) rotate(-90)" font-family="Liberation Serif" font-size="33" text-anchor="middle">Portion of sequence (%)</text><rect x="1132" y="1386" width="223.4000000000001" height="115.29999999999995" fill="#fff" stroke="#666" stroke-width="1"/><path d="M1135,1404H1185" stroke="#2040f8" stroke-width="4" stroke-linecap="round"/><text x="1191" y="1411.8" font-family="Liberation Serif" font-size="22">Amino acids</text><path d="M1135,1431.5H1185" stroke="#ebc56c" stroke-width="4" stroke-linecap="round"/><text x="1191" y="1439.3" font-family="Liberation Serif" font-size="22">Ammonium</text><path d="M1135,1459H1185" stroke="#e8147a" stroke-width="4" stroke-linecap="round"/><text x="1191" y="1466.8" font-family="Liberation Serif" font-size="22">Nitrate</text><path d="M1135,1486.5H1185" stroke="#34a96a" stroke-width="4" stroke-linecap="round"/><text x="1191" y="1494.3" font-family="Liberation Serif" font-size="22">Small organic mol</text><clipPath id="clF"><rect x="82.9" y="2036.5" width="453.5" height="376.6999999999998"/></clipPath><g clip-path="url(#clF)"><path d="M120.0,2410.2L122.9,2404.7L131.0,2410.5L134.2,2406.6L148.2,2410.5L157.7,2411.5L161.6,2408.0L168.3,2406.1L183.5,2412.1L221.1,2411.9L288.5,2413.2L298.0,2408.2L314.6,2402.0L330.1,2411.2L339.5,2411.9L341.0,2413.1L353.3,2394.9L354.0,2389.8L364.5,2412.1L369.2,2388.7L369.9,2413.1L380.8,2413.0L384.4,2389.5L390.2,2411.7L398.9,2413.1L408.3,2405.2L411.1,2412.3L414.1,2402.6L417.0,2408.7L419.8,2411.3L427.1,2393.2L427.8,2409.2L433.6,2388.2L435.1,2411.5L437.2,2411.0L440.1,2413.0L442.2,2404.0L443.8,2408.0L445.9,2404.8L448.8,2412.6L453.2,2412.3L456.5,2389.0L458.9,2390.2L469.0,2387.6L480.9,2405.0L483.5,2412.9" fill="none" stroke="#3cb043" stroke-width="0.9" opacity="0.85"/><rect x="114.9" y="2405.1" width="10.2" height="10.2" fill="#008a00"/><rect x="117.8" y="2399.6" width="10.2" height="10.2" fill="#008a00"/><rect x="125.9" y="2405.4" width="10.2" height="10.2" fill="#008a00"/><rect x="129.1" y="2401.5" width="10.2" height="10.2" fill="#008a00"/><rect x="143.1" y="2405.4" width="10.2" height="10.2" fill="#008a00"/><rect x="152.6" y="2406.4" width="10.2" height="10.2" fill="#008a00"/><rect x="156.5" y="2402.9" width="10.2" height="10.2" fill="#008a00"/><rect x="163.2" y="2401.0" width="10.2" height="10.2" fill="#008a00"/><rect x="178.4" y="2407.0" width="10.2" height="10.2" fill="#008a00"/><rect x="216.0" y="2406.8" width="10.2" height="10.2" fill="#008a00"/><rect x="283.4" y="2408.1" width="10.2" height="10.2" fill="#008a00"/><rect x="292.9" y="2403.1" width="10.2" height="10.2" fill="#008a00"/><rect x="309.5" y="2396.9" width="10.2" height="10.2" fill="#008a00"/><rect x="325.0" y="2406.1" width="10.2" height="10.2" fill="#008a00"/><rect x="334.4" y="2406.8" width="10.2" height="10.2" fill="#008a00"/><rect x="335.9" y="2408.0" width="10.2" height="10.2" fill="#008a00"/><rect x="348.2" y="2389.8" width="10.2" height="10.2" fill="#008a00"/><rect x="348.9" y="2384.7" width="10.2" height="10.2" fill="#008a00"/><rect x="359.4" y="2407.0" width="10.2" height="10.2" fill="#008a00"/><rect x="364.1" y="2383.6" width="10.2" height="10.2" fill="#008a00"/><rect x="364.8" y="2408.0" width="10.2" height="10.2" fill="#008a00"/><rect x="375.7" y="2407.9" width="10.2" height="10.2" fill="#008a00"/><rect x="379.3" y="2384.4" width="10.2" height="10.2" fill="#008a00"/><rect x="385.1" y="2406.6" width="10.2" height="10.2" fill="#008a00"/><rect x="393.8" y="2408.0" width="10.2" height="10.2" fill="#008a00"/><rect x="403.2" y="2400.1" width="10.2" height="10.2" fill="#008a00"/><rect x="406.0" y="2407.2" width="10.2" height="10.2" fill="#008a00"/><rect x="409.0" y="2397.5" width="10.2" height="10.2" fill="#008a00"/><rect x="411.9" y="2403.6" width="10.2" height="10.2" fill="#008a00"/><rect x="414.7" y="2406.2" width="10.2" height="10.2" fill="#008a00"/><rect x="422.0" y="2388.1" width="10.2" height="10.2" fill="#008a00"/><rect x="422.7" y="2404.1" width="10.2" height="10.2" fill="#008a00"/><rect x="428.5" y="2383.1" width="10.2" height="10.2" fill="#008a00"/><rect x="430.0" y="2406.4" width="10.2" height="10.2" fill="#008a00"/><rect x="432.1" y="2405.9" width="10.2" height="10.2" fill="#008a00"/><rect x="435.0" y="2407.9" width="10.2" height="10.2" fill="#008a00"/><rect x="437.1" y="2398.9" width="10.2" height="10.2" fill="#008a00"/><rect x="438.7" y="2402.9" width="10.2" height="10.2" fill="#008a00"/><rect x="440.8" y="2399.7" width="10.2" height="10.2" fill="#008a00"/><rect x="443.7" y="2407.5" width="10.2" height="10.2" fill="#008a00"/><rect x="448.1" y="2407.2" width="10.2" height="10.2" fill="#008a00"/><rect x="451.4" y="2383.9" width="10.2" height="10.2" fill="#008a00"/><rect x="453.8" y="2385.1" width="10.2" height="10.2" fill="#008a00"/><rect x="463.9" y="2382.5" width="10.2" height="10.2" fill="#008a00"/><rect x="475.8" y="2399.9" width="10.2" height="10.2" fill="#008a00"/><rect x="478.4" y="2407.8" width="10.2" height="10.2" fill="#008a00"/><path d="M120.0,2399.7L127.8,2406.0L130.5,2361.5L133.3,2403.3L148.3,2389.7L155.2,2412.8L157.7,2412.4L161.5,2376.5L175.7,2400.9L176.1,2413.2L183.5,2410.3L216.5,2412.7L297.3,2343.9L297.6,2334.0L299.2,2389.3L302.2,2256.9L312.1,2246.9L313.7,2349.3L329.7,2118.7L330.0,2135.0L330.9,2265.3L335.8,2312.6L339.2,2118.7L339.6,2217.9L345.0,2342.4L354.0,2402.1L358.4,2182.8L358.7,2129.3L359.1,2320.7L364.1,2269.8L364.1,2292.8L367.6,2148.1L369.1,2118.7L372.5,2351.5L379.8,2115.3L383.2,2313.4L388.5,2209.8L390.0,2326.3L397.7,2281.3L404.8,2097.7L407.6,2311.1L410.2,2115.1L410.6,2088.6L410.6,2252.6L411.1,2362.4L414.9,2102.9L419.8,2303.9L422.9,2230.1L422.9,2279.0L423.6,2112.5L424.1,2097.7L425.2,2078.5L425.2,2139.7L427.1,2217.9L430.7,2372.9L432.3,2119.7L434.8,2193.0L435.8,2185.8L436.9,2245.4L440.1,2221.0L440.9,2236.2L441.2,2256.9L441.5,2122.5L442.4,2071.6L448.8,2311.5L450.0,2154.2L451.9,2272.1L456.5,2084.6L456.5,2267.5L458.2,2356.0L470.2,2220.2" fill="none" stroke="#5cf05c" stroke-width="0.9" opacity="0.85"/><circle cx="120.0" cy="2399.7" r="5.6" fill="#3af03a"/><circle cx="127.8" cy="2406.0" r="5.6" fill="#3af03a"/><circle cx="130.5" cy="2361.5" r="5.6" fill="#3af03a"/><circle cx="133.3" cy="2403.3" r="5.6" fill="#3af03a"/><circle cx="148.3" cy="2389.7" r="5.6" fill="#3af03a"/><circle cx="155.2" cy="2412.8" r="5.6" fill="#3af03a"/><circle cx="157.7" cy="2412.4" r="5.6" fill="#3af03a"/><circle cx="161.5" cy="2376.5" r="5.6" fill="#3af03a"/><circle cx="175.7" cy="2400.9" r="5.6" fill="#3af03a"/><circle cx="176.1" cy="2413.2" r="5.6" fill="#3af03a"/><circle cx="183.5" cy="2410.3" r="5.6" fill="#3af03a"/><circle cx="216.5" cy="2412.7" r="5.6" fill="#3af03a"/><circle cx="297.3" cy="2343.9" r="5.6" fill="#3af03a"/><circle cx="297.6" cy="2334.0" r="5.6" fill="#3af03a"/><circle cx="299.2" cy="2389.3" r="5.6" fill="#3af03a"/><circle cx="302.2" cy="2256.9" r="5.6" fill="#3af03a"/><circle cx="312.1" cy="2246.9" r="5.6" fill="#3af03a"/><circle cx="313.7" cy="2349.3" r="5.6" fill="#3af03a"/><circle cx="329.7" cy="2118.7" r="5.6" fill="#3af03a"/><circle cx="330.0" cy="2135.0" r="5.6" fill="#3af03a"/><circle cx="330.9" cy="2265.3" r="5.6" fill="#3af03a"/><circle cx="335.8" cy="2312.6" r="5.6" fill="#3af03a"/><circle cx="339.2" cy="2118.7" r="5.6" fill="#3af03a"/><circle cx="339.6" cy="2217.9" r="5.6" fill="#3af03a"/><circle cx="345.0" cy="2342.4" r="5.6" fill="#3af03a"/><circle cx="354.0" cy="2402.1" r="5.6" fill="#3af03a"/><circle cx="358.4" cy="2182.8" r="5.6" fill="#3af03a"/><circle cx="358.7" cy="2129.3" r="5.6" fill="#3af03a"/><circle cx="359.1" cy="2320.7" r="5.6" fill="#3af03a"/><circle cx="364.1" cy="2269.8" r="5.6" fill="#3af03a"/><circle cx="364.1" cy="2292.8" r="5.6" fill="#3af03a"/><circle cx="367.6" cy="2148.1" r="5.6" fill="#3af03a"/><circle cx="369.1" cy="2118.7" r="5.6" fill="#3af03a"/><circle cx="372.5" cy="2351.5" r="5.6" fill="#3af03a"/><circle cx="379.8" cy="2115.3" r="5.6" fill="#3af03a"/><circle cx="383.2" cy="2313.4" r="5.6" fill="#3af03a"/><circle cx="388.5" cy="2209.8" r="5.6" fill="#3af03a"/><circle cx="390.0" cy="2326.3" r="5.6" fill="#3af03a"/><circle cx="397.7" cy="2281.3" r="5.6" fill="#3af03a"/><circle cx="404.8" cy="2097.7" r="5.6" fill="#3af03a"/><circle cx="407.6" cy="2311.1" r="5.6" fill="#3af03a"/><circle cx="410.2" cy="2115.1" r="5.6" fill="#3af03a"/><circle cx="410.6" cy="2088.6" r="5.6" fill="#3af03a"/><circle cx="410.6" cy="2252.6" r="5.6" fill="#3af03a"/><circle cx="411.1" cy="2362.4" r="5.6" fill="#3af03a"/><circle cx="414.9" cy="2102.9" r="5.6" fill="#3af03a"/><circle cx="419.8" cy="2303.9" r="5.6" fill="#3af03a"/><circle cx="422.9" cy="2230.1" r="5.6" fill="#3af03a"/><circle cx="422.9" cy="2279.0" r="5.6" fill="#3af03a"/><circle cx="423.6" cy="2112.5" r="5.6" fill="#3af03a"/><circle cx="424.1" cy="2097.7" r="5.6" fill="#3af03a"/><circle cx="425.2" cy="2078.5" r="5.6" fill="#3af03a"/><circle cx="425.2" cy="2139.7" r="5.6" fill="#3af03a"/><circle cx="427.1" cy="2217.9" r="5.6" fill="#3af03a"/><circle cx="430.7" cy="2372.9" r="5.6" fill="#3af03a"/><circle cx="432.3" cy="2119.7" r="5.6" fill="#3af03a"/><circle cx="434.8" cy="2193.0" r="5.6" fill="#3af03a"/><circle cx="435.8" cy="2185.8" r="5.6" fill="#3af03a"/><circle cx="436.9" cy="2245.4" r="5.6" fill="#3af03a"/><circle cx="440.1" cy="2221.0" r="5.6" fill="#3af03a"/><circle cx="440.9" cy="2236.2" r="5.6" fill="#3af03a"/><circle cx="441.2" cy="2256.9" r="5.6" fill="#3af03a"/><circle cx="441.5" cy="2122.5" r="5.6" fill="#3af03a"/><circle cx="442.4" cy="2071.6" r="5.6" fill="#3af03a"/><circle cx="448.8" cy="2311.5" r="5.6" fill="#3af03a"/><circle cx="450.0" cy="2154.2" r="5.6" fill="#3af03a"/><circle cx="451.9" cy="2272.1" r="5.6" fill="#3af03a"/><circle cx="456.5" cy="2084.6" r="5.6" fill="#3af03a"/><circle cx="456.5" cy="2267.5" r="5.6" fill="#3af03a"/><circle cx="458.2" cy="2356.0" r="5.6" fill="#3af03a"/><circle cx="470.2" cy="2220.2" r="5.6" fill="#3af03a"/><path d="M140.4,2412.0L155.2,2411.7L167.8,2411.2L176.1,2411.1L183.5,2411.9L221.1,2411.4L302.7,2413.2L312.9,2408.2L314.6,2412.9L337.3,2408.3L339.5,2411.2L354.0,2409.5L359.1,2413.0L373.5,2412.9L384.4,2412.7L406.1,2405.5L411.9,2413.2L417.0,2407.7L423.5,2406.3L424.2,2413.0L427.8,2405.7L430.7,2413.0L431.4,2408.9L442.2,2410.7L443.8,2413.2L447.3,2412.4L448.8,2407.9L454.6,2406.3L458.9,2403.7L471.9,2410.9" fill="none" stroke="#c8f08a" stroke-width="0.9" opacity="0.85"/><path d="M140.4,2405.4L146.5,2415.9L134.3,2415.9Z" fill="#b6e66a"/><path d="M155.2,2405.1L161.3,2415.6L149.1,2415.6Z" fill="#b6e66a"/><path d="M167.8,2404.6L173.9,2415.1L161.7,2415.1Z" fill="#b6e66a"/><path d="M176.1,2404.5L182.2,2415.1L170.0,2415.1Z" fill="#b6e66a"/><path d="M183.5,2405.3L189.6,2415.8L177.4,2415.8Z" fill="#b6e66a"/><path d="M221.1,2404.8L227.2,2415.3L215.0,2415.3Z" fill="#b6e66a"/><path d="M302.7,2406.6L308.8,2417.1L296.6,2417.1Z" fill="#b6e66a"/><path d="M312.9,2401.6L319.0,2412.1L306.8,2412.1Z" fill="#b6e66a"/><path d="M314.6,2406.3L320.7,2416.8L308.5,2416.8Z" fill="#b6e66a"/><path d="M337.3,2401.7L343.4,2412.3L331.2,2412.3Z" fill="#b6e66a"/><path d="M339.5,2404.6L345.6,2415.1L333.4,2415.1Z" fill="#b6e66a"/><path d="M354.0,2402.9L360.1,2413.4L347.9,2413.4Z" fill="#b6e66a"/><path d="M359.1,2406.4L365.2,2416.9L353.0,2416.9Z" fill="#b6e66a"/><path d="M373.5,2406.3L379.6,2416.8L367.4,2416.8Z" fill="#b6e66a"/><path d="M384.4,2406.1L390.5,2416.6L378.3,2416.6Z" fill="#b6e66a"/><path d="M406.1,2398.9L412.2,2409.4L400.0,2409.4Z" fill="#b6e66a"/><path d="M411.9,2406.6L418.0,2417.1L405.8,2417.1Z" fill="#b6e66a"/><path d="M417.0,2401.1L423.1,2411.6L410.9,2411.6Z" fill="#b6e66a"/><path d="M423.5,2399.7L429.6,2410.3L417.4,2410.3Z" fill="#b6e66a"/><path d="M424.2,2406.4L430.3,2416.9L418.1,2416.9Z" fill="#b6e66a"/><path d="M427.8,2399.1L433.9,2409.6L421.7,2409.6Z" fill="#b6e66a"/><path d="M430.7,2406.4L436.8,2416.9L424.6,2416.9Z" fill="#b6e66a"/><path d="M431.4,2402.3L437.5,2412.8L425.3,2412.8Z" fill="#b6e66a"/><path d="M442.2,2404.1L448.3,2414.6L436.1,2414.6Z" fill="#b6e66a"/><path d="M443.8,2406.6L449.9,2417.1L437.7,2417.1Z" fill="#b6e66a"/><path d="M447.3,2405.8L453.4,2416.3L441.2,2416.3Z" fill="#b6e66a"/><path d="M448.8,2401.3L454.9,2411.8L442.7,2411.8Z" fill="#b6e66a"/><path d="M454.6,2399.7L460.7,2410.3L448.5,2410.3Z" fill="#b6e66a"/><path d="M458.9,2397.1L465.0,2407.6L452.8,2407.6Z" fill="#b6e66a"/><path d="M471.9,2404.3L478.0,2414.9L465.8,2414.9Z" fill="#b6e66a"/><path d="M298.0,2396.7L302.2,2362.2L302.5,2367.1L330.5,2318.0L331.6,2391.5L333.0,2386.6L335.8,2339.3L345.3,2371.8L358.0,2359.2L364.8,2370.9L369.9,2412.9L372.8,2397.7L380.8,2413.2L389.5,2380.5L390.2,2407.5L406.1,2412.1L419.8,2367.2L422.9,2351.5L423.5,2410.7L427.1,2386.1L435.1,2405.8L440.1,2376.2L441.2,2339.3L447.3,2398.5L451.7,2365.2L454.6,2380.4L458.0,2357.7L470.2,2316.4L480.9,2376.0L483.5,2388.8" fill="none" stroke="#3aaa6a" stroke-width="0.9" opacity="0.85" stroke-dasharray="3,1.5"/><path d="M298.0,2403.3L304.1,2392.8L291.9,2392.8Z" fill="#36a86a"/><path d="M302.2,2368.8L308.3,2358.3L296.1,2358.3Z" fill="#36a86a"/><path d="M302.5,2373.7L308.6,2363.2L296.4,2363.2Z" fill="#36a86a"/><path d="M330.5,2324.6L336.6,2314.1L324.4,2314.1Z" fill="#36a86a"/><path d="M331.6,2398.1L337.7,2387.6L325.5,2387.6Z" fill="#36a86a"/><path d="M333.0,2393.2L339.1,2382.7L326.9,2382.7Z" fill="#36a86a"/><path d="M335.8,2345.9L341.9,2335.4L329.7,2335.4Z" fill="#36a86a"/><path d="M345.3,2378.4L351.4,2367.9L339.2,2367.9Z" fill="#36a86a"/><path d="M358.0,2365.8L364.1,2355.3L351.9,2355.3Z" fill="#36a86a"/><path d="M364.8,2377.5L370.9,2367.0L358.7,2367.0Z" fill="#36a86a"/><path d="M369.9,2419.5L376.0,2408.9L363.8,2408.9Z" fill="#36a86a"/><path d="M372.8,2404.3L378.9,2393.8L366.7,2393.8Z" fill="#36a86a"/><path d="M380.8,2419.8L386.9,2409.2L374.7,2409.2Z" fill="#36a86a"/><path d="M389.5,2387.1L395.6,2376.6L383.4,2376.6Z" fill="#36a86a"/><path d="M390.2,2414.1L396.3,2403.5L384.1,2403.5Z" fill="#36a86a"/><path d="M406.1,2418.7L412.2,2408.2L400.0,2408.2Z" fill="#36a86a"/><path d="M419.8,2373.8L425.9,2363.3L413.7,2363.3Z" fill="#36a86a"/><path d="M422.9,2358.1L429.0,2347.6L416.8,2347.6Z" fill="#36a86a"/><path d="M423.5,2417.3L429.6,2406.8L417.4,2406.8Z" fill="#36a86a"/><path d="M427.1,2392.7L433.2,2382.2L421.0,2382.2Z" fill="#36a86a"/><path d="M435.1,2412.4L441.2,2401.9L429.0,2401.9Z" fill="#36a86a"/><path d="M440.1,2382.8L446.2,2372.3L434.0,2372.3Z" fill="#36a86a"/><path d="M441.2,2345.9L447.3,2335.4L435.1,2335.4Z" fill="#36a86a"/><path d="M447.3,2405.1L453.4,2394.6L441.2,2394.6Z" fill="#36a86a"/><path d="M451.7,2371.8L457.8,2361.3L445.6,2361.3Z" fill="#36a86a"/><path d="M454.6,2387.0L460.7,2376.5L448.5,2376.5Z" fill="#36a86a"/><path d="M458.0,2364.3L464.1,2353.8L451.9,2353.8Z" fill="#36a86a"/><path d="M470.2,2323.0L476.3,2312.5L464.1,2312.5Z" fill="#36a86a"/><path d="M480.9,2382.6L487.0,2372.1L474.8,2372.1Z" fill="#36a86a"/><path d="M483.5,2395.4L489.6,2384.9L477.4,2384.9Z" fill="#36a86a"/><path d="M120.0,2395.3L121.1,2397.2L122.0,2390.6L122.9,2359.6L125.8,2372.8L127.8,2372.5L131.4,2376.5L131.4,2403.8L133.3,2397.7L137.0,2380.3L140.4,2399.0L141.7,2384.0L155.8,2370.9L156.8,2383.1L161.6,2402.2L169.0,2376.5L169.1,2392.0L176.5,2385.9L183.1,2372.8L216.0,2376.5L288.5,2386.6L298.0,2411.6L299.2,2392.5L302.7,2407.7L313.7,2365.3L313.8,2363.4L330.1,2389.8L331.6,2401.8L333.0,2411.5L337.3,2407.0L339.5,2400.9L341.0,2411.4L364.1,2346.2L372.8,2389.2L384.4,2408.9L390.2,2369.6L397.7,2382.1L408.3,2410.7L411.9,2412.8L417.0,2385.9L419.8,2406.1L424.2,2411.4L431.4,2402.0L437.2,2413.0L440.1,2413.1L444.4,2411.7L445.9,2382.3L451.0,2413.0L453.2,2387.6L454.6,2403.7L458.9,2397.4L470.5,2391.7L483.5,2404.2" fill="none" stroke="#b48ae4" stroke-width="0.9" opacity="0.85"/><path d="M120.0,2388.7L126.6,2395.3L120.0,2401.9L113.4,2395.3Z" fill="#a877dc"/><path d="M121.1,2390.6L127.7,2397.2L121.1,2403.8L114.5,2397.2Z" fill="#a877dc"/><path d="M122.0,2384.0L128.6,2390.6L122.0,2397.2L115.4,2390.6Z" fill="#a877dc"/><path d="M122.9,2353.0L129.5,2359.6L122.9,2366.2L116.3,2359.6Z" fill="#a877dc"/><path d="M125.8,2366.2L132.4,2372.8L125.8,2379.4L119.2,2372.8Z" fill="#a877dc"/><path d="M127.8,2365.9L134.4,2372.5L127.8,2379.1L121.2,2372.5Z" fill="#a877dc"/><path d="M131.4,2369.9L138.0,2376.5L131.4,2383.1L124.8,2376.5Z" fill="#a877dc"/><path d="M131.4,2397.2L138.0,2403.8L131.4,2410.4L124.8,2403.8Z" fill="#a877dc"/><path d="M133.3,2391.1L139.9,2397.7L133.3,2404.3L126.7,2397.7Z" fill="#a877dc"/><path d="M137.0,2373.7L143.6,2380.3L137.0,2386.9L130.4,2380.3Z" fill="#a877dc"/><path d="M140.4,2392.4L147.0,2399.0L140.4,2405.6L133.8,2399.0Z" fill="#a877dc"/><path d="M141.7,2377.4L148.3,2384.0L141.7,2390.6L135.1,2384.0Z" fill="#a877dc"/><path d="M155.8,2364.3L162.4,2370.9L155.8,2377.5L149.2,2370.9Z" fill="#a877dc"/><path d="M156.8,2376.5L163.4,2383.1L156.8,2389.7L150.2,2383.1Z" fill="#a877dc"/><path d="M161.6,2395.6L168.2,2402.2L161.6,2408.8L155.0,2402.2Z" fill="#a877dc"/><path d="M169.0,2369.9L175.6,2376.5L169.0,2383.1L162.4,2376.5Z" fill="#a877dc"/><path d="M169.1,2385.4L175.7,2392.0L169.1,2398.6L162.5,2392.0Z" fill="#a877dc"/><path d="M176.5,2379.3L183.1,2385.9L176.5,2392.5L169.9,2385.9Z" fill="#a877dc"/><path d="M183.1,2366.2L189.7,2372.8L183.1,2379.4L176.5,2372.8Z" fill="#a877dc"/><path d="M216.0,2369.9L222.6,2376.5L216.0,2383.1L209.4,2376.5Z" fill="#a877dc"/><path d="M288.5,2380.0L295.1,2386.6L288.5,2393.2L281.9,2386.6Z" fill="#a877dc"/><path d="M298.0,2405.0L304.6,2411.6L298.0,2418.2L291.4,2411.6Z" fill="#a877dc"/><path d="M299.2,2385.9L305.8,2392.5L299.2,2399.1L292.6,2392.5Z" fill="#a877dc"/><path d="M302.7,2401.1L309.3,2407.7L302.7,2414.3L296.1,2407.7Z" fill="#a877dc"/><path d="M313.7,2358.7L320.3,2365.3L313.7,2371.9L307.1,2365.3Z" fill="#a877dc"/><path d="M313.8,2356.8L320.4,2363.4L313.8,2370.0L307.2,2363.4Z" fill="#a877dc"/><path d="M330.1,2383.2L336.7,2389.8L330.1,2396.4L323.5,2389.8Z" fill="#a877dc"/><path d="M331.6,2395.2L338.2,2401.8L331.6,2408.4L325.0,2401.8Z" fill="#a877dc"/><path d="M333.0,2404.9L339.6,2411.5L333.0,2418.1L326.4,2411.5Z" fill="#a877dc"/><path d="M337.3,2400.4L343.9,2407.0L337.3,2413.6L330.7,2407.0Z" fill="#a877dc"/><path d="M339.5,2394.3L346.1,2400.9L339.5,2407.5L332.9,2400.9Z" fill="#a877dc"/><path d="M341.0,2404.8L347.6,2411.4L341.0,2418.0L334.4,2411.4Z" fill="#a877dc"/><path d="M364.1,2339.6L370.7,2346.2L364.1,2352.8L357.5,2346.2Z" fill="#a877dc"/><path d="M372.8,2382.6L379.4,2389.2L372.8,2395.8L366.2,2389.2Z" fill="#a877dc"/><path d="M384.4,2402.3L391.0,2408.9L384.4,2415.5L377.8,2408.9Z" fill="#a877dc"/><path d="M390.2,2363.0L396.8,2369.6L390.2,2376.2L383.6,2369.6Z" fill="#a877dc"/><path d="M397.7,2375.5L404.3,2382.1L397.7,2388.7L391.1,2382.1Z" fill="#a877dc"/><path d="M408.3,2404.1L414.9,2410.7L408.3,2417.3L401.7,2410.7Z" fill="#a877dc"/><path d="M411.9,2406.2L418.5,2412.8L411.9,2419.4L405.3,2412.8Z" fill="#a877dc"/><path d="M417.0,2379.3L423.6,2385.9L417.0,2392.5L410.4,2385.9Z" fill="#a877dc"/><path d="M419.8,2399.5L426.4,2406.1L419.8,2412.7L413.2,2406.1Z" fill="#a877dc"/><path d="M424.2,2404.8L430.8,2411.4L424.2,2418.0L417.6,2411.4Z" fill="#a877dc"/><path d="M431.4,2395.4L438.0,2402.0L431.4,2408.6L424.8,2402.0Z" fill="#a877dc"/><path d="M437.2,2406.4L443.8,2413.0L437.2,2419.6L430.6,2413.0Z" fill="#a877dc"/><path d="M440.1,2406.5L446.7,2413.1L440.1,2419.7L433.5,2413.1Z" fill="#a877dc"/><path d="M444.4,2405.1L451.0,2411.7L444.4,2418.3L437.8,2411.7Z" fill="#a877dc"/><path d="M445.9,2375.7L452.5,2382.3L445.9,2388.9L439.3,2382.3Z" fill="#a877dc"/><path d="M451.0,2406.4L457.6,2413.0L451.0,2419.6L444.4,2413.0Z" fill="#a877dc"/><path d="M453.2,2381.0L459.8,2387.6L453.2,2394.2L446.6,2387.6Z" fill="#a877dc"/><path d="M454.6,2397.1L461.2,2403.7L454.6,2410.3L448.0,2403.7Z" fill="#a877dc"/><path d="M458.9,2390.8L465.5,2397.4L458.9,2404.0L452.3,2397.4Z" fill="#a877dc"/><path d="M470.5,2385.1L477.1,2391.7L470.5,2398.3L463.9,2391.7Z" fill="#a877dc"/><path d="M483.5,2397.6L490.1,2404.2L483.5,2410.8L476.9,2404.2Z" fill="#a877dc"/><path d="M131.0,2413.0L140.4,2407.4L168.0,2390.0L176.0,2395.0L262.2,2380.9L287.4,2384.0L296.8,2232.7L296.9,2233.2L298.0,2358.7L311.0,2275.0L312.8,2206.4L312.9,2372.9L330.5,2360.7L331.6,2360.4L335.1,2168.3L345.3,2378.9L353.3,2405.5L357.2,2356.9L359.1,2404.9L363.3,2172.9L363.3,2299.6L363.3,2330.9L372.8,2354.6L373.2,2186.6L384.4,2384.6L387.7,2285.9L388.5,2227.8L397.7,2363.0L406.1,2347.6L407.6,2228.6L409.9,2361.5L419.0,2204.2L423.5,2388.3L427.1,2402.6L427.8,2410.7L430.7,2412.6L431.4,2359.4L436.0,2358.0L445.9,2389.8L448.8,2356.4L452.0,2368.0L453.2,2398.6L454.6,2397.1L458.9,2354.5L470.5,2395.0L483.5,2407.8" fill="none" stroke="#e060f0" stroke-width="0.9" opacity="0.85"/><path d="M124.4,2413.0L134.9,2406.9L134.9,2419.1Z" fill="#dc34f0"/><path d="M133.8,2407.4L144.3,2401.3L144.3,2413.5Z" fill="#dc34f0"/><path d="M161.4,2390.0L171.9,2383.9L171.9,2396.1Z" fill="#dc34f0"/><path d="M169.4,2395.0L179.9,2388.9L179.9,2401.1Z" fill="#dc34f0"/><path d="M255.6,2380.9L266.1,2374.8L266.1,2387.0Z" fill="#dc34f0"/><path d="M280.8,2384.0L291.3,2377.9L291.3,2390.1Z" fill="#dc34f0"/><path d="M290.2,2232.7L300.7,2226.6L300.7,2238.8Z" fill="#dc34f0"/><path d="M290.3,2233.2L300.8,2227.1L300.8,2239.3Z" fill="#dc34f0"/><path d="M291.4,2358.7L301.9,2352.6L301.9,2364.8Z" fill="#dc34f0"/><path d="M304.4,2275.0L314.9,2268.9L314.9,2281.1Z" fill="#dc34f0"/><path d="M306.2,2206.4L316.7,2200.3L316.7,2212.5Z" fill="#dc34f0"/><path d="M306.3,2372.9L316.8,2366.8L316.8,2379.0Z" fill="#dc34f0"/><path d="M323.9,2360.7L334.4,2354.6L334.4,2366.8Z" fill="#dc34f0"/><path d="M325.0,2360.4L335.5,2354.3L335.5,2366.5Z" fill="#dc34f0"/><path d="M328.5,2168.3L339.0,2162.2L339.0,2174.4Z" fill="#dc34f0"/><path d="M338.7,2378.9L349.3,2372.8L349.3,2385.0Z" fill="#dc34f0"/><path d="M346.7,2405.5L357.2,2399.4L357.2,2411.6Z" fill="#dc34f0"/><path d="M350.6,2356.9L361.1,2350.8L361.1,2363.0Z" fill="#dc34f0"/><path d="M352.5,2404.9L363.0,2398.8L363.0,2411.0Z" fill="#dc34f0"/><path d="M356.7,2172.9L367.2,2166.8L367.2,2179.0Z" fill="#dc34f0"/><path d="M356.7,2299.6L367.2,2293.5L367.2,2305.7Z" fill="#dc34f0"/><path d="M356.7,2330.9L367.2,2324.8L367.2,2337.0Z" fill="#dc34f0"/><path d="M366.2,2354.6L376.7,2348.5L376.7,2360.7Z" fill="#dc34f0"/><path d="M366.6,2186.6L377.1,2180.5L377.1,2192.7Z" fill="#dc34f0"/><path d="M377.8,2384.6L388.3,2378.5L388.3,2390.7Z" fill="#dc34f0"/><path d="M381.1,2285.9L391.6,2279.8L391.6,2292.0Z" fill="#dc34f0"/><path d="M381.9,2227.8L392.4,2221.7L392.4,2233.9Z" fill="#dc34f0"/><path d="M391.1,2363.0L401.6,2356.9L401.6,2369.1Z" fill="#dc34f0"/><path d="M399.5,2347.6L410.1,2341.5L410.1,2353.7Z" fill="#dc34f0"/><path d="M401.0,2228.6L411.5,2222.5L411.5,2234.7Z" fill="#dc34f0"/><path d="M403.3,2361.5L413.8,2355.4L413.8,2367.6Z" fill="#dc34f0"/><path d="M412.4,2204.2L422.9,2198.1L422.9,2210.3Z" fill="#dc34f0"/><path d="M416.9,2388.3L427.4,2382.2L427.4,2394.4Z" fill="#dc34f0"/><path d="M420.5,2402.6L431.0,2396.5L431.0,2408.7Z" fill="#dc34f0"/><path d="M421.2,2410.7L431.7,2404.6L431.7,2416.8Z" fill="#dc34f0"/><path d="M424.1,2412.6L434.7,2406.5L434.7,2418.7Z" fill="#dc34f0"/><path d="M424.8,2359.4L435.3,2353.3L435.3,2365.5Z" fill="#dc34f0"/><path d="M429.4,2358.0L439.9,2351.9L439.9,2364.1Z" fill="#dc34f0"/><path d="M439.3,2389.8L449.8,2383.7L449.8,2395.9Z" fill="#dc34f0"/><path d="M442.2,2356.4L452.8,2350.3L452.8,2362.5Z" fill="#dc34f0"/><path d="M445.4,2368.0L455.9,2361.9L455.9,2374.1Z" fill="#dc34f0"/><path d="M446.6,2398.6L457.1,2392.5L457.1,2404.7Z" fill="#dc34f0"/><path d="M448.0,2397.1L458.5,2391.0L458.5,2403.2Z" fill="#dc34f0"/><path d="M452.3,2354.5L462.9,2348.4L462.9,2360.6Z" fill="#dc34f0"/><path d="M463.9,2395.0L474.4,2388.9L474.4,2401.1Z" fill="#dc34f0"/><path d="M476.9,2407.8L487.5,2401.7L487.5,2413.9Z" fill="#dc34f0"/><path d="M131.0,2411.3L133.3,2413.2L140.4,2413.2L148.2,2411.1L155.2,2410.3L157.7,2409.6L167.8,2410.2L168.3,2412.4L175.7,2412.2L216.5,2409.7L262.1,2406.6L287.4,2405.7L299.2,2407.5L302.7,2412.6L312.9,2409.1L314.6,2410.3L331.6,2412.2L336.7,2404.4L353.3,2413.0L364.8,2412.1L384.4,2412.3L406.1,2413.1L408.3,2410.6L411.9,2408.9L414.1,2413.1L424.2,2409.9L427.1,2411.5L431.4,2413.0L437.2,2410.6L440.1,2403.6L441.6,2407.0L443.8,2408.8L447.3,2411.2L448.8,2402.0L451.0,2413.1L453.2,2406.3L454.6,2404.4L458.2,2412.5L470.5,2411.9" fill="none" stroke="#a0b0f4" stroke-width="0.9" opacity="0.85"/><path d="M137.6,2411.3L127.1,2405.2L127.1,2417.4Z" fill="#8a9cf2"/><path d="M139.9,2413.2L129.4,2407.1L129.4,2419.3Z" fill="#8a9cf2"/><path d="M147.0,2413.2L136.5,2407.1L136.5,2419.3Z" fill="#8a9cf2"/><path d="M154.8,2411.1L144.3,2405.0L144.3,2417.2Z" fill="#8a9cf2"/><path d="M161.8,2410.3L151.3,2404.2L151.3,2416.4Z" fill="#8a9cf2"/><path d="M164.3,2409.6L153.7,2403.5L153.7,2415.7Z" fill="#8a9cf2"/><path d="M174.4,2410.2L163.9,2404.1L163.9,2416.3Z" fill="#8a9cf2"/><path d="M174.9,2412.4L164.3,2406.3L164.3,2418.5Z" fill="#8a9cf2"/><path d="M182.3,2412.2L171.8,2406.1L171.8,2418.3Z" fill="#8a9cf2"/><path d="M223.1,2409.7L212.5,2403.6L212.5,2415.8Z" fill="#8a9cf2"/><path d="M268.7,2406.6L258.2,2400.5L258.2,2412.7Z" fill="#8a9cf2"/><path d="M294.0,2405.7L283.5,2399.6L283.5,2411.8Z" fill="#8a9cf2"/><path d="M305.8,2407.5L295.3,2401.4L295.3,2413.6Z" fill="#8a9cf2"/><path d="M309.3,2412.6L298.8,2406.5L298.8,2418.7Z" fill="#8a9cf2"/><path d="M319.5,2409.1L309.0,2403.0L309.0,2415.2Z" fill="#8a9cf2"/><path d="M321.2,2410.3L310.7,2404.2L310.7,2416.4Z" fill="#8a9cf2"/><path d="M338.2,2412.2L327.6,2406.1L327.6,2418.3Z" fill="#8a9cf2"/><path d="M343.3,2404.4L332.7,2398.3L332.7,2410.5Z" fill="#8a9cf2"/><path d="M359.9,2413.0L349.3,2406.9L349.3,2419.1Z" fill="#8a9cf2"/><path d="M371.4,2412.1L360.9,2406.0L360.9,2418.2Z" fill="#8a9cf2"/><path d="M391.0,2412.3L380.4,2406.2L380.4,2418.4Z" fill="#8a9cf2"/><path d="M412.7,2413.1L402.2,2407.0L402.2,2419.2Z" fill="#8a9cf2"/><path d="M414.9,2410.6L404.4,2404.5L404.4,2416.7Z" fill="#8a9cf2"/><path d="M418.5,2408.9L408.0,2402.8L408.0,2415.0Z" fill="#8a9cf2"/><path d="M420.7,2413.1L410.1,2407.0L410.1,2419.2Z" fill="#8a9cf2"/><path d="M430.8,2409.9L420.2,2403.8L420.2,2416.0Z" fill="#8a9cf2"/><path d="M433.7,2411.5L423.1,2405.4L423.1,2417.6Z" fill="#8a9cf2"/><path d="M438.0,2413.0L427.5,2406.9L427.5,2419.1Z" fill="#8a9cf2"/><path d="M443.8,2410.6L433.3,2404.5L433.3,2416.7Z" fill="#8a9cf2"/><path d="M446.7,2403.6L436.2,2397.5L436.2,2409.7Z" fill="#8a9cf2"/><path d="M448.2,2407.0L437.7,2400.9L437.7,2413.1Z" fill="#8a9cf2"/><path d="M450.4,2408.8L439.8,2402.7L439.8,2414.9Z" fill="#8a9cf2"/><path d="M453.9,2411.2L443.4,2405.1L443.4,2417.3Z" fill="#8a9cf2"/><path d="M455.4,2402.0L444.9,2395.9L444.9,2408.1Z" fill="#8a9cf2"/><path d="M457.6,2413.1L447.1,2407.0L447.1,2419.2Z" fill="#8a9cf2"/><path d="M459.8,2406.3L449.3,2400.2L449.3,2412.4Z" fill="#8a9cf2"/><path d="M461.2,2404.4L450.7,2398.3L450.7,2410.5Z" fill="#8a9cf2"/><path d="M464.8,2412.5L454.3,2406.4L454.3,2418.6Z" fill="#8a9cf2"/><path d="M477.1,2411.9L466.6,2405.8L466.6,2418.0Z" fill="#8a9cf2"/><path d="M120.0,2413.1L127.8,2410.3L131.0,2413.1L157.7,2409.7L161.6,2412.6L167.8,2408.4L169.1,2412.5L175.7,2412.5L176.1,2412.4L183.5,2411.5L262.1,2384.0L287.4,2399.1L302.7,2392.2L314.6,2413.2L341.0,2402.3L345.7,2363.0L354.0,2413.0L364.8,2398.5L369.2,2392.9L372.8,2411.4L389.5,2409.0L406.1,2402.7L414.1,2388.3L436.5,2406.8L437.2,2393.2L441.6,2412.2L442.2,2406.6L443.8,2378.9L444.4,2409.7L445.9,2397.9L448.8,2413.1L451.0,2400.8L453.2,2412.8L454.6,2411.5L458.2,2394.4L470.5,2412.0L471.9,2412.1" fill="none" stroke="#eebbf4" stroke-width="0.9" opacity="0.85"/><circle cx="120.0" cy="2413.1" r="5.6" fill="#e8a8f0"/><circle cx="127.8" cy="2410.3" r="5.6" fill="#e8a8f0"/><circle cx="131.0" cy="2413.1" r="5.6" fill="#e8a8f0"/><circle cx="157.7" cy="2409.7" r="5.6" fill="#e8a8f0"/><circle cx="161.6" cy="2412.6" r="5.6" fill="#e8a8f0"/><circle cx="167.8" cy="2408.4" r="5.6" fill="#e8a8f0"/><circle cx="169.1" cy="2412.5" r="5.6" fill="#e8a8f0"/><circle cx="175.7" cy="2412.5" r="5.6" fill="#e8a8f0"/><circle cx="176.1" cy="2412.4" r="5.6" fill="#e8a8f0"/><circle cx="183.5" cy="2411.5" r="5.6" fill="#e8a8f0"/><circle cx="262.1" cy="2384.0" r="5.6" fill="#e8a8f0"/><circle cx="287.4" cy="2399.1" r="5.6" fill="#e8a8f0"/><circle cx="302.7" cy="2392.2" r="5.6" fill="#e8a8f0"/><circle cx="314.6" cy="2413.2" r="5.6" fill="#e8a8f0"/><circle cx="341.0" cy="2402.3" r="5.6" fill="#e8a8f0"/><circle cx="345.7" cy="2363.0" r="5.6" fill="#e8a8f0"/><circle cx="354.0" cy="2413.0" r="5.6" fill="#e8a8f0"/><circle cx="364.8" cy="2398.5" r="5.6" fill="#e8a8f0"/><circle cx="369.2" cy="2392.9" r="5.6" fill="#e8a8f0"/><circle cx="372.8" cy="2411.4" r="5.6" fill="#e8a8f0"/><circle cx="389.5" cy="2409.0" r="5.6" fill="#e8a8f0"/><circle cx="406.1" cy="2402.7" r="5.6" fill="#e8a8f0"/><circle cx="414.1" cy="2388.3" r="5.6" fill="#e8a8f0"/><circle cx="436.5" cy="2406.8" r="5.6" fill="#e8a8f0"/><circle cx="437.2" cy="2393.2" r="5.6" fill="#e8a8f0"/><circle cx="441.6" cy="2412.2" r="5.6" fill="#e8a8f0"/><circle cx="442.2" cy="2406.6" r="5.6" fill="#e8a8f0"/><circle cx="443.8" cy="2378.9" r="5.6" fill="#e8a8f0"/><circle cx="444.4" cy="2409.7" r="5.6" fill="#e8a8f0"/><circle cx="445.9" cy="2397.9" r="5.6" fill="#e8a8f0"/><circle cx="448.8" cy="2413.1" r="5.6" fill="#e8a8f0"/><circle cx="451.0" cy="2400.8" r="5.6" fill="#e8a8f0"/><circle cx="453.2" cy="2412.8" r="5.6" fill="#e8a8f0"/><circle cx="454.6" cy="2411.5" r="5.6" fill="#e8a8f0"/><circle cx="458.2" cy="2394.4" r="5.6" fill="#e8a8f0"/><circle cx="470.5" cy="2412.0" r="5.6" fill="#e8a8f0"/><circle cx="471.9" cy="2412.1" r="5.6" fill="#e8a8f0"/><path d="M121.1,2072.0L121.1,2077.6L122.9,2114.3L124.8,2086.1L129.5,2080.4L130.5,2133.1L133.3,2069.1L133.3,2079.5L135.2,2088.9L140.8,2084.2L148.3,2079.5L154.9,2093.6L155.8,2113.3L156.8,2087.0L161.5,2114.3L168.1,2090.8L168.1,2105.8L168.1,2168.8L169.0,2114.3L175.6,2090.8L176.5,2147.2L183.1,2152.8L216.0,2131.2L221.3,2087.0L226.3,2105.8L262.2,2323.5L287.4,2273.1L298.0,2404.4L312.9,2390.2L313.8,2308.8L331.6,2404.5L337.3,2413.1L345.3,2405.1L354.0,2384.6L355.0,2375.0L364.5,2413.2L369.2,2394.7L373.5,2412.5L380.8,2411.2L383.0,2327.0L395.0,2398.0L408.3,2404.9L410.0,2377.0L411.1,2395.9L411.9,2393.5L419.8,2411.1L424.2,2406.5L433.6,2395.0L437.2,2393.3L440.0,2384.0L441.6,2404.6L443.8,2393.0L444.4,2410.4L445.9,2410.5L451.0,2399.4L451.7,2408.7L470.5,2409.1L483.5,2403.9" fill="none" stroke="#ff70b8" stroke-width="0.9" opacity="0.85" stroke-dasharray="3,1.5"/><path d="M121.1,2065.6L122.8,2069.7L127.2,2070.0L123.8,2072.9L124.9,2077.2L121.1,2074.9L117.3,2077.2L118.4,2072.9L115.0,2070.0L119.4,2069.7Z" fill="#ff44a6"/><path d="M121.1,2071.2L122.8,2075.3L127.2,2075.6L123.8,2078.5L124.9,2082.8L121.1,2080.5L117.3,2082.8L118.4,2078.5L115.0,2075.6L119.4,2075.3Z" fill="#ff44a6"/><path d="M122.9,2107.9L124.6,2112.0L129.0,2112.3L125.6,2115.2L126.7,2119.5L122.9,2117.2L119.1,2119.5L120.2,2115.2L116.8,2112.3L121.2,2112.0Z" fill="#ff44a6"/><path d="M124.8,2079.7L126.5,2083.8L130.9,2084.1L127.5,2087.0L128.6,2091.3L124.8,2089.0L121.0,2091.3L122.1,2087.0L118.7,2084.1L123.1,2083.8Z" fill="#ff44a6"/><path d="M129.5,2074.0L131.2,2078.1L135.6,2078.4L132.2,2081.3L133.3,2085.6L129.5,2083.3L125.7,2085.6L126.8,2081.3L123.4,2078.4L127.8,2078.1Z" fill="#ff44a6"/><path d="M130.5,2126.7L132.2,2130.8L136.6,2131.1L133.2,2134.0L134.3,2138.3L130.5,2136.0L126.7,2138.3L127.8,2134.0L124.4,2131.1L128.8,2130.8Z" fill="#ff44a6"/><path d="M133.3,2062.7L135.0,2066.8L139.4,2067.1L136.0,2070.0L137.1,2074.3L133.3,2072.0L129.5,2074.3L130.6,2070.0L127.2,2067.1L131.6,2066.8Z" fill="#ff44a6"/><path d="M133.3,2073.1L135.0,2077.2L139.4,2077.5L136.0,2080.4L137.1,2084.7L133.3,2082.4L129.5,2084.7L130.6,2080.4L127.2,2077.5L131.6,2077.2Z" fill="#ff44a6"/><path d="M135.2,2082.5L136.9,2086.6L141.3,2086.9L137.9,2089.8L139.0,2094.1L135.2,2091.8L131.4,2094.1L132.5,2089.8L129.1,2086.9L133.5,2086.6Z" fill="#ff44a6"/><path d="M140.8,2077.8L142.5,2081.9L146.9,2082.2L143.5,2085.1L144.6,2089.4L140.8,2087.1L137.0,2089.4L138.1,2085.1L134.7,2082.2L139.1,2081.9Z" fill="#ff44a6"/><path d="M148.3,2073.1L150.0,2077.2L154.4,2077.5L151.0,2080.4L152.1,2084.7L148.3,2082.4L144.5,2084.7L145.6,2080.4L142.2,2077.5L146.6,2077.2Z" fill="#ff44a6"/><path d="M154.9,2087.2L156.6,2091.3L161.0,2091.6L157.6,2094.5L158.7,2098.8L154.9,2096.5L151.1,2098.8L152.2,2094.5L148.8,2091.6L153.2,2091.3Z" fill="#ff44a6"/><path d="M155.8,2106.9L157.5,2111.0L161.9,2111.3L158.5,2114.2L159.6,2118.5L155.8,2116.2L152.0,2118.5L153.1,2114.2L149.7,2111.3L154.1,2111.0Z" fill="#ff44a6"/><path d="M156.8,2080.6L158.5,2084.7L162.9,2085.0L159.5,2087.9L160.6,2092.2L156.8,2089.9L153.0,2092.2L154.1,2087.9L150.7,2085.0L155.1,2084.7Z" fill="#ff44a6"/><path d="M161.5,2107.9L163.2,2112.0L167.6,2112.3L164.2,2115.2L165.3,2119.5L161.5,2117.2L157.7,2119.5L158.8,2115.2L155.4,2112.3L159.8,2112.0Z" fill="#ff44a6"/><path d="M168.1,2084.4L169.8,2088.5L174.2,2088.8L170.8,2091.7L171.9,2096.0L168.1,2093.7L164.3,2096.0L165.4,2091.7L162.0,2088.8L166.4,2088.5Z" fill="#ff44a6"/><path d="M168.1,2099.4L169.8,2103.5L174.2,2103.8L170.8,2106.7L171.9,2111.0L168.1,2108.7L164.3,2111.0L165.4,2106.7L162.0,2103.8L166.4,2103.5Z" fill="#ff44a6"/><path d="M168.1,2162.4L169.8,2166.5L174.2,2166.8L170.8,2169.7L171.9,2174.0L168.1,2171.7L164.3,2174.0L165.4,2169.7L162.0,2166.8L166.4,2166.5Z" fill="#ff44a6"/><path d="M169.0,2107.9L170.7,2112.0L175.1,2112.3L171.7,2115.2L172.8,2119.5L169.0,2117.2L165.2,2119.5L166.3,2115.2L162.9,2112.3L167.3,2112.0Z" fill="#ff44a6"/><path d="M175.6,2084.4L177.3,2088.5L181.7,2088.8L178.3,2091.7L179.4,2096.0L175.6,2093.7L171.8,2096.0L172.9,2091.7L169.5,2088.8L173.9,2088.5Z" fill="#ff44a6"/><path d="M176.5,2140.8L178.2,2144.9L182.6,2145.2L179.2,2148.1L180.3,2152.4L176.5,2150.1L172.7,2152.4L173.8,2148.1L170.4,2145.2L174.8,2144.9Z" fill="#ff44a6"/><path d="M183.1,2146.4L184.8,2150.5L189.2,2150.8L185.8,2153.7L186.9,2158.0L183.1,2155.7L179.3,2158.0L180.4,2153.7L177.0,2150.8L181.4,2150.5Z" fill="#ff44a6"/><path d="M216.0,2124.8L217.7,2128.9L222.1,2129.2L218.7,2132.1L219.8,2136.4L216.0,2134.1L212.2,2136.4L213.3,2132.1L209.9,2129.2L214.3,2128.9Z" fill="#ff44a6"/><path d="M221.3,2080.6L223.0,2084.7L227.4,2085.0L224.0,2087.9L225.1,2092.2L221.3,2089.9L217.5,2092.2L218.6,2087.9L215.2,2085.0L219.6,2084.7Z" fill="#ff44a6"/><path d="M226.3,2099.4L228.0,2103.5L232.4,2103.8L229.0,2106.7L230.1,2111.0L226.3,2108.7L222.5,2111.0L223.6,2106.7L220.2,2103.8L224.6,2103.5Z" fill="#ff44a6"/><path d="M262.2,2317.1L263.9,2321.2L268.3,2321.5L264.9,2324.4L266.0,2328.7L262.2,2326.4L258.4,2328.7L259.5,2324.4L256.1,2321.5L260.5,2321.2Z" fill="#ff44a6"/><path d="M287.4,2266.7L289.1,2270.8L293.5,2271.1L290.1,2274.0L291.2,2278.3L287.4,2276.0L283.6,2278.3L284.7,2274.0L281.3,2271.1L285.7,2270.8Z" fill="#ff44a6"/><path d="M298.0,2398.0L299.6,2402.1L304.0,2402.5L300.7,2405.3L301.7,2409.6L298.0,2407.3L294.2,2409.6L295.2,2405.3L291.9,2402.5L296.3,2402.1Z" fill="#ff44a6"/><path d="M312.9,2383.8L314.6,2387.9L319.0,2388.2L315.6,2391.1L316.6,2395.4L312.9,2393.1L309.1,2395.4L310.1,2391.1L306.8,2388.2L311.2,2387.9Z" fill="#ff44a6"/><path d="M313.8,2302.4L315.5,2306.5L319.9,2306.8L316.5,2309.7L317.6,2314.0L313.8,2311.7L310.0,2314.0L311.1,2309.7L307.7,2306.8L312.1,2306.5Z" fill="#ff44a6"/><path d="M331.6,2398.1L333.3,2402.1L337.7,2402.5L334.3,2405.3L335.3,2409.6L331.6,2407.3L327.8,2409.6L328.8,2405.3L325.5,2402.5L329.9,2402.1Z" fill="#ff44a6"/><path d="M337.3,2406.7L339.0,2410.8L343.4,2411.2L340.1,2414.0L341.1,2418.3L337.3,2416.0L333.6,2418.3L334.6,2414.0L331.2,2411.2L335.6,2410.8Z" fill="#ff44a6"/><path d="M345.3,2398.7L347.0,2402.7L351.4,2403.1L348.1,2406.0L349.1,2410.3L345.3,2408.0L341.6,2410.3L342.6,2406.0L339.2,2403.1L343.6,2402.7Z" fill="#ff44a6"/><path d="M354.0,2378.2L355.7,2382.3L360.1,2382.6L356.7,2385.5L357.8,2389.8L354.0,2387.5L350.2,2389.8L351.3,2385.5L347.9,2382.6L352.3,2382.3Z" fill="#ff44a6"/><path d="M355.0,2368.6L356.7,2372.7L361.1,2373.0L357.7,2375.9L358.8,2380.2L355.0,2377.9L351.2,2380.2L352.3,2375.9L348.9,2373.0L353.3,2372.7Z" fill="#ff44a6"/><path d="M364.5,2406.8L366.2,2410.9L370.6,2411.2L367.3,2414.1L368.3,2418.4L364.5,2416.1L360.8,2418.4L361.8,2414.1L358.4,2411.2L362.8,2410.9Z" fill="#ff44a6"/><path d="M369.2,2388.3L370.9,2392.3L375.3,2392.7L371.9,2395.6L372.9,2399.9L369.2,2397.6L365.4,2399.9L366.4,2395.6L363.1,2392.7L367.5,2392.3Z" fill="#ff44a6"/><path d="M373.5,2406.1L375.2,2410.2L379.6,2410.5L376.3,2413.4L377.3,2417.7L373.5,2415.4L369.8,2417.7L370.8,2413.4L367.4,2410.5L371.8,2410.2Z" fill="#ff44a6"/><path d="M380.8,2404.8L382.5,2408.9L386.9,2409.3L383.5,2412.1L384.5,2416.4L380.8,2414.1L377.0,2416.4L378.0,2412.1L374.7,2409.3L379.1,2408.9Z" fill="#ff44a6"/><path d="M383.0,2320.6L384.7,2324.7L389.1,2325.0L385.7,2327.9L386.8,2332.2L383.0,2329.9L379.2,2332.2L380.3,2327.9L376.9,2325.0L381.3,2324.7Z" fill="#ff44a6"/><path d="M395.0,2391.6L396.7,2395.7L401.1,2396.0L397.7,2398.9L398.8,2403.2L395.0,2400.9L391.2,2403.2L392.3,2398.9L388.9,2396.0L393.3,2395.7Z" fill="#ff44a6"/><path d="M408.3,2398.5L410.0,2402.5L414.4,2402.9L411.0,2405.8L412.1,2410.0L408.3,2407.7L404.5,2410.0L405.6,2405.8L402.2,2402.9L406.6,2402.5Z" fill="#ff44a6"/><path d="M410.0,2370.6L411.7,2374.7L416.1,2375.0L412.7,2377.9L413.8,2382.2L410.0,2379.9L406.2,2382.2L407.3,2377.9L403.9,2375.0L408.3,2374.7Z" fill="#ff44a6"/><path d="M411.1,2389.5L412.8,2393.6L417.2,2393.9L413.9,2396.8L414.9,2401.1L411.1,2398.8L407.4,2401.1L408.4,2396.8L405.1,2393.9L409.4,2393.6Z" fill="#ff44a6"/><path d="M411.9,2387.1L413.6,2391.2L418.0,2391.5L414.6,2394.4L415.7,2398.7L411.9,2396.4L408.1,2398.7L409.2,2394.4L405.8,2391.5L410.2,2391.2Z" fill="#ff44a6"/><path d="M419.8,2404.7L421.5,2408.7L425.9,2409.1L422.6,2412.0L423.6,2416.3L419.8,2414.0L416.1,2416.3L417.1,2412.0L413.7,2409.1L418.1,2408.7Z" fill="#ff44a6"/><path d="M424.2,2400.1L425.8,2404.1L430.2,2404.5L426.9,2407.4L427.9,2411.7L424.2,2409.4L420.4,2411.7L421.4,2407.4L418.1,2404.5L422.5,2404.1Z" fill="#ff44a6"/><path d="M433.6,2388.6L435.3,2392.7L439.7,2393.0L436.3,2395.9L437.3,2400.2L433.6,2397.9L429.8,2400.2L430.8,2395.9L427.5,2393.0L431.9,2392.7Z" fill="#ff44a6"/><path d="M437.2,2386.9L438.9,2390.9L443.3,2391.3L440.0,2394.2L441.0,2398.5L437.2,2396.2L433.5,2398.5L434.5,2394.2L431.2,2391.3L435.6,2390.9Z" fill="#ff44a6"/><path d="M440.0,2377.6L441.7,2381.7L446.1,2382.0L442.7,2384.9L443.8,2389.2L440.0,2386.9L436.2,2389.2L437.3,2384.9L433.9,2382.0L438.3,2381.7Z" fill="#ff44a6"/><path d="M441.6,2398.2L443.3,2402.3L447.7,2402.6L444.3,2405.5L445.3,2409.8L441.6,2407.5L437.8,2409.8L438.8,2405.5L435.5,2402.6L439.9,2402.3Z" fill="#ff44a6"/><path d="M443.8,2386.6L445.4,2390.7L449.8,2391.0L446.5,2393.9L447.5,2398.2L443.8,2395.9L440.0,2398.2L441.0,2393.9L437.7,2391.0L442.1,2390.7Z" fill="#ff44a6"/><path d="M444.4,2404.0L446.1,2408.1L450.5,2408.4L447.2,2411.3L448.2,2415.6L444.4,2413.3L440.7,2415.6L441.7,2411.3L438.3,2408.4L442.7,2408.1Z" fill="#ff44a6"/><path d="M445.9,2404.1L447.6,2408.1L452.0,2408.5L448.7,2411.4L449.7,2415.7L445.9,2413.4L442.2,2415.7L443.2,2411.4L439.8,2408.5L444.2,2408.1Z" fill="#ff44a6"/><path d="M451.0,2393.0L452.7,2397.1L457.1,2397.4L453.7,2400.3L454.8,2404.6L451.0,2402.3L447.2,2404.6L448.3,2400.3L444.9,2397.4L449.3,2397.1Z" fill="#ff44a6"/><path d="M451.7,2402.3L453.4,2406.3L457.8,2406.7L454.4,2409.6L455.4,2413.8L451.7,2411.5L447.9,2413.8L448.9,2409.6L445.6,2406.7L450.0,2406.3Z" fill="#ff44a6"/><path d="M470.5,2402.7L472.2,2406.7L476.6,2407.1L473.3,2409.9L474.3,2414.2L470.5,2411.9L466.8,2414.2L467.8,2409.9L464.4,2407.1L468.8,2406.7Z" fill="#ff44a6"/><path d="M483.5,2397.5L485.2,2401.6L489.6,2401.9L486.3,2404.8L487.3,2409.1L483.5,2406.8L479.8,2409.1L480.8,2404.8L477.4,2401.9L481.8,2401.6Z" fill="#ff44a6"/><path d="M127.8,2402.4L133.3,2409.0L140.4,2411.7L155.8,2391.6L157.7,2412.0L161.5,2397.2L168.1,2361.5L169.0,2400.0L169.1,2408.3L176.5,2376.5L183.5,2412.8L221.1,2403.4L225.4,2401.0L262.2,2323.0L287.4,2360.5L297.8,2382.2L299.2,2386.5L302.5,2374.6L312.9,2378.3L313.8,2303.2L314.4,2302.7L330.1,2412.2L331.6,2389.8L333.0,2411.5L336.7,2377.4L337.3,2412.8L339.5,2411.9L341.0,2404.7L345.0,2338.6L345.3,2369.9L353.4,2363.8L359.1,2399.8L364.1,2367.6L369.2,2383.2L369.9,2405.6L372.8,2404.5L373.5,2405.0L380.8,2364.0L383.2,2365.3L390.0,2366.8L397.7,2320.2L406.1,2390.9L408.3,2413.2L410.6,2317.2L411.1,2407.2L411.9,2412.6L414.1,2400.0L417.0,2378.4L419.0,2360.7L423.5,2411.9L424.2,2371.6L427.1,2304.2L430.7,2406.9L431.4,2412.2L433.6,2319.5L436.6,2307.3L437.2,2363.5L440.1,2387.1L441.2,2251.5L443.5,2296.6L445.9,2411.2L448.8,2411.2L451.9,2355.4L453.2,2410.1L454.6,2388.4L456.5,2363.0L458.2,2369.1L458.9,2402.3L470.5,2364.8L471.9,2371.5L480.0,2408.0L483.5,2397.1" fill="none" stroke="#f09a50" stroke-width="0.9" opacity="0.85" stroke-dasharray="3,1.5"/><path d="M127.8,2396.7L133.7,2401.0L131.5,2408.0L124.2,2408.0L121.9,2401.0Z" fill="#ee8430"/><path d="M133.3,2403.3L139.2,2407.6L137.0,2414.6L129.7,2414.6L127.4,2407.6Z" fill="#ee8430"/><path d="M140.4,2406.0L146.3,2410.2L144.0,2417.2L136.8,2417.2L134.5,2410.2Z" fill="#ee8430"/><path d="M155.8,2385.9L161.7,2390.2L159.4,2397.1L152.2,2397.1L149.9,2390.2Z" fill="#ee8430"/><path d="M157.7,2406.3L163.6,2410.5L161.3,2417.5L154.0,2417.5L151.8,2410.5Z" fill="#ee8430"/><path d="M161.5,2391.5L167.4,2395.8L165.1,2402.7L157.9,2402.7L155.6,2395.8Z" fill="#ee8430"/><path d="M168.1,2355.8L174.0,2360.1L171.7,2367.0L164.5,2367.0L162.2,2360.1Z" fill="#ee8430"/><path d="M169.0,2394.3L174.9,2398.6L172.6,2405.5L165.4,2405.5L163.1,2398.6Z" fill="#ee8430"/><path d="M169.1,2402.6L175.0,2406.9L172.7,2413.9L165.4,2413.9L163.2,2406.9Z" fill="#ee8430"/><path d="M176.5,2370.8L182.4,2375.1L180.1,2382.0L172.9,2382.0L170.6,2375.1Z" fill="#ee8430"/><path d="M183.5,2407.1L189.4,2411.3L187.2,2418.3L179.9,2418.3L177.6,2411.3Z" fill="#ee8430"/><path d="M221.1,2397.7L227.0,2402.0L224.8,2408.9L217.5,2408.9L215.2,2402.0Z" fill="#ee8430"/><path d="M225.4,2395.3L231.3,2399.6L229.0,2406.5L221.8,2406.5L219.5,2399.6Z" fill="#ee8430"/><path d="M262.2,2317.3L268.1,2321.6L265.8,2328.5L258.6,2328.5L256.3,2321.6Z" fill="#ee8430"/><path d="M287.4,2354.8L293.3,2359.1L291.0,2366.0L283.8,2366.0L281.5,2359.1Z" fill="#ee8430"/><path d="M297.8,2376.5L303.7,2380.8L301.4,2387.7L294.2,2387.7L291.9,2380.8Z" fill="#ee8430"/><path d="M299.2,2380.8L305.1,2385.0L302.9,2392.0L295.6,2392.0L293.3,2385.0Z" fill="#ee8430"/><path d="M302.5,2368.9L308.4,2373.2L306.1,2380.1L298.9,2380.1L296.6,2373.2Z" fill="#ee8430"/><path d="M312.9,2372.6L318.8,2376.9L316.5,2383.8L309.2,2383.8L307.0,2376.9Z" fill="#ee8430"/><path d="M313.8,2297.5L319.7,2301.8L317.4,2308.7L310.2,2308.7L307.9,2301.8Z" fill="#ee8430"/><path d="M314.4,2297.0L320.3,2301.3L318.0,2308.2L310.8,2308.2L308.5,2301.3Z" fill="#ee8430"/><path d="M330.1,2406.5L336.0,2410.8L333.7,2417.7L326.4,2417.7L324.2,2410.8Z" fill="#ee8430"/><path d="M331.6,2384.1L337.5,2388.3L335.2,2395.3L327.9,2395.3L325.7,2388.3Z" fill="#ee8430"/><path d="M333.0,2405.8L338.9,2410.1L336.6,2417.1L329.3,2417.1L327.1,2410.1Z" fill="#ee8430"/><path d="M336.7,2371.7L342.6,2376.0L340.3,2383.0L333.0,2383.0L330.8,2376.0Z" fill="#ee8430"/><path d="M337.3,2407.1L343.2,2411.4L341.0,2418.3L333.7,2418.3L331.4,2411.4Z" fill="#ee8430"/><path d="M339.5,2406.2L345.4,2410.5L343.1,2417.5L335.8,2417.5L333.6,2410.5Z" fill="#ee8430"/><path d="M341.0,2399.0L346.9,2403.3L344.6,2410.3L337.3,2410.3L335.1,2403.3Z" fill="#ee8430"/><path d="M345.0,2332.9L350.9,2337.2L348.6,2344.1L341.4,2344.1L339.1,2337.2Z" fill="#ee8430"/><path d="M345.3,2364.2L351.2,2368.5L349.0,2375.4L341.7,2375.4L339.4,2368.5Z" fill="#ee8430"/><path d="M353.4,2358.1L359.3,2362.4L357.0,2369.3L349.8,2369.3L347.5,2362.4Z" fill="#ee8430"/><path d="M359.1,2394.1L365.0,2398.4L362.7,2405.4L355.4,2405.4L353.2,2398.4Z" fill="#ee8430"/><path d="M364.1,2361.9L370.0,2366.2L367.7,2373.1L360.5,2373.1L358.2,2366.2Z" fill="#ee8430"/><path d="M369.2,2377.5L375.1,2381.8L372.8,2388.7L365.5,2388.7L363.3,2381.8Z" fill="#ee8430"/><path d="M369.9,2399.9L375.8,2404.2L373.6,2411.1L366.3,2411.1L364.0,2404.2Z" fill="#ee8430"/><path d="M372.8,2398.8L378.7,2403.1L376.4,2410.0L369.1,2410.0L366.9,2403.1Z" fill="#ee8430"/><path d="M373.5,2399.3L379.4,2403.6L377.2,2410.5L369.9,2410.5L367.6,2403.6Z" fill="#ee8430"/><path d="M380.8,2358.3L386.7,2362.6L384.4,2369.5L377.1,2369.5L374.9,2362.6Z" fill="#ee8430"/><path d="M383.2,2359.6L389.1,2363.9L386.8,2370.8L379.6,2370.8L377.3,2363.9Z" fill="#ee8430"/><path d="M390.0,2361.1L395.9,2365.4L393.6,2372.3L386.4,2372.3L384.1,2365.4Z" fill="#ee8430"/><path d="M397.7,2314.5L403.6,2318.8L401.3,2325.7L394.1,2325.7L391.8,2318.8Z" fill="#ee8430"/><path d="M406.1,2385.2L412.0,2389.5L409.8,2396.5L402.5,2396.5L400.2,2389.5Z" fill="#ee8430"/><path d="M408.3,2407.5L414.2,2411.8L411.9,2418.7L404.7,2418.7L402.4,2411.8Z" fill="#ee8430"/><path d="M410.6,2311.5L416.5,2315.8L414.2,2322.7L407.0,2322.7L404.7,2315.8Z" fill="#ee8430"/><path d="M411.1,2401.5L417.0,2405.8L414.8,2412.7L407.5,2412.7L405.2,2405.8Z" fill="#ee8430"/><path d="M411.9,2406.9L417.8,2411.2L415.5,2418.1L408.2,2418.1L406.0,2411.2Z" fill="#ee8430"/><path d="M414.1,2394.3L420.0,2398.5L417.7,2405.5L410.4,2405.5L408.2,2398.5Z" fill="#ee8430"/><path d="M417.0,2372.7L422.9,2377.0L420.6,2383.9L413.3,2383.9L411.1,2377.0Z" fill="#ee8430"/><path d="M419.0,2355.0L424.9,2359.3L422.6,2366.2L415.4,2366.2L413.1,2359.3Z" fill="#ee8430"/><path d="M423.5,2406.2L429.4,2410.5L427.1,2417.4L419.8,2417.4L417.6,2410.5Z" fill="#ee8430"/><path d="M424.2,2365.9L430.0,2370.2L427.8,2377.1L420.5,2377.1L418.3,2370.2Z" fill="#ee8430"/><path d="M427.1,2298.5L433.0,2302.8L430.7,2309.7L423.5,2309.7L421.2,2302.8Z" fill="#ee8430"/><path d="M430.7,2401.2L436.6,2405.4L434.4,2412.4L427.1,2412.4L424.8,2405.4Z" fill="#ee8430"/><path d="M431.4,2406.5L437.3,2410.8L435.1,2417.7L427.8,2417.7L425.5,2410.8Z" fill="#ee8430"/><path d="M433.6,2313.8L439.5,2318.1L437.2,2325.0L430.0,2325.0L427.7,2318.1Z" fill="#ee8430"/><path d="M436.6,2301.6L442.5,2305.9L440.2,2312.8L433.0,2312.8L430.7,2305.9Z" fill="#ee8430"/><path d="M437.2,2357.8L443.1,2362.1L440.9,2369.0L433.6,2369.0L431.3,2362.1Z" fill="#ee8430"/><path d="M440.1,2381.4L446.0,2385.7L443.7,2392.6L436.4,2392.6L434.2,2385.7Z" fill="#ee8430"/><path d="M441.2,2245.8L447.1,2250.1L444.8,2257.0L437.6,2257.0L435.3,2250.1Z" fill="#ee8430"/><path d="M443.5,2290.9L449.4,2295.2L447.1,2302.1L439.9,2302.1L437.6,2295.2Z" fill="#ee8430"/><path d="M445.9,2405.5L451.8,2409.8L449.6,2416.7L442.3,2416.7L440.0,2409.8Z" fill="#ee8430"/><path d="M448.8,2405.5L454.7,2409.8L452.5,2416.7L445.2,2416.7L442.9,2409.8Z" fill="#ee8430"/><path d="M451.9,2349.7L457.8,2354.0L455.5,2360.9L448.3,2360.9L446.0,2354.0Z" fill="#ee8430"/><path d="M453.2,2404.4L459.1,2408.7L456.8,2415.7L449.5,2415.7L447.3,2408.7Z" fill="#ee8430"/><path d="M454.6,2382.7L460.5,2387.0L458.2,2393.9L450.9,2393.9L448.7,2387.0Z" fill="#ee8430"/><path d="M456.5,2357.3L462.4,2361.6L460.1,2368.5L452.9,2368.5L450.6,2361.6Z" fill="#ee8430"/><path d="M458.2,2363.4L464.1,2367.7L461.8,2374.6L454.5,2374.6L452.3,2367.7Z" fill="#ee8430"/><path d="M458.9,2396.6L464.8,2400.8L462.6,2407.8L455.3,2407.8L453.0,2400.8Z" fill="#ee8430"/><path d="M470.5,2359.1L476.4,2363.4L474.2,2370.3L466.9,2370.3L464.6,2363.4Z" fill="#ee8430"/><path d="M471.9,2365.8L477.8,2370.1L475.6,2377.0L468.3,2377.0L466.0,2370.1Z" fill="#ee8430"/><path d="M480.0,2402.3L485.9,2406.6L483.6,2413.5L476.4,2413.5L474.1,2406.6Z" fill="#ee8430"/><path d="M483.5,2391.4L489.4,2395.7L487.2,2402.7L479.9,2402.7L477.6,2395.7Z" fill="#ee8430"/><path d="M127.8,2407.2L148.2,2408.2L155.2,2407.3L156.1,2410.8L161.6,2411.0L167.8,2413.2L168.3,2406.1L183.1,2394.4L262.1,2395.3L287.4,2377.5L298.4,2315.7L298.7,2372.8L314.6,2412.3L331.6,2409.9L335.8,2350.8L337.3,2407.3L339.5,2406.1L341.0,2404.2L345.0,2353.8L345.3,2403.3L353.3,2393.1L360.0,2404.0L371.7,2300.4L382.9,2382.1L403.0,2395.0L422.9,2372.2L424.2,2413.1L435.1,2405.5L436.5,2412.9L441.2,2378.3L444.4,2402.6L448.1,2356.1L449.6,2245.4L451.0,2411.1L453.2,2413.1L470.2,2403.5" fill="none" stroke="#b03070" stroke-width="0.9" opacity="0.85"/><circle cx="127.8" cy="2407.2" r="5.6" fill="#a00058"/><circle cx="126.0" cy="2405.2" r="1.6" fill="#fff" opacity="0.8"/><circle cx="148.2" cy="2408.2" r="5.6" fill="#a00058"/><circle cx="146.4" cy="2406.2" r="1.6" fill="#fff" opacity="0.8"/><circle cx="155.2" cy="2407.3" r="5.6" fill="#a00058"/><circle cx="153.4" cy="2405.3" r="1.6" fill="#fff" opacity="0.8"/><circle cx="156.1" cy="2410.8" r="5.6" fill="#a00058"/><circle cx="154.3" cy="2408.8" r="1.6" fill="#fff" opacity="0.8"/><circle cx="161.6" cy="2411.0" r="5.6" fill="#a00058"/><circle cx="159.8" cy="2409.0" r="1.6" fill="#fff" opacity="0.8"/><circle cx="167.8" cy="2413.2" r="5.6" fill="#a00058"/><circle cx="166.0" cy="2411.2" r="1.6" fill="#fff" opacity="0.8"/><circle cx="168.3" cy="2406.1" r="5.6" fill="#a00058"/><circle cx="166.5" cy="2404.1" r="1.6" fill="#fff" opacity="0.8"/><circle cx="183.1" cy="2394.4" r="5.6" fill="#a00058"/><circle cx="181.3" cy="2392.4" r="1.6" fill="#fff" opacity="0.8"/><circle cx="262.1" cy="2395.3" r="5.6" fill="#a00058"/><circle cx="260.3" cy="2393.3" r="1.6" fill="#fff" opacity="0.8"/><circle cx="287.4" cy="2377.5" r="5.6" fill="#a00058"/><circle cx="285.6" cy="2375.5" r="1.6" fill="#fff" opacity="0.8"/><circle cx="298.4" cy="2315.7" r="5.6" fill="#a00058"/><circle cx="296.6" cy="2313.7" r="1.6" fill="#fff" opacity="0.8"/><circle cx="298.7" cy="2372.8" r="5.6" fill="#a00058"/><circle cx="296.9" cy="2370.8" r="1.6" fill="#fff" opacity="0.8"/><circle cx="314.6" cy="2412.3" r="5.6" fill="#a00058"/><circle cx="312.8" cy="2410.3" r="1.6" fill="#fff" opacity="0.8"/><circle cx="331.6" cy="2409.9" r="5.6" fill="#a00058"/><circle cx="329.8" cy="2407.9" r="1.6" fill="#fff" opacity="0.8"/><circle cx="335.8" cy="2350.8" r="5.6" fill="#a00058"/><circle cx="334.0" cy="2348.8" r="1.6" fill="#fff" opacity="0.8"/><circle cx="337.3" cy="2407.3" r="5.6" fill="#a00058"/><circle cx="335.5" cy="2405.3" r="1.6" fill="#fff" opacity="0.8"/><circle cx="339.5" cy="2406.1" r="5.6" fill="#a00058"/><circle cx="337.7" cy="2404.1" r="1.6" fill="#fff" opacity="0.8"/><circle cx="341.0" cy="2404.2" r="5.6" fill="#a00058"/><circle cx="339.2" cy="2402.2" r="1.6" fill="#fff" opacity="0.8"/><circle cx="345.0" cy="2353.8" r="5.6" fill="#a00058"/><circle cx="343.2" cy="2351.8" r="1.6" fill="#fff" opacity="0.8"/><circle cx="345.3" cy="2403.3" r="5.6" fill="#a00058"/><circle cx="343.5" cy="2401.3" r="1.6" fill="#fff" opacity="0.8"/><circle cx="353.3" cy="2393.1" r="5.6" fill="#a00058"/><circle cx="351.5" cy="2391.1" r="1.6" fill="#fff" opacity="0.8"/><circle cx="360.0" cy="2404.0" r="5.6" fill="#a00058"/><circle cx="358.2" cy="2402.0" r="1.6" fill="#fff" opacity="0.8"/><circle cx="371.7" cy="2300.4" r="5.6" fill="#a00058"/><circle cx="369.9" cy="2298.4" r="1.6" fill="#fff" opacity="0.8"/><circle cx="382.9" cy="2382.1" r="5.6" fill="#a00058"/><circle cx="381.1" cy="2380.1" r="1.6" fill="#fff" opacity="0.8"/><circle cx="403.0" cy="2395.0" r="5.6" fill="#a00058"/><circle cx="401.2" cy="2393.0" r="1.6" fill="#fff" opacity="0.8"/><circle cx="422.9" cy="2372.2" r="5.6" fill="#a00058"/><circle cx="421.1" cy="2370.2" r="1.6" fill="#fff" opacity="0.8"/><circle cx="424.2" cy="2413.1" r="5.6" fill="#a00058"/><circle cx="422.4" cy="2411.1" r="1.6" fill="#fff" opacity="0.8"/><circle cx="435.1" cy="2405.5" r="5.6" fill="#a00058"/><circle cx="433.3" cy="2403.5" r="1.6" fill="#fff" opacity="0.8"/><circle cx="436.5" cy="2412.9" r="5.6" fill="#a00058"/><circle cx="434.7" cy="2410.9" r="1.6" fill="#fff" opacity="0.8"/><circle cx="441.2" cy="2378.3" r="5.6" fill="#a00058"/><circle cx="439.4" cy="2376.3" r="1.6" fill="#fff" opacity="0.8"/><circle cx="444.4" cy="2402.6" r="5.6" fill="#a00058"/><circle cx="442.6" cy="2400.6" r="1.6" fill="#fff" opacity="0.8"/><circle cx="448.1" cy="2356.1" r="5.6" fill="#a00058"/><circle cx="446.3" cy="2354.1" r="1.6" fill="#fff" opacity="0.8"/><circle cx="449.6" cy="2245.4" r="5.6" fill="#a00058"/><circle cx="447.8" cy="2243.4" r="1.6" fill="#fff" opacity="0.8"/><circle cx="451.0" cy="2411.1" r="5.6" fill="#a00058"/><circle cx="449.2" cy="2409.1" r="1.6" fill="#fff" opacity="0.8"/><circle cx="453.2" cy="2413.1" r="5.6" fill="#a00058"/><circle cx="451.4" cy="2411.1" r="1.6" fill="#fff" opacity="0.8"/><circle cx="470.2" cy="2403.5" r="5.6" fill="#a00058"/><circle cx="468.4" cy="2401.5" r="1.6" fill="#fff" opacity="0.8"/><path d="M120.0,2412.8L127.8,2410.9L133.3,2408.6L140.4,2411.1L155.2,2412.8L156.1,2412.4L157.7,2407.4L161.6,2412.0L167.8,2410.7L168.3,2413.2L169.1,2412.5L176.5,2408.5L183.1,2399.1L216.0,2399.1L221.1,2406.8L262.1,2348.3L287.4,2368.1L297.8,2374.6L298.4,2369.9L302.7,2411.3L312.9,2375.9L314.6,2411.5L330.1,2407.7L331.6,2411.9L333.0,2369.8L335.8,2362.2L337.3,2395.7L339.5,2379.3L341.0,2412.7L345.3,2408.9L353.4,2330.9L359.1,2380.1L364.5,2412.4L364.8,2374.7L369.2,2412.9L369.9,2409.1L371.7,2363.0L373.5,2411.5L380.8,2410.8L384.4,2385.9L389.5,2394.0L390.2,2398.0L398.9,2409.2L406.1,2393.7L408.3,2395.3L411.1,2370.9L411.9,2401.0L414.1,2413.1L417.0,2409.7L419.8,2385.0L422.0,2380.0L423.5,2409.6L424.2,2410.6L427.1,2400.1L427.8,2378.0L431.4,2403.9L433.6,2406.7L435.1,2402.3L436.5,2399.7L437.2,2407.5L441.0,2392.0L441.6,2386.4L442.2,2402.0L443.8,2392.7L444.4,2373.6L445.9,2386.6L447.3,2397.0L448.8,2404.7L452.0,2395.0L453.2,2386.1L454.6,2410.8L458.2,2411.1L458.9,2402.3L470.5,2397.6L471.9,2398.8L483.5,2411.8" fill="none" stroke="#f4b880" stroke-width="0.9" opacity="0.85"/><circle cx="120.0" cy="2412.8" r="5.2" fill="#fff" stroke="#f2a868" stroke-width="0.8"/><path d="M120.0,2407.6A5.2,5.2 0 0 0 120.0,2418.0Z" fill="#f2a868"/><circle cx="127.8" cy="2410.9" r="5.2" fill="#fff" stroke="#f2a868" stroke-width="0.8"/><path d="M127.8,2405.7A5.2,5.2 0 0 0 127.8,2416.1Z" fill="#f2a868"/><circle cx="133.3" cy="2408.6" r="5.2" fill="#fff" stroke="#f2a868" stroke-width="0.8"/><path d="M133.3,2403.4A5.2,5.2 0 0 0 133.3,2413.8Z" fill="#f2a868"/><circle cx="140.4" cy="2411.1" r="5.2" fill="#fff" stroke="#f2a868" stroke-width="0.8"/><path d="M140.4,2405.9A5.2,5.2 0 0 0 140.4,2416.3Z" fill="#f2a868"/><circle cx="155.2" cy="2412.8" r="5.2" fill="#fff" stroke="#f2a868" stroke-width="0.8"/><path d="M155.2,2407.6A5.2,5.2 0 0 0 155.2,2418.0Z" fill="#f2a868"/><circle cx="156.1" cy="2412.4" r="5.2" fill="#fff" stroke="#f2a868" stroke-width="0.8"/><path d="M156.1,2407.2A5.2,5.2 0 0 0 156.1,2417.6Z" fill="#f2a868"/><circle cx="157.7" cy="2407.4" r="5.2" fill="#fff" stroke="#f2a868" stroke-width="0.8"/><path d="M157.7,2402.2A5.2,5.2 0 0 0 157.7,2412.6Z" fill="#f2a868"/><circle cx="161.6" cy="2412.0" r="5.2" fill="#fff" stroke="#f2a868" stroke-width="0.8"/><path d="M161.6,2406.8A5.2,5.2 0 0 0 161.6,2417.2Z" fill="#f2a868"/><circle cx="167.8" cy="2410.7" r="5.2" fill="#fff" stroke="#f2a868" stroke-width="0.8"/><path d="M167.8,2405.5A5.2,5.2 0 0 0 167.8,2415.9Z" fill="#f2a868"/><circle cx="168.3" cy="2413.2" r="5.2" fill="#fff" stroke="#f2a868" stroke-width="0.8"/><path d="M168.3,2408.0A5.2,5.2 0 0 0 168.3,2418.4Z" fill="#f2a868"/><circle cx="169.1" cy="2412.5" r="5.2" fill="#fff" stroke="#f2a868" stroke-width="0.8"/><path d="M169.1,2407.3A5.2,5.2 0 0 0 169.1,2417.7Z" fill="#f2a868"/><circle cx="176.5" cy="2408.5" r="5.2" fill="#fff" stroke="#f2a868" stroke-width="0.8"/><path d="M176.5,2403.3A5.2,5.2 0 0 0 176.5,2413.7Z" fill="#f2a868"/><circle cx="183.1" cy="2399.1" r="5.2" fill="#fff" stroke="#f2a868" stroke-width="0.8"/><path d="M183.1,2393.9A5.2,5.2 0 0 0 183.1,2404.3Z" fill="#f2a868"/><circle cx="216.0" cy="2399.1" r="5.2" fill="#fff" stroke="#f2a868" stroke-width="0.8"/><path d="M216.0,2393.9A5.2,5.2 0 0 0 216.0,2404.3Z" fill="#f2a868"/><circle cx="221.1" cy="2406.8" r="5.2" fill="#fff" stroke="#f2a868" stroke-width="0.8"/><path d="M221.1,2401.6A5.2,5.2 0 0 0 221.1,2412.0Z" fill="#f2a868"/><circle cx="262.1" cy="2348.3" r="5.2" fill="#fff" stroke="#f2a868" stroke-width="0.8"/><path d="M262.1,2343.1A5.2,5.2 0 0 0 262.1,2353.5Z" fill="#f2a868"/><circle cx="287.4" cy="2368.1" r="5.2" fill="#fff" stroke="#f2a868" stroke-width="0.8"/><path d="M287.4,2362.9A5.2,5.2 0 0 0 287.4,2373.3Z" fill="#f2a868"/><circle cx="297.8" cy="2374.6" r="5.2" fill="#fff" stroke="#f2a868" stroke-width="0.8"/><path d="M297.8,2369.4A5.2,5.2 0 0 0 297.8,2379.8Z" fill="#f2a868"/><circle cx="298.4" cy="2369.9" r="5.2" fill="#fff" stroke="#f2a868" stroke-width="0.8"/><path d="M298.4,2364.7A5.2,5.2 0 0 0 298.4,2375.1Z" fill="#f2a868"/><circle cx="302.7" cy="2411.3" r="5.2" fill="#fff" stroke="#f2a868" stroke-width="0.8"/><path d="M302.7,2406.1A5.2,5.2 0 0 0 302.7,2416.5Z" fill="#f2a868"/><circle cx="312.9" cy="2375.9" r="5.2" fill="#fff" stroke="#f2a868" stroke-width="0.8"/><path d="M312.9,2370.7A5.2,5.2 0 0 0 312.9,2381.1Z" fill="#f2a868"/><circle cx="314.6" cy="2411.5" r="5.2" fill="#fff" stroke="#f2a868" stroke-width="0.8"/><path d="M314.6,2406.3A5.2,5.2 0 0 0 314.6,2416.7Z" fill="#f2a868"/><circle cx="330.1" cy="2407.7" r="5.2" fill="#fff" stroke="#f2a868" stroke-width="0.8"/><path d="M330.1,2402.5A5.2,5.2 0 0 0 330.1,2412.9Z" fill="#f2a868"/><circle cx="331.6" cy="2411.9" r="5.2" fill="#fff" stroke="#f2a868" stroke-width="0.8"/><path d="M331.6,2406.7A5.2,5.2 0 0 0 331.6,2417.1Z" fill="#f2a868"/><circle cx="333.0" cy="2369.8" r="5.2" fill="#fff" stroke="#f2a868" stroke-width="0.8"/><path d="M333.0,2364.6A5.2,5.2 0 0 0 333.0,2375.0Z" fill="#f2a868"/><circle cx="335.8" cy="2362.2" r="5.2" fill="#fff" stroke="#f2a868" stroke-width="0.8"/><path d="M335.8,2357.0A5.2,5.2 0 0 0 335.8,2367.4Z" fill="#f2a868"/><circle cx="337.3" cy="2395.7" r="5.2" fill="#fff" stroke="#f2a868" stroke-width="0.8"/><path d="M337.3,2390.5A5.2,5.2 0 0 0 337.3,2400.9Z" fill="#f2a868"/><circle cx="339.5" cy="2379.3" r="5.2" fill="#fff" stroke="#f2a868" stroke-width="0.8"/><path d="M339.5,2374.1A5.2,5.2 0 0 0 339.5,2384.5Z" fill="#f2a868"/><circle cx="341.0" cy="2412.7" r="5.2" fill="#fff" stroke="#f2a868" stroke-width="0.8"/><path d="M341.0,2407.5A5.2,5.2 0 0 0 341.0,2417.9Z" fill="#f2a868"/><circle cx="345.3" cy="2408.9" r="5.2" fill="#fff" stroke="#f2a868" stroke-width="0.8"/><path d="M345.3,2403.7A5.2,5.2 0 0 0 345.3,2414.1Z" fill="#f2a868"/><circle cx="353.4" cy="2330.9" r="5.2" fill="#fff" stroke="#f2a868" stroke-width="0.8"/><path d="M353.4,2325.7A5.2,5.2 0 0 0 353.4,2336.1Z" fill="#f2a868"/><circle cx="359.1" cy="2380.1" r="5.2" fill="#fff" stroke="#f2a868" stroke-width="0.8"/><path d="M359.1,2374.9A5.2,5.2 0 0 0 359.1,2385.3Z" fill="#f2a868"/><circle cx="364.5" cy="2412.4" r="5.2" fill="#fff" stroke="#f2a868" stroke-width="0.8"/><path d="M364.5,2407.2A5.2,5.2 0 0 0 364.5,2417.6Z" fill="#f2a868"/><circle cx="364.8" cy="2374.7" r="5.2" fill="#fff" stroke="#f2a868" stroke-width="0.8"/><path d="M364.8,2369.5A5.2,5.2 0 0 0 364.8,2379.9Z" fill="#f2a868"/><circle cx="369.2" cy="2412.9" r="5.2" fill="#fff" stroke="#f2a868" stroke-width="0.8"/><path d="M369.2,2407.7A5.2,5.2 0 0 0 369.2,2418.1Z" fill="#f2a868"/><circle cx="369.9" cy="2409.1" r="5.2" fill="#fff" stroke="#f2a868" stroke-width="0.8"/><path d="M369.9,2403.9A5.2,5.2 0 0 0 369.9,2414.3Z" fill="#f2a868"/><circle cx="371.7" cy="2363.0" r="5.2" fill="#fff" stroke="#f2a868" stroke-width="0.8"/><path d="M371.7,2357.8A5.2,5.2 0 0 0 371.7,2368.2Z" fill="#f2a868"/><circle cx="373.5" cy="2411.5" r="5.2" fill="#fff" stroke="#f2a868" stroke-width="0.8"/><path d="M373.5,2406.3A5.2,5.2 0 0 0 373.5,2416.7Z" fill="#f2a868"/><circle cx="380.8" cy="2410.8" r="5.2" fill="#fff" stroke="#f2a868" stroke-width="0.8"/><path d="M380.8,2405.6A5.2,5.2 0 0 0 380.8,2416.0Z" fill="#f2a868"/><circle cx="384.4" cy="2385.9" r="5.2" fill="#fff" stroke="#f2a868" stroke-width="0.8"/><path d="M384.4,2380.7A5.2,5.2 0 0 0 384.4,2391.1Z" fill="#f2a868"/><circle cx="389.5" cy="2394.0" r="5.2" fill="#fff" stroke="#f2a868" stroke-width="0.8"/><path d="M389.5,2388.8A5.2,5.2 0 0 0 389.5,2399.2Z" fill="#f2a868"/><circle cx="390.2" cy="2398.0" r="5.2" fill="#fff" stroke="#f2a868" stroke-width="0.8"/><path d="M390.2,2392.8A5.2,5.2 0 0 0 390.2,2403.2Z" fill="#f2a868"/><circle cx="398.9" cy="2409.2" r="5.2" fill="#fff" stroke="#f2a868" stroke-width="0.8"/><path d="M398.9,2404.0A5.2,5.2 0 0 0 398.9,2414.4Z" fill="#f2a868"/><circle cx="406.1" cy="2393.7" r="5.2" fill="#fff" stroke="#f2a868" stroke-width="0.8"/><path d="M406.1,2388.5A5.2,5.2 0 0 0 406.1,2398.9Z" fill="#f2a868"/><circle cx="408.3" cy="2395.3" r="5.2" fill="#fff" stroke="#f2a868" stroke-width="0.8"/><path d="M408.3,2390.1A5.2,5.2 0 0 0 408.3,2400.5Z" fill="#f2a868"/><circle cx="411.1" cy="2370.9" r="5.2" fill="#fff" stroke="#f2a868" stroke-width="0.8"/><path d="M411.1,2365.7A5.2,5.2 0 0 0 411.1,2376.1Z" fill="#f2a868"/><circle cx="411.9" cy="2401.0" r="5.2" fill="#fff" stroke="#f2a868" stroke-width="0.8"/><path d="M411.9,2395.8A5.2,5.2 0 0 0 411.9,2406.2Z" fill="#f2a868"/><circle cx="414.1" cy="2413.1" r="5.2" fill="#fff" stroke="#f2a868" stroke-width="0.8"/><path d="M414.1,2407.9A5.2,5.2 0 0 0 414.1,2418.3Z" fill="#f2a868"/><circle cx="417.0" cy="2409.7" r="5.2" fill="#fff" stroke="#f2a868" stroke-width="0.8"/><path d="M417.0,2404.5A5.2,5.2 0 0 0 417.0,2414.9Z" fill="#f2a868"/><circle cx="419.8" cy="2385.0" r="5.2" fill="#fff" stroke="#f2a868" stroke-width="0.8"/><path d="M419.8,2379.8A5.2,5.2 0 0 0 419.8,2390.2Z" fill="#f2a868"/><circle cx="422.0" cy="2380.0" r="5.2" fill="#fff" stroke="#f2a868" stroke-width="0.8"/><path d="M422.0,2374.8A5.2,5.2 0 0 0 422.0,2385.2Z" fill="#f2a868"/><circle cx="423.5" cy="2409.6" r="5.2" fill="#fff" stroke="#f2a868" stroke-width="0.8"/><path d="M423.5,2404.4A5.2,5.2 0 0 0 423.5,2414.8Z" fill="#f2a868"/><circle cx="424.2" cy="2410.6" r="5.2" fill="#fff" stroke="#f2a868" stroke-width="0.8"/><path d="M424.2,2405.4A5.2,5.2 0 0 0 424.2,2415.8Z" fill="#f2a868"/><circle cx="427.1" cy="2400.1" r="5.2" fill="#fff" stroke="#f2a868" stroke-width="0.8"/><path d="M427.1,2394.9A5.2,5.2 0 0 0 427.1,2405.3Z" fill="#f2a868"/><circle cx="427.8" cy="2378.0" r="5.2" fill="#fff" stroke="#f2a868" stroke-width="0.8"/><path d="M427.8,2372.8A5.2,5.2 0 0 0 427.8,2383.2Z" fill="#f2a868"/><circle cx="431.4" cy="2403.9" r="5.2" fill="#fff" stroke="#f2a868" stroke-width="0.8"/><path d="M431.4,2398.7A5.2,5.2 0 0 0 431.4,2409.1Z" fill="#f2a868"/><circle cx="433.6" cy="2406.7" r="5.2" fill="#fff" stroke="#f2a868" stroke-width="0.8"/><path d="M433.6,2401.5A5.2,5.2 0 0 0 433.6,2411.9Z" fill="#f2a868"/><circle cx="435.1" cy="2402.3" r="5.2" fill="#fff" stroke="#f2a868" stroke-width="0.8"/><path d="M435.1,2397.1A5.2,5.2 0 0 0 435.1,2407.5Z" fill="#f2a868"/><circle cx="436.5" cy="2399.7" r="5.2" fill="#fff" stroke="#f2a868" stroke-width="0.8"/><path d="M436.5,2394.5A5.2,5.2 0 0 0 436.5,2404.9Z" fill="#f2a868"/><circle cx="437.2" cy="2407.5" r="5.2" fill="#fff" stroke="#f2a868" stroke-width="0.8"/><path d="M437.2,2402.3A5.2,5.2 0 0 0 437.2,2412.7Z" fill="#f2a868"/><circle cx="441.0" cy="2392.0" r="5.2" fill="#fff" stroke="#f2a868" stroke-width="0.8"/><path d="M441.0,2386.8A5.2,5.2 0 0 0 441.0,2397.2Z" fill="#f2a868"/><circle cx="441.6" cy="2386.4" r="5.2" fill="#fff" stroke="#f2a868" stroke-width="0.8"/><path d="M441.6,2381.2A5.2,5.2 0 0 0 441.6,2391.6Z" fill="#f2a868"/><circle cx="442.2" cy="2402.0" r="5.2" fill="#fff" stroke="#f2a868" stroke-width="0.8"/><path d="M442.2,2396.8A5.2,5.2 0 0 0 442.2,2407.2Z" fill="#f2a868"/><circle cx="443.8" cy="2392.7" r="5.2" fill="#fff" stroke="#f2a868" stroke-width="0.8"/><path d="M443.8,2387.5A5.2,5.2 0 0 0 443.8,2397.9Z" fill="#f2a868"/><circle cx="444.4" cy="2373.6" r="5.2" fill="#fff" stroke="#f2a868" stroke-width="0.8"/><path d="M444.4,2368.4A5.2,5.2 0 0 0 444.4,2378.8Z" fill="#f2a868"/><circle cx="445.9" cy="2386.6" r="5.2" fill="#fff" stroke="#f2a868" stroke-width="0.8"/><path d="M445.9,2381.4A5.2,5.2 0 0 0 445.9,2391.8Z" fill="#f2a868"/><circle cx="447.3" cy="2397.0" r="5.2" fill="#fff" stroke="#f2a868" stroke-width="0.8"/><path d="M447.3,2391.8A5.2,5.2 0 0 0 447.3,2402.2Z" fill="#f2a868"/><circle cx="448.8" cy="2404.7" r="5.2" fill="#fff" stroke="#f2a868" stroke-width="0.8"/><path d="M448.8,2399.5A5.2,5.2 0 0 0 448.8,2409.9Z" fill="#f2a868"/><circle cx="452.0" cy="2395.0" r="5.2" fill="#fff" stroke="#f2a868" stroke-width="0.8"/><path d="M452.0,2389.8A5.2,5.2 0 0 0 452.0,2400.2Z" fill="#f2a868"/><circle cx="453.2" cy="2386.1" r="5.2" fill="#fff" stroke="#f2a868" stroke-width="0.8"/><path d="M453.2,2380.9A5.2,5.2 0 0 0 453.2,2391.3Z" fill="#f2a868"/><circle cx="454.6" cy="2410.8" r="5.2" fill="#fff" stroke="#f2a868" stroke-width="0.8"/><path d="M454.6,2405.6A5.2,5.2 0 0 0 454.6,2416.0Z" fill="#f2a868"/><circle cx="458.2" cy="2411.1" r="5.2" fill="#fff" stroke="#f2a868" stroke-width="0.8"/><path d="M458.2,2405.9A5.2,5.2 0 0 0 458.2,2416.3Z" fill="#f2a868"/><circle cx="458.9" cy="2402.3" r="5.2" fill="#fff" stroke="#f2a868" stroke-width="0.8"/><path d="M458.9,2397.1A5.2,5.2 0 0 0 458.9,2407.5Z" fill="#f2a868"/><circle cx="470.5" cy="2397.6" r="5.2" fill="#fff" stroke="#f2a868" stroke-width="0.8"/><path d="M470.5,2392.4A5.2,5.2 0 0 0 470.5,2402.8Z" fill="#f2a868"/><circle cx="471.9" cy="2398.8" r="5.2" fill="#fff" stroke="#f2a868" stroke-width="0.8"/><path d="M471.9,2393.6A5.2,5.2 0 0 0 471.9,2404.0Z" fill="#f2a868"/><circle cx="483.5" cy="2411.8" r="5.2" fill="#fff" stroke="#f2a868" stroke-width="0.8"/><path d="M483.5,2406.6A5.2,5.2 0 0 0 483.5,2417.0Z" fill="#f2a868"/></g><path d="M82.9,2048.5V2413.2H536.4" stroke="#000" stroke-width="1.5" fill="none"/><path d="M83.1,2413.2v5.5M139.9,2413.2v5.5M196.7,2413.2v5.5M253.5,2413.2v5.5M310.3,2413.2v5.5M367.1,2413.2v5.5M423.9,2413.2v5.5M480.7,2413.2v5.5M537.5,2413.2v5.5M111.5,2413.2v3M168.3,2413.2v3M225.1,2413.2v3M281.9,2413.2v3M338.7,2413.2v3M395.5,2413.2v3M452.3,2413.2v3M509.1,2413.2v3M82.9,2413.2h-6.5M82.9,2340.3h-6.5M82.9,2267.3h-6.5M82.9,2194.4h-6.5M82.9,2121.4h-6.5M82.9,2048.5h-6.5M82.9,2376.7h-3.5M82.9,2303.8h-3.5M82.9,2230.8h-3.5M82.9,2157.9h-3.5M82.9,2085.0h-3.5" stroke="#000" stroke-width="1.4" fill="none"/><g font-family="Liberation Serif" font-size="16.5"><text x="83.1" y="2439.6" text-anchor="middle">-5</text><text x="139.9" y="2439.6" text-anchor="middle">0</text><text x="196.7" y="2439.6" text-anchor="middle">5</text><text x="253.5" y="2439.6" text-anchor="middle">10</text><text x="310.3" y="2439.6" text-anchor="middle">15</text><text x="367.1" y="2439.6" text-anchor="middle">20</text><text x="423.9" y="2439.6" text-anchor="middle">25</text><text x="480.7" y="2439.6" text-anchor="middle">30</text><text x="537.5" y="2439.6" text-anchor="middle">35</text><text x="70.1" y="2418.8" text-anchor="end">0</text><text x="70.1" y="2345.9" text-anchor="end">20</text><text x="70.1" y="2272.9" text-anchor="end">40</text><text x="70.1" y="2200.0" text-anchor="end">60</text><text x="70.1" y="2127.0" text-anchor="end">80</text><text x="70.1" y="2054.1" text-anchor="end">100</text></g><text x="310.4" y="2481" font-family="Liberation Serif" font-size="31" text-anchor="middle">Temperature</text><text transform="translate(35,2230.5) rotate(-90)" font-family="Liberation Serif" font-size="30.7" text-anchor="middle" xml:space="preserve">Portion of  sequences (%)</text><rect x="477.2" y="1991.5" width="182.5" height="293.6" fill="#fff" stroke="#7a7a7a" stroke-width="1"/><path d="M479.9,2004.7H524.7" stroke="#3cb043" stroke-width="1.2"/><rect x="497.9" y="2000.4" width="8.6" height="8.6" fill="#008a00"/><text x="530" y="2011.5" font-family="Liberation Serif" font-size="19.7">HL-AA</text><path d="M479.9,2029.2H524.7" stroke="#5cf05c" stroke-width="1.2"/><circle cx="502.2" cy="2029.2" r="4.8" fill="#3af03a"/><text x="530" y="2036.0" font-family="Liberation Serif" font-size="19.7">HL-AMN</text><path d="M479.9,2053.7H524.7" stroke="#c8f08a" stroke-width="1.2"/><path d="M502.2,2047.9L507.5,2057.1L496.9,2057.1Z" fill="#b6e66a"/><text x="530" y="2060.5" font-family="Liberation Serif" font-size="19.7">HL-NRT</text><path d="M479.9,2078.2H524.7" stroke="#3aaa6a" stroke-width="1.2"/><path d="M502.2,2084.0L507.5,2074.9L496.9,2074.9Z" fill="#36a86a"/><text x="530" y="2085.0" font-family="Liberation Serif" font-size="19.7">HL-Small-Org</text><path d="M479.9,2102.7H524.7" stroke="#b48ae4" stroke-width="1.2"/><path d="M502.2,2096.9L508.0,2102.7L502.2,2108.5L496.4,2102.7Z" fill="#a877dc"/><text x="530" y="2109.5" font-family="Liberation Serif" font-size="19.7">LL-AA</text><path d="M479.9,2127.2H524.7" stroke="#e060f0" stroke-width="1.2"/><path d="M496.4,2127.2L505.6,2121.9L505.6,2132.6Z" fill="#dc34f0"/><text x="530" y="2134.1" font-family="Liberation Serif" font-size="19.7">LL-AMN</text><path d="M479.9,2151.8H524.7" stroke="#a0b0f4" stroke-width="1.2"/><path d="M508.0,2151.8L498.8,2146.5L498.8,2157.1Z" fill="#8a9cf2"/><text x="530" y="2158.6" font-family="Liberation Serif" font-size="19.7">LL-NRT</text><path d="M479.9,2176.3H524.7" stroke="#eebbf4" stroke-width="1.2"/><circle cx="502.2" cy="2176.3" r="4.8" fill="#e8a8f0"/><text x="530" y="2183.1" font-family="Liberation Serif" font-size="19.7">LL-Small-Org</text><path d="M479.9,2200.8H524.7" stroke="#ff70b8" stroke-width="1.2"/><path d="M502.2,2195.2L503.7,2198.7L507.5,2199.0L504.6,2201.6L505.5,2205.3L502.2,2203.3L498.9,2205.3L499.8,2201.6L496.9,2199.0L500.7,2198.7Z" fill="#ff44a6"/><text x="530" y="2207.6" font-family="Liberation Serif" font-size="19.7">SYN-AA</text><path d="M479.9,2225.3H524.7" stroke="#f09a50" stroke-width="1.2"/><path d="M502.2,2220.4L507.3,2224.1L505.4,2230.2L499.0,2230.2L497.1,2224.1Z" fill="#ee8430"/><text x="530" y="2232.1" font-family="Liberation Serif" font-size="19.7">SYN-AMN</text><path d="M479.9,2249.8H524.7" stroke="#b03070" stroke-width="1.2"/><circle cx="502.2" cy="2249.8" r="4.8" fill="#a00058"/><circle cx="500.4" cy="2247.8" r="1.6" fill="#fff" opacity="0.8"/><text x="530" y="2256.6" font-family="Liberation Serif" font-size="19.7">SYN-NRT</text><path d="M479.9,2274.3H524.7" stroke="#f4b880" stroke-width="1.2"/><circle cx="502.2" cy="2274.3" r="4.4" fill="#fff" stroke="#f2a868" stroke-width="0.8"/><path d="M502.2,2269.9A4.4,4.4 0 0 0 502.2,2278.7Z" fill="#f2a868"/><text x="530" y="2281.1" font-family="Liberation Serif" font-size="19.7">SYN-Small-Org</text><rect x="834.9" y="2344.8" width="10.6" height="10.6" fill="#ecc46a"/><rect x="829.9" y="2355.1" width="10.6" height="10.6" fill="#ecc46a"/><rect x="869.6" y="2291.6" width="10.6" height="10.6" fill="#ecc46a"/><rect x="904.8" y="2196.2" width="10.6" height="10.6" fill="#ecc46a"/><rect x="913.1" y="2207.6" width="10.6" height="10.6" fill="#ecc46a"/><rect x="910.1" y="2242.3" width="10.6" height="10.6" fill="#ecc46a"/><rect x="915.7" y="2143.8" width="10.6" height="10.6" fill="#ecc46a"/><rect x="915.7" y="2178.0" width="10.6" height="10.6" fill="#ecc46a"/><rect x="926.8" y="2131.9" width="10.6" height="10.6" fill="#ecc46a"/><rect x="934.2" y="2140.0" width="10.6" height="10.6" fill="#ecc46a"/><rect x="939.7" y="2144.3" width="10.6" height="10.6" fill="#ecc46a"/><rect x="940.5" y="2181.0" width="10.6" height="10.6" fill="#ecc46a"/><rect x="950.6" y="2106.3" width="10.6" height="10.6" fill="#ecc46a"/><rect x="950.6" y="2153.7" width="10.6" height="10.6" fill="#ecc46a"/><rect x="961.0" y="2129.9" width="10.6" height="10.6" fill="#ecc46a"/><rect x="971.9" y="2117.7" width="10.6" height="10.6" fill="#ecc46a"/><rect x="972.1" y="2132.4" width="10.6" height="10.6" fill="#ecc46a"/><rect x="982.2" y="2134.2" width="10.6" height="10.6" fill="#ecc46a"/><rect x="990.3" y="2143.0" width="10.6" height="10.6" fill="#ecc46a"/><rect x="1001.2" y="2110.6" width="10.6" height="10.6" fill="#ecc46a"/><rect x="1011.9" y="2086.6" width="10.6" height="10.6" fill="#ecc46a"/><rect x="1014.6" y="2119.0" width="10.6" height="10.6" fill="#ecc46a"/><rect x="1021.5" y="2113.2" width="10.6" height="10.6" fill="#ecc46a"/><rect x="1034.9" y="2095.5" width="10.6" height="10.6" fill="#ecc46a"/><rect x="1034.1" y="2120.3" width="10.6" height="10.6" fill="#ecc46a"/><rect x="1054.4" y="2112.2" width="10.6" height="10.6" fill="#ecc46a"/><rect x="1058.2" y="2126.3" width="10.6" height="10.6" fill="#ecc46a"/><rect x="1068.3" y="2133.4" width="10.6" height="10.6" fill="#ecc46a"/><rect x="1079.7" y="2131.9" width="10.6" height="10.6" fill="#ecc46a"/><rect x="1091.3" y="2165.3" width="10.6" height="10.6" fill="#ecc46a"/><rect x="1080.4" y="2174.7" width="10.6" height="10.6" fill="#ecc46a"/><rect x="1090.6" y="2185.6" width="10.6" height="10.6" fill="#ecc46a"/><rect x="1086.8" y="2189.9" width="10.6" height="10.6" fill="#ecc46a"/><rect x="1091.1" y="2200.0" width="10.6" height="10.6" fill="#ecc46a"/><rect x="1100.4" y="2233.6" width="10.6" height="10.6" fill="#ecc46a"/><rect x="1112.6" y="2230.9" width="10.6" height="10.6" fill="#ecc46a"/><rect x="1141.5" y="2259.0" width="10.6" height="10.6" fill="#ecc46a"/><rect x="1175.2" y="2284.4" width="10.6" height="10.6" fill="#ecc46a"/><rect x="1189.5" y="2293.9" width="10.6" height="10.6" fill="#ecc46a"/><rect x="1160.1" y="2313.9" width="10.6" height="10.6" fill="#ecc46a"/><rect x="1168.4" y="2339.3" width="10.6" height="10.6" fill="#ecc46a"/><rect x="1180.4" y="2333.2" width="10.6" height="10.6" fill="#ecc46a"/><rect x="1186.2" y="2347.5" width="10.6" height="10.6" fill="#ecc46a"/><rect x="1195.7" y="2339.1" width="10.6" height="10.6" fill="#ecc46a"/><rect x="1199.0" y="2345.6" width="10.6" height="10.6" fill="#ecc46a"/><rect x="1207.2" y="2349.5" width="10.6" height="10.6" fill="#ecc46a"/><rect x="1204.2" y="2360.5" width="10.6" height="10.6" fill="#ecc46a"/><rect x="1206.2" y="2363.8" width="10.6" height="10.6" fill="#ecc46a"/><rect x="1189.2" y="2366.4" width="10.6" height="10.6" fill="#ecc46a"/><rect x="1204.9" y="2377.5" width="10.6" height="10.6" fill="#ecc46a"/><rect x="1192.5" y="2374.9" width="10.6" height="10.6" fill="#ecc46a"/><circle cx="834.4" cy="2374.4" r="5.6" fill="#008080"/><circle cx="874.7" cy="2302.0" r="5.6" fill="#008080"/><circle cx="910.3" cy="2226.3" r="5.6" fill="#008080"/><circle cx="918.2" cy="2213.6" r="5.6" fill="#008080"/><circle cx="920.5" cy="2190.1" r="5.6" fill="#008080"/><circle cx="932.1" cy="2182.0" r="5.6" fill="#008080"/><circle cx="938.9" cy="2166.1" r="5.6" fill="#008080"/><circle cx="945.0" cy="2173.1" r="5.6" fill="#008080"/><circle cx="955.9" cy="2136.2" r="5.6" fill="#008080"/><circle cx="955.9" cy="2186.3" r="5.6" fill="#008080"/><circle cx="977.2" cy="2141.3" r="5.6" fill="#008080"/><circle cx="977.9" cy="2150.9" r="5.6" fill="#008080"/><circle cx="987.0" cy="2186.3" r="5.6" fill="#008080"/><circle cx="995.6" cy="2165.5" r="5.6" fill="#008080"/><circle cx="1001.5" cy="2128.1" r="5.6" fill="#008080"/><circle cx="1007.0" cy="2129.4" r="5.6" fill="#008080"/><circle cx="1017.4" cy="2111.6" r="5.6" fill="#008080"/><circle cx="1017.9" cy="2209.1" r="5.6" fill="#008080"/><circle cx="1039.4" cy="2116.7" r="5.6" fill="#008080"/><circle cx="1050.3" cy="2123.0" r="5.6" fill="#008080"/><circle cx="1039.4" cy="2178.7" r="5.6" fill="#008080"/><circle cx="1069.3" cy="2139.0" r="5.6" fill="#008080"/><circle cx="1096.6" cy="2205.8" r="5.6" fill="#008080"/><circle cx="1097.6" cy="2213.6" r="5.6" fill="#008080"/><circle cx="1085.0" cy="2226.3" r="5.6" fill="#008080"/><circle cx="1106.5" cy="2228.1" r="5.6" fill="#008080"/><circle cx="1095.1" cy="2240.0" r="5.6" fill="#008080"/><circle cx="1146.8" cy="2268.2" r="5.6" fill="#008080"/><circle cx="1180.2" cy="2306.0" r="5.6" fill="#008080"/><circle cx="1194.8" cy="2332.3" r="5.6" fill="#008080"/><circle cx="1199.1" cy="2371.0" r="5.6" fill="#008080"/><circle cx="1196.5" cy="2376.9" r="5.6" fill="#008080"/><circle cx="1201.0" cy="2381.5" r="5.6" fill="#008080"/><circle cx="1209.5" cy="2373.0" r="5.6" fill="#008080"/><circle cx="1212.1" cy="2378.9" r="5.6" fill="#008080"/><circle cx="1210.2" cy="2382.8" r="5.6" fill="#008080"/><path d="M786.7,2046.7V2412.5H1241.2" stroke="#000" stroke-width="1.8" fill="none"/><path d="M786.8,2412.5v5.5M840.3,2412.5v5.5M893.7,2412.5v5.5M947.2,2412.5v5.5M1000.7,2412.5v5.5M1054.2,2412.5v5.5M1107.7,2412.5v5.5M1161.1,2412.5v5.5M1214.6,2412.5v5.5M813.5,2412.5v3M867.0,2412.5v3M920.5,2412.5v3M974.0,2412.5v3M1027.4,2412.5v3M1080.9,2412.5v3M1134.4,2412.5v3M1187.9,2412.5v3M1241.4,2412.5v3M786.7,2412.5h-6M786.7,2366.8h-6M786.7,2321.1h-6M786.7,2275.4h-6M786.7,2229.6h-6M786.7,2183.9h-6M786.7,2138.2h-6M786.7,2092.5h-6M786.7,2046.7h-6M786.7,2389.7h-3.5M786.7,2343.9h-3.5M786.7,2298.2h-3.5M786.7,2252.5h-3.5M786.7,2206.8h-3.5M786.7,2161.0h-3.5M786.7,2115.3h-3.5M786.7,2069.6h-3.5" stroke="#000" stroke-width="1.4" fill="none"/><g font-family="Liberation Serif" font-size="16.5"><text x="786.8" y="2438.2" text-anchor="middle">-80</text><text x="840.3" y="2438.2" text-anchor="middle">-60</text><text x="893.7" y="2438.2" text-anchor="middle">-40</text><text x="947.2" y="2438.2" text-anchor="middle">-20</text><text x="1000.7" y="2438.2" text-anchor="middle">0</text><text x="1054.2" y="2438.2" text-anchor="middle">20</text><text x="1107.7" y="2438.2" text-anchor="middle">40</text><text x="1161.1" y="2438.2" text-anchor="middle">60</text><text x="1214.6" y="2438.2" text-anchor="middle">80</text><text x="773.7" y="2418.1" text-anchor="end">-5</text><text x="773.7" y="2372.4" text-anchor="end">0</text><text x="773.7" y="2326.7" text-anchor="end">5</text><text x="773.7" y="2281.0" text-anchor="end">10</text><text x="773.7" y="2235.2" text-anchor="end">15</text><text x="773.7" y="2189.5" text-anchor="end">20</text><text x="773.7" y="2143.8" text-anchor="end">25</text><text x="773.7" y="2098.1" text-anchor="end">30</text><text x="773.7" y="2052.3" text-anchor="end">35</text></g><text x="1020.7" y="2472" font-family="Liberation Serif" font-size="30.8" text-anchor="middle">Latitude</text><text transform="translate(737.5,2228) rotate(-90)" font-family="Liberation Serif" font-size="31.3" text-anchor="middle">Temperature</text><rect x="1117.3" y="2026.9" width="192" height="63.4" fill="#fff" stroke="#888" stroke-width="1"/><rect x="1142.2" y="2038.2" width="10.6" height="10.6" fill="#ecc46a"/><circle cx="1147.5" cy="2073.4" r="5.7" fill="#008080"/><text x="1183.3" y="2054.6" font-family="Liberation Serif" font-size="29">SF</text><text x="1230" y="2051" font-family="Liberation Serif" font-size="22.5">TEMP</text><text x="1181.3" y="2081.5" font-family="Liberation Serif" font-size="24.1">DCM TEMP</text><g font-family="Liberation Serif" font-size="33" fill="#000"><text x="0" y="1424">(D)</text><text x="706" y="1422">(E)</text><text x="2" y="2024">(F)</text><text x="701" y="2030" font-size="34.5">(G)</text></g><g font-family="Liberation Serif" font-size="33" fill="#000"><text x="0.5" y="32.5" font-size="33.5">(A)</text><text x="689.5" y="29" font-size="33.8">(B)</text><text x="11.8" y="378.3" font-size="34">(C)</text></g></svg></body></html>
